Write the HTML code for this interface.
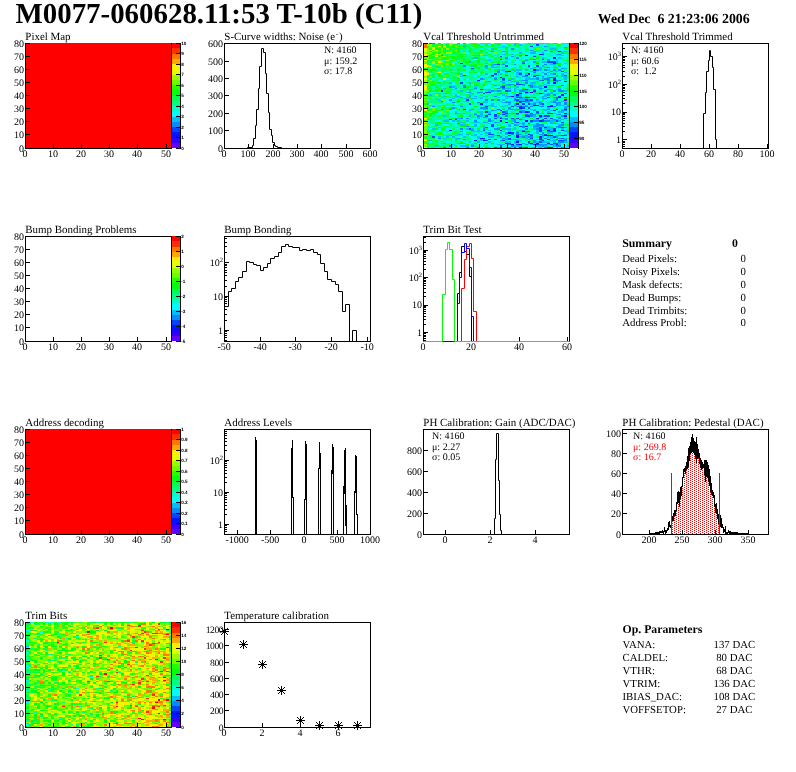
<!DOCTYPE html>
<html><head><meta charset="utf-8"><title>M0077 T-10b</title>
<style>html,body{margin:0;padding:0;background:#fff;width:796px;height:772px;overflow:hidden;}
svg{display:block;font-family:"Liberation Serif",serif;will-change:transform;text-rendering:geometricPrecision;}
</style></head><body>
<svg width="796" height="772" viewBox="0 0 796 772" font-family='"Liberation Serif", serif'>
<rect width="796" height="772" fill="#fff"/>
<text x="15.50" y="22.90" font-size="28.9" text-anchor="start" fill="#000" font-weight="bold">M0077-060628.11:53 T-10b (C11)</text>
<text x="597.80" y="22.80" font-size="13.85" text-anchor="start" fill="#000" font-weight="bold">Wed Dec&#160;&#160;6 21:23:06 2006</text>
<rect x="26" y="43" width="145" height="105" fill="#ff0000"/>
<rect x="172" y="142.75" width="8" height="5.25" fill="#6300ff" shape-rendering="crispEdges"/>
<rect x="172" y="137.50" width="8" height="5.25" fill="#3300ff" shape-rendering="crispEdges"/>
<rect x="172" y="132.25" width="8" height="5.25" fill="#0014ff" shape-rendering="crispEdges"/>
<rect x="172" y="127.00" width="8" height="5.25" fill="#0044ff" shape-rendering="crispEdges"/>
<rect x="172" y="121.75" width="8" height="5.25" fill="#008bff" shape-rendering="crispEdges"/>
<rect x="172" y="116.50" width="8" height="5.25" fill="#00bbff" shape-rendering="crispEdges"/>
<rect x="172" y="111.25" width="8" height="5.25" fill="#00fffc" shape-rendering="crispEdges"/>
<rect x="172" y="106.00" width="8" height="5.25" fill="#00ffcc" shape-rendering="crispEdges"/>
<rect x="172" y="100.75" width="8" height="5.25" fill="#00ff85" shape-rendering="crispEdges"/>
<rect x="172" y="95.50" width="8" height="5.25" fill="#00ff55" shape-rendering="crispEdges"/>
<rect x="172" y="90.25" width="8" height="5.25" fill="#00ff0e" shape-rendering="crispEdges"/>
<rect x="172" y="85.00" width="8" height="5.25" fill="#22ff00" shape-rendering="crispEdges"/>
<rect x="172" y="79.75" width="8" height="5.25" fill="#69ff00" shape-rendering="crispEdges"/>
<rect x="172" y="74.50" width="8" height="5.25" fill="#99ff00" shape-rendering="crispEdges"/>
<rect x="172" y="69.25" width="8" height="5.25" fill="#e0ff00" shape-rendering="crispEdges"/>
<rect x="172" y="64.00" width="8" height="5.25" fill="#ffee00" shape-rendering="crispEdges"/>
<rect x="172" y="58.75" width="8" height="5.25" fill="#ffa700" shape-rendering="crispEdges"/>
<rect x="172" y="53.50" width="8" height="5.25" fill="#ff7700" shape-rendering="crispEdges"/>
<rect x="172" y="48.25" width="8" height="5.25" fill="#ff3000" shape-rendering="crispEdges"/>
<rect x="172" y="43.00" width="8" height="5.25" fill="#ff0000" shape-rendering="crispEdges"/>
<rect x="180" y="43" width="1" height="106" fill="#000"/>
<rect x="176" y="148" width="4" height="1" fill="#000"/>
<text x="181.20" y="150.00" font-size="4.6" text-anchor="start" fill="#000" font-weight="bold" font-family="Liberation Sans, sans-serif">0</text>
<rect x="176" y="137" width="4" height="1" fill="#000"/>
<text x="181.20" y="139.00" font-size="4.6" text-anchor="start" fill="#000" font-weight="bold" font-family="Liberation Sans, sans-serif">1</text>
<rect x="176" y="127" width="4" height="1" fill="#000"/>
<text x="181.20" y="129.00" font-size="4.6" text-anchor="start" fill="#000" font-weight="bold" font-family="Liberation Sans, sans-serif">2</text>
<rect x="176" y="116" width="4" height="1" fill="#000"/>
<text x="181.20" y="118.00" font-size="4.6" text-anchor="start" fill="#000" font-weight="bold" font-family="Liberation Sans, sans-serif">3</text>
<rect x="176" y="106" width="4" height="1" fill="#000"/>
<text x="181.20" y="108.00" font-size="4.6" text-anchor="start" fill="#000" font-weight="bold" font-family="Liberation Sans, sans-serif">4</text>
<rect x="176" y="95" width="4" height="1" fill="#000"/>
<text x="181.20" y="97.00" font-size="4.6" text-anchor="start" fill="#000" font-weight="bold" font-family="Liberation Sans, sans-serif">5</text>
<rect x="176" y="85" width="4" height="1" fill="#000"/>
<text x="181.20" y="87.00" font-size="4.6" text-anchor="start" fill="#000" font-weight="bold" font-family="Liberation Sans, sans-serif">6</text>
<rect x="176" y="74" width="4" height="1" fill="#000"/>
<text x="181.20" y="76.00" font-size="4.6" text-anchor="start" fill="#000" font-weight="bold" font-family="Liberation Sans, sans-serif">7</text>
<rect x="176" y="64" width="4" height="1" fill="#000"/>
<text x="181.20" y="66.00" font-size="4.6" text-anchor="start" fill="#000" font-weight="bold" font-family="Liberation Sans, sans-serif">8</text>
<rect x="176" y="53" width="4" height="1" fill="#000"/>
<text x="181.20" y="55.00" font-size="4.6" text-anchor="start" fill="#000" font-weight="bold" font-family="Liberation Sans, sans-serif">9</text>
<rect x="176" y="43" width="4" height="1" fill="#000"/>
<text x="181.20" y="45.00" font-size="4.6" text-anchor="start" fill="#000" font-weight="bold" font-family="Liberation Sans, sans-serif">10</text>
<rect x="25" y="43" width="1" height="106" fill="#000"/>
<rect x="25" y="148" width="147" height="1" fill="#000"/>
<rect x="171" y="43" width="1" height="106" fill="#000"/>
<rect x="25" y="144" width="1" height="4" fill="#000"/>
<text x="25.10" y="156.80" font-size="10" text-anchor="middle" fill="#000">0</text>
<rect x="53" y="144" width="1" height="4" fill="#000"/>
<text x="53.10" y="156.80" font-size="10" text-anchor="middle" fill="#000">10</text>
<rect x="81" y="144" width="1" height="4" fill="#000"/>
<text x="81.10" y="156.80" font-size="10" text-anchor="middle" fill="#000">20</text>
<rect x="109" y="144" width="1" height="4" fill="#000"/>
<text x="109.10" y="156.80" font-size="10" text-anchor="middle" fill="#000">30</text>
<rect x="137" y="144" width="1" height="4" fill="#000"/>
<text x="137.10" y="156.80" font-size="10" text-anchor="middle" fill="#000">40</text>
<rect x="166" y="144" width="1" height="4" fill="#000"/>
<text x="166.10" y="156.80" font-size="10" text-anchor="middle" fill="#000">50</text>
<rect x="26" y="148" width="4" height="1" fill="#000"/>
<text x="24.00" y="151.80" font-size="10" text-anchor="end" fill="#000">0</text>
<rect x="26" y="134" width="4" height="1" fill="#000"/>
<text x="24.00" y="137.80" font-size="10" text-anchor="end" fill="#000">10</text>
<rect x="26" y="121" width="4" height="1" fill="#000"/>
<text x="24.00" y="124.80" font-size="10" text-anchor="end" fill="#000">20</text>
<rect x="26" y="108" width="4" height="1" fill="#000"/>
<text x="24.00" y="111.80" font-size="10" text-anchor="end" fill="#000">30</text>
<rect x="26" y="95" width="4" height="1" fill="#000"/>
<text x="24.00" y="98.80" font-size="10" text-anchor="end" fill="#000">40</text>
<rect x="26" y="82" width="4" height="1" fill="#000"/>
<text x="24.00" y="85.80" font-size="10" text-anchor="end" fill="#000">50</text>
<rect x="26" y="69" width="4" height="1" fill="#000"/>
<text x="24.00" y="72.80" font-size="10" text-anchor="end" fill="#000">60</text>
<rect x="26" y="56" width="4" height="1" fill="#000"/>
<text x="24.00" y="59.80" font-size="10" text-anchor="end" fill="#000">70</text>
<rect x="26" y="43" width="4" height="1" fill="#000"/>
<text x="24.00" y="46.80" font-size="10" text-anchor="end" fill="#000">80</text>
<text x="25.30" y="39.70" font-size="10.95" text-anchor="start" fill="#000">Pixel Map</text>
<rect x="224" y="43" width="147" height="1" fill="#000"/>
<rect x="224" y="148" width="147" height="1" fill="#000"/>
<rect x="224" y="43" width="1" height="106" fill="#000"/>
<rect x="370" y="43" width="1" height="106" fill="#000"/>
<path d="M224.50,148.50 L247.50,148.50 L247.50,147.50 L252.50,147.50 L252.50,145.50 L253.50,145.50 L253.50,138.50 L255.50,138.50 L255.50,125.50 L256.50,125.50 L256.50,109.50 L258.50,109.50 L258.50,88.50 L259.50,88.50 L259.50,66.50 L261.50,66.50 L261.50,48.50 L263.50,48.50 L263.50,52.50 L265.50,52.50 L265.50,73.50 L266.50,73.50 L266.50,93.50 L268.50,93.50 L268.50,112.50 L269.50,112.50 L269.50,129.50 L271.50,129.50 L271.50,135.50 L272.50,135.50 L272.50,142.50 L274.50,142.50 L274.50,145.50 L275.50,145.50 L275.50,146.50 L277.50,146.50 L277.50,147.50 L281.50,147.50 L281.50,148.50 L370.50,148.50" fill="none" stroke="#000" stroke-width="1"/>
<rect x="224" y="144" width="1" height="4" fill="#000"/>
<text x="224.10" y="156.80" font-size="10" text-anchor="middle" fill="#000">0</text>
<rect x="248" y="144" width="1" height="4" fill="#000"/>
<text x="248.10" y="156.80" font-size="10" text-anchor="middle" fill="#000">100</text>
<rect x="273" y="144" width="1" height="4" fill="#000"/>
<text x="273.10" y="156.80" font-size="10" text-anchor="middle" fill="#000">200</text>
<rect x="297" y="144" width="1" height="4" fill="#000"/>
<text x="297.10" y="156.80" font-size="10" text-anchor="middle" fill="#000">300</text>
<rect x="321" y="144" width="1" height="4" fill="#000"/>
<text x="321.10" y="156.80" font-size="10" text-anchor="middle" fill="#000">400</text>
<rect x="346" y="144" width="1" height="4" fill="#000"/>
<text x="346.10" y="156.80" font-size="10" text-anchor="middle" fill="#000">500</text>
<rect x="370" y="144" width="1" height="4" fill="#000"/>
<text x="370.10" y="156.80" font-size="10" text-anchor="middle" fill="#000">600</text>
<rect x="225" y="148" width="4" height="1" fill="#000"/>
<text x="223.00" y="151.80" font-size="10" text-anchor="end" fill="#000">0</text>
<rect x="225" y="130" width="4" height="1" fill="#000"/>
<text x="223.00" y="133.80" font-size="10" text-anchor="end" fill="#000">100</text>
<rect x="225" y="113" width="4" height="1" fill="#000"/>
<text x="223.00" y="116.80" font-size="10" text-anchor="end" fill="#000">200</text>
<rect x="225" y="95" width="4" height="1" fill="#000"/>
<text x="223.00" y="98.80" font-size="10" text-anchor="end" fill="#000">300</text>
<rect x="225" y="78" width="4" height="1" fill="#000"/>
<text x="223.00" y="81.80" font-size="10" text-anchor="end" fill="#000">400</text>
<rect x="225" y="61" width="4" height="1" fill="#000"/>
<text x="223.00" y="64.80" font-size="10" text-anchor="end" fill="#000">500</text>
<rect x="225" y="43" width="4" height="1" fill="#000"/>
<text x="223.00" y="46.80" font-size="10" text-anchor="end" fill="#000">600</text>
<text x="224.30" y="39.70" font-size="10.95" text-anchor="start" fill="#000">S-Curve widths: Noise (e<tspan dy="-4.2" dx="0.6" font-size="7">-</tspan><tspan dy="4.2" dx="0.8">)</tspan></text>
<text x="324.10" y="53.00" font-size="10" text-anchor="start" fill="#000">N: 4160</text>
<text x="324.10" y="64.00" font-size="10" text-anchor="start" fill="#000">&#956;: 159.2</text>
<text x="324.10" y="74.00" font-size="10" text-anchor="start" fill="#000">&#963;: 17.8</text>
<path fill="#ffee00" shape-rendering="crispEdges" d="M423.6 146.69H426.5V148.00H423.6zM423.6 117.81H426.5V119.12H423.6zM423.6 109.94H426.5V111.25H423.6zM423.6 108.62H426.5V109.94H423.6zM423.6 87.62H426.5V88.94H423.6zM423.6 86.31H426.5V87.62H423.6zM443.3 78.44H446.1V79.75H443.3zM423.6 73.19H429.3V74.50H423.6zM423.6 71.88H426.5V73.19H423.6zM423.6 64.00H426.5V65.31H423.6zM437.7 61.38H440.5V62.69H437.7zM423.6 60.06H426.5V61.38H423.6zM423.6 53.50H426.5V54.81H423.6zM423.6 50.88H426.5V52.19H423.6zM432.1 50.88H434.9V52.19H432.1zM423.6 48.25H426.5V49.56H423.6zM443.3 45.62H446.1V46.94H443.3zM434.9 43.00H437.7V44.31H434.9zM451.7 43.00H454.5V44.31H451.7zM465.8 43.00H468.6V44.31H465.8z"/>
<path fill="#00ff85" shape-rendering="crispEdges" d="M426.5 146.69H432.1V148.00H426.5zM437.7 146.69H443.3V148.00H437.7zM448.9 146.69H451.7V148.00H448.9zM457.3 146.69H460.1V148.00H457.3zM502.3 146.69H505.1V148.00H502.3zM510.7 146.69H513.5V148.00H510.7zM527.5 146.69H530.3V148.00H527.5zM566.8 146.69H569.6V148.00H566.8zM429.3 145.38H434.9V146.69H429.3zM440.5 145.38H443.3V146.69H440.5zM521.9 145.38H527.5V146.69H521.9zM426.5 144.06H429.3V145.38H426.5zM443.3 144.06H446.1V145.38H443.3zM448.9 144.06H451.7V145.38H448.9zM482.6 144.06H485.4V145.38H482.6zM491.0 144.06H493.8V145.38H491.0zM446.1 142.75H448.9V144.06H446.1zM454.5 142.75H457.3V144.06H454.5zM471.4 142.75H474.2V144.06H471.4zM479.8 142.75H482.6V144.06H479.8zM499.5 142.75H502.3V144.06H499.5zM516.3 142.75H519.1V144.06H516.3zM426.5 141.44H429.3V142.75H426.5zM432.1 141.44H434.9V142.75H432.1zM454.5 141.44H457.3V142.75H454.5zM474.2 141.44H477.0V142.75H474.2zM491.0 141.44H493.8V142.75H491.0zM499.5 141.44H505.1V142.75H499.5zM519.1 141.44H521.9V142.75H519.1zM530.3 141.44H533.1V142.75H530.3zM437.7 140.12H440.5V141.44H437.7zM443.3 140.12H446.1V141.44H443.3zM448.9 140.12H451.7V141.44H448.9zM457.3 140.12H460.1V141.44H457.3zM463.0 140.12H468.6V141.44H463.0zM477.0 140.12H479.8V141.44H477.0zM513.5 140.12H516.3V141.44H513.5zM555.6 140.12H558.4V141.44H555.6zM443.3 138.81H446.1V140.12H443.3zM448.9 138.81H451.7V140.12H448.9zM457.3 138.81H460.1V140.12H457.3zM468.6 138.81H471.4V140.12H468.6zM566.8 138.81H569.6V140.12H566.8zM446.1 137.50H448.9V138.81H446.1zM465.8 137.50H471.4V138.81H465.8zM519.1 137.50H524.7V138.81H519.1zM541.6 137.50H544.4V138.81H541.6zM555.6 137.50H558.4V138.81H555.6zM426.5 136.19H429.3V137.50H426.5zM440.5 136.19H443.3V137.50H440.5zM465.8 136.19H468.6V137.50H465.8zM513.5 136.19H516.3V137.50H513.5zM426.5 134.88H429.3V136.19H426.5zM432.1 134.88H434.9V136.19H432.1zM437.7 134.88H440.5V136.19H437.7zM451.7 134.88H454.5V136.19H451.7zM460.1 134.88H463.0V136.19H460.1zM465.8 134.88H468.6V136.19H465.8zM491.0 134.88H493.8V136.19H491.0zM502.3 134.88H505.1V136.19H502.3zM513.5 134.88H516.3V136.19H513.5zM536.0 134.88H538.8V136.19H536.0zM552.8 134.88H555.6V136.19H552.8zM446.1 133.56H457.3V134.88H446.1zM485.4 133.56H488.2V134.88H485.4zM440.5 132.25H443.3V133.56H440.5zM471.4 132.25H474.2V133.56H471.4zM477.0 132.25H479.8V133.56H477.0zM482.6 132.25H485.4V133.56H482.6zM519.1 132.25H524.7V133.56H519.1zM533.1 132.25H536.0V133.56H533.1zM451.7 130.94H454.5V132.25H451.7zM471.4 130.94H474.2V132.25H471.4zM499.5 130.94H502.3V132.25H499.5zM530.3 130.94H533.1V132.25H530.3zM443.3 129.62H446.1V130.94H443.3zM454.5 129.62H457.3V130.94H454.5zM468.6 129.62H471.4V130.94H468.6zM496.6 129.62H499.5V130.94H496.6zM502.3 129.62H505.1V130.94H502.3zM510.7 129.62H513.5V130.94H510.7zM516.3 129.62H519.1V130.94H516.3zM524.7 129.62H527.5V130.94H524.7zM544.4 129.62H547.2V130.94H544.4zM463.0 128.31H465.8V129.62H463.0zM530.3 128.31H533.1V129.62H530.3zM432.1 127.00H434.9V128.31H432.1zM440.5 127.00H443.3V128.31H440.5zM448.9 127.00H451.7V128.31H448.9zM457.3 127.00H460.1V128.31H457.3zM468.6 127.00H471.4V128.31H468.6zM477.0 127.00H479.8V128.31H477.0zM566.8 127.00H569.6V128.31H566.8zM426.5 125.69H429.3V127.00H426.5zM432.1 125.69H434.9V127.00H432.1zM440.5 125.69H443.3V127.00H440.5zM451.7 125.69H454.5V127.00H451.7zM468.6 125.69H471.4V127.00H468.6zM499.5 125.69H502.3V127.00H499.5zM516.3 125.69H519.1V127.00H516.3zM550.0 125.69H552.8V127.00H550.0zM561.2 125.69H564.0V127.00H561.2zM566.8 125.69H569.6V127.00H566.8zM479.8 124.38H485.4V125.69H479.8zM499.5 124.38H502.3V125.69H499.5zM530.3 124.38H533.1V125.69H530.3zM429.3 123.06H434.9V124.38H429.3zM451.7 123.06H454.5V124.38H451.7zM471.4 123.06H474.2V124.38H471.4zM485.4 123.06H488.2V124.38H485.4zM499.5 123.06H505.1V124.38H499.5zM564.0 123.06H566.8V124.38H564.0zM429.3 121.75H434.9V123.06H429.3zM443.3 121.75H446.1V123.06H443.3zM468.6 121.75H471.4V123.06H468.6zM502.3 121.75H505.1V123.06H502.3zM507.9 121.75H510.7V123.06H507.9zM429.3 120.44H434.9V121.75H429.3zM440.5 120.44H443.3V121.75H440.5zM454.5 120.44H457.3V121.75H454.5zM460.1 120.44H463.0V121.75H460.1zM482.6 120.44H488.2V121.75H482.6zM496.6 120.44H499.5V121.75H496.6zM502.3 120.44H505.1V121.75H502.3zM519.1 120.44H521.9V121.75H519.1zM566.8 120.44H569.6V121.75H566.8zM434.9 119.12H440.5V120.44H434.9zM457.3 119.12H460.1V120.44H457.3zM474.2 119.12H477.0V120.44H474.2zM502.3 119.12H505.1V120.44H502.3zM547.2 119.12H552.8V120.44H547.2zM558.4 119.12H561.2V120.44H558.4zM434.9 117.81H446.1V119.12H434.9zM448.9 117.81H451.7V119.12H448.9zM468.6 117.81H471.4V119.12H468.6zM496.6 117.81H499.5V119.12H496.6zM538.8 117.81H541.6V119.12H538.8zM566.8 117.81H569.6V119.12H566.8zM426.5 116.50H429.3V117.81H426.5zM437.7 116.50H440.5V117.81H437.7zM443.3 116.50H451.7V117.81H443.3zM457.3 116.50H460.1V117.81H457.3zM474.2 116.50H477.0V117.81H474.2zM493.8 116.50H496.6V117.81H493.8zM524.7 116.50H527.5V117.81H524.7zM541.6 116.50H544.4V117.81H541.6zM547.2 116.50H550.0V117.81H547.2zM561.2 116.50H564.0V117.81H561.2zM432.1 115.19H437.7V116.50H432.1zM465.8 115.19H468.6V116.50H465.8zM471.4 115.19H477.0V116.50H471.4zM482.6 115.19H485.4V116.50H482.6zM502.3 115.19H505.1V116.50H502.3zM507.9 115.19H510.7V116.50H507.9zM513.5 115.19H519.1V116.50H513.5zM550.0 115.19H552.8V116.50H550.0zM555.6 115.19H561.2V116.50H555.6zM440.5 113.88H446.1V115.19H440.5zM454.5 113.88H460.1V115.19H454.5zM485.4 113.88H488.2V115.19H485.4zM507.9 113.88H510.7V115.19H507.9zM513.5 113.88H516.3V115.19H513.5zM536.0 113.88H538.8V115.19H536.0zM550.0 113.88H552.8V115.19H550.0zM448.9 112.56H451.7V113.88H448.9zM465.8 112.56H471.4V113.88H465.8zM443.3 111.25H446.1V112.56H443.3zM468.6 111.25H471.4V112.56H468.6zM513.5 111.25H516.3V112.56H513.5zM457.3 109.94H463.0V111.25H457.3zM474.2 109.94H477.0V111.25H474.2zM426.5 108.62H429.3V109.94H426.5zM434.9 108.62H437.7V109.94H434.9zM443.3 108.62H446.1V109.94H443.3zM499.5 108.62H502.3V109.94H499.5zM524.7 108.62H527.5V109.94H524.7zM538.8 108.62H541.6V109.94H538.8zM566.8 108.62H569.6V109.94H566.8zM434.9 107.31H437.7V108.62H434.9zM460.1 107.31H463.0V108.62H460.1zM471.4 107.31H474.2V108.62H471.4zM502.3 107.31H505.1V108.62H502.3zM510.7 107.31H513.5V108.62H510.7zM555.6 107.31H558.4V108.62H555.6zM566.8 107.31H569.6V108.62H566.8zM463.0 106.00H465.8V107.31H463.0zM482.6 106.00H485.4V107.31H482.6zM488.2 106.00H491.0V107.31H488.2zM505.1 106.00H507.9V107.31H505.1zM513.5 106.00H516.3V107.31H513.5zM533.1 106.00H536.0V107.31H533.1zM432.1 104.69H437.7V106.00H432.1zM443.3 104.69H448.9V106.00H443.3zM454.5 104.69H457.3V106.00H454.5zM465.8 104.69H468.6V106.00H465.8zM482.6 104.69H485.4V106.00H482.6zM502.3 104.69H505.1V106.00H502.3zM507.9 104.69H513.5V106.00H507.9zM521.9 104.69H524.7V106.00H521.9zM448.9 103.38H454.5V104.69H448.9zM471.4 103.38H474.2V104.69H471.4zM519.1 103.38H521.9V104.69H519.1zM547.2 103.38H550.0V104.69H547.2zM429.3 102.06H434.9V103.38H429.3zM457.3 102.06H460.1V103.38H457.3zM465.8 102.06H468.6V103.38H465.8zM479.8 102.06H482.6V103.38H479.8zM547.2 102.06H550.0V103.38H547.2zM566.8 102.06H569.6V103.38H566.8zM426.5 100.75H429.3V102.06H426.5zM451.7 100.75H457.3V102.06H451.7zM460.1 100.75H463.0V102.06H460.1zM485.4 100.75H488.2V102.06H485.4zM510.7 100.75H516.3V102.06H510.7zM536.0 100.75H538.8V102.06H536.0zM547.2 100.75H550.0V102.06H547.2zM558.4 100.75H561.2V102.06H558.4zM429.3 99.44H434.9V100.75H429.3zM454.5 99.44H457.3V100.75H454.5zM460.1 99.44H463.0V100.75H460.1zM468.6 99.44H474.2V100.75H468.6zM566.8 99.44H569.6V100.75H566.8zM426.5 98.12H429.3V99.44H426.5zM457.3 98.12H463.0V99.44H457.3zM485.4 98.12H491.0V99.44H485.4zM527.5 98.12H530.3V99.44H527.5zM533.1 98.12H538.8V99.44H533.1zM552.8 98.12H555.6V99.44H552.8zM566.8 98.12H569.6V99.44H566.8zM443.3 96.81H448.9V98.12H443.3zM505.1 96.81H510.7V98.12H505.1zM561.2 96.81H564.0V98.12H561.2zM440.5 95.50H443.3V96.81H440.5zM491.0 95.50H493.8V96.81H491.0zM530.3 95.50H533.1V96.81H530.3zM432.1 94.19H434.9V95.50H432.1zM443.3 94.19H446.1V95.50H443.3zM448.9 94.19H451.7V95.50H448.9zM460.1 94.19H465.8V95.50H460.1zM488.2 94.19H496.6V95.50H488.2zM533.1 94.19H538.8V95.50H533.1zM550.0 94.19H552.8V95.50H550.0zM426.5 92.88H429.3V94.19H426.5zM454.5 92.88H457.3V94.19H454.5zM460.1 92.88H463.0V94.19H460.1zM493.8 92.88H496.6V94.19H493.8zM502.3 92.88H505.1V94.19H502.3zM513.5 92.88H516.3V94.19H513.5zM527.5 92.88H530.3V94.19H527.5zM533.1 92.88H536.0V94.19H533.1zM552.8 92.88H555.6V94.19H552.8zM558.4 92.88H561.2V94.19H558.4zM448.9 91.56H451.7V92.88H448.9zM460.1 91.56H463.0V92.88H460.1zM499.5 91.56H502.3V92.88H499.5zM505.1 91.56H507.9V92.88H505.1zM516.3 91.56H519.1V92.88H516.3zM536.0 91.56H538.8V92.88H536.0zM558.4 91.56H561.2V92.88H558.4zM454.5 90.25H460.1V91.56H454.5zM471.4 90.25H474.2V91.56H471.4zM479.8 90.25H482.6V91.56H479.8zM485.4 90.25H488.2V91.56H485.4zM538.8 90.25H541.6V91.56H538.8zM426.5 88.94H432.1V90.25H426.5zM463.0 88.94H465.8V90.25H463.0zM474.2 88.94H477.0V90.25H474.2zM493.8 88.94H496.6V90.25H493.8zM505.1 88.94H507.9V90.25H505.1zM519.1 88.94H521.9V90.25H519.1zM530.3 88.94H533.1V90.25H530.3zM544.4 88.94H547.2V90.25H544.4zM432.1 87.62H437.7V88.94H432.1zM440.5 87.62H443.3V88.94H440.5zM448.9 87.62H451.7V88.94H448.9zM471.4 87.62H474.2V88.94H471.4zM479.8 87.62H482.6V88.94H479.8zM564.0 87.62H566.8V88.94H564.0zM437.7 86.31H440.5V87.62H437.7zM446.1 86.31H448.9V87.62H446.1zM457.3 86.31H460.1V87.62H457.3zM471.4 86.31H474.2V87.62H471.4zM477.0 86.31H479.8V87.62H477.0zM491.0 86.31H493.8V87.62H491.0zM505.1 86.31H507.9V87.62H505.1zM510.7 86.31H513.5V87.62H510.7zM547.2 86.31H552.8V87.62H547.2zM555.6 86.31H558.4V87.62H555.6zM426.5 85.00H432.1V86.31H426.5zM434.9 85.00H437.7V86.31H434.9zM448.9 85.00H454.5V86.31H448.9zM457.3 85.00H463.0V86.31H457.3zM465.8 85.00H468.6V86.31H465.8zM510.7 85.00H513.5V86.31H510.7zM566.8 85.00H569.6V86.31H566.8zM434.9 83.69H437.7V85.00H434.9zM443.3 83.69H446.1V85.00H443.3zM479.8 83.69H482.6V85.00H479.8zM485.4 83.69H488.2V85.00H485.4zM513.5 83.69H516.3V85.00H513.5zM533.1 83.69H536.0V85.00H533.1zM538.8 83.69H544.4V85.00H538.8zM440.5 82.38H443.3V83.69H440.5zM457.3 82.38H460.1V83.69H457.3zM465.8 82.38H468.6V83.69H465.8zM482.6 82.38H485.4V83.69H482.6zM488.2 82.38H491.0V83.69H488.2zM519.1 82.38H524.7V83.69H519.1zM536.0 82.38H538.8V83.69H536.0zM426.5 81.06H429.3V82.38H426.5zM454.5 81.06H457.3V82.38H454.5zM460.1 81.06H463.0V82.38H460.1zM465.8 81.06H468.6V82.38H465.8zM502.3 81.06H507.9V82.38H502.3zM527.5 81.06H530.3V82.38H527.5zM550.0 81.06H552.8V82.38H550.0zM566.8 81.06H569.6V82.38H566.8zM432.1 79.75H434.9V81.06H432.1zM446.1 79.75H451.7V81.06H446.1zM463.0 79.75H465.8V81.06H463.0zM468.6 79.75H474.2V81.06H468.6zM516.3 79.75H519.1V81.06H516.3zM544.4 79.75H547.2V81.06H544.4zM434.9 78.44H440.5V79.75H434.9zM448.9 78.44H451.7V79.75H448.9zM454.5 78.44H457.3V79.75H454.5zM471.4 78.44H477.0V79.75H471.4zM485.4 78.44H488.2V79.75H485.4zM491.0 78.44H493.8V79.75H491.0zM496.6 78.44H502.3V79.75H496.6zM513.5 78.44H516.3V79.75H513.5zM519.1 78.44H521.9V79.75H519.1zM538.8 78.44H541.6V79.75H538.8zM561.2 78.44H564.0V79.75H561.2zM434.9 77.12H437.7V78.44H434.9zM440.5 77.12H443.3V78.44H440.5zM474.2 77.12H477.0V78.44H474.2zM479.8 77.12H482.6V78.44H479.8zM485.4 77.12H488.2V78.44H485.4zM502.3 77.12H507.9V78.44H502.3zM443.3 75.81H446.1V77.12H443.3zM454.5 75.81H457.3V77.12H454.5zM463.0 75.81H468.6V77.12H463.0zM482.6 75.81H485.4V77.12H482.6zM488.2 75.81H491.0V77.12H488.2zM507.9 75.81H510.7V77.12H507.9zM527.5 75.81H530.3V77.12H527.5zM552.8 75.81H555.6V77.12H552.8zM558.4 75.81H561.2V77.12H558.4zM460.1 74.50H463.0V75.81H460.1zM465.8 74.50H468.6V75.81H465.8zM471.4 74.50H477.0V75.81H471.4zM482.6 74.50H485.4V75.81H482.6zM488.2 74.50H491.0V75.81H488.2zM507.9 74.50H510.7V75.81H507.9zM516.3 74.50H519.1V75.81H516.3zM521.9 74.50H524.7V75.81H521.9zM566.8 74.50H569.6V75.81H566.8zM434.9 73.19H437.7V74.50H434.9zM451.7 73.19H454.5V74.50H451.7zM468.6 73.19H471.4V74.50H468.6zM479.8 73.19H482.6V74.50H479.8zM496.6 73.19H499.5V74.50H496.6zM502.3 73.19H505.1V74.50H502.3zM538.8 73.19H541.6V74.50H538.8zM555.6 73.19H558.4V74.50H555.6zM566.8 73.19H569.6V74.50H566.8zM432.1 71.88H434.9V73.19H432.1zM440.5 71.88H443.3V73.19H440.5zM454.5 71.88H457.3V73.19H454.5zM482.6 71.88H491.0V73.19H482.6zM552.8 71.88H555.6V73.19H552.8zM457.3 70.56H460.1V71.88H457.3zM468.6 70.56H471.4V71.88H468.6zM474.2 70.56H479.8V71.88H474.2zM485.4 70.56H488.2V71.88H485.4zM491.0 70.56H493.8V71.88H491.0zM516.3 70.56H519.1V71.88H516.3zM536.0 70.56H538.8V71.88H536.0zM552.8 70.56H555.6V71.88H552.8zM426.5 69.25H429.3V70.56H426.5zM437.7 69.25H440.5V70.56H437.7zM446.1 69.25H448.9V70.56H446.1zM460.1 69.25H463.0V70.56H460.1zM468.6 69.25H471.4V70.56H468.6zM474.2 69.25H482.6V70.56H474.2zM488.2 69.25H491.0V70.56H488.2zM499.5 69.25H502.3V70.56H499.5zM505.1 69.25H507.9V70.56H505.1zM527.5 69.25H530.3V70.56H527.5zM561.2 69.25H564.0V70.56H561.2zM426.5 67.94H429.3V69.25H426.5zM440.5 67.94H443.3V69.25H440.5zM448.9 67.94H451.7V69.25H448.9zM463.0 67.94H465.8V69.25H463.0zM468.6 67.94H471.4V69.25H468.6zM474.2 67.94H477.0V69.25H474.2zM479.8 67.94H482.6V69.25H479.8zM519.1 67.94H527.5V69.25H519.1zM541.6 67.94H544.4V69.25H541.6zM440.5 66.62H446.1V67.94H440.5zM454.5 66.62H460.1V67.94H454.5zM463.0 66.62H465.8V67.94H463.0zM446.1 65.31H448.9V66.62H446.1zM451.7 65.31H457.3V66.62H451.7zM460.1 65.31H463.0V66.62H460.1zM479.8 65.31H485.4V66.62H479.8zM544.4 65.31H547.2V66.62H544.4zM454.5 64.00H457.3V65.31H454.5zM460.1 64.00H465.8V65.31H460.1zM482.6 64.00H485.4V65.31H482.6zM533.1 64.00H538.8V65.31H533.1zM555.6 64.00H558.4V65.31H555.6zM566.8 64.00H569.6V65.31H566.8zM443.3 62.69H446.1V64.00H443.3zM457.3 62.69H460.1V64.00H457.3zM479.8 62.69H485.4V64.00H479.8zM491.0 62.69H493.8V64.00H491.0zM505.1 62.69H507.9V64.00H505.1zM527.5 62.69H530.3V64.00H527.5zM533.1 62.69H536.0V64.00H533.1zM479.8 61.38H488.2V62.69H479.8zM499.5 61.38H502.3V62.69H499.5zM474.2 60.06H477.0V61.38H474.2zM482.6 60.06H485.4V61.38H482.6zM493.8 60.06H496.6V61.38H493.8zM505.1 60.06H507.9V61.38H505.1zM510.7 60.06H516.3V61.38H510.7zM519.1 60.06H521.9V61.38H519.1zM527.5 60.06H530.3V61.38H527.5zM566.8 60.06H569.6V61.38H566.8zM460.1 58.75H463.0V60.06H460.1zM465.8 58.75H468.6V60.06H465.8zM485.4 58.75H488.2V60.06H485.4zM491.0 58.75H493.8V60.06H491.0zM502.3 58.75H505.1V60.06H502.3zM513.5 58.75H516.3V60.06H513.5zM519.1 58.75H521.9V60.06H519.1zM536.0 58.75H538.8V60.06H536.0zM561.2 58.75H564.0V60.06H561.2zM448.9 57.44H451.7V58.75H448.9zM465.8 57.44H471.4V58.75H465.8zM482.6 57.44H485.4V58.75H482.6zM502.3 57.44H505.1V58.75H502.3zM513.5 57.44H516.3V58.75H513.5zM544.4 57.44H547.2V58.75H544.4zM561.2 57.44H564.0V58.75H561.2zM566.8 57.44H569.6V58.75H566.8zM465.8 56.12H471.4V57.44H465.8zM488.2 56.12H491.0V57.44H488.2zM496.6 56.12H499.5V57.44H496.6zM505.1 56.12H507.9V57.44H505.1zM513.5 56.12H516.3V57.44H513.5zM538.8 56.12H541.6V57.44H538.8zM566.8 56.12H569.6V57.44H566.8zM443.3 54.81H446.1V56.12H443.3zM460.1 54.81H463.0V56.12H460.1zM491.0 54.81H493.8V56.12H491.0zM496.6 54.81H499.5V56.12H496.6zM507.9 54.81H510.7V56.12H507.9zM516.3 54.81H519.1V56.12H516.3zM541.6 54.81H544.4V56.12H541.6zM558.4 54.81H561.2V56.12H558.4zM566.8 54.81H569.6V56.12H566.8zM443.3 53.50H446.1V54.81H443.3zM451.7 53.50H457.3V54.81H451.7zM477.0 53.50H479.8V54.81H477.0zM519.1 53.50H521.9V54.81H519.1zM547.2 53.50H550.0V54.81H547.2zM566.8 53.50H569.6V54.81H566.8zM454.5 52.19H457.3V53.50H454.5zM460.1 52.19H463.0V53.50H460.1zM468.6 52.19H471.4V53.50H468.6zM499.5 52.19H502.3V53.50H499.5zM550.0 52.19H555.6V53.50H550.0zM558.4 52.19H561.2V53.50H558.4zM437.7 50.88H440.5V52.19H437.7zM460.1 50.88H463.0V52.19H460.1zM471.4 50.88H477.0V52.19H471.4zM485.4 50.88H488.2V52.19H485.4zM510.7 50.88H513.5V52.19H510.7zM538.8 50.88H544.4V52.19H538.8zM463.0 49.56H465.8V50.88H463.0zM477.0 49.56H479.8V50.88H477.0zM496.6 49.56H499.5V50.88H496.6zM510.7 49.56H519.1V50.88H510.7zM524.7 49.56H530.3V50.88H524.7zM533.1 49.56H536.0V50.88H533.1zM538.8 49.56H541.6V50.88H538.8zM547.2 49.56H552.8V50.88H547.2zM465.8 48.25H468.6V49.56H465.8zM471.4 48.25H479.8V49.56H471.4zM482.6 48.25H488.2V49.56H482.6zM513.5 48.25H516.3V49.56H513.5zM519.1 48.25H521.9V49.56H519.1zM527.5 48.25H530.3V49.56H527.5zM547.2 48.25H550.0V49.56H547.2zM434.9 46.94H440.5V48.25H434.9zM468.6 46.94H471.4V48.25H468.6zM479.8 46.94H482.6V48.25H479.8zM507.9 46.94H510.7V48.25H507.9zM519.1 46.94H521.9V48.25H519.1zM544.4 46.94H547.2V48.25H544.4zM477.0 45.62H479.8V46.94H477.0zM482.6 45.62H488.2V46.94H482.6zM493.8 45.62H499.5V46.94H493.8zM505.1 45.62H507.9V46.94H505.1zM510.7 45.62H513.5V46.94H510.7zM521.9 45.62H527.5V46.94H521.9zM538.8 45.62H541.6V46.94H538.8zM555.6 45.62H561.2V46.94H555.6zM566.8 45.62H569.6V46.94H566.8zM465.8 44.31H471.4V45.62H465.8zM493.8 44.31H496.6V45.62H493.8zM524.7 44.31H533.1V45.62H524.7zM547.2 44.31H552.8V45.62H547.2zM479.8 43.00H482.6V44.31H479.8zM485.4 43.00H488.2V44.31H485.4zM536.0 43.00H538.8V44.31H536.0zM555.6 43.00H558.4V44.31H555.6zM561.2 43.00H564.0V44.31H561.2z"/>
<path fill="#00ff55" shape-rendering="crispEdges" d="M432.1 146.69H434.9V148.00H432.1zM446.1 146.69H448.9V148.00H446.1zM479.8 146.69H482.6V148.00H479.8zM530.3 146.69H533.1V148.00H530.3zM555.6 146.69H558.4V148.00H555.6zM564.0 146.69H566.8V148.00H564.0zM426.5 145.38H429.3V146.69H426.5zM437.7 145.38H440.5V146.69H437.7zM474.2 145.38H477.0V146.69H474.2zM482.6 145.38H488.2V146.69H482.6zM547.2 145.38H550.0V146.69H547.2zM432.1 144.06H434.9V145.38H432.1zM446.1 144.06H448.9V145.38H446.1zM423.6 142.75H426.5V144.06H423.6zM437.7 142.75H440.5V144.06H437.7zM448.9 142.75H451.7V144.06H448.9zM533.1 142.75H536.0V144.06H533.1zM566.8 142.75H569.6V144.06H566.8zM434.9 141.44H437.7V142.75H434.9zM440.5 141.44H443.3V142.75H440.5zM566.8 141.44H569.6V142.75H566.8zM432.1 140.12H434.9V141.44H432.1zM524.7 140.12H527.5V141.44H524.7zM530.3 140.12H533.1V141.44H530.3zM426.5 138.81H429.3V140.12H426.5zM446.1 138.81H448.9V140.12H446.1zM465.8 138.81H468.6V140.12H465.8zM502.3 138.81H505.1V140.12H502.3zM524.7 138.81H527.5V140.12H524.7zM533.1 138.81H536.0V140.12H533.1zM429.3 137.50H434.9V138.81H429.3zM440.5 137.50H443.3V138.81H440.5zM460.1 137.50H463.0V138.81H460.1zM566.8 137.50H569.6V138.81H566.8zM429.3 136.19H432.1V137.50H429.3zM536.0 136.19H538.8V137.50H536.0zM429.3 134.88H432.1V136.19H429.3zM443.3 134.88H446.1V136.19H443.3zM457.3 134.88H460.1V136.19H457.3zM434.9 133.56H437.7V134.88H434.9zM468.6 133.56H471.4V134.88H468.6zM566.8 133.56H569.6V134.88H566.8zM434.9 132.25H437.7V133.56H434.9zM454.5 132.25H460.1V133.56H454.5zM465.8 132.25H468.6V133.56H465.8zM496.6 132.25H499.5V133.56H496.6zM527.5 132.25H530.3V133.56H527.5zM432.1 130.94H434.9V132.25H432.1zM465.8 130.94H468.6V132.25H465.8zM507.9 130.94H510.7V132.25H507.9zM519.1 130.94H521.9V132.25H519.1zM429.3 129.62H434.9V130.94H429.3zM457.3 129.62H460.1V130.94H457.3zM527.5 129.62H530.3V130.94H527.5zM443.3 128.31H446.1V129.62H443.3zM451.7 128.31H454.5V129.62H451.7zM499.5 128.31H502.3V129.62H499.5zM510.7 128.31H513.5V129.62H510.7zM566.8 128.31H569.6V129.62H566.8zM454.5 127.00H457.3V128.31H454.5zM446.1 125.69H448.9V127.00H446.1zM479.8 125.69H482.6V127.00H479.8zM437.7 124.38H440.5V125.69H437.7zM448.9 124.38H451.7V125.69H448.9zM457.3 124.38H460.1V125.69H457.3zM496.6 124.38H499.5V125.69H496.6zM527.5 124.38H530.3V125.69H527.5zM564.0 124.38H566.8V125.69H564.0zM448.9 123.06H451.7V124.38H448.9zM479.8 123.06H482.6V124.38H479.8zM446.1 121.75H448.9V123.06H446.1zM457.3 121.75H460.1V123.06H457.3zM463.0 121.75H465.8V123.06H463.0zM471.4 121.75H474.2V123.06H471.4zM541.6 121.75H547.2V123.06H541.6zM463.0 120.44H465.8V121.75H463.0zM507.9 120.44H510.7V121.75H507.9zM468.6 119.12H471.4V120.44H468.6zM429.3 117.81H432.1V119.12H429.3zM513.5 117.81H516.3V119.12H513.5zM519.1 117.81H521.9V119.12H519.1zM432.1 116.50H434.9V117.81H432.1zM460.1 116.50H463.0V117.81H460.1zM471.4 116.50H474.2V117.81H471.4zM533.1 116.50H536.0V117.81H533.1zM437.7 115.19H443.3V116.50H437.7zM446.1 115.19H448.9V116.50H446.1zM457.3 115.19H460.1V116.50H457.3zM432.1 113.88H434.9V115.19H432.1zM446.1 113.88H448.9V115.19H446.1zM460.1 113.88H463.0V115.19H460.1zM471.4 113.88H474.2V115.19H471.4zM496.6 113.88H499.5V115.19H496.6zM510.7 113.88H513.5V115.19H510.7zM521.9 113.88H524.7V115.19H521.9zM426.5 112.56H429.3V113.88H426.5zM460.1 112.56H463.0V113.88H460.1zM446.1 111.25H448.9V112.56H446.1zM465.8 111.25H468.6V112.56H465.8zM482.6 111.25H485.4V112.56H482.6zM510.7 111.25H513.5V112.56H510.7zM541.6 111.25H544.4V112.56H541.6zM440.5 109.94H443.3V111.25H440.5zM463.0 109.94H465.8V111.25H463.0zM485.4 109.94H488.2V111.25H485.4zM516.3 109.94H519.1V111.25H516.3zM541.6 109.94H544.4V111.25H541.6zM446.1 108.62H448.9V109.94H446.1zM468.6 108.62H471.4V109.94H468.6zM477.0 108.62H479.8V109.94H477.0zM443.3 107.31H448.9V108.62H443.3zM463.0 107.31H465.8V108.62H463.0zM437.7 106.00H440.5V107.31H437.7zM499.5 106.00H502.3V107.31H499.5zM437.7 104.69H443.3V106.00H437.7zM460.1 104.69H463.0V106.00H460.1zM485.4 104.69H488.2V106.00H485.4zM446.1 103.38H448.9V104.69H446.1zM460.1 103.38H463.0V104.69H460.1zM477.0 103.38H479.8V104.69H477.0zM426.5 102.06H429.3V103.38H426.5zM434.9 102.06H443.3V103.38H434.9zM454.5 102.06H457.3V103.38H454.5zM516.3 102.06H519.1V103.38H516.3zM429.3 100.75H432.1V102.06H429.3zM437.7 100.75H440.5V102.06H437.7zM564.0 100.75H566.8V102.06H564.0zM434.9 99.44H437.7V100.75H434.9zM493.8 99.44H496.6V100.75H493.8zM443.3 98.12H446.1V99.44H443.3zM493.8 98.12H496.6V99.44H493.8zM448.9 96.81H451.7V98.12H448.9zM454.5 96.81H460.1V98.12H454.5zM477.0 96.81H479.8V98.12H477.0zM510.7 96.81H513.5V98.12H510.7zM538.8 96.81H541.6V98.12H538.8zM426.5 95.50H434.9V96.81H426.5zM437.7 95.50H440.5V96.81H437.7zM451.7 95.50H454.5V96.81H451.7zM465.8 95.50H468.6V96.81H465.8zM550.0 95.50H552.8V96.81H550.0zM555.6 95.50H558.4V96.81H555.6zM566.8 95.50H569.6V96.81H566.8zM437.7 94.19H440.5V95.50H437.7zM465.8 94.19H468.6V95.50H465.8zM471.4 94.19H474.2V95.50H471.4zM479.8 94.19H482.6V95.50H479.8zM496.6 94.19H499.5V95.50H496.6zM432.1 92.88H437.7V94.19H432.1zM440.5 92.88H443.3V94.19H440.5zM448.9 92.88H454.5V94.19H448.9zM477.0 92.88H479.8V94.19H477.0zM485.4 92.88H488.2V94.19H485.4zM502.3 91.56H505.1V92.88H502.3zM513.5 91.56H516.3V92.88H513.5zM541.6 91.56H544.4V92.88H541.6zM561.2 91.56H564.0V92.88H561.2zM432.1 90.25H434.9V91.56H432.1zM446.1 90.25H451.7V91.56H446.1zM463.0 90.25H465.8V91.56H463.0zM527.5 90.25H530.3V91.56H527.5zM437.7 88.94H440.5V90.25H437.7zM507.9 88.94H510.7V90.25H507.9zM426.5 87.62H429.3V88.94H426.5zM437.7 87.62H440.5V88.94H437.7zM460.1 87.62H468.6V88.94H460.1zM493.8 87.62H496.6V88.94H493.8zM499.5 87.62H502.3V88.94H499.5zM426.5 86.31H432.1V87.62H426.5zM454.5 86.31H457.3V87.62H454.5zM468.6 86.31H471.4V87.62H468.6zM479.8 86.31H482.6V87.62H479.8zM507.9 86.31H510.7V87.62H507.9zM513.5 86.31H516.3V87.62H513.5zM527.5 86.31H530.3V87.62H527.5zM566.8 86.31H569.6V87.62H566.8zM446.1 85.00H448.9V86.31H446.1zM496.6 85.00H502.3V86.31H496.6zM440.5 83.69H443.3V85.00H440.5zM448.9 83.69H451.7V85.00H448.9zM457.3 83.69H460.1V85.00H457.3zM463.0 83.69H465.8V85.00H463.0zM468.6 83.69H471.4V85.00H468.6zM477.0 83.69H479.8V85.00H477.0zM496.6 83.69H499.5V85.00H496.6zM502.3 83.69H505.1V85.00H502.3zM426.5 82.38H429.3V83.69H426.5zM443.3 82.38H448.9V83.69H443.3zM474.2 82.38H479.8V83.69H474.2zM485.4 82.38H488.2V83.69H485.4zM555.6 82.38H558.4V83.69H555.6zM429.3 81.06H432.1V82.38H429.3zM451.7 81.06H454.5V82.38H451.7zM474.2 81.06H477.0V82.38H474.2zM519.1 81.06H521.9V82.38H519.1zM533.1 81.06H536.0V82.38H533.1zM434.9 79.75H437.7V81.06H434.9zM451.7 79.75H457.3V81.06H451.7zM493.8 79.75H496.6V81.06H493.8zM513.5 79.75H516.3V81.06H513.5zM550.0 79.75H552.8V81.06H550.0zM429.3 78.44H432.1V79.75H429.3zM440.5 78.44H443.3V79.75H440.5zM451.7 78.44H454.5V79.75H451.7zM463.0 78.44H465.8V79.75H463.0zM468.6 78.44H471.4V79.75H468.6zM443.3 77.12H446.1V78.44H443.3zM448.9 77.12H451.7V78.44H448.9zM471.4 77.12H474.2V78.44H471.4zM477.0 77.12H479.8V78.44H477.0zM496.6 77.12H499.5V78.44H496.6zM516.3 77.12H521.9V78.44H516.3zM524.7 77.12H527.5V78.44H524.7zM432.1 75.81H434.9V77.12H432.1zM440.5 75.81H443.3V77.12H440.5zM451.7 75.81H454.5V77.12H451.7zM468.6 75.81H471.4V77.12H468.6zM502.3 75.81H505.1V77.12H502.3zM513.5 75.81H516.3V77.12H513.5zM426.5 74.50H429.3V75.81H426.5zM440.5 74.50H443.3V75.81H440.5zM496.6 74.50H499.5V75.81H496.6zM519.1 74.50H521.9V75.81H519.1zM432.1 73.19H434.9V74.50H432.1zM443.3 73.19H446.1V74.50H443.3zM505.1 73.19H507.9V74.50H505.1zM533.1 73.19H536.0V74.50H533.1zM429.3 71.88H432.1V73.19H429.3zM448.9 71.88H454.5V73.19H448.9zM471.4 71.88H474.2V73.19H471.4zM510.7 71.88H513.5V73.19H510.7zM524.7 71.88H527.5V73.19H524.7zM443.3 70.56H448.9V71.88H443.3zM479.8 70.56H482.6V71.88H479.8zM493.8 70.56H496.6V71.88H493.8zM566.8 70.56H569.6V71.88H566.8zM434.9 69.25H437.7V70.56H434.9zM443.3 69.25H446.1V70.56H443.3zM451.7 69.25H454.5V70.56H451.7zM482.6 69.25H485.4V70.56H482.6zM507.9 69.25H510.7V70.56H507.9zM564.0 69.25H566.8V70.56H564.0zM432.1 67.94H434.9V69.25H432.1zM443.3 67.94H446.1V69.25H443.3zM454.5 67.94H463.0V69.25H454.5zM505.1 67.94H507.9V69.25H505.1zM533.1 67.94H536.0V69.25H533.1zM566.8 67.94H569.6V69.25H566.8zM446.1 66.62H448.9V67.94H446.1zM451.7 66.62H454.5V67.94H451.7zM460.1 66.62H463.0V67.94H460.1zM482.6 66.62H485.4V67.94H482.6zM496.6 66.62H499.5V67.94H496.6zM564.0 66.62H566.8V67.94H564.0zM432.1 65.31H440.5V66.62H432.1zM443.3 65.31H446.1V66.62H443.3zM457.3 65.31H460.1V66.62H457.3zM468.6 65.31H471.4V66.62H468.6zM496.6 65.31H499.5V66.62H496.6zM519.1 65.31H521.9V66.62H519.1zM552.8 65.31H555.6V66.62H552.8zM429.3 64.00H432.1V65.31H429.3zM465.8 64.00H468.6V65.31H465.8zM471.4 64.00H474.2V65.31H471.4zM499.5 64.00H502.3V65.31H499.5zM510.7 64.00H513.5V65.31H510.7zM521.9 64.00H524.7V65.31H521.9zM437.7 62.69H440.5V64.00H437.7zM465.8 62.69H468.6V64.00H465.8zM477.0 62.69H479.8V64.00H477.0zM507.9 62.69H510.7V64.00H507.9zM426.5 61.38H432.1V62.69H426.5zM434.9 61.38H437.7V62.69H434.9zM443.3 61.38H446.1V62.69H443.3zM471.4 61.38H477.0V62.69H471.4zM493.8 61.38H496.6V62.69H493.8zM502.3 61.38H505.1V62.69H502.3zM510.7 61.38H513.5V62.69H510.7zM426.5 60.06H432.1V61.38H426.5zM448.9 60.06H451.7V61.38H448.9zM454.5 60.06H457.3V61.38H454.5zM463.0 60.06H465.8V61.38H463.0zM468.6 60.06H471.4V61.38H468.6zM496.6 60.06H499.5V61.38H496.6zM521.9 60.06H524.7V61.38H521.9zM538.8 60.06H541.6V61.38H538.8zM564.0 60.06H566.8V61.38H564.0zM437.7 58.75H440.5V60.06H437.7zM468.6 58.75H471.4V60.06H468.6zM477.0 58.75H479.8V60.06H477.0zM488.2 58.75H491.0V60.06H488.2zM505.1 58.75H510.7V60.06H505.1zM527.5 58.75H530.3V60.06H527.5zM544.4 58.75H547.2V60.06H544.4zM432.1 57.44H434.9V58.75H432.1zM457.3 57.44H465.8V58.75H457.3zM479.8 57.44H482.6V58.75H479.8zM493.8 57.44H499.5V58.75H493.8zM463.0 56.12H465.8V57.44H463.0zM474.2 56.12H477.0V57.44H474.2zM536.0 56.12H538.8V57.44H536.0zM426.5 54.81H429.3V56.12H426.5zM454.5 54.81H460.1V56.12H454.5zM465.8 54.81H468.6V56.12H465.8zM493.8 54.81H496.6V56.12H493.8zM505.1 54.81H507.9V56.12H505.1zM550.0 54.81H552.8V56.12H550.0zM555.6 54.81H558.4V56.12H555.6zM446.1 53.50H451.7V54.81H446.1zM468.6 53.50H471.4V54.81H468.6zM474.2 53.50H477.0V54.81H474.2zM482.6 53.50H485.4V54.81H482.6zM496.6 53.50H499.5V54.81H496.6zM505.1 53.50H510.7V54.81H505.1zM516.3 53.50H519.1V54.81H516.3zM521.9 53.50H524.7V54.81H521.9zM474.2 52.19H477.0V53.50H474.2zM479.8 52.19H482.6V53.50H479.8zM564.0 52.19H569.6V53.50H564.0zM440.5 50.88H443.3V52.19H440.5zM446.1 50.88H448.9V52.19H446.1zM482.6 50.88H485.4V52.19H482.6zM524.7 50.88H527.5V52.19H524.7zM536.0 50.88H538.8V52.19H536.0zM555.6 50.88H558.4V52.19H555.6zM443.3 49.56H451.7V50.88H443.3zM471.4 49.56H474.2V50.88H471.4zM482.6 49.56H485.4V50.88H482.6zM488.2 49.56H493.8V50.88H488.2zM505.1 49.56H507.9V50.88H505.1zM536.0 49.56H538.8V50.88H536.0zM552.8 49.56H555.6V50.88H552.8zM451.7 48.25H457.3V49.56H451.7zM460.1 48.25H465.8V49.56H460.1zM524.7 48.25H527.5V49.56H524.7zM533.1 48.25H536.0V49.56H533.1zM541.6 48.25H544.4V49.56H541.6zM555.6 48.25H558.4V49.56H555.6zM474.2 46.94H479.8V48.25H474.2zM496.6 46.94H499.5V48.25H496.6zM502.3 46.94H505.1V48.25H502.3zM533.1 46.94H536.0V48.25H533.1zM538.8 46.94H541.6V48.25H538.8zM547.2 46.94H558.4V48.25H547.2zM448.9 45.62H451.7V46.94H448.9zM471.4 45.62H474.2V46.94H471.4zM488.2 45.62H491.0V46.94H488.2zM513.5 45.62H519.1V46.94H513.5zM547.2 45.62H550.0V46.94H547.2zM432.1 44.31H434.9V45.62H432.1zM454.5 44.31H460.1V45.62H454.5zM516.3 44.31H519.1V45.62H516.3zM555.6 44.31H558.4V45.62H555.6zM474.2 43.00H477.0V44.31H474.2zM505.1 43.00H507.9V44.31H505.1zM533.1 43.00H536.0V44.31H533.1zM544.4 43.00H550.0V44.31H544.4z"/>
<path fill="#00ffcc" shape-rendering="crispEdges" d="M434.9 146.69H437.7V148.00H434.9zM454.5 146.69H457.3V148.00H454.5zM468.6 146.69H477.0V148.00H468.6zM516.3 146.69H519.1V148.00H516.3zM536.0 146.69H538.8V148.00H536.0zM446.1 145.38H448.9V146.69H446.1zM451.7 145.38H454.5V146.69H451.7zM491.0 145.38H496.6V146.69H491.0zM502.3 145.38H507.9V146.69H502.3zM527.5 145.38H530.3V146.69H527.5zM533.1 145.38H536.0V146.69H533.1zM550.0 145.38H552.8V146.69H550.0zM437.7 144.06H443.3V145.38H437.7zM454.5 144.06H460.1V145.38H454.5zM474.2 144.06H479.8V145.38H474.2zM485.4 144.06H491.0V145.38H485.4zM561.2 144.06H566.8V145.38H561.2zM465.8 142.75H468.6V144.06H465.8zM482.6 142.75H485.4V144.06H482.6zM488.2 142.75H491.0V144.06H488.2zM493.8 142.75H496.6V144.06H493.8zM510.7 142.75H513.5V144.06H510.7zM524.7 142.75H527.5V144.06H524.7zM538.8 142.75H544.4V144.06H538.8zM550.0 142.75H552.8V144.06H550.0zM561.2 142.75H564.0V144.06H561.2zM437.7 141.44H440.5V142.75H437.7zM443.3 141.44H446.1V142.75H443.3zM448.9 141.44H454.5V142.75H448.9zM457.3 141.44H460.1V142.75H457.3zM482.6 141.44H485.4V142.75H482.6zM496.6 141.44H499.5V142.75H496.6zM524.7 141.44H527.5V142.75H524.7zM555.6 141.44H558.4V142.75H555.6zM440.5 140.12H443.3V141.44H440.5zM446.1 140.12H448.9V141.44H446.1zM451.7 140.12H454.5V141.44H451.7zM491.0 140.12H493.8V141.44H491.0zM496.6 140.12H499.5V141.44H496.6zM505.1 140.12H510.7V141.44H505.1zM521.9 140.12H524.7V141.44H521.9zM547.2 140.12H550.0V141.44H547.2zM429.3 138.81H434.9V140.12H429.3zM437.7 138.81H440.5V140.12H437.7zM460.1 138.81H463.0V140.12H460.1zM477.0 138.81H479.8V140.12H477.0zM485.4 138.81H488.2V140.12H485.4zM491.0 138.81H493.8V140.12H491.0zM521.9 138.81H524.7V140.12H521.9zM561.2 138.81H564.0V140.12H561.2zM426.5 137.50H429.3V138.81H426.5zM434.9 137.50H437.7V138.81H434.9zM451.7 137.50H454.5V138.81H451.7zM463.0 137.50H465.8V138.81H463.0zM491.0 137.50H493.8V138.81H491.0zM499.5 137.50H502.3V138.81H499.5zM510.7 137.50H513.5V138.81H510.7zM516.3 137.50H519.1V138.81H516.3zM527.5 137.50H530.3V138.81H527.5zM547.2 137.50H550.0V138.81H547.2zM552.8 137.50H555.6V138.81H552.8zM434.9 136.19H437.7V137.50H434.9zM448.9 136.19H451.7V137.50H448.9zM454.5 136.19H457.3V137.50H454.5zM471.4 136.19H477.0V137.50H471.4zM479.8 136.19H488.2V137.50H479.8zM493.8 136.19H496.6V137.50H493.8zM502.3 136.19H505.1V137.50H502.3zM507.9 136.19H513.5V137.50H507.9zM533.1 136.19H536.0V137.50H533.1zM558.4 136.19H564.0V137.50H558.4zM434.9 134.88H437.7V136.19H434.9zM488.2 134.88H491.0V136.19H488.2zM499.5 134.88H502.3V136.19H499.5zM519.1 134.88H521.9V136.19H519.1zM566.8 134.88H569.6V136.19H566.8zM429.3 133.56H434.9V134.88H429.3zM443.3 133.56H446.1V134.88H443.3zM463.0 133.56H465.8V134.88H463.0zM471.4 133.56H474.2V134.88H471.4zM493.8 133.56H496.6V134.88H493.8zM502.3 133.56H505.1V134.88H502.3zM507.9 133.56H510.7V134.88H507.9zM521.9 133.56H527.5V134.88H521.9zM536.0 133.56H538.8V134.88H536.0zM552.8 133.56H561.2V134.88H552.8zM429.3 132.25H434.9V133.56H429.3zM446.1 132.25H448.9V133.56H446.1zM460.1 132.25H463.0V133.56H460.1zM491.0 132.25H496.6V133.56H491.0zM513.5 132.25H516.3V133.56H513.5zM538.8 132.25H541.6V133.56H538.8zM544.4 132.25H547.2V133.56H544.4zM552.8 132.25H555.6V133.56H552.8zM561.2 132.25H566.8V133.56H561.2zM429.3 130.94H432.1V132.25H429.3zM440.5 130.94H446.1V132.25H440.5zM448.9 130.94H451.7V132.25H448.9zM468.6 130.94H471.4V132.25H468.6zM482.6 130.94H488.2V132.25H482.6zM491.0 130.94H493.8V132.25H491.0zM513.5 130.94H516.3V132.25H513.5zM426.5 129.62H429.3V130.94H426.5zM434.9 129.62H437.7V130.94H434.9zM451.7 129.62H454.5V130.94H451.7zM479.8 129.62H482.6V130.94H479.8zM485.4 129.62H488.2V130.94H485.4zM493.8 129.62H496.6V130.94H493.8zM505.1 129.62H507.9V130.94H505.1zM530.3 129.62H536.0V130.94H530.3zM558.4 129.62H561.2V130.94H558.4zM426.5 128.31H429.3V129.62H426.5zM437.7 128.31H440.5V129.62H437.7zM454.5 128.31H460.1V129.62H454.5zM474.2 128.31H477.0V129.62H474.2zM516.3 128.31H519.1V129.62H516.3zM527.5 128.31H530.3V129.62H527.5zM555.6 128.31H558.4V129.62H555.6zM426.5 127.00H429.3V128.31H426.5zM434.9 127.00H437.7V128.31H434.9zM446.1 127.00H448.9V128.31H446.1zM451.7 127.00H454.5V128.31H451.7zM471.4 127.00H474.2V128.31H471.4zM488.2 127.00H493.8V128.31H488.2zM524.7 127.00H533.1V128.31H524.7zM541.6 127.00H544.4V128.31H541.6zM552.8 127.00H555.6V128.31H552.8zM429.3 125.69H432.1V127.00H429.3zM448.9 125.69H451.7V127.00H448.9zM457.3 125.69H460.1V127.00H457.3zM477.0 125.69H479.8V127.00H477.0zM485.4 125.69H488.2V127.00H485.4zM493.8 125.69H496.6V127.00H493.8zM505.1 125.69H507.9V127.00H505.1zM510.7 125.69H513.5V127.00H510.7zM527.5 125.69H530.3V127.00H527.5zM432.1 124.38H434.9V125.69H432.1zM440.5 124.38H443.3V125.69H440.5zM451.7 124.38H454.5V125.69H451.7zM485.4 124.38H488.2V125.69H485.4zM493.8 124.38H496.6V125.69H493.8zM505.1 124.38H507.9V125.69H505.1zM524.7 124.38H527.5V125.69H524.7zM426.5 123.06H429.3V124.38H426.5zM454.5 123.06H457.3V124.38H454.5zM460.1 123.06H463.0V124.38H460.1zM474.2 123.06H477.0V124.38H474.2zM482.6 123.06H485.4V124.38H482.6zM491.0 123.06H499.5V124.38H491.0zM507.9 123.06H510.7V124.38H507.9zM513.5 123.06H519.1V124.38H513.5zM541.6 123.06H550.0V124.38H541.6zM558.4 123.06H561.2V124.38H558.4zM440.5 121.75H443.3V123.06H440.5zM448.9 121.75H451.7V123.06H448.9zM465.8 121.75H468.6V123.06H465.8zM479.8 121.75H482.6V123.06H479.8zM499.5 121.75H502.3V123.06H499.5zM510.7 121.75H513.5V123.06H510.7zM527.5 121.75H530.3V123.06H527.5zM538.8 121.75H541.6V123.06H538.8zM555.6 121.75H558.4V123.06H555.6zM564.0 121.75H566.8V123.06H564.0zM468.6 120.44H471.4V121.75H468.6zM493.8 120.44H496.6V121.75H493.8zM527.5 120.44H530.3V121.75H527.5zM561.2 120.44H566.8V121.75H561.2zM451.7 119.12H454.5V120.44H451.7zM460.1 119.12H468.6V120.44H460.1zM477.0 119.12H485.4V120.44H477.0zM491.0 119.12H496.6V120.44H491.0zM499.5 119.12H502.3V120.44H499.5zM564.0 119.12H566.8V120.44H564.0zM432.1 117.81H434.9V119.12H432.1zM446.1 117.81H448.9V119.12H446.1zM471.4 117.81H474.2V119.12H471.4zM479.8 117.81H488.2V119.12H479.8zM491.0 117.81H493.8V119.12H491.0zM507.9 117.81H510.7V119.12H507.9zM521.9 117.81H524.7V119.12H521.9zM533.1 117.81H536.0V119.12H533.1zM547.2 117.81H550.0V119.12H547.2zM561.2 117.81H564.0V119.12H561.2zM451.7 116.50H454.5V117.81H451.7zM465.8 116.50H471.4V117.81H465.8zM479.8 116.50H482.6V117.81H479.8zM491.0 116.50H493.8V117.81H491.0zM502.3 116.50H505.1V117.81H502.3zM507.9 116.50H510.7V117.81H507.9zM513.5 116.50H521.9V117.81H513.5zM544.4 116.50H547.2V117.81H544.4zM566.8 116.50H569.6V117.81H566.8zM448.9 115.19H451.7V116.50H448.9zM454.5 115.19H457.3V116.50H454.5zM463.0 115.19H465.8V116.50H463.0zM491.0 115.19H493.8V116.50H491.0zM521.9 115.19H524.7V116.50H521.9zM536.0 115.19H538.8V116.50H536.0zM426.5 113.88H429.3V115.19H426.5zM434.9 113.88H440.5V115.19H434.9zM448.9 113.88H454.5V115.19H448.9zM465.8 113.88H468.6V115.19H465.8zM477.0 113.88H479.8V115.19H477.0zM482.6 113.88H485.4V115.19H482.6zM538.8 113.88H541.6V115.19H538.8zM544.4 113.88H550.0V115.19H544.4zM561.2 113.88H564.0V115.19H561.2zM434.9 112.56H443.3V113.88H434.9zM446.1 112.56H448.9V113.88H446.1zM451.7 112.56H454.5V113.88H451.7zM477.0 112.56H479.8V113.88H477.0zM519.1 112.56H527.5V113.88H519.1zM544.4 112.56H547.2V113.88H544.4zM555.6 112.56H561.2V113.88H555.6zM451.7 111.25H454.5V112.56H451.7zM457.3 111.25H465.8V112.56H457.3zM471.4 111.25H477.0V112.56H471.4zM491.0 111.25H493.8V112.56H491.0zM533.1 111.25H536.0V112.56H533.1zM550.0 111.25H555.6V112.56H550.0zM566.8 111.25H569.6V112.56H566.8zM443.3 109.94H446.1V111.25H443.3zM471.4 109.94H474.2V111.25H471.4zM477.0 109.94H479.8V111.25H477.0zM482.6 109.94H485.4V111.25H482.6zM502.3 109.94H505.1V111.25H502.3zM507.9 109.94H510.7V111.25H507.9zM527.5 109.94H530.3V111.25H527.5zM536.0 109.94H541.6V111.25H536.0zM558.4 109.94H561.2V111.25H558.4zM432.1 108.62H434.9V109.94H432.1zM437.7 108.62H440.5V109.94H437.7zM451.7 108.62H454.5V109.94H451.7zM460.1 108.62H463.0V109.94H460.1zM465.8 108.62H468.6V109.94H465.8zM479.8 108.62H482.6V109.94H479.8zM488.2 108.62H491.0V109.94H488.2zM493.8 108.62H496.6V109.94H493.8zM505.1 108.62H507.9V109.94H505.1zM521.9 108.62H524.7V109.94H521.9zM536.0 108.62H538.8V109.94H536.0zM552.8 108.62H555.6V109.94H552.8zM437.7 107.31H440.5V108.62H437.7zM457.3 107.31H460.1V108.62H457.3zM468.6 107.31H471.4V108.62H468.6zM474.2 107.31H479.8V108.62H474.2zM488.2 107.31H491.0V108.62H488.2zM493.8 107.31H496.6V108.62H493.8zM505.1 107.31H507.9V108.62H505.1zM516.3 107.31H519.1V108.62H516.3zM524.7 107.31H527.5V108.62H524.7zM558.4 107.31H561.2V108.62H558.4zM429.3 106.00H432.1V107.31H429.3zM434.9 106.00H437.7V107.31H434.9zM448.9 106.00H451.7V107.31H448.9zM454.5 106.00H457.3V107.31H454.5zM465.8 106.00H468.6V107.31H465.8zM471.4 106.00H474.2V107.31H471.4zM477.0 106.00H479.8V107.31H477.0zM507.9 106.00H510.7V107.31H507.9zM527.5 106.00H530.3V107.31H527.5zM555.6 106.00H558.4V107.31H555.6zM463.0 104.69H465.8V106.00H463.0zM471.4 104.69H474.2V106.00H471.4zM477.0 104.69H479.8V106.00H477.0zM496.6 104.69H499.5V106.00H496.6zM516.3 104.69H519.1V106.00H516.3zM530.3 104.69H533.1V106.00H530.3zM544.4 104.69H547.2V106.00H544.4zM432.1 103.38H437.7V104.69H432.1zM440.5 103.38H446.1V104.69H440.5zM457.3 103.38H460.1V104.69H457.3zM463.0 103.38H468.6V104.69H463.0zM474.2 103.38H477.0V104.69H474.2zM493.8 103.38H499.5V104.69H493.8zM448.9 102.06H451.7V103.38H448.9zM460.1 102.06H463.0V103.38H460.1zM474.2 102.06H477.0V103.38H474.2zM493.8 102.06H502.3V103.38H493.8zM510.7 102.06H516.3V103.38H510.7zM544.4 102.06H547.2V103.38H544.4zM561.2 102.06H564.0V103.38H561.2zM434.9 100.75H437.7V102.06H434.9zM448.9 100.75H451.7V102.06H448.9zM468.6 100.75H474.2V102.06H468.6zM488.2 100.75H493.8V102.06H488.2zM496.6 100.75H499.5V102.06H496.6zM533.1 100.75H536.0V102.06H533.1zM541.6 100.75H547.2V102.06H541.6zM555.6 100.75H558.4V102.06H555.6zM451.7 99.44H454.5V100.75H451.7zM463.0 99.44H465.8V100.75H463.0zM477.0 99.44H482.6V100.75H477.0zM488.2 99.44H491.0V100.75H488.2zM499.5 99.44H502.3V100.75H499.5zM505.1 99.44H507.9V100.75H505.1zM510.7 99.44H513.5V100.75H510.7zM550.0 99.44H552.8V100.75H550.0zM558.4 99.44H564.0V100.75H558.4zM432.1 98.12H434.9V99.44H432.1zM437.7 98.12H443.3V99.44H437.7zM448.9 98.12H451.7V99.44H448.9zM477.0 98.12H479.8V99.44H477.0zM507.9 98.12H510.7V99.44H507.9zM550.0 98.12H552.8V99.44H550.0zM558.4 98.12H564.0V99.44H558.4zM429.3 96.81H432.1V98.12H429.3zM451.7 96.81H454.5V98.12H451.7zM471.4 96.81H474.2V98.12H471.4zM482.6 96.81H485.4V98.12H482.6zM493.8 96.81H496.6V98.12H493.8zM499.5 96.81H502.3V98.12H499.5zM536.0 96.81H538.8V98.12H536.0zM434.9 95.50H437.7V96.81H434.9zM448.9 95.50H451.7V96.81H448.9zM471.4 95.50H474.2V96.81H471.4zM477.0 95.50H482.6V96.81H477.0zM521.9 95.50H524.7V96.81H521.9zM527.5 95.50H530.3V96.81H527.5zM533.1 95.50H541.6V96.81H533.1zM552.8 95.50H555.6V96.81H552.8zM446.1 94.19H448.9V95.50H446.1zM451.7 94.19H454.5V95.50H451.7zM474.2 94.19H479.8V95.50H474.2zM485.4 94.19H488.2V95.50H485.4zM499.5 94.19H502.3V95.50H499.5zM510.7 94.19H513.5V95.50H510.7zM524.7 94.19H527.5V95.50H524.7zM530.3 94.19H533.1V95.50H530.3zM564.0 94.19H569.6V95.50H564.0zM468.6 92.88H471.4V94.19H468.6zM488.2 92.88H491.0V94.19H488.2zM507.9 92.88H510.7V94.19H507.9zM521.9 92.88H524.7V94.19H521.9zM544.4 92.88H547.2V94.19H544.4zM429.3 91.56H432.1V92.88H429.3zM434.9 91.56H446.1V92.88H434.9zM454.5 91.56H457.3V92.88H454.5zM463.0 91.56H465.8V92.88H463.0zM474.2 91.56H477.0V92.88H474.2zM493.8 91.56H499.5V92.88H493.8zM521.9 91.56H524.7V92.88H521.9zM552.8 91.56H555.6V92.88H552.8zM451.7 90.25H454.5V91.56H451.7zM465.8 90.25H468.6V91.56H465.8zM474.2 90.25H479.8V91.56H474.2zM482.6 90.25H485.4V91.56H482.6zM502.3 90.25H505.1V91.56H502.3zM510.7 90.25H513.5V91.56H510.7zM530.3 90.25H533.1V91.56H530.3zM536.0 90.25H538.8V91.56H536.0zM541.6 90.25H544.4V91.56H541.6zM432.1 88.94H434.9V90.25H432.1zM446.1 88.94H448.9V90.25H446.1zM454.5 88.94H463.0V90.25H454.5zM477.0 88.94H479.8V90.25H477.0zM491.0 88.94H493.8V90.25H491.0zM499.5 88.94H502.3V90.25H499.5zM541.6 88.94H544.4V90.25H541.6zM561.2 88.94H564.0V90.25H561.2zM457.3 87.62H460.1V88.94H457.3zM477.0 87.62H479.8V88.94H477.0zM488.2 87.62H493.8V88.94H488.2zM516.3 87.62H519.1V88.94H516.3zM524.7 87.62H527.5V88.94H524.7zM530.3 87.62H536.0V88.94H530.3zM547.2 87.62H552.8V88.94H547.2zM555.6 87.62H558.4V88.94H555.6zM432.1 86.31H434.9V87.62H432.1zM443.3 86.31H446.1V87.62H443.3zM460.1 86.31H463.0V87.62H460.1zM521.9 86.31H524.7V87.62H521.9zM541.6 86.31H544.4V87.62H541.6zM564.0 86.31H566.8V87.62H564.0zM443.3 85.00H446.1V86.31H443.3zM485.4 85.00H488.2V86.31H485.4zM491.0 85.00H493.8V86.31H491.0zM516.3 85.00H519.1V86.31H516.3zM524.7 85.00H527.5V86.31H524.7zM536.0 85.00H538.8V86.31H536.0zM544.4 85.00H547.2V86.31H544.4zM555.6 85.00H558.4V86.31H555.6zM437.7 83.69H440.5V85.00H437.7zM446.1 83.69H448.9V85.00H446.1zM454.5 83.69H457.3V85.00H454.5zM460.1 83.69H463.0V85.00H460.1zM493.8 83.69H496.6V85.00H493.8zM499.5 83.69H502.3V85.00H499.5zM524.7 83.69H530.3V85.00H524.7zM536.0 83.69H538.8V85.00H536.0zM547.2 83.69H550.0V85.00H547.2zM552.8 83.69H555.6V85.00H552.8zM561.2 83.69H564.0V85.00H561.2zM463.0 82.38H465.8V83.69H463.0zM479.8 82.38H482.6V83.69H479.8zM493.8 82.38H502.3V83.69H493.8zM505.1 82.38H516.3V83.69H505.1zM538.8 82.38H541.6V83.69H538.8zM558.4 82.38H564.0V83.69H558.4zM566.8 82.38H569.6V83.69H566.8zM434.9 81.06H437.7V82.38H434.9zM440.5 81.06H443.3V82.38H440.5zM446.1 81.06H448.9V82.38H446.1zM457.3 81.06H460.1V82.38H457.3zM471.4 81.06H474.2V82.38H471.4zM493.8 81.06H496.6V82.38H493.8zM521.9 81.06H524.7V82.38H521.9zM538.8 81.06H541.6V82.38H538.8zM544.4 81.06H547.2V82.38H544.4zM558.4 81.06H561.2V82.38H558.4zM443.3 79.75H446.1V81.06H443.3zM460.1 79.75H463.0V81.06H460.1zM485.4 79.75H488.2V81.06H485.4zM491.0 79.75H493.8V81.06H491.0zM496.6 79.75H499.5V81.06H496.6zM510.7 79.75H513.5V81.06H510.7zM527.5 79.75H538.8V81.06H527.5zM564.0 79.75H569.6V81.06H564.0zM426.5 78.44H429.3V79.75H426.5zM432.1 78.44H434.9V79.75H432.1zM505.1 78.44H507.9V79.75H505.1zM550.0 78.44H552.8V79.75H550.0zM555.6 78.44H561.2V79.75H555.6zM566.8 78.44H569.6V79.75H566.8zM437.7 77.12H440.5V78.44H437.7zM457.3 77.12H460.1V78.44H457.3zM463.0 77.12H468.6V78.44H463.0zM491.0 77.12H493.8V78.44H491.0zM510.7 77.12H516.3V78.44H510.7zM530.3 77.12H536.0V78.44H530.3zM538.8 77.12H541.6V78.44H538.8zM544.4 77.12H547.2V78.44H544.4zM558.4 77.12H564.0V78.44H558.4zM448.9 75.81H451.7V77.12H448.9zM471.4 75.81H474.2V77.12H471.4zM485.4 75.81H488.2V77.12H485.4zM496.6 75.81H502.3V77.12H496.6zM505.1 75.81H507.9V77.12H505.1zM544.4 75.81H547.2V77.12H544.4zM434.9 74.50H437.7V75.81H434.9zM446.1 74.50H448.9V75.81H446.1zM468.6 74.50H471.4V75.81H468.6zM477.0 74.50H479.8V75.81H477.0zM502.3 74.50H505.1V75.81H502.3zM510.7 74.50H513.5V75.81H510.7zM527.5 74.50H533.1V75.81H527.5zM558.4 74.50H561.2V75.81H558.4zM440.5 73.19H443.3V74.50H440.5zM448.9 73.19H451.7V74.50H448.9zM471.4 73.19H477.0V74.50H471.4zM491.0 73.19H493.8V74.50H491.0zM507.9 73.19H513.5V74.50H507.9zM530.3 73.19H533.1V74.50H530.3zM536.0 73.19H538.8V74.50H536.0zM443.3 71.88H448.9V73.19H443.3zM460.1 71.88H465.8V73.19H460.1zM493.8 71.88H496.6V73.19H493.8zM507.9 71.88H510.7V73.19H507.9zM521.9 71.88H524.7V73.19H521.9zM527.5 71.88H530.3V73.19H527.5zM536.0 71.88H541.6V73.19H536.0zM550.0 71.88H552.8V73.19H550.0zM555.6 71.88H561.2V73.19H555.6zM566.8 71.88H569.6V73.19H566.8zM454.5 70.56H457.3V71.88H454.5zM465.8 70.56H468.6V71.88H465.8zM471.4 70.56H474.2V71.88H471.4zM482.6 70.56H485.4V71.88H482.6zM488.2 70.56H491.0V71.88H488.2zM502.3 70.56H505.1V71.88H502.3zM510.7 70.56H513.5V71.88H510.7zM527.5 70.56H530.3V71.88H527.5zM541.6 70.56H544.4V71.88H541.6zM558.4 70.56H561.2V71.88H558.4zM564.0 70.56H566.8V71.88H564.0zM454.5 69.25H457.3V70.56H454.5zM465.8 69.25H468.6V70.56H465.8zM485.4 69.25H488.2V70.56H485.4zM491.0 69.25H493.8V70.56H491.0zM521.9 69.25H524.7V70.56H521.9zM530.3 69.25H533.1V70.56H530.3zM541.6 69.25H544.4V70.56H541.6zM550.0 69.25H552.8V70.56H550.0zM555.6 69.25H558.4V70.56H555.6zM437.7 67.94H440.5V69.25H437.7zM451.7 67.94H454.5V69.25H451.7zM465.8 67.94H468.6V69.25H465.8zM493.8 67.94H499.5V69.25H493.8zM502.3 67.94H505.1V69.25H502.3zM513.5 67.94H519.1V69.25H513.5zM527.5 67.94H530.3V69.25H527.5zM544.4 67.94H547.2V69.25H544.4zM552.8 67.94H555.6V69.25H552.8zM448.9 66.62H451.7V67.94H448.9zM465.8 66.62H471.4V67.94H465.8zM479.8 66.62H482.6V67.94H479.8zM507.9 66.62H510.7V67.94H507.9zM516.3 66.62H519.1V67.94H516.3zM524.7 66.62H527.5V67.94H524.7zM541.6 66.62H544.4V67.94H541.6zM561.2 66.62H564.0V67.94H561.2zM477.0 65.31H479.8V66.62H477.0zM493.8 65.31H496.6V66.62H493.8zM502.3 65.31H505.1V66.62H502.3zM516.3 65.31H519.1V66.62H516.3zM524.7 65.31H527.5V66.62H524.7zM530.3 65.31H533.1V66.62H530.3zM538.8 65.31H541.6V66.62H538.8zM547.2 65.31H550.0V66.62H547.2zM566.8 65.31H569.6V66.62H566.8zM432.1 64.00H434.9V65.31H432.1zM457.3 64.00H460.1V65.31H457.3zM507.9 64.00H510.7V65.31H507.9zM516.3 64.00H521.9V65.31H516.3zM527.5 64.00H530.3V65.31H527.5zM541.6 64.00H544.4V65.31H541.6zM561.2 64.00H564.0V65.31H561.2zM463.0 62.69H465.8V64.00H463.0zM468.6 62.69H471.4V64.00H468.6zM488.2 62.69H491.0V64.00H488.2zM493.8 62.69H496.6V64.00H493.8zM510.7 62.69H516.3V64.00H510.7zM519.1 62.69H521.9V64.00H519.1zM524.7 62.69H527.5V64.00H524.7zM544.4 62.69H550.0V64.00H544.4zM566.8 62.69H569.6V64.00H566.8zM451.7 61.38H454.5V62.69H451.7zM460.1 61.38H463.0V62.69H460.1zM488.2 61.38H491.0V62.69H488.2zM519.1 61.38H521.9V62.69H519.1zM524.7 61.38H530.3V62.69H524.7zM538.8 61.38H541.6V62.69H538.8zM558.4 61.38H564.0V62.69H558.4zM440.5 60.06H443.3V61.38H440.5zM479.8 60.06H482.6V61.38H479.8zM491.0 60.06H493.8V61.38H491.0zM499.5 60.06H502.3V61.38H499.5zM536.0 60.06H538.8V61.38H536.0zM561.2 60.06H564.0V61.38H561.2zM538.8 58.75H541.6V60.06H538.8zM488.2 57.44H493.8V58.75H488.2zM510.7 57.44H513.5V58.75H510.7zM519.1 57.44H524.7V58.75H519.1zM527.5 57.44H530.3V58.75H527.5zM533.1 57.44H536.0V58.75H533.1zM538.8 57.44H541.6V58.75H538.8zM555.6 57.44H558.4V58.75H555.6zM564.0 57.44H566.8V58.75H564.0zM471.4 56.12H474.2V57.44H471.4zM482.6 56.12H485.4V57.44H482.6zM493.8 56.12H496.6V57.44H493.8zM502.3 56.12H505.1V57.44H502.3zM516.3 56.12H519.1V57.44H516.3zM524.7 56.12H527.5V57.44H524.7zM530.3 56.12H533.1V57.44H530.3zM547.2 56.12H552.8V57.44H547.2zM558.4 56.12H561.2V57.44H558.4zM468.6 54.81H471.4V56.12H468.6zM479.8 54.81H482.6V56.12H479.8zM502.3 54.81H505.1V56.12H502.3zM530.3 54.81H533.1V56.12H530.3zM536.0 54.81H541.6V56.12H536.0zM544.4 54.81H547.2V56.12H544.4zM552.8 54.81H555.6V56.12H552.8zM465.8 53.50H468.6V54.81H465.8zM485.4 53.50H488.2V54.81H485.4zM491.0 53.50H496.6V54.81H491.0zM499.5 53.50H502.3V54.81H499.5zM513.5 53.50H516.3V54.81H513.5zM524.7 53.50H527.5V54.81H524.7zM536.0 53.50H538.8V54.81H536.0zM544.4 53.50H547.2V54.81H544.4zM552.8 53.50H555.6V54.81H552.8zM561.2 53.50H564.0V54.81H561.2zM482.6 52.19H485.4V53.50H482.6zM491.0 52.19H493.8V53.50H491.0zM496.6 52.19H499.5V53.50H496.6zM521.9 52.19H524.7V53.50H521.9zM527.5 52.19H530.3V53.50H527.5zM538.8 52.19H541.6V53.50H538.8zM544.4 52.19H547.2V53.50H544.4zM555.6 52.19H558.4V53.50H555.6zM477.0 50.88H479.8V52.19H477.0zM507.9 50.88H510.7V52.19H507.9zM516.3 50.88H524.7V52.19H516.3zM530.3 50.88H533.1V52.19H530.3zM544.4 50.88H547.2V52.19H544.4zM552.8 50.88H555.6V52.19H552.8zM460.1 49.56H463.0V50.88H460.1zM465.8 49.56H468.6V50.88H465.8zM474.2 49.56H477.0V50.88H474.2zM485.4 49.56H488.2V50.88H485.4zM493.8 49.56H496.6V50.88H493.8zM507.9 49.56H510.7V50.88H507.9zM519.1 49.56H524.7V50.88H519.1zM541.6 49.56H544.4V50.88H541.6zM496.6 48.25H505.1V49.56H496.6zM507.9 48.25H510.7V49.56H507.9zM521.9 48.25H524.7V49.56H521.9zM544.4 48.25H547.2V49.56H544.4zM558.4 48.25H561.2V49.56H558.4zM482.6 46.94H488.2V48.25H482.6zM516.3 46.94H519.1V48.25H516.3zM521.9 46.94H533.1V48.25H521.9zM558.4 46.94H561.2V48.25H558.4zM468.6 45.62H471.4V46.94H468.6zM507.9 45.62H510.7V46.94H507.9zM527.5 45.62H530.3V46.94H527.5zM536.0 45.62H538.8V46.94H536.0zM550.0 45.62H552.8V46.94H550.0zM443.3 44.31H446.1V45.62H443.3zM460.1 44.31H463.0V45.62H460.1zM482.6 44.31H485.4V45.62H482.6zM499.5 44.31H502.3V45.62H499.5zM510.7 44.31H513.5V45.62H510.7zM521.9 44.31H524.7V45.62H521.9zM533.1 44.31H536.0V45.62H533.1zM538.8 44.31H544.4V45.62H538.8zM552.8 44.31H555.6V45.62H552.8zM561.2 44.31H564.0V45.62H561.2zM566.8 44.31H569.6V45.62H566.8z"/>
<path fill="#008bff" shape-rendering="crispEdges" d="M443.3 146.69H446.1V148.00H443.3zM465.8 146.69H468.6V148.00H465.8zM477.0 146.69H479.8V148.00H477.0zM507.9 146.69H510.7V148.00H507.9zM521.9 146.69H524.7V148.00H521.9zM544.4 146.69H547.2V148.00H544.4zM561.2 146.69H564.0V148.00H561.2zM448.9 145.38H451.7V146.69H448.9zM471.4 145.38H474.2V146.69H471.4zM510.7 145.38H513.5V146.69H510.7zM541.6 145.38H544.4V146.69H541.6zM555.6 145.38H561.2V146.69H555.6zM507.9 144.06H510.7V145.38H507.9zM524.7 144.06H527.5V145.38H524.7zM538.8 144.06H541.6V145.38H538.8zM544.4 144.06H547.2V145.38H544.4zM485.4 142.75H488.2V144.06H485.4zM521.9 142.75H524.7V144.06H521.9zM527.5 142.75H530.3V144.06H527.5zM533.1 141.44H536.0V142.75H533.1zM558.4 141.44H564.0V142.75H558.4zM499.5 140.12H502.3V141.44H499.5zM516.3 140.12H519.1V141.44H516.3zM533.1 140.12H536.0V141.44H533.1zM564.0 140.12H566.8V141.44H564.0zM463.0 138.81H465.8V140.12H463.0zM482.6 138.81H485.4V140.12H482.6zM505.1 138.81H507.9V140.12H505.1zM513.5 138.81H516.3V140.12H513.5zM527.5 138.81H530.3V140.12H527.5zM555.6 138.81H558.4V140.12H555.6zM564.0 138.81H566.8V140.12H564.0zM437.7 137.50H440.5V138.81H437.7zM457.3 137.50H460.1V138.81H457.3zM502.3 137.50H505.1V138.81H502.3zM544.4 137.50H547.2V138.81H544.4zM558.4 137.50H561.2V138.81H558.4zM499.5 136.19H502.3V137.50H499.5zM521.9 136.19H524.7V137.50H521.9zM527.5 136.19H533.1V137.50H527.5zM555.6 136.19H558.4V137.50H555.6zM524.7 134.88H527.5V136.19H524.7zM541.6 134.88H544.4V136.19H541.6zM558.4 134.88H561.2V136.19H558.4zM510.7 133.56H513.5V134.88H510.7zM516.3 133.56H521.9V134.88H516.3zM530.3 133.56H533.1V134.88H530.3zM538.8 133.56H541.6V134.88H538.8zM488.2 132.25H491.0V133.56H488.2zM505.1 132.25H507.9V133.56H505.1zM516.3 132.25H519.1V133.56H516.3zM541.6 132.25H544.4V133.56H541.6zM460.1 130.94H463.0V132.25H460.1zM524.7 130.94H530.3V132.25H524.7zM547.2 130.94H550.0V132.25H547.2zM471.4 129.62H474.2V130.94H471.4zM521.9 129.62H524.7V130.94H521.9zM460.1 128.31H463.0V129.62H460.1zM482.6 128.31H485.4V129.62H482.6zM493.8 128.31H499.5V129.62H493.8zM524.7 128.31H527.5V129.62H524.7zM536.0 128.31H538.8V129.62H536.0zM499.5 127.00H502.3V128.31H499.5zM521.9 127.00H524.7V128.31H521.9zM558.4 127.00H561.2V128.31H558.4zM564.0 127.00H566.8V128.31H564.0zM465.8 125.69H468.6V127.00H465.8zM521.9 125.69H524.7V127.00H521.9zM533.1 125.69H538.8V127.00H533.1zM541.6 125.69H544.4V127.00H541.6zM555.6 125.69H561.2V127.00H555.6zM513.5 124.38H516.3V125.69H513.5zM536.0 124.38H544.4V125.69H536.0zM561.2 124.38H564.0V125.69H561.2zM457.3 123.06H460.1V124.38H457.3zM510.7 123.06H513.5V124.38H510.7zM521.9 123.06H524.7V124.38H521.9zM536.0 123.06H538.8V124.38H536.0zM482.6 121.75H485.4V123.06H482.6zM493.8 121.75H496.6V123.06H493.8zM513.5 121.75H516.3V123.06H513.5zM474.2 120.44H477.0V121.75H474.2zM488.2 120.44H491.0V121.75H488.2zM513.5 120.44H516.3V121.75H513.5zM533.1 120.44H538.8V121.75H533.1zM544.4 120.44H550.0V121.75H544.4zM488.2 119.12H491.0V120.44H488.2zM505.1 119.12H507.9V120.44H505.1zM513.5 119.12H516.3V120.44H513.5zM519.1 119.12H521.9V120.44H519.1zM552.8 119.12H555.6V120.44H552.8zM454.5 117.81H457.3V119.12H454.5zM460.1 117.81H463.0V119.12H460.1zM465.8 117.81H468.6V119.12H465.8zM505.1 117.81H507.9V119.12H505.1zM558.4 117.81H561.2V119.12H558.4zM564.0 117.81H566.8V119.12H564.0zM482.6 116.50H485.4V117.81H482.6zM499.5 116.50H502.3V117.81H499.5zM538.8 116.50H541.6V117.81H538.8zM558.4 116.50H561.2V117.81H558.4zM477.0 115.19H479.8V116.50H477.0zM505.1 115.19H507.9V116.50H505.1zM530.3 115.19H533.1V116.50H530.3zM561.2 115.19H564.0V116.50H561.2zM474.2 113.88H477.0V115.19H474.2zM516.3 113.88H519.1V115.19H516.3zM524.7 113.88H527.5V115.19H524.7zM530.3 113.88H536.0V115.19H530.3zM558.4 113.88H561.2V115.19H558.4zM454.5 112.56H457.3V113.88H454.5zM496.6 112.56H499.5V113.88H496.6zM536.0 112.56H538.8V113.88H536.0zM505.1 111.25H507.9V112.56H505.1zM521.9 111.25H524.7V112.56H521.9zM468.6 109.94H471.4V111.25H468.6zM491.0 109.94H493.8V111.25H491.0zM533.1 109.94H536.0V111.25H533.1zM561.2 109.94H566.8V111.25H561.2zM440.5 108.62H443.3V109.94H440.5zM448.9 108.62H451.7V109.94H448.9zM471.4 108.62H474.2V109.94H471.4zM510.7 108.62H513.5V109.94H510.7zM516.3 108.62H519.1V109.94H516.3zM547.2 108.62H550.0V109.94H547.2zM451.7 107.31H454.5V108.62H451.7zM479.8 107.31H488.2V108.62H479.8zM507.9 107.31H510.7V108.62H507.9zM564.0 107.31H566.8V108.62H564.0zM432.1 106.00H434.9V107.31H432.1zM460.1 106.00H463.0V107.31H460.1zM516.3 106.00H519.1V107.31H516.3zM521.9 106.00H527.5V107.31H521.9zM530.3 106.00H533.1V107.31H530.3zM538.8 106.00H544.4V107.31H538.8zM552.8 106.00H555.6V107.31H552.8zM566.8 106.00H569.6V107.31H566.8zM513.5 104.69H516.3V106.00H513.5zM555.6 104.69H558.4V106.00H555.6zM533.1 103.38H536.0V104.69H533.1zM538.8 103.38H541.6V104.69H538.8zM555.6 103.38H558.4V104.69H555.6zM564.0 103.38H566.8V104.69H564.0zM451.7 102.06H454.5V103.38H451.7zM477.0 102.06H479.8V103.38H477.0zM505.1 102.06H510.7V103.38H505.1zM538.8 102.06H541.6V103.38H538.8zM552.8 102.06H555.6V103.38H552.8zM558.4 102.06H561.2V103.38H558.4zM564.0 102.06H566.8V103.38H564.0zM440.5 100.75H443.3V102.06H440.5zM457.3 100.75H460.1V102.06H457.3zM516.3 100.75H519.1V102.06H516.3zM524.7 100.75H530.3V102.06H524.7zM552.8 100.75H555.6V102.06H552.8zM448.9 99.44H451.7V100.75H448.9zM485.4 99.44H488.2V100.75H485.4zM491.0 99.44H493.8V100.75H491.0zM496.6 99.44H499.5V100.75H496.6zM513.5 99.44H516.3V100.75H513.5zM527.5 99.44H530.3V100.75H527.5zM555.6 99.44H558.4V100.75H555.6zM513.5 98.12H516.3V99.44H513.5zM541.6 98.12H547.2V99.44H541.6zM460.1 96.81H463.0V98.12H460.1zM533.1 96.81H536.0V98.12H533.1zM552.8 96.81H558.4V98.12H552.8zM468.6 95.50H471.4V96.81H468.6zM493.8 95.50H496.6V96.81H493.8zM507.9 95.50H510.7V96.81H507.9zM516.3 95.50H519.1V96.81H516.3zM547.2 94.19H550.0V95.50H547.2zM552.8 94.19H555.6V95.50H552.8zM499.5 92.88H502.3V94.19H499.5zM468.6 91.56H471.4V92.88H468.6zM477.0 91.56H482.6V92.88H477.0zM491.0 90.25H493.8V91.56H491.0zM496.6 90.25H499.5V91.56H496.6zM507.9 90.25H510.7V91.56H507.9zM519.1 90.25H524.7V91.56H519.1zM544.4 90.25H547.2V91.56H544.4zM552.8 90.25H555.6V91.56H552.8zM558.4 90.25H564.0V91.56H558.4zM521.9 88.94H524.7V90.25H521.9zM547.2 88.94H550.0V90.25H547.2zM558.4 88.94H561.2V90.25H558.4zM454.5 87.62H457.3V88.94H454.5zM474.2 87.62H477.0V88.94H474.2zM496.6 87.62H499.5V88.94H496.6zM502.3 87.62H505.1V88.94H502.3zM538.8 87.62H541.6V88.94H538.8zM448.9 86.31H451.7V87.62H448.9zM463.0 86.31H465.8V87.62H463.0zM499.5 86.31H502.3V87.62H499.5zM530.3 86.31H533.1V87.62H530.3zM463.0 85.00H465.8V86.31H463.0zM493.8 85.00H496.6V86.31H493.8zM502.3 85.00H505.1V86.31H502.3zM530.3 85.00H533.1V86.31H530.3zM561.2 85.00H564.0V86.31H561.2zM507.9 83.69H513.5V85.00H507.9zM521.9 83.69H524.7V85.00H521.9zM516.3 82.38H519.1V83.69H516.3zM524.7 82.38H527.5V83.69H524.7zM547.2 82.38H550.0V83.69H547.2zM488.2 81.06H491.0V82.38H488.2zM499.5 81.06H502.3V82.38H499.5zM555.6 81.06H558.4V82.38H555.6zM502.3 79.75H505.1V81.06H502.3zM507.9 79.75H510.7V81.06H507.9zM521.9 79.75H527.5V81.06H521.9zM538.8 79.75H541.6V81.06H538.8zM547.2 79.75H550.0V81.06H547.2zM555.6 79.75H561.2V81.06H555.6zM479.8 78.44H482.6V79.75H479.8zM493.8 78.44H496.6V79.75H493.8zM536.0 78.44H538.8V79.75H536.0zM544.4 78.44H550.0V79.75H544.4zM536.0 77.12H538.8V78.44H536.0zM547.2 77.12H550.0V78.44H547.2zM552.8 77.12H555.6V78.44H552.8zM491.0 75.81H493.8V77.12H491.0zM521.9 75.81H527.5V77.12H521.9zM541.6 75.81H544.4V77.12H541.6zM505.1 74.50H507.9V75.81H505.1zM533.1 74.50H536.0V75.81H533.1zM544.4 73.19H547.2V74.50H544.4zM552.8 73.19H555.6V74.50H552.8zM496.6 71.88H499.5V73.19H496.6zM533.1 71.88H536.0V73.19H533.1zM496.6 70.56H499.5V71.88H496.6zM550.0 70.56H552.8V71.88H550.0zM536.0 69.25H538.8V70.56H536.0zM544.4 69.25H547.2V70.56H544.4zM552.8 69.25H555.6V70.56H552.8zM558.4 69.25H561.2V70.56H558.4zM561.2 67.94H564.0V69.25H561.2zM493.8 66.62H496.6V67.94H493.8zM547.2 66.62H550.0V67.94H547.2zM463.0 65.31H465.8V66.62H463.0zM485.4 65.31H488.2V66.62H485.4zM493.8 64.00H496.6V65.31H493.8zM502.3 64.00H505.1V65.31H502.3zM513.5 64.00H516.3V65.31H513.5zM544.4 64.00H547.2V65.31H544.4zM536.0 62.69H538.8V64.00H536.0zM555.6 62.69H558.4V64.00H555.6zM521.9 61.38H524.7V62.69H521.9zM533.1 61.38H536.0V62.69H533.1zM524.7 60.06H527.5V61.38H524.7zM547.2 60.06H550.0V61.38H547.2zM533.1 58.75H536.0V60.06H533.1zM547.2 58.75H550.0V60.06H547.2zM505.1 57.44H507.9V58.75H505.1zM516.3 57.44H519.1V58.75H516.3zM510.7 56.12H513.5V57.44H510.7zM440.5 54.81H443.3V56.12H440.5zM519.1 54.81H521.9V56.12H519.1zM558.4 53.50H561.2V54.81H558.4zM491.0 50.88H493.8V52.19H491.0zM502.3 50.88H505.1V52.19H502.3zM550.0 50.88H552.8V52.19H550.0zM530.3 49.56H533.1V50.88H530.3zM544.4 49.56H547.2V50.88H544.4zM510.7 48.25H513.5V49.56H510.7zM564.0 46.94H566.8V48.25H564.0zM544.4 45.62H547.2V46.94H544.4z"/>
<path fill="#00fffc" shape-rendering="crispEdges" d="M451.7 146.69H454.5V148.00H451.7zM460.1 146.69H465.8V148.00H460.1zM482.6 146.69H485.4V148.00H482.6zM491.0 146.69H493.8V148.00H491.0zM541.6 146.69H544.4V148.00H541.6zM552.8 146.69H555.6V148.00H552.8zM558.4 146.69H561.2V148.00H558.4zM457.3 145.38H460.1V146.69H457.3zM468.6 145.38H471.4V146.69H468.6zM477.0 145.38H482.6V146.69H477.0zM488.2 145.38H491.0V146.69H488.2zM496.6 145.38H499.5V146.69H496.6zM507.9 145.38H510.7V146.69H507.9zM530.3 145.38H533.1V146.69H530.3zM561.2 145.38H566.8V146.69H561.2zM460.1 144.06H465.8V145.38H460.1zM468.6 144.06H471.4V145.38H468.6zM479.8 144.06H482.6V145.38H479.8zM493.8 144.06H496.6V145.38H493.8zM505.1 144.06H507.9V145.38H505.1zM513.5 144.06H516.3V145.38H513.5zM521.9 144.06H524.7V145.38H521.9zM527.5 144.06H530.3V145.38H527.5zM434.9 142.75H437.7V144.06H434.9zM451.7 142.75H454.5V144.06H451.7zM468.6 142.75H471.4V144.06H468.6zM477.0 142.75H479.8V144.06H477.0zM496.6 142.75H499.5V144.06H496.6zM502.3 142.75H505.1V144.06H502.3zM519.1 142.75H521.9V144.06H519.1zM544.4 142.75H547.2V144.06H544.4zM564.0 142.75H566.8V144.06H564.0zM429.3 141.44H432.1V142.75H429.3zM446.1 141.44H448.9V142.75H446.1zM463.0 141.44H468.6V142.75H463.0zM471.4 141.44H474.2V142.75H471.4zM479.8 141.44H482.6V142.75H479.8zM485.4 141.44H488.2V142.75H485.4zM493.8 141.44H496.6V142.75H493.8zM510.7 141.44H513.5V142.75H510.7zM521.9 141.44H524.7V142.75H521.9zM550.0 141.44H552.8V142.75H550.0zM460.1 140.12H463.0V141.44H460.1zM468.6 140.12H474.2V141.44H468.6zM488.2 140.12H491.0V141.44H488.2zM493.8 140.12H496.6V141.44H493.8zM510.7 140.12H513.5V141.44H510.7zM527.5 140.12H530.3V141.44H527.5zM536.0 140.12H538.8V141.44H536.0zM544.4 140.12H547.2V141.44H544.4zM566.8 140.12H569.6V141.44H566.8zM440.5 138.81H443.3V140.12H440.5zM451.7 138.81H454.5V140.12H451.7zM471.4 138.81H477.0V140.12H471.4zM496.6 138.81H502.3V140.12H496.6zM519.1 138.81H521.9V140.12H519.1zM544.4 138.81H547.2V140.12H544.4zM550.0 138.81H552.8V140.12H550.0zM558.4 138.81H561.2V140.12H558.4zM471.4 137.50H477.0V138.81H471.4zM485.4 137.50H491.0V138.81H485.4zM493.8 137.50H499.5V138.81H493.8zM513.5 137.50H516.3V138.81H513.5zM533.1 137.50H538.8V138.81H533.1zM443.3 136.19H446.1V137.50H443.3zM457.3 136.19H463.0V137.50H457.3zM468.6 136.19H471.4V137.50H468.6zM544.4 136.19H547.2V137.50H544.4zM564.0 136.19H569.6V137.50H564.0zM440.5 134.88H443.3V136.19H440.5zM463.0 134.88H465.8V136.19H463.0zM468.6 134.88H471.4V136.19H468.6zM477.0 134.88H485.4V136.19H477.0zM505.1 134.88H507.9V136.19H505.1zM510.7 134.88H513.5V136.19H510.7zM527.5 134.88H530.3V136.19H527.5zM533.1 134.88H536.0V136.19H533.1zM538.8 134.88H541.6V136.19H538.8zM477.0 133.56H479.8V134.88H477.0zM482.6 133.56H485.4V134.88H482.6zM496.6 133.56H502.3V134.88H496.6zM513.5 133.56H516.3V134.88H513.5zM533.1 133.56H536.0V134.88H533.1zM550.0 133.56H552.8V134.88H550.0zM561.2 133.56H564.0V134.88H561.2zM443.3 132.25H446.1V133.56H443.3zM448.9 132.25H451.7V133.56H448.9zM463.0 132.25H465.8V133.56H463.0zM474.2 132.25H477.0V133.56H474.2zM479.8 132.25H482.6V133.56H479.8zM502.3 132.25H505.1V133.56H502.3zM530.3 132.25H533.1V133.56H530.3zM555.6 132.25H558.4V133.56H555.6zM434.9 130.94H437.7V132.25H434.9zM457.3 130.94H460.1V132.25H457.3zM463.0 130.94H465.8V132.25H463.0zM488.2 130.94H491.0V132.25H488.2zM493.8 130.94H499.5V132.25H493.8zM505.1 130.94H507.9V132.25H505.1zM510.7 130.94H513.5V132.25H510.7zM533.1 130.94H536.0V132.25H533.1zM541.6 130.94H547.2V132.25H541.6zM555.6 130.94H564.0V132.25H555.6zM437.7 129.62H440.5V130.94H437.7zM446.1 129.62H448.9V130.94H446.1zM460.1 129.62H468.6V130.94H460.1zM474.2 129.62H477.0V130.94H474.2zM491.0 129.62H493.8V130.94H491.0zM513.5 129.62H516.3V130.94H513.5zM555.6 129.62H558.4V130.94H555.6zM429.3 128.31H432.1V129.62H429.3zM446.1 128.31H451.7V129.62H446.1zM479.8 128.31H482.6V129.62H479.8zM488.2 128.31H493.8V129.62H488.2zM519.1 128.31H524.7V129.62H519.1zM541.6 128.31H544.4V129.62H541.6zM558.4 128.31H561.2V129.62H558.4zM564.0 128.31H566.8V129.62H564.0zM443.3 127.00H446.1V128.31H443.3zM460.1 127.00H468.6V128.31H460.1zM474.2 127.00H477.0V128.31H474.2zM479.8 127.00H482.6V128.31H479.8zM493.8 127.00H496.6V128.31H493.8zM505.1 127.00H513.5V128.31H505.1zM516.3 127.00H521.9V128.31H516.3zM437.7 125.69H440.5V127.00H437.7zM454.5 125.69H457.3V127.00H454.5zM488.2 125.69H491.0V127.00H488.2zM496.6 125.69H499.5V127.00H496.6zM513.5 125.69H516.3V127.00H513.5zM530.3 125.69H533.1V127.00H530.3zM552.8 125.69H555.6V127.00H552.8zM564.0 125.69H566.8V127.00H564.0zM429.3 124.38H432.1V125.69H429.3zM443.3 124.38H448.9V125.69H443.3zM454.5 124.38H457.3V125.69H454.5zM468.6 124.38H474.2V125.69H468.6zM477.0 124.38H479.8V125.69H477.0zM488.2 124.38H491.0V125.69H488.2zM502.3 124.38H505.1V125.69H502.3zM510.7 124.38H513.5V125.69H510.7zM519.1 124.38H521.9V125.69H519.1zM544.4 124.38H558.4V125.69H544.4zM465.8 123.06H471.4V124.38H465.8zM477.0 123.06H479.8V124.38H477.0zM505.1 123.06H507.9V124.38H505.1zM524.7 123.06H527.5V124.38H524.7zM530.3 123.06H536.0V124.38H530.3zM538.8 123.06H541.6V124.38H538.8zM426.5 121.75H429.3V123.06H426.5zM451.7 121.75H457.3V123.06H451.7zM488.2 121.75H493.8V123.06H488.2zM519.1 121.75H521.9V123.06H519.1zM524.7 121.75H527.5V123.06H524.7zM533.1 121.75H538.8V123.06H533.1zM547.2 121.75H550.0V123.06H547.2zM558.4 121.75H561.2V123.06H558.4zM566.8 121.75H569.6V123.06H566.8zM426.5 120.44H429.3V121.75H426.5zM434.9 120.44H440.5V121.75H434.9zM448.9 120.44H451.7V121.75H448.9zM471.4 120.44H474.2V121.75H471.4zM477.0 120.44H482.6V121.75H477.0zM505.1 120.44H507.9V121.75H505.1zM516.3 120.44H519.1V121.75H516.3zM521.9 120.44H524.7V121.75H521.9zM471.4 119.12H474.2V120.44H471.4zM485.4 119.12H488.2V120.44H485.4zM496.6 119.12H499.5V120.44H496.6zM507.9 119.12H510.7V120.44H507.9zM516.3 119.12H519.1V120.44H516.3zM524.7 119.12H533.1V120.44H524.7zM538.8 119.12H541.6V120.44H538.8zM544.4 119.12H547.2V120.44H544.4zM566.8 119.12H569.6V120.44H566.8zM463.0 117.81H465.8V119.12H463.0zM474.2 117.81H477.0V119.12H474.2zM524.7 117.81H530.3V119.12H524.7zM541.6 117.81H544.4V119.12H541.6zM552.8 117.81H558.4V119.12H552.8zM434.9 116.50H437.7V117.81H434.9zM440.5 116.50H443.3V117.81H440.5zM454.5 116.50H457.3V117.81H454.5zM463.0 116.50H465.8V117.81H463.0zM488.2 116.50H491.0V117.81H488.2zM505.1 116.50H507.9V117.81H505.1zM510.7 116.50H513.5V117.81H510.7zM530.3 116.50H533.1V117.81H530.3zM536.0 116.50H538.8V117.81H536.0zM550.0 116.50H555.6V117.81H550.0zM451.7 115.19H454.5V116.50H451.7zM488.2 115.19H491.0V116.50H488.2zM499.5 115.19H502.3V116.50H499.5zM510.7 115.19H513.5V116.50H510.7zM519.1 115.19H521.9V116.50H519.1zM552.8 115.19H555.6V116.50H552.8zM463.0 113.88H465.8V115.19H463.0zM491.0 113.88H493.8V115.19H491.0zM519.1 113.88H521.9V115.19H519.1zM541.6 113.88H544.4V115.19H541.6zM552.8 113.88H555.6V115.19H552.8zM443.3 112.56H446.1V113.88H443.3zM471.4 112.56H474.2V113.88H471.4zM482.6 112.56H488.2V113.88H482.6zM491.0 112.56H496.6V113.88H491.0zM499.5 112.56H502.3V113.88H499.5zM527.5 112.56H530.3V113.88H527.5zM533.1 112.56H536.0V113.88H533.1zM561.2 112.56H564.0V113.88H561.2zM437.7 111.25H440.5V112.56H437.7zM448.9 111.25H451.7V112.56H448.9zM493.8 111.25H496.6V112.56H493.8zM507.9 111.25H510.7V112.56H507.9zM516.3 111.25H519.1V112.56H516.3zM530.3 111.25H533.1V112.56H530.3zM538.8 111.25H541.6V112.56H538.8zM544.4 111.25H547.2V112.56H544.4zM555.6 111.25H558.4V112.56H555.6zM564.0 111.25H566.8V112.56H564.0zM448.9 109.94H457.3V111.25H448.9zM465.8 109.94H468.6V111.25H465.8zM479.8 109.94H482.6V111.25H479.8zM488.2 109.94H491.0V111.25H488.2zM496.6 109.94H499.5V111.25H496.6zM510.7 109.94H513.5V111.25H510.7zM524.7 109.94H527.5V111.25H524.7zM530.3 109.94H533.1V111.25H530.3zM547.2 109.94H550.0V111.25H547.2zM555.6 109.94H558.4V111.25H555.6zM566.8 109.94H569.6V111.25H566.8zM454.5 108.62H457.3V109.94H454.5zM474.2 108.62H477.0V109.94H474.2zM491.0 108.62H493.8V109.94H491.0zM527.5 108.62H530.3V109.94H527.5zM550.0 108.62H552.8V109.94H550.0zM558.4 108.62H561.2V109.94H558.4zM429.3 107.31H432.1V108.62H429.3zM465.8 107.31H468.6V108.62H465.8zM496.6 107.31H502.3V108.62H496.6zM513.5 107.31H516.3V108.62H513.5zM530.3 107.31H547.2V108.62H530.3zM550.0 107.31H552.8V108.62H550.0zM561.2 107.31H564.0V108.62H561.2zM446.1 106.00H448.9V107.31H446.1zM451.7 106.00H454.5V107.31H451.7zM457.3 106.00H460.1V107.31H457.3zM468.6 106.00H471.4V107.31H468.6zM479.8 106.00H482.6V107.31H479.8zM496.6 106.00H499.5V107.31H496.6zM536.0 106.00H538.8V107.31H536.0zM544.4 106.00H547.2V107.31H544.4zM558.4 106.00H564.0V107.31H558.4zM426.5 104.69H429.3V106.00H426.5zM448.9 104.69H451.7V106.00H448.9zM468.6 104.69H471.4V106.00H468.6zM474.2 104.69H477.0V106.00H474.2zM493.8 104.69H496.6V106.00H493.8zM499.5 104.69H502.3V106.00H499.5zM527.5 104.69H530.3V106.00H527.5zM538.8 104.69H541.6V106.00H538.8zM547.2 104.69H550.0V106.00H547.2zM552.8 104.69H555.6V106.00H552.8zM564.0 104.69H566.8V106.00H564.0zM437.7 103.38H440.5V104.69H437.7zM454.5 103.38H457.3V104.69H454.5zM482.6 103.38H491.0V104.69H482.6zM499.5 103.38H507.9V104.69H499.5zM510.7 103.38H513.5V104.69H510.7zM524.7 103.38H527.5V104.69H524.7zM536.0 103.38H538.8V104.69H536.0zM544.4 103.38H547.2V104.69H544.4zM550.0 103.38H555.6V104.69H550.0zM561.2 103.38H564.0V104.69H561.2zM443.3 102.06H448.9V103.38H443.3zM463.0 102.06H465.8V103.38H463.0zM468.6 102.06H471.4V103.38H468.6zM488.2 102.06H493.8V103.38H488.2zM521.9 102.06H524.7V103.38H521.9zM530.3 102.06H533.1V103.38H530.3zM541.6 102.06H544.4V103.38H541.6zM443.3 100.75H448.9V102.06H443.3zM474.2 100.75H482.6V102.06H474.2zM493.8 100.75H496.6V102.06H493.8zM426.5 99.44H429.3V100.75H426.5zM446.1 99.44H448.9V100.75H446.1zM474.2 99.44H477.0V100.75H474.2zM482.6 99.44H485.4V100.75H482.6zM507.9 99.44H510.7V100.75H507.9zM533.1 99.44H536.0V100.75H533.1zM538.8 99.44H541.6V100.75H538.8zM544.4 99.44H550.0V100.75H544.4zM446.1 98.12H448.9V99.44H446.1zM454.5 98.12H457.3V99.44H454.5zM482.6 98.12H485.4V99.44H482.6zM491.0 98.12H493.8V99.44H491.0zM496.6 98.12H505.1V99.44H496.6zM510.7 98.12H513.5V99.44H510.7zM516.3 98.12H519.1V99.44H516.3zM530.3 98.12H533.1V99.44H530.3zM538.8 98.12H541.6V99.44H538.8zM547.2 98.12H550.0V99.44H547.2zM426.5 96.81H429.3V98.12H426.5zM432.1 96.81H440.5V98.12H432.1zM463.0 96.81H465.8V98.12H463.0zM474.2 96.81H477.0V98.12H474.2zM485.4 96.81H493.8V98.12H485.4zM502.3 96.81H505.1V98.12H502.3zM513.5 96.81H516.3V98.12H513.5zM544.4 96.81H547.2V98.12H544.4zM550.0 96.81H552.8V98.12H550.0zM566.8 96.81H569.6V98.12H566.8zM460.1 95.50H465.8V96.81H460.1zM488.2 95.50H491.0V96.81H488.2zM496.6 95.50H505.1V96.81H496.6zM547.2 95.50H550.0V96.81H547.2zM561.2 95.50H566.8V96.81H561.2zM426.5 94.19H429.3V95.50H426.5zM440.5 94.19H443.3V95.50H440.5zM457.3 94.19H460.1V95.50H457.3zM482.6 94.19H485.4V95.50H482.6zM507.9 94.19H510.7V95.50H507.9zM521.9 94.19H524.7V95.50H521.9zM527.5 94.19H530.3V95.50H527.5zM538.8 94.19H544.4V95.50H538.8zM555.6 94.19H561.2V95.50H555.6zM429.3 92.88H432.1V94.19H429.3zM457.3 92.88H460.1V94.19H457.3zM463.0 92.88H465.8V94.19H463.0zM474.2 92.88H477.0V94.19H474.2zM479.8 92.88H482.6V94.19H479.8zM491.0 92.88H493.8V94.19H491.0zM510.7 92.88H513.5V94.19H510.7zM516.3 92.88H519.1V94.19H516.3zM530.3 92.88H533.1V94.19H530.3zM561.2 92.88H564.0V94.19H561.2zM566.8 92.88H569.6V94.19H566.8zM432.1 91.56H434.9V92.88H432.1zM451.7 91.56H454.5V92.88H451.7zM471.4 91.56H474.2V92.88H471.4zM482.6 91.56H485.4V92.88H482.6zM491.0 91.56H493.8V92.88H491.0zM507.9 91.56H510.7V92.88H507.9zM538.8 91.56H541.6V92.88H538.8zM544.4 91.56H550.0V92.88H544.4zM555.6 91.56H558.4V92.88H555.6zM564.0 91.56H569.6V92.88H564.0zM516.3 90.25H519.1V91.56H516.3zM547.2 90.25H550.0V91.56H547.2zM555.6 90.25H558.4V91.56H555.6zM496.6 88.94H499.5V90.25H496.6zM510.7 88.94H513.5V90.25H510.7zM536.0 88.94H538.8V90.25H536.0zM552.8 88.94H555.6V90.25H552.8zM564.0 88.94H566.8V90.25H564.0zM451.7 87.62H454.5V88.94H451.7zM468.6 87.62H471.4V88.94H468.6zM482.6 87.62H488.2V88.94H482.6zM510.7 87.62H513.5V88.94H510.7zM519.1 87.62H521.9V88.94H519.1zM527.5 87.62H530.3V88.94H527.5zM536.0 87.62H538.8V88.94H536.0zM544.4 87.62H547.2V88.94H544.4zM552.8 87.62H555.6V88.94H552.8zM561.2 87.62H564.0V88.94H561.2zM440.5 86.31H443.3V87.62H440.5zM482.6 86.31H491.0V87.62H482.6zM493.8 86.31H499.5V87.62H493.8zM519.1 86.31H521.9V87.62H519.1zM524.7 86.31H527.5V87.62H524.7zM552.8 86.31H555.6V87.62H552.8zM561.2 86.31H564.0V87.62H561.2zM471.4 85.00H474.2V86.31H471.4zM479.8 85.00H482.6V86.31H479.8zM488.2 85.00H491.0V86.31H488.2zM519.1 85.00H521.9V86.31H519.1zM564.0 85.00H566.8V86.31H564.0zM451.7 83.69H454.5V85.00H451.7zM465.8 83.69H468.6V85.00H465.8zM471.4 83.69H474.2V85.00H471.4zM488.2 83.69H491.0V85.00H488.2zM550.0 83.69H552.8V85.00H550.0zM555.6 83.69H561.2V85.00H555.6zM564.0 83.69H566.8V85.00H564.0zM451.7 82.38H454.5V83.69H451.7zM491.0 82.38H493.8V83.69H491.0zM527.5 82.38H530.3V83.69H527.5zM544.4 82.38H547.2V83.69H544.4zM550.0 82.38H552.8V83.69H550.0zM564.0 82.38H566.8V83.69H564.0zM448.9 81.06H451.7V82.38H448.9zM463.0 81.06H465.8V82.38H463.0zM468.6 81.06H471.4V82.38H468.6zM479.8 81.06H485.4V82.38H479.8zM491.0 81.06H493.8V82.38H491.0zM496.6 81.06H499.5V82.38H496.6zM507.9 81.06H510.7V82.38H507.9zM530.3 81.06H533.1V82.38H530.3zM541.6 81.06H544.4V82.38H541.6zM561.2 81.06H564.0V82.38H561.2zM437.7 79.75H443.3V81.06H437.7zM465.8 79.75H468.6V81.06H465.8zM474.2 79.75H477.0V81.06H474.2zM479.8 79.75H482.6V81.06H479.8zM488.2 79.75H491.0V81.06H488.2zM499.5 79.75H502.3V81.06H499.5zM505.1 79.75H507.9V81.06H505.1zM561.2 79.75H564.0V81.06H561.2zM446.1 78.44H448.9V79.75H446.1zM460.1 78.44H463.0V79.75H460.1zM465.8 78.44H468.6V79.75H465.8zM477.0 78.44H479.8V79.75H477.0zM488.2 78.44H491.0V79.75H488.2zM516.3 78.44H519.1V79.75H516.3zM521.9 78.44H524.7V79.75H521.9zM460.1 77.12H463.0V78.44H460.1zM468.6 77.12H471.4V78.44H468.6zM482.6 77.12H485.4V78.44H482.6zM507.9 77.12H510.7V78.44H507.9zM521.9 77.12H524.7V78.44H521.9zM555.6 77.12H558.4V78.44H555.6zM434.9 75.81H437.7V77.12H434.9zM474.2 75.81H477.0V77.12H474.2zM479.8 75.81H482.6V77.12H479.8zM493.8 75.81H496.6V77.12H493.8zM510.7 75.81H513.5V77.12H510.7zM519.1 75.81H521.9V77.12H519.1zM530.3 75.81H533.1V77.12H530.3zM536.0 75.81H541.6V77.12H536.0zM547.2 75.81H552.8V77.12H547.2zM443.3 74.50H446.1V75.81H443.3zM451.7 74.50H454.5V75.81H451.7zM457.3 74.50H460.1V75.81H457.3zM485.4 74.50H488.2V75.81H485.4zM493.8 74.50H496.6V75.81H493.8zM499.5 74.50H502.3V75.81H499.5zM513.5 74.50H516.3V75.81H513.5zM541.6 74.50H547.2V75.81H541.6zM550.0 74.50H555.6V75.81H550.0zM429.3 73.19H432.1V74.50H429.3zM465.8 73.19H468.6V74.50H465.8zM477.0 73.19H479.8V74.50H477.0zM482.6 73.19H485.4V74.50H482.6zM488.2 73.19H491.0V74.50H488.2zM513.5 73.19H516.3V74.50H513.5zM521.9 73.19H524.7V74.50H521.9zM541.6 73.19H544.4V74.50H541.6zM547.2 73.19H550.0V74.50H547.2zM558.4 73.19H561.2V74.50H558.4zM564.0 73.19H566.8V74.50H564.0zM465.8 71.88H468.6V73.19H465.8zM477.0 71.88H479.8V73.19H477.0zM491.0 71.88H493.8V73.19H491.0zM499.5 71.88H505.1V73.19H499.5zM513.5 71.88H516.3V73.19H513.5zM530.3 71.88H533.1V73.19H530.3zM544.4 71.88H547.2V73.19H544.4zM561.2 71.88H564.0V73.19H561.2zM448.9 70.56H451.7V71.88H448.9zM463.0 70.56H465.8V71.88H463.0zM499.5 70.56H502.3V71.88H499.5zM519.1 70.56H527.5V71.88H519.1zM538.8 70.56H541.6V71.88H538.8zM544.4 70.56H550.0V71.88H544.4zM566.8 69.25H569.6V70.56H566.8zM482.6 67.94H485.4V69.25H482.6zM491.0 67.94H493.8V69.25H491.0zM499.5 67.94H502.3V69.25H499.5zM507.9 67.94H510.7V69.25H507.9zM536.0 67.94H538.8V69.25H536.0zM547.2 67.94H552.8V69.25H547.2zM558.4 67.94H561.2V69.25H558.4zM471.4 66.62H474.2V67.94H471.4zM488.2 66.62H491.0V67.94H488.2zM499.5 66.62H502.3V67.94H499.5zM505.1 66.62H507.9V67.94H505.1zM510.7 66.62H513.5V67.94H510.7zM521.9 66.62H524.7V67.94H521.9zM530.3 66.62H533.1V67.94H530.3zM550.0 66.62H552.8V67.94H550.0zM558.4 66.62H561.2V67.94H558.4zM465.8 65.31H468.6V66.62H465.8zM488.2 65.31H491.0V66.62H488.2zM499.5 65.31H502.3V66.62H499.5zM507.9 65.31H516.3V66.62H507.9zM521.9 65.31H524.7V66.62H521.9zM533.1 65.31H536.0V66.62H533.1zM550.0 65.31H552.8V66.62H550.0zM555.6 65.31H558.4V66.62H555.6zM561.2 65.31H566.8V66.62H561.2zM485.4 64.00H488.2V65.31H485.4zM505.1 64.00H507.9V65.31H505.1zM524.7 64.00H527.5V65.31H524.7zM530.3 64.00H533.1V65.31H530.3zM538.8 64.00H541.6V65.31H538.8zM547.2 64.00H550.0V65.31H547.2zM564.0 64.00H566.8V65.31H564.0zM446.1 62.69H448.9V64.00H446.1zM474.2 62.69H477.0V64.00H474.2zM499.5 62.69H502.3V64.00H499.5zM516.3 62.69H519.1V64.00H516.3zM530.3 62.69H533.1V64.00H530.3zM538.8 62.69H544.4V64.00H538.8zM561.2 62.69H564.0V64.00H561.2zM454.5 61.38H457.3V62.69H454.5zM507.9 61.38H510.7V62.69H507.9zM513.5 61.38H519.1V62.69H513.5zM530.3 61.38H533.1V62.69H530.3zM564.0 61.38H566.8V62.69H564.0zM443.3 60.06H446.1V61.38H443.3zM457.3 60.06H460.1V61.38H457.3zM471.4 60.06H474.2V61.38H471.4zM502.3 60.06H505.1V61.38H502.3zM507.9 60.06H510.7V61.38H507.9zM516.3 60.06H519.1V61.38H516.3zM530.3 60.06H536.0V61.38H530.3zM541.6 60.06H547.2V61.38H541.6zM550.0 60.06H555.6V61.38H550.0zM558.4 60.06H561.2V61.38H558.4zM496.6 58.75H499.5V60.06H496.6zM510.7 58.75H513.5V60.06H510.7zM516.3 58.75H519.1V60.06H516.3zM521.9 58.75H524.7V60.06H521.9zM550.0 58.75H555.6V60.06H550.0zM558.4 58.75H561.2V60.06H558.4zM564.0 58.75H566.8V60.06H564.0zM485.4 57.44H488.2V58.75H485.4zM507.9 57.44H510.7V58.75H507.9zM524.7 57.44H527.5V58.75H524.7zM547.2 57.44H552.8V58.75H547.2zM479.8 56.12H482.6V57.44H479.8zM485.4 56.12H488.2V57.44H485.4zM507.9 56.12H510.7V57.44H507.9zM521.9 56.12H524.7V57.44H521.9zM527.5 56.12H530.3V57.44H527.5zM541.6 56.12H547.2V57.44H541.6zM552.8 56.12H558.4V57.44H552.8zM561.2 56.12H566.8V57.44H561.2zM488.2 54.81H491.0V56.12H488.2zM499.5 54.81H502.3V56.12H499.5zM510.7 54.81H513.5V56.12H510.7zM521.9 54.81H524.7V56.12H521.9zM527.5 54.81H530.3V56.12H527.5zM547.2 54.81H550.0V56.12H547.2zM564.0 54.81H566.8V56.12H564.0zM527.5 53.50H536.0V54.81H527.5zM550.0 53.50H552.8V54.81H550.0zM564.0 53.50H566.8V54.81H564.0zM465.8 52.19H468.6V53.50H465.8zM488.2 52.19H491.0V53.50H488.2zM502.3 52.19H505.1V53.50H502.3zM507.9 52.19H519.1V53.50H507.9zM524.7 52.19H527.5V53.50H524.7zM536.0 52.19H538.8V53.50H536.0zM547.2 52.19H550.0V53.50H547.2zM488.2 50.88H491.0V52.19H488.2zM493.8 50.88H502.3V52.19H493.8zM513.5 50.88H516.3V52.19H513.5zM527.5 50.88H530.3V52.19H527.5zM547.2 50.88H550.0V52.19H547.2zM502.3 49.56H505.1V50.88H502.3zM558.4 49.56H569.6V50.88H558.4zM479.8 48.25H482.6V49.56H479.8zM488.2 48.25H491.0V49.56H488.2zM516.3 48.25H519.1V49.56H516.3zM530.3 48.25H533.1V49.56H530.3zM538.8 48.25H541.6V49.56H538.8zM561.2 48.25H564.0V49.56H561.2zM488.2 46.94H493.8V48.25H488.2zM510.7 46.94H516.3V48.25H510.7zM541.6 46.94H544.4V48.25H541.6zM561.2 46.94H564.0V48.25H561.2zM499.5 45.62H502.3V46.94H499.5zM519.1 45.62H521.9V46.94H519.1zM533.1 45.62H536.0V46.94H533.1zM541.6 45.62H544.4V46.94H541.6zM552.8 45.62H555.6V46.94H552.8zM561.2 45.62H566.8V46.94H561.2zM479.8 44.31H482.6V45.62H479.8zM488.2 44.31H491.0V45.62H488.2zM502.3 44.31H507.9V45.62H502.3zM544.4 44.31H547.2V45.62H544.4zM564.0 44.31H566.8V45.62H564.0z"/>
<path fill="#00bbff" shape-rendering="crispEdges" d="M485.4 146.69H488.2V148.00H485.4zM496.6 146.69H499.5V148.00H496.6zM505.1 146.69H507.9V148.00H505.1zM533.1 146.69H536.0V148.00H533.1zM538.8 146.69H541.6V148.00H538.8zM434.9 145.38H437.7V146.69H434.9zM460.1 145.38H468.6V146.69H460.1zM513.5 145.38H521.9V146.69H513.5zM536.0 145.38H541.6V146.69H536.0zM544.4 145.38H547.2V146.69H544.4zM552.8 145.38H555.6V146.69H552.8zM566.8 145.38H569.6V146.69H566.8zM451.7 144.06H454.5V145.38H451.7zM471.4 144.06H474.2V145.38H471.4zM496.6 144.06H505.1V145.38H496.6zM530.3 144.06H533.1V145.38H530.3zM541.6 144.06H544.4V145.38H541.6zM547.2 144.06H550.0V145.38H547.2zM552.8 144.06H555.6V145.38H552.8zM558.4 144.06H561.2V145.38H558.4zM443.3 142.75H446.1V144.06H443.3zM457.3 142.75H465.8V144.06H457.3zM474.2 142.75H477.0V144.06H474.2zM491.0 142.75H493.8V144.06H491.0zM513.5 142.75H516.3V144.06H513.5zM558.4 142.75H561.2V144.06H558.4zM468.6 141.44H471.4V142.75H468.6zM477.0 141.44H479.8V142.75H477.0zM488.2 141.44H491.0V142.75H488.2zM505.1 141.44H510.7V142.75H505.1zM513.5 141.44H516.3V142.75H513.5zM536.0 141.44H538.8V142.75H536.0zM541.6 141.44H550.0V142.75H541.6zM552.8 141.44H555.6V142.75H552.8zM564.0 141.44H566.8V142.75H564.0zM429.3 140.12H432.1V141.44H429.3zM479.8 140.12H482.6V141.44H479.8zM519.1 140.12H521.9V141.44H519.1zM538.8 140.12H541.6V141.44H538.8zM550.0 140.12H555.6V141.44H550.0zM454.5 138.81H457.3V140.12H454.5zM479.8 138.81H482.6V140.12H479.8zM510.7 138.81H513.5V140.12H510.7zM516.3 138.81H519.1V140.12H516.3zM536.0 138.81H538.8V140.12H536.0zM541.6 138.81H544.4V140.12H541.6zM552.8 138.81H555.6V140.12H552.8zM443.3 137.50H446.1V138.81H443.3zM454.5 137.50H457.3V138.81H454.5zM477.0 137.50H479.8V138.81H477.0zM505.1 137.50H507.9V138.81H505.1zM524.7 137.50H527.5V138.81H524.7zM550.0 137.50H552.8V138.81H550.0zM564.0 137.50H566.8V138.81H564.0zM437.7 136.19H440.5V137.50H437.7zM446.1 136.19H448.9V137.50H446.1zM451.7 136.19H454.5V137.50H451.7zM463.0 136.19H465.8V137.50H463.0zM477.0 136.19H479.8V137.50H477.0zM488.2 136.19H493.8V137.50H488.2zM505.1 136.19H507.9V137.50H505.1zM519.1 136.19H521.9V137.50H519.1zM524.7 136.19H527.5V137.50H524.7zM541.6 136.19H544.4V137.50H541.6zM547.2 136.19H552.8V137.50H547.2zM448.9 134.88H451.7V136.19H448.9zM454.5 134.88H457.3V136.19H454.5zM471.4 134.88H477.0V136.19H471.4zM485.4 134.88H488.2V136.19H485.4zM493.8 134.88H496.6V136.19H493.8zM521.9 134.88H524.7V136.19H521.9zM555.6 134.88H558.4V136.19H555.6zM457.3 133.56H463.0V134.88H457.3zM465.8 133.56H468.6V134.88H465.8zM474.2 133.56H477.0V134.88H474.2zM479.8 133.56H482.6V134.88H479.8zM505.1 133.56H507.9V134.88H505.1zM541.6 133.56H544.4V134.88H541.6zM564.0 133.56H566.8V134.88H564.0zM485.4 132.25H488.2V133.56H485.4zM499.5 132.25H502.3V133.56H499.5zM524.7 132.25H527.5V133.56H524.7zM536.0 132.25H538.8V133.56H536.0zM547.2 132.25H552.8V133.56H547.2zM558.4 132.25H561.2V133.56H558.4zM566.8 132.25H569.6V133.56H566.8zM454.5 130.94H457.3V132.25H454.5zM474.2 130.94H482.6V132.25H474.2zM502.3 130.94H505.1V132.25H502.3zM516.3 130.94H519.1V132.25H516.3zM536.0 130.94H538.8V132.25H536.0zM564.0 130.94H569.6V132.25H564.0zM477.0 129.62H479.8V130.94H477.0zM488.2 129.62H491.0V130.94H488.2zM507.9 129.62H510.7V130.94H507.9zM519.1 129.62H521.9V130.94H519.1zM536.0 129.62H538.8V130.94H536.0zM541.6 129.62H544.4V130.94H541.6zM550.0 129.62H552.8V130.94H550.0zM564.0 129.62H566.8V130.94H564.0zM432.1 128.31H434.9V129.62H432.1zM465.8 128.31H468.6V129.62H465.8zM471.4 128.31H474.2V129.62H471.4zM502.3 128.31H510.7V129.62H502.3zM513.5 128.31H516.3V129.62H513.5zM533.1 128.31H536.0V129.62H533.1zM544.4 128.31H552.8V129.62H544.4zM561.2 128.31H564.0V129.62H561.2zM437.7 127.00H440.5V128.31H437.7zM482.6 127.00H485.4V128.31H482.6zM496.6 127.00H499.5V128.31H496.6zM502.3 127.00H505.1V128.31H502.3zM513.5 127.00H516.3V128.31H513.5zM533.1 127.00H538.8V128.31H533.1zM547.2 127.00H552.8V128.31H547.2zM555.6 127.00H558.4V128.31H555.6zM474.2 125.69H477.0V127.00H474.2zM482.6 125.69H485.4V127.00H482.6zM507.9 125.69H510.7V127.00H507.9zM538.8 125.69H541.6V127.00H538.8zM544.4 125.69H550.0V127.00H544.4zM434.9 124.38H437.7V125.69H434.9zM460.1 124.38H465.8V125.69H460.1zM474.2 124.38H477.0V125.69H474.2zM507.9 124.38H510.7V125.69H507.9zM516.3 124.38H519.1V125.69H516.3zM521.9 124.38H524.7V125.69H521.9zM533.1 124.38H536.0V125.69H533.1zM558.4 124.38H561.2V125.69H558.4zM488.2 123.06H491.0V124.38H488.2zM519.1 123.06H521.9V124.38H519.1zM550.0 123.06H558.4V124.38H550.0zM460.1 121.75H463.0V123.06H460.1zM474.2 121.75H479.8V123.06H474.2zM485.4 121.75H488.2V123.06H485.4zM496.6 121.75H499.5V123.06H496.6zM521.9 121.75H524.7V123.06H521.9zM530.3 121.75H533.1V123.06H530.3zM550.0 121.75H552.8V123.06H550.0zM443.3 120.44H448.9V121.75H443.3zM451.7 120.44H454.5V121.75H451.7zM457.3 120.44H460.1V121.75H457.3zM465.8 120.44H468.6V121.75H465.8zM491.0 120.44H493.8V121.75H491.0zM510.7 120.44H513.5V121.75H510.7zM550.0 120.44H555.6V121.75H550.0zM558.4 120.44H561.2V121.75H558.4zM510.7 119.12H513.5V120.44H510.7zM521.9 119.12H524.7V120.44H521.9zM536.0 119.12H538.8V120.44H536.0zM555.6 119.12H558.4V120.44H555.6zM561.2 119.12H564.0V120.44H561.2zM457.3 117.81H460.1V119.12H457.3zM477.0 117.81H479.8V119.12H477.0zM488.2 117.81H491.0V119.12H488.2zM502.3 117.81H505.1V119.12H502.3zM477.0 116.50H479.8V117.81H477.0zM485.4 116.50H488.2V117.81H485.4zM496.6 116.50H499.5V117.81H496.6zM521.9 116.50H524.7V117.81H521.9zM527.5 116.50H530.3V117.81H527.5zM555.6 116.50H558.4V117.81H555.6zM564.0 116.50H566.8V117.81H564.0zM443.3 115.19H446.1V116.50H443.3zM468.6 115.19H471.4V116.50H468.6zM479.8 115.19H482.6V116.50H479.8zM496.6 115.19H499.5V116.50H496.6zM533.1 115.19H536.0V116.50H533.1zM541.6 115.19H544.4V116.50H541.6zM468.6 113.88H471.4V115.19H468.6zM479.8 113.88H482.6V115.19H479.8zM499.5 113.88H502.3V115.19H499.5zM505.1 113.88H507.9V115.19H505.1zM527.5 113.88H530.3V115.19H527.5zM555.6 113.88H558.4V115.19H555.6zM564.0 113.88H569.6V115.19H564.0zM457.3 112.56H460.1V113.88H457.3zM463.0 112.56H465.8V113.88H463.0zM474.2 112.56H477.0V113.88H474.2zM479.8 112.56H482.6V113.88H479.8zM488.2 112.56H491.0V113.88H488.2zM502.3 112.56H505.1V113.88H502.3zM507.9 112.56H516.3V113.88H507.9zM541.6 112.56H544.4V113.88H541.6zM552.8 112.56H555.6V113.88H552.8zM454.5 111.25H457.3V112.56H454.5zM479.8 111.25H482.6V112.56H479.8zM488.2 111.25H491.0V112.56H488.2zM547.2 111.25H550.0V112.56H547.2zM558.4 111.25H564.0V112.56H558.4zM493.8 109.94H496.6V111.25H493.8zM505.1 109.94H507.9V111.25H505.1zM513.5 109.94H516.3V111.25H513.5zM519.1 109.94H524.7V111.25H519.1zM544.4 109.94H547.2V111.25H544.4zM550.0 109.94H552.8V111.25H550.0zM457.3 108.62H460.1V109.94H457.3zM482.6 108.62H488.2V109.94H482.6zM502.3 108.62H505.1V109.94H502.3zM507.9 108.62H510.7V109.94H507.9zM513.5 108.62H516.3V109.94H513.5zM519.1 108.62H521.9V109.94H519.1zM530.3 108.62H536.0V109.94H530.3zM541.6 108.62H547.2V109.94H541.6zM561.2 108.62H564.0V109.94H561.2zM547.2 107.31H550.0V108.62H547.2zM491.0 106.00H496.6V107.31H491.0zM502.3 106.00H505.1V107.31H502.3zM564.0 106.00H566.8V107.31H564.0zM451.7 104.69H454.5V106.00H451.7zM488.2 104.69H493.8V106.00H488.2zM505.1 104.69H507.9V106.00H505.1zM519.1 104.69H521.9V106.00H519.1zM524.7 104.69H527.5V106.00H524.7zM541.6 104.69H544.4V106.00H541.6zM558.4 104.69H564.0V106.00H558.4zM566.8 104.69H569.6V106.00H566.8zM426.5 103.38H429.3V104.69H426.5zM491.0 103.38H493.8V104.69H491.0zM507.9 103.38H510.7V104.69H507.9zM513.5 103.38H516.3V104.69H513.5zM530.3 103.38H533.1V104.69H530.3zM558.4 103.38H561.2V104.69H558.4zM482.6 102.06H488.2V103.38H482.6zM502.3 102.06H505.1V103.38H502.3zM524.7 102.06H530.3V103.38H524.7zM533.1 102.06H538.8V103.38H533.1zM550.0 102.06H552.8V103.38H550.0zM555.6 102.06H558.4V103.38H555.6zM463.0 100.75H465.8V102.06H463.0zM482.6 100.75H485.4V102.06H482.6zM499.5 100.75H502.3V102.06H499.5zM505.1 100.75H510.7V102.06H505.1zM530.3 100.75H533.1V102.06H530.3zM538.8 100.75H541.6V102.06H538.8zM550.0 100.75H552.8V102.06H550.0zM561.2 100.75H564.0V102.06H561.2zM437.7 99.44H440.5V100.75H437.7zM502.3 99.44H505.1V100.75H502.3zM519.1 99.44H524.7V100.75H519.1zM536.0 99.44H538.8V100.75H536.0zM552.8 99.44H555.6V100.75H552.8zM451.7 98.12H454.5V99.44H451.7zM463.0 98.12H468.6V99.44H463.0zM471.4 98.12H477.0V99.44H471.4zM479.8 98.12H482.6V99.44H479.8zM505.1 98.12H507.9V99.44H505.1zM519.1 98.12H527.5V99.44H519.1zM440.5 96.81H443.3V98.12H440.5zM465.8 96.81H471.4V98.12H465.8zM496.6 96.81H499.5V98.12H496.6zM521.9 96.81H524.7V98.12H521.9zM530.3 96.81H533.1V98.12H530.3zM541.6 96.81H544.4V98.12H541.6zM443.3 95.50H446.1V96.81H443.3zM454.5 95.50H460.1V96.81H454.5zM474.2 95.50H477.0V96.81H474.2zM482.6 95.50H485.4V96.81H482.6zM505.1 95.50H507.9V96.81H505.1zM513.5 95.50H516.3V96.81H513.5zM519.1 95.50H521.9V96.81H519.1zM541.6 95.50H547.2V96.81H541.6zM429.3 94.19H432.1V95.50H429.3zM454.5 94.19H457.3V95.50H454.5zM468.6 94.19H471.4V95.50H468.6zM502.3 94.19H505.1V95.50H502.3zM513.5 94.19H516.3V95.50H513.5zM519.1 94.19H521.9V95.50H519.1zM544.4 94.19H547.2V95.50H544.4zM443.3 92.88H446.1V94.19H443.3zM471.4 92.88H474.2V94.19H471.4zM496.6 92.88H499.5V94.19H496.6zM505.1 92.88H507.9V94.19H505.1zM524.7 92.88H527.5V94.19H524.7zM536.0 92.88H538.8V94.19H536.0zM541.6 92.88H544.4V94.19H541.6zM547.2 92.88H552.8V94.19H547.2zM555.6 92.88H558.4V94.19H555.6zM465.8 91.56H468.6V92.88H465.8zM519.1 91.56H521.9V92.88H519.1zM527.5 91.56H530.3V92.88H527.5zM533.1 91.56H536.0V92.88H533.1zM550.0 91.56H552.8V92.88H550.0zM460.1 90.25H463.0V91.56H460.1zM488.2 90.25H491.0V91.56H488.2zM493.8 90.25H496.6V91.56H493.8zM499.5 90.25H502.3V91.56H499.5zM513.5 90.25H516.3V91.56H513.5zM524.7 90.25H527.5V91.56H524.7zM564.0 90.25H566.8V91.56H564.0zM434.9 88.94H437.7V90.25H434.9zM468.6 88.94H474.2V90.25H468.6zM482.6 88.94H491.0V90.25H482.6zM502.3 88.94H505.1V90.25H502.3zM513.5 88.94H516.3V90.25H513.5zM527.5 88.94H530.3V90.25H527.5zM533.1 88.94H536.0V90.25H533.1zM538.8 88.94H541.6V90.25H538.8zM550.0 88.94H552.8V90.25H550.0zM555.6 88.94H558.4V90.25H555.6zM443.3 87.62H446.1V88.94H443.3zM505.1 87.62H510.7V88.94H505.1zM513.5 87.62H516.3V88.94H513.5zM541.6 87.62H544.4V88.94H541.6zM558.4 87.62H561.2V88.94H558.4zM451.7 86.31H454.5V87.62H451.7zM474.2 86.31H477.0V87.62H474.2zM516.3 86.31H519.1V87.62H516.3zM533.1 86.31H541.6V87.62H533.1zM468.6 85.00H471.4V86.31H468.6zM482.6 85.00H485.4V86.31H482.6zM505.1 85.00H510.7V86.31H505.1zM521.9 85.00H524.7V86.31H521.9zM533.1 85.00H536.0V86.31H533.1zM538.8 85.00H544.4V86.31H538.8zM547.2 85.00H555.6V86.31H547.2zM505.1 83.69H507.9V85.00H505.1zM530.3 83.69H533.1V85.00H530.3zM544.4 83.69H547.2V85.00H544.4zM448.9 82.38H451.7V83.69H448.9zM468.6 82.38H471.4V83.69H468.6zM502.3 82.38H505.1V83.69H502.3zM530.3 82.38H536.0V83.69H530.3zM477.0 81.06H479.8V82.38H477.0zM485.4 81.06H488.2V82.38H485.4zM510.7 81.06H516.3V82.38H510.7zM524.7 81.06H527.5V82.38H524.7zM536.0 81.06H538.8V82.38H536.0zM547.2 81.06H550.0V82.38H547.2zM552.8 81.06H555.6V82.38H552.8zM519.1 79.75H521.9V81.06H519.1zM482.6 78.44H485.4V79.75H482.6zM510.7 78.44H513.5V79.75H510.7zM524.7 78.44H536.0V79.75H524.7zM541.6 78.44H544.4V79.75H541.6zM564.0 78.44H566.8V79.75H564.0zM488.2 77.12H491.0V78.44H488.2zM493.8 77.12H496.6V78.44H493.8zM527.5 77.12H530.3V78.44H527.5zM541.6 77.12H544.4V78.44H541.6zM564.0 77.12H566.8V78.44H564.0zM460.1 75.81H463.0V77.12H460.1zM516.3 75.81H519.1V77.12H516.3zM555.6 75.81H558.4V77.12H555.6zM561.2 75.81H566.8V77.12H561.2zM538.8 74.50H541.6V75.81H538.8zM547.2 74.50H550.0V75.81H547.2zM555.6 74.50H558.4V75.81H555.6zM561.2 74.50H564.0V75.81H561.2zM460.1 73.19H463.0V74.50H460.1zM485.4 73.19H488.2V74.50H485.4zM499.5 73.19H502.3V74.50H499.5zM516.3 73.19H519.1V74.50H516.3zM524.7 73.19H527.5V74.50H524.7zM550.0 73.19H552.8V74.50H550.0zM561.2 73.19H564.0V74.50H561.2zM505.1 71.88H507.9V73.19H505.1zM516.3 71.88H521.9V73.19H516.3zM541.6 71.88H544.4V73.19H541.6zM547.2 71.88H550.0V73.19H547.2zM564.0 71.88H566.8V73.19H564.0zM513.5 70.56H516.3V71.88H513.5zM530.3 70.56H536.0V71.88H530.3zM555.6 70.56H558.4V71.88H555.6zM496.6 69.25H499.5V70.56H496.6zM502.3 69.25H505.1V70.56H502.3zM510.7 69.25H513.5V70.56H510.7zM516.3 69.25H521.9V70.56H516.3zM524.7 69.25H527.5V70.56H524.7zM538.8 69.25H541.6V70.56H538.8zM547.2 69.25H550.0V70.56H547.2zM485.4 67.94H488.2V69.25H485.4zM530.3 67.94H533.1V69.25H530.3zM538.8 67.94H541.6V69.25H538.8zM564.0 67.94H566.8V69.25H564.0zM477.0 66.62H479.8V67.94H477.0zM485.4 66.62H488.2V67.94H485.4zM491.0 66.62H493.8V67.94H491.0zM502.3 66.62H505.1V67.94H502.3zM513.5 66.62H516.3V67.94H513.5zM519.1 66.62H521.9V67.94H519.1zM527.5 66.62H530.3V67.94H527.5zM533.1 66.62H536.0V67.94H533.1zM538.8 66.62H541.6V67.94H538.8zM544.4 66.62H547.2V67.94H544.4zM552.8 66.62H558.4V67.94H552.8zM471.4 65.31H474.2V66.62H471.4zM491.0 65.31H493.8V66.62H491.0zM541.6 65.31H544.4V66.62H541.6zM558.4 65.31H561.2V66.62H558.4zM491.0 64.00H493.8V65.31H491.0zM550.0 64.00H555.6V65.31H550.0zM485.4 62.69H488.2V64.00H485.4zM496.6 62.69H499.5V64.00H496.6zM502.3 62.69H505.1V64.00H502.3zM558.4 62.69H561.2V64.00H558.4zM564.0 62.69H566.8V64.00H564.0zM468.6 61.38H471.4V62.69H468.6zM505.1 61.38H507.9V62.69H505.1zM541.6 61.38H547.2V62.69H541.6zM555.6 61.38H558.4V62.69H555.6zM488.2 60.06H491.0V61.38H488.2zM555.6 60.06H558.4V61.38H555.6zM463.0 58.75H465.8V60.06H463.0zM524.7 58.75H527.5V60.06H524.7zM530.3 58.75H533.1V60.06H530.3zM474.2 57.44H477.0V58.75H474.2zM541.6 57.44H544.4V58.75H541.6zM558.4 57.44H561.2V58.75H558.4zM477.0 54.81H479.8V56.12H477.0zM561.2 54.81H564.0V56.12H561.2zM502.3 53.50H505.1V54.81H502.3zM510.7 53.50H513.5V54.81H510.7zM555.6 53.50H558.4V54.81H555.6zM519.1 52.19H521.9V53.50H519.1zM530.3 52.19H536.0V53.50H530.3zM541.6 52.19H544.4V53.50H541.6zM561.2 52.19H564.0V53.50H561.2zM468.6 50.88H471.4V52.19H468.6zM505.1 50.88H507.9V52.19H505.1zM533.1 50.88H536.0V52.19H533.1zM564.0 50.88H566.8V52.19H564.0zM555.6 49.56H558.4V50.88H555.6zM491.0 48.25H493.8V49.56H491.0zM550.0 48.25H555.6V49.56H550.0zM505.1 46.94H507.9V48.25H505.1zM463.0 45.62H465.8V46.94H463.0zM502.3 45.62H505.1V46.94H502.3zM513.5 44.31H516.3V45.62H513.5zM519.1 44.31H521.9V45.62H519.1z"/>
<path fill="#00ff0e" shape-rendering="crispEdges" d="M488.2 146.69H491.0V148.00H488.2zM443.3 145.38H446.1V146.69H443.3zM454.5 145.38H457.3V146.69H454.5zM465.8 144.06H468.6V145.38H465.8zM426.5 142.75H429.3V144.06H426.5zM432.1 142.75H434.9V144.06H432.1zM460.1 141.44H463.0V142.75H460.1zM426.5 140.12H429.3V141.44H426.5zM454.5 140.12H457.3V141.44H454.5zM530.3 138.81H533.1V140.12H530.3zM496.6 136.19H499.5V137.50H496.6zM446.1 134.88H448.9V136.19H446.1zM423.6 133.56H426.5V134.88H423.6zM440.5 133.56H443.3V134.88H440.5zM547.2 133.56H550.0V134.88H547.2zM437.7 132.25H440.5V133.56H437.7zM468.6 132.25H471.4V133.56H468.6zM426.5 130.94H429.3V132.25H426.5zM446.1 130.94H448.9V132.25H446.1zM440.5 129.62H443.3V130.94H440.5zM566.8 129.62H569.6V130.94H566.8zM434.9 128.31H437.7V129.62H434.9zM440.5 128.31H443.3V129.62H440.5zM477.0 128.31H479.8V129.62H477.0zM485.4 128.31H488.2V129.62H485.4zM434.9 125.69H437.7V127.00H434.9zM460.1 125.69H465.8V127.00H460.1zM471.4 125.69H474.2V127.00H471.4zM502.3 125.69H505.1V127.00H502.3zM566.8 124.38H569.6V125.69H566.8zM423.6 123.06H426.5V124.38H423.6zM434.9 123.06H448.9V124.38H434.9zM463.0 123.06H465.8V124.38H463.0zM561.2 123.06H564.0V124.38H561.2zM434.9 121.75H437.7V123.06H434.9zM552.8 121.75H555.6V123.06H552.8zM426.5 119.12H429.3V120.44H426.5zM446.1 119.12H448.9V120.44H446.1zM533.1 119.12H536.0V120.44H533.1zM451.7 117.81H454.5V119.12H451.7zM530.3 117.81H533.1V119.12H530.3zM429.3 115.19H432.1V116.50H429.3zM460.1 115.19H463.0V116.50H460.1zM429.3 113.88H432.1V115.19H429.3zM429.3 112.56H434.9V113.88H429.3zM538.8 112.56H541.6V113.88H538.8zM566.8 112.56H569.6V113.88H566.8zM423.6 111.25H426.5V112.56H423.6zM432.1 111.25H437.7V112.56H432.1zM477.0 111.25H479.8V112.56H477.0zM426.5 109.94H429.3V111.25H426.5zM429.3 108.62H432.1V109.94H429.3zM426.5 107.31H429.3V108.62H426.5zM448.9 107.31H451.7V108.62H448.9zM454.5 107.31H457.3V108.62H454.5zM443.3 106.00H446.1V107.31H443.3zM474.2 106.00H477.0V107.31H474.2zM429.3 104.69H432.1V106.00H429.3zM457.3 104.69H460.1V106.00H457.3zM479.8 104.69H482.6V106.00H479.8zM423.6 103.38H426.5V104.69H423.6zM566.8 103.38H569.6V104.69H566.8zM471.4 102.06H474.2V103.38H471.4zM423.6 100.75H426.5V102.06H423.6zM465.8 100.75H468.6V102.06H465.8zM457.3 99.44H460.1V100.75H457.3zM541.6 99.44H544.4V100.75H541.6zM434.9 98.12H437.7V99.44H434.9zM564.0 98.12H566.8V99.44H564.0zM479.8 96.81H482.6V98.12H479.8zM485.4 95.50H488.2V96.81H485.4zM524.7 95.50H527.5V96.81H524.7zM423.6 94.19H426.5V95.50H423.6zM437.7 92.88H440.5V94.19H437.7zM446.1 92.88H448.9V94.19H446.1zM426.5 91.56H429.3V92.88H426.5zM457.3 91.56H460.1V92.88H457.3zM510.7 91.56H513.5V92.88H510.7zM429.3 90.25H432.1V91.56H429.3zM434.9 90.25H437.7V91.56H434.9zM468.6 90.25H471.4V91.56H468.6zM550.0 90.25H552.8V91.56H550.0zM566.8 90.25H569.6V91.56H566.8zM448.9 88.94H454.5V90.25H448.9zM465.8 88.94H468.6V90.25H465.8zM516.3 88.94H519.1V90.25H516.3zM566.8 88.94H569.6V90.25H566.8zM429.3 87.62H432.1V88.94H429.3zM521.9 87.62H524.7V88.94H521.9zM566.8 87.62H569.6V88.94H566.8zM434.9 86.31H437.7V87.62H434.9zM465.8 86.31H468.6V87.62H465.8zM558.4 86.31H561.2V87.62H558.4zM432.1 85.00H434.9V86.31H432.1zM437.7 85.00H443.3V86.31H437.7zM454.5 85.00H457.3V86.31H454.5zM474.2 85.00H479.8V86.31H474.2zM432.1 83.69H434.9V85.00H432.1zM474.2 83.69H477.0V85.00H474.2zM482.6 83.69H485.4V85.00H482.6zM491.0 83.69H493.8V85.00H491.0zM566.8 83.69H569.6V85.00H566.8zM437.7 82.38H440.5V83.69H437.7zM541.6 82.38H544.4V83.69H541.6zM432.1 81.06H434.9V82.38H432.1zM443.3 81.06H446.1V82.38H443.3zM516.3 81.06H519.1V82.38H516.3zM426.5 79.75H429.3V81.06H426.5zM457.3 79.75H460.1V81.06H457.3zM457.3 78.44H460.1V79.75H457.3zM507.9 78.44H510.7V79.75H507.9zM426.5 77.12H429.3V78.44H426.5zM432.1 77.12H434.9V78.44H432.1zM454.5 77.12H457.3V78.44H454.5zM566.8 77.12H569.6V78.44H566.8zM426.5 75.81H429.3V77.12H426.5zM437.7 75.81H440.5V77.12H437.7zM477.0 75.81H479.8V77.12H477.0zM429.3 74.50H434.9V75.81H429.3zM437.7 74.50H440.5V75.81H437.7zM448.9 74.50H451.7V75.81H448.9zM437.7 73.19H440.5V74.50H437.7zM446.1 73.19H448.9V74.50H446.1zM457.3 73.19H460.1V74.50H457.3zM457.3 71.88H460.1V73.19H457.3zM468.6 71.88H471.4V73.19H468.6zM474.2 71.88H477.0V73.19H474.2zM479.8 71.88H482.6V73.19H479.8zM429.3 70.56H432.1V71.88H429.3zM429.3 69.25H434.9V70.56H429.3zM448.9 69.25H451.7V70.56H448.9zM457.3 69.25H460.1V70.56H457.3zM463.0 69.25H465.8V70.56H463.0zM471.4 69.25H474.2V70.56H471.4zM493.8 69.25H496.6V70.56H493.8zM513.5 69.25H516.3V70.56H513.5zM423.6 67.94H426.5V69.25H423.6zM477.0 67.94H479.8V69.25H477.0zM488.2 67.94H491.0V69.25H488.2zM510.7 67.94H513.5V69.25H510.7zM555.6 67.94H558.4V69.25H555.6zM426.5 66.62H429.3V67.94H426.5zM434.9 66.62H440.5V67.94H434.9zM474.2 66.62H477.0V67.94H474.2zM474.2 65.31H477.0V66.62H474.2zM448.9 64.00H451.7V65.31H448.9zM474.2 64.00H477.0V65.31H474.2zM558.4 64.00H561.2V65.31H558.4zM550.0 62.69H552.8V64.00H550.0zM463.0 61.38H468.6V62.69H463.0zM477.0 61.38H479.8V62.69H477.0zM491.0 61.38H493.8V62.69H491.0zM496.6 61.38H499.5V62.69H496.6zM536.0 61.38H538.8V62.69H536.0zM566.8 61.38H569.6V62.69H566.8zM477.0 60.06H479.8V61.38H477.0zM485.4 60.06H488.2V61.38H485.4zM440.5 58.75H448.9V60.06H440.5zM454.5 58.75H457.3V60.06H454.5zM479.8 58.75H485.4V60.06H479.8zM493.8 58.75H496.6V60.06H493.8zM555.6 58.75H558.4V60.06H555.6zM566.8 58.75H569.6V60.06H566.8zM429.3 57.44H432.1V58.75H429.3zM443.3 57.44H446.1V58.75H443.3zM451.7 57.44H457.3V58.75H451.7zM471.4 57.44H474.2V58.75H471.4zM477.0 57.44H479.8V58.75H477.0zM499.5 57.44H502.3V58.75H499.5zM536.0 57.44H538.8V58.75H536.0zM432.1 56.12H434.9V57.44H432.1zM437.7 56.12H440.5V57.44H437.7zM451.7 56.12H454.5V57.44H451.7zM457.3 56.12H463.0V57.44H457.3zM491.0 56.12H493.8V57.44H491.0zM519.1 56.12H521.9V57.44H519.1zM429.3 54.81H432.1V56.12H429.3zM471.4 54.81H477.0V56.12H471.4zM482.6 54.81H488.2V56.12H482.6zM432.1 53.50H434.9V54.81H432.1zM457.3 53.50H465.8V54.81H457.3zM488.2 53.50H491.0V54.81H488.2zM437.7 52.19H440.5V53.50H437.7zM451.7 52.19H454.5V53.50H451.7zM477.0 52.19H479.8V53.50H477.0zM485.4 52.19H488.2V53.50H485.4zM505.1 52.19H507.9V53.50H505.1zM429.3 50.88H432.1V52.19H429.3zM443.3 50.88H446.1V52.19H443.3zM457.3 50.88H460.1V52.19H457.3zM479.8 50.88H482.6V52.19H479.8zM561.2 50.88H564.0V52.19H561.2zM566.8 50.88H569.6V52.19H566.8zM457.3 49.56H460.1V50.88H457.3zM468.6 49.56H471.4V50.88H468.6zM479.8 49.56H482.6V50.88H479.8zM434.9 48.25H440.5V49.56H434.9zM443.3 48.25H446.1V49.56H443.3zM457.3 48.25H460.1V49.56H457.3zM468.6 48.25H471.4V49.56H468.6zM493.8 48.25H496.6V49.56H493.8zM505.1 48.25H507.9V49.56H505.1zM564.0 48.25H566.8V49.56H564.0zM440.5 46.94H443.3V48.25H440.5zM451.7 46.94H457.3V48.25H451.7zM463.0 46.94H465.8V48.25H463.0zM499.5 46.94H502.3V48.25H499.5zM440.5 45.62H443.3V46.94H440.5zM446.1 45.62H448.9V46.94H446.1zM451.7 45.62H454.5V46.94H451.7zM457.3 45.62H460.1V46.94H457.3zM465.8 45.62H468.6V46.94H465.8zM479.8 45.62H482.6V46.94H479.8zM491.0 45.62H493.8V46.94H491.0zM440.5 44.31H443.3V45.62H440.5zM446.1 44.31H448.9V45.62H446.1zM463.0 44.31H465.8V45.62H463.0zM477.0 44.31H479.8V45.62H477.0zM485.4 44.31H488.2V45.62H485.4zM491.0 44.31H493.8V45.62H491.0zM496.6 44.31H499.5V45.62H496.6zM507.9 44.31H510.7V45.62H507.9zM513.5 43.00H519.1V44.31H513.5zM527.5 43.00H530.3V44.31H527.5zM538.8 43.00H544.4V44.31H538.8zM552.8 43.00H555.6V44.31H552.8z"/>
<path fill="#0044ff" shape-rendering="crispEdges" d="M493.8 146.69H496.6V148.00H493.8zM513.5 146.69H516.3V148.00H513.5zM524.7 146.69H527.5V148.00H524.7zM499.5 145.38H502.3V146.69H499.5zM516.3 144.06H519.1V145.38H516.3zM533.1 144.06H538.8V145.38H533.1zM550.0 144.06H552.8V145.38H550.0zM507.9 142.75H510.7V144.06H507.9zM552.8 142.75H558.4V144.06H552.8zM527.5 141.44H530.3V142.75H527.5zM538.8 141.44H541.6V142.75H538.8zM485.4 140.12H488.2V141.44H485.4zM502.3 140.12H505.1V141.44H502.3zM541.6 140.12H544.4V141.44H541.6zM558.4 140.12H564.0V141.44H558.4zM488.2 138.81H491.0V140.12H488.2zM493.8 138.81H496.6V140.12H493.8zM507.9 138.81H510.7V140.12H507.9zM482.6 137.50H485.4V138.81H482.6zM507.9 137.50H510.7V138.81H507.9zM530.3 137.50H533.1V138.81H530.3zM538.8 137.50H541.6V138.81H538.8zM561.2 137.50H564.0V138.81H561.2zM432.1 136.19H434.9V137.50H432.1zM552.8 136.19H555.6V137.50H552.8zM496.6 134.88H499.5V136.19H496.6zM507.9 134.88H510.7V136.19H507.9zM530.3 134.88H533.1V136.19H530.3zM547.2 134.88H550.0V136.19H547.2zM561.2 134.88H566.8V136.19H561.2zM488.2 133.56H493.8V134.88H488.2zM544.4 133.56H547.2V134.88H544.4zM510.7 132.25H513.5V133.56H510.7zM538.8 130.94H541.6V132.25H538.8zM550.0 130.94H555.6V132.25H550.0zM482.6 129.62H485.4V130.94H482.6zM499.5 129.62H502.3V130.94H499.5zM538.8 129.62H541.6V130.94H538.8zM561.2 129.62H564.0V130.94H561.2zM468.6 128.31H471.4V129.62H468.6zM538.8 128.31H541.6V129.62H538.8zM552.8 128.31H555.6V129.62H552.8zM485.4 127.00H488.2V128.31H485.4zM538.8 127.00H541.6V128.31H538.8zM561.2 127.00H564.0V128.31H561.2zM491.0 125.69H493.8V127.00H491.0zM519.1 125.69H521.9V127.00H519.1zM491.0 124.38H493.8V125.69H491.0zM527.5 123.06H530.3V124.38H527.5zM516.3 121.75H519.1V123.06H516.3zM561.2 121.75H564.0V123.06H561.2zM530.3 120.44H533.1V121.75H530.3zM541.6 120.44H544.4V121.75H541.6zM555.6 120.44H558.4V121.75H555.6zM448.9 119.12H451.7V120.44H448.9zM541.6 119.12H544.4V120.44H541.6zM493.8 117.81H496.6V119.12H493.8zM510.7 117.81H513.5V119.12H510.7zM516.3 117.81H519.1V119.12H516.3zM544.4 117.81H547.2V119.12H544.4zM550.0 117.81H552.8V119.12H550.0zM485.4 115.19H488.2V116.50H485.4zM493.8 115.19H496.6V116.50H493.8zM524.7 115.19H530.3V116.50H524.7zM544.4 115.19H550.0V116.50H544.4zM488.2 113.88H491.0V115.19H488.2zM493.8 113.88H496.6V115.19H493.8zM502.3 113.88H505.1V115.19H502.3zM505.1 112.56H507.9V113.88H505.1zM530.3 112.56H533.1V113.88H530.3zM547.2 112.56H552.8V113.88H547.2zM485.4 111.25H488.2V112.56H485.4zM502.3 111.25H505.1V112.56H502.3zM519.1 111.25H521.9V112.56H519.1zM527.5 111.25H530.3V112.56H527.5zM536.0 111.25H538.8V112.56H536.0zM499.5 109.94H502.3V111.25H499.5zM552.8 109.94H555.6V111.25H552.8zM463.0 108.62H465.8V109.94H463.0zM496.6 108.62H499.5V109.94H496.6zM521.9 107.31H524.7V108.62H521.9zM527.5 107.31H530.3V108.62H527.5zM485.4 106.00H488.2V107.31H485.4zM510.7 106.00H513.5V107.31H510.7zM519.1 106.00H521.9V107.31H519.1zM550.0 104.69H552.8V106.00H550.0zM468.6 103.38H471.4V104.69H468.6zM521.9 103.38H524.7V104.69H521.9zM527.5 103.38H530.3V104.69H527.5zM541.6 103.38H544.4V104.69H541.6zM519.1 102.06H521.9V103.38H519.1zM519.1 100.75H524.7V102.06H519.1zM465.8 99.44H468.6V100.75H465.8zM516.3 99.44H519.1V100.75H516.3zM524.7 99.44H527.5V100.75H524.7zM530.3 99.44H533.1V100.75H530.3zM555.6 98.12H558.4V99.44H555.6zM516.3 96.81H521.9V98.12H516.3zM524.7 96.81H530.3V98.12H524.7zM547.2 96.81H550.0V98.12H547.2zM564.0 96.81H566.8V98.12H564.0zM558.4 95.50H561.2V96.81H558.4zM564.0 92.88H566.8V94.19H564.0zM485.4 91.56H491.0V92.88H485.4zM440.5 90.25H443.3V91.56H440.5zM505.1 90.25H507.9V91.56H505.1zM533.1 90.25H536.0V91.56H533.1zM479.8 88.94H482.6V90.25H479.8zM524.7 88.94H527.5V90.25H524.7zM502.3 86.31H505.1V87.62H502.3zM513.5 85.00H516.3V86.31H513.5zM527.5 85.00H530.3V86.31H527.5zM516.3 83.69H521.9V85.00H516.3zM460.1 82.38H463.0V83.69H460.1zM541.6 79.75H544.4V81.06H541.6zM502.3 78.44H505.1V79.75H502.3zM550.0 77.12H552.8V78.44H550.0zM533.1 75.81H536.0V77.12H533.1zM463.0 74.50H465.8V75.81H463.0zM524.7 74.50H527.5V75.81H524.7zM536.0 74.50H538.8V75.81H536.0zM564.0 74.50H566.8V75.81H564.0zM493.8 73.19H496.6V74.50H493.8zM519.1 73.19H521.9V74.50H519.1zM505.1 70.56H507.9V71.88H505.1zM561.2 70.56H564.0V71.88H561.2zM471.4 67.94H474.2V69.25H471.4zM505.1 65.31H507.9V66.62H505.1zM527.5 65.31H530.3V66.62H527.5zM536.0 65.31H538.8V66.62H536.0zM496.6 64.00H499.5V65.31H496.6zM521.9 62.69H524.7V64.00H521.9zM547.2 61.38H555.6V62.69H547.2zM499.5 58.75H502.3V60.06H499.5zM541.6 58.75H544.4V60.06H541.6zM499.5 56.12H502.3V57.44H499.5zM533.1 56.12H536.0V57.44H533.1zM541.6 53.50H544.4V54.81H541.6zM530.3 45.62H533.1V46.94H530.3zM536.0 44.31H538.8V45.62H536.0z"/>
<path fill="#0014ff" shape-rendering="crispEdges" d="M499.5 146.69H502.3V148.00H499.5zM519.1 146.69H521.9V148.00H519.1zM547.2 146.69H552.8V148.00H547.2zM510.7 144.06H513.5V145.38H510.7zM519.1 144.06H521.9V145.38H519.1zM555.6 144.06H558.4V145.38H555.6zM505.1 142.75H507.9V144.06H505.1zM530.3 142.75H533.1V144.06H530.3zM536.0 142.75H538.8V144.06H536.0zM547.2 142.75H550.0V144.06H547.2zM516.3 141.44H519.1V142.75H516.3zM474.2 140.12H477.0V141.44H474.2zM482.6 140.12H485.4V141.44H482.6zM516.3 134.88H519.1V136.19H516.3zM544.4 134.88H547.2V136.19H544.4zM550.0 134.88H552.8V136.19H550.0zM527.5 133.56H530.3V134.88H527.5zM507.9 132.25H510.7V133.56H507.9zM521.9 130.94H524.7V132.25H521.9zM448.9 129.62H451.7V130.94H448.9zM547.2 129.62H550.0V130.94H547.2zM552.8 129.62H555.6V130.94H552.8zM544.4 127.00H547.2V128.31H544.4zM524.7 125.69H527.5V127.00H524.7zM505.1 121.75H507.9V123.06H505.1zM499.5 120.44H502.3V121.75H499.5zM538.8 120.44H541.6V121.75H538.8zM536.0 117.81H538.8V119.12H536.0zM538.8 115.19H541.6V116.50H538.8zM564.0 115.19H566.8V116.50H564.0zM516.3 112.56H519.1V113.88H516.3zM564.0 112.56H566.8V113.88H564.0zM519.1 107.31H521.9V108.62H519.1zM547.2 106.00H552.8V107.31H547.2zM536.0 104.69H538.8V106.00H536.0zM479.8 103.38H482.6V104.69H479.8zM516.3 103.38H519.1V104.69H516.3zM558.4 96.81H561.2V98.12H558.4zM516.3 94.19H519.1V95.50H516.3zM561.2 94.19H564.0V95.50H561.2zM482.6 92.88H485.4V94.19H482.6zM519.1 92.88H521.9V94.19H519.1zM538.8 92.88H541.6V94.19H538.8zM524.7 91.56H527.5V92.88H524.7zM544.4 86.31H547.2V87.62H544.4zM552.8 82.38H555.6V83.69H552.8zM564.0 81.06H566.8V82.38H564.0zM552.8 79.75H555.6V81.06H552.8zM552.8 78.44H555.6V79.75H552.8zM499.5 77.12H502.3V78.44H499.5zM491.0 74.50H493.8V75.81H491.0zM527.5 73.19H530.3V74.50H527.5zM533.1 69.25H536.0V70.56H533.1zM460.1 62.69H463.0V64.00H460.1zM552.8 57.44H555.6V58.75H552.8zM524.7 54.81H527.5V56.12H524.7zM538.8 53.50H541.6V54.81H538.8zM558.4 50.88H561.2V52.19H558.4z"/>
<path fill="#69ff00" shape-rendering="crispEdges" d="M423.6 145.38H426.5V146.69H423.6zM423.6 134.88H426.5V136.19H423.6zM426.5 133.56H429.3V134.88H426.5zM423.6 132.25H426.5V133.56H423.6zM423.6 129.62H426.5V130.94H423.6zM423.6 128.31H426.5V129.62H423.6zM423.6 127.00H426.5V128.31H423.6zM423.6 125.69H426.5V127.00H423.6zM426.5 124.38H429.3V125.69H426.5zM429.3 116.50H432.1V117.81H429.3zM426.5 115.19H429.3V116.50H426.5zM566.8 115.19H569.6V116.50H566.8zM423.6 112.56H426.5V113.88H423.6zM426.5 111.25H432.1V112.56H426.5zM496.6 111.25H499.5V112.56H496.6zM432.1 109.94H434.9V111.25H432.1zM446.1 109.94H448.9V111.25H446.1zM423.6 107.31H426.5V108.62H423.6zM432.1 107.31H434.9V108.62H432.1zM423.6 106.00H426.5V107.31H423.6zM440.5 106.00H443.3V107.31H440.5zM423.6 104.69H426.5V106.00H423.6zM423.6 102.06H426.5V103.38H423.6zM502.3 100.75H505.1V102.06H502.3zM423.6 99.44H426.5V100.75H423.6zM440.5 99.44H446.1V100.75H440.5zM423.6 96.81H426.5V98.12H423.6zM423.6 95.50H426.5V96.81H423.6zM465.8 92.88H468.6V94.19H465.8zM423.6 91.56H426.5V92.88H423.6zM426.5 90.25H429.3V91.56H426.5zM423.6 83.69H429.3V85.00H423.6zM437.7 81.06H440.5V82.38H437.7zM482.6 79.75H485.4V81.06H482.6zM429.3 77.12H432.1V78.44H429.3zM423.6 75.81H426.5V77.12H423.6zM429.3 75.81H432.1V77.12H429.3zM454.5 74.50H457.3V75.81H454.5zM463.0 73.19H465.8V74.50H463.0zM434.9 71.88H437.7V73.19H434.9zM432.1 70.56H434.9V71.88H432.1zM437.7 70.56H440.5V71.88H437.7zM451.7 70.56H454.5V71.88H451.7zM429.3 67.94H432.1V69.25H429.3zM434.9 67.94H437.7V69.25H434.9zM429.3 66.62H434.9V67.94H429.3zM566.8 66.62H569.6V67.94H566.8zM434.9 64.00H440.5V65.31H434.9zM446.1 64.00H448.9V65.31H446.1zM451.7 64.00H454.5V65.31H451.7zM429.3 62.69H432.1V64.00H429.3zM451.7 62.69H454.5V64.00H451.7zM423.6 61.38H426.5V62.69H423.6zM440.5 61.38H443.3V62.69H440.5zM434.9 60.06H440.5V61.38H434.9zM432.1 58.75H434.9V60.06H432.1zM448.9 58.75H451.7V60.06H448.9zM423.6 57.44H429.3V58.75H423.6zM437.7 57.44H440.5V58.75H437.7zM426.5 56.12H429.3V57.44H426.5zM440.5 56.12H443.3V57.44H440.5zM432.1 54.81H437.7V56.12H432.1zM451.7 54.81H454.5V56.12H451.7zM463.0 54.81H465.8V56.12H463.0zM471.4 53.50H474.2V54.81H471.4zM426.5 52.19H432.1V53.50H426.5zM440.5 52.19H443.3V53.50H440.5zM463.0 52.19H465.8V53.50H463.0zM493.8 52.19H496.6V53.50H493.8zM434.9 50.88H437.7V52.19H434.9zM426.5 49.56H429.3V50.88H426.5zM440.5 49.56H443.3V50.88H440.5zM426.5 48.25H429.3V49.56H426.5zM536.0 48.25H538.8V49.56H536.0zM429.3 46.94H432.1V48.25H429.3zM443.3 46.94H446.1V48.25H443.3zM457.3 46.94H460.1V48.25H457.3zM465.8 46.94H468.6V48.25H465.8zM471.4 46.94H474.2V48.25H471.4zM429.3 45.62H432.1V46.94H429.3zM426.5 44.31H429.3V45.62H426.5zM468.6 43.00H471.4V44.31H468.6zM502.3 43.00H505.1V44.31H502.3zM507.9 43.00H513.5V44.31H507.9zM524.7 43.00H527.5V44.31H524.7zM550.0 43.00H552.8V44.31H550.0z"/>
<path fill="#99ff00" shape-rendering="crispEdges" d="M423.6 144.06H426.5V145.38H423.6zM434.9 138.81H437.7V140.12H434.9zM423.6 130.94H426.5V132.25H423.6zM423.6 124.38H426.5V125.69H423.6zM423.6 119.12H426.5V120.44H423.6zM440.5 111.25H443.3V112.56H440.5zM491.0 107.31H493.8V108.62H491.0zM429.3 103.38H432.1V104.69H429.3zM434.9 94.19H437.7V95.50H434.9zM423.6 92.88H426.5V94.19H423.6zM423.6 90.25H426.5V91.56H423.6zM423.6 82.38H426.5V83.69H423.6zM423.6 81.06H426.5V82.38H423.6zM423.6 79.75H426.5V81.06H423.6zM429.3 79.75H432.1V81.06H429.3zM423.6 77.12H426.5V78.44H423.6zM457.3 75.81H460.1V77.12H457.3zM426.5 71.88H429.3V73.19H426.5zM423.6 70.56H426.5V71.88H423.6zM423.6 69.25H426.5V70.56H423.6zM429.3 65.31H432.1V66.62H429.3zM440.5 65.31H443.3V66.62H440.5zM432.1 62.69H434.9V64.00H432.1zM432.1 61.38H434.9V62.69H432.1zM446.1 60.06H448.9V61.38H446.1zM426.5 58.75H432.1V60.06H426.5zM451.7 58.75H454.5V60.06H451.7zM474.2 58.75H477.0V60.06H474.2zM423.6 56.12H426.5V57.44H423.6zM443.3 56.12H446.1V57.44H443.3zM448.9 54.81H451.7V56.12H448.9zM426.5 53.50H429.3V54.81H426.5zM437.7 53.50H440.5V54.81H437.7zM479.8 53.50H482.6V54.81H479.8zM423.6 52.19H426.5V53.50H423.6zM446.1 52.19H451.7V53.50H446.1zM426.5 50.88H429.3V52.19H426.5zM429.3 49.56H432.1V50.88H429.3zM454.5 49.56H457.3V50.88H454.5zM440.5 48.25H443.3V49.56H440.5zM446.1 48.25H448.9V49.56H446.1zM429.3 44.31H432.1V45.62H429.3zM448.9 44.31H451.7V45.62H448.9zM443.3 43.00H446.1V44.31H443.3zM448.9 43.00H451.7V44.31H448.9zM477.0 43.00H479.8V44.31H477.0zM521.9 43.00H524.7V44.31H521.9z"/>
<path fill="#22ff00" shape-rendering="crispEdges" d="M429.3 144.06H432.1V145.38H429.3zM434.9 144.06H437.7V145.38H434.9zM566.8 144.06H569.6V145.38H566.8zM429.3 142.75H432.1V144.06H429.3zM440.5 142.75H443.3V144.06H440.5zM423.6 141.44H426.5V142.75H423.6zM434.9 140.12H437.7V141.44H434.9zM423.6 137.50H426.5V138.81H423.6zM448.9 137.50H451.7V138.81H448.9zM423.6 136.19H426.5V137.50H423.6zM437.7 133.56H440.5V134.88H437.7zM426.5 132.25H429.3V133.56H426.5zM451.7 132.25H454.5V133.56H451.7zM437.7 130.94H440.5V132.25H437.7zM429.3 127.00H432.1V128.31H429.3zM443.3 125.69H446.1V127.00H443.3zM465.8 124.38H468.6V125.69H465.8zM566.8 123.06H569.6V124.38H566.8zM437.7 121.75H440.5V123.06H437.7zM423.6 120.44H426.5V121.75H423.6zM429.3 119.12H434.9V120.44H429.3zM440.5 119.12H446.1V120.44H440.5zM426.5 117.81H429.3V119.12H426.5zM423.6 116.50H426.5V117.81H423.6zM423.6 115.19H426.5V116.50H423.6zM423.6 113.88H426.5V115.19H423.6zM499.5 111.25H502.3V112.56H499.5zM429.3 109.94H432.1V111.25H429.3zM434.9 109.94H440.5V111.25H434.9zM440.5 107.31H443.3V108.62H440.5zM552.8 107.31H555.6V108.62H552.8zM426.5 106.00H429.3V107.31H426.5zM432.1 100.75H434.9V102.06H432.1zM566.8 100.75H569.6V102.06H566.8zM423.6 98.12H426.5V99.44H423.6zM429.3 98.12H432.1V99.44H429.3zM468.6 98.12H471.4V99.44H468.6zM446.1 95.50H448.9V96.81H446.1zM505.1 94.19H507.9V95.50H505.1zM446.1 91.56H448.9V92.88H446.1zM437.7 90.25H440.5V91.56H437.7zM443.3 90.25H446.1V91.56H443.3zM440.5 88.94H446.1V90.25H440.5zM446.1 87.62H448.9V88.94H446.1zM558.4 85.00H561.2V86.31H558.4zM429.3 83.69H432.1V85.00H429.3zM429.3 82.38H437.7V83.69H429.3zM454.5 82.38H457.3V83.69H454.5zM471.4 82.38H474.2V83.69H471.4zM446.1 77.12H448.9V78.44H446.1zM451.7 77.12H454.5V78.44H451.7zM446.1 75.81H448.9V77.12H446.1zM566.8 75.81H569.6V77.12H566.8zM479.8 74.50H482.6V75.81H479.8zM454.5 73.19H457.3V74.50H454.5zM426.5 70.56H429.3V71.88H426.5zM434.9 70.56H437.7V71.88H434.9zM440.5 70.56H443.3V71.88H440.5zM460.1 70.56H463.0V71.88H460.1zM440.5 69.25H443.3V70.56H440.5zM446.1 67.94H448.9V69.25H446.1zM536.0 66.62H538.8V67.94H536.0zM448.9 65.31H451.7V66.62H448.9zM426.5 64.00H429.3V65.31H426.5zM440.5 64.00H446.1V65.31H440.5zM468.6 64.00H471.4V65.31H468.6zM477.0 64.00H482.6V65.31H477.0zM488.2 64.00H491.0V65.31H488.2zM426.5 62.69H429.3V64.00H426.5zM434.9 62.69H437.7V64.00H434.9zM440.5 62.69H443.3V64.00H440.5zM448.9 62.69H451.7V64.00H448.9zM454.5 62.69H457.3V64.00H454.5zM471.4 62.69H474.2V64.00H471.4zM446.1 61.38H451.7V62.69H446.1zM457.3 61.38H460.1V62.69H457.3zM432.1 60.06H434.9V61.38H432.1zM451.7 60.06H454.5V61.38H451.7zM460.1 60.06H463.0V61.38H460.1zM465.8 60.06H468.6V61.38H465.8zM434.9 58.75H437.7V60.06H434.9zM457.3 58.75H460.1V60.06H457.3zM471.4 58.75H474.2V60.06H471.4zM434.9 57.44H437.7V58.75H434.9zM440.5 57.44H443.3V58.75H440.5zM446.1 57.44H448.9V58.75H446.1zM530.3 57.44H533.1V58.75H530.3zM429.3 56.12H432.1V57.44H429.3zM446.1 56.12H451.7V57.44H446.1zM454.5 56.12H457.3V57.44H454.5zM477.0 56.12H479.8V57.44H477.0zM437.7 54.81H440.5V56.12H437.7zM446.1 54.81H448.9V56.12H446.1zM513.5 54.81H516.3V56.12H513.5zM533.1 54.81H536.0V56.12H533.1zM429.3 53.50H432.1V54.81H429.3zM440.5 53.50H443.3V54.81H440.5zM432.1 52.19H437.7V53.50H432.1zM443.3 52.19H446.1V53.50H443.3zM457.3 52.19H460.1V53.50H457.3zM471.4 52.19H474.2V53.50H471.4zM448.9 50.88H457.3V52.19H448.9zM463.0 50.88H468.6V52.19H463.0zM432.1 49.56H434.9V50.88H432.1zM437.7 49.56H440.5V50.88H437.7zM451.7 49.56H454.5V50.88H451.7zM499.5 49.56H502.3V50.88H499.5zM429.3 48.25H432.1V49.56H429.3zM448.9 48.25H451.7V49.56H448.9zM566.8 48.25H569.6V49.56H566.8zM426.5 46.94H429.3V48.25H426.5zM446.1 46.94H451.7V48.25H446.1zM493.8 46.94H496.6V48.25H493.8zM536.0 46.94H538.8V48.25H536.0zM566.8 46.94H569.6V48.25H566.8zM426.5 45.62H429.3V46.94H426.5zM432.1 45.62H437.7V46.94H432.1zM460.1 45.62H463.0V46.94H460.1zM474.2 45.62H477.0V46.94H474.2zM434.9 44.31H440.5V45.62H434.9zM451.7 44.31H454.5V45.62H451.7zM471.4 44.31H477.0V45.62H471.4zM558.4 44.31H561.2V45.62H558.4zM471.4 43.00H474.2V44.31H471.4zM482.6 43.00H485.4V44.31H482.6zM488.2 43.00H491.0V44.31H488.2zM493.8 43.00H502.3V44.31H493.8zM530.3 43.00H533.1V44.31H530.3zM564.0 43.00H569.6V44.31H564.0z"/>
<path fill="#e0ff00" shape-rendering="crispEdges" d="M423.6 140.12H426.5V141.44H423.6zM423.6 138.81H426.5V140.12H423.6zM423.6 121.75H426.5V123.06H423.6zM423.6 88.94H426.5V90.25H423.6zM423.6 85.00H426.5V86.31H423.6zM423.6 78.44H426.5V79.75H423.6zM423.6 74.50H426.5V75.81H423.6zM437.7 71.88H440.5V73.19H437.7zM423.6 66.62H426.5V67.94H423.6zM423.6 65.31H429.3V66.62H423.6zM434.9 56.12H437.7V57.44H434.9zM423.6 54.81H426.5V56.12H423.6zM434.9 53.50H437.7V54.81H434.9zM423.6 49.56H426.5V50.88H423.6zM434.9 49.56H437.7V50.88H434.9zM432.1 48.25H434.9V49.56H432.1zM432.1 46.94H434.9V48.25H432.1zM437.7 45.62H440.5V46.94H437.7zM454.5 45.62H457.3V46.94H454.5zM426.5 43.00H429.3V44.31H426.5zM440.5 43.00H443.3V44.31H440.5zM454.5 43.00H457.3V44.31H454.5zM460.1 43.00H463.0V44.31H460.1zM491.0 43.00H493.8V44.31H491.0zM519.1 43.00H521.9V44.31H519.1zM558.4 43.00H561.2V44.31H558.4z"/>
<path fill="#3300ff" shape-rendering="crispEdges" d="M538.8 138.81H541.6V140.12H538.8zM547.2 138.81H550.0V140.12H547.2zM479.8 137.50H482.6V138.81H479.8zM516.3 136.19H519.1V137.50H516.3zM524.7 120.44H527.5V121.75H524.7zM454.5 119.12H457.3V120.44H454.5zM524.7 111.25H527.5V112.56H524.7zM564.0 108.62H566.8V109.94H564.0zM533.1 104.69H536.0V106.00H533.1zM530.3 91.56H533.1V92.88H530.3zM477.0 79.75H479.8V81.06H477.0zM507.9 70.56H510.7V71.88H507.9z"/>
<path fill="#6300ff" shape-rendering="crispEdges" d="M538.8 136.19H541.6V137.50H538.8zM499.5 117.81H502.3V119.12H499.5zM555.6 108.62H558.4V109.94H555.6zM564.0 99.44H566.8V100.75H564.0zM510.7 95.50H513.5V96.81H510.7zM552.8 62.69H555.6V64.00H552.8z"/>
<path fill="#ffa700" shape-rendering="crispEdges" d="M423.6 62.69H426.5V64.00H423.6zM460.1 46.94H463.0V48.25H460.1zM446.1 43.00H448.9V44.31H446.1z"/>
<path fill="#ff3000" shape-rendering="crispEdges" d="M423.6 58.75H426.5V60.06H423.6zM432.1 43.00H434.9V44.31H432.1z"/>
<path fill="#ff7700" shape-rendering="crispEdges" d="M423.6 46.94H426.5V48.25H423.6zM423.6 45.62H426.5V46.94H423.6zM423.6 44.31H426.5V45.62H423.6zM437.7 43.00H440.5V44.31H437.7zM457.3 43.00H460.1V44.31H457.3zM463.0 43.00H465.8V44.31H463.0z"/>
<path fill="#ff0000" shape-rendering="crispEdges" d="M423.6 43.00H426.5V44.31H423.6zM429.3 43.00H432.1V44.31H429.3z"/>
<rect x="570" y="142.75" width="8" height="5.25" fill="#6300ff" shape-rendering="crispEdges"/>
<rect x="570" y="137.50" width="8" height="5.25" fill="#3300ff" shape-rendering="crispEdges"/>
<rect x="570" y="132.25" width="8" height="5.25" fill="#0014ff" shape-rendering="crispEdges"/>
<rect x="570" y="127.00" width="8" height="5.25" fill="#0044ff" shape-rendering="crispEdges"/>
<rect x="570" y="121.75" width="8" height="5.25" fill="#008bff" shape-rendering="crispEdges"/>
<rect x="570" y="116.50" width="8" height="5.25" fill="#00bbff" shape-rendering="crispEdges"/>
<rect x="570" y="111.25" width="8" height="5.25" fill="#00fffc" shape-rendering="crispEdges"/>
<rect x="570" y="106.00" width="8" height="5.25" fill="#00ffcc" shape-rendering="crispEdges"/>
<rect x="570" y="100.75" width="8" height="5.25" fill="#00ff85" shape-rendering="crispEdges"/>
<rect x="570" y="95.50" width="8" height="5.25" fill="#00ff55" shape-rendering="crispEdges"/>
<rect x="570" y="90.25" width="8" height="5.25" fill="#00ff0e" shape-rendering="crispEdges"/>
<rect x="570" y="85.00" width="8" height="5.25" fill="#22ff00" shape-rendering="crispEdges"/>
<rect x="570" y="79.75" width="8" height="5.25" fill="#69ff00" shape-rendering="crispEdges"/>
<rect x="570" y="74.50" width="8" height="5.25" fill="#99ff00" shape-rendering="crispEdges"/>
<rect x="570" y="69.25" width="8" height="5.25" fill="#e0ff00" shape-rendering="crispEdges"/>
<rect x="570" y="64.00" width="8" height="5.25" fill="#ffee00" shape-rendering="crispEdges"/>
<rect x="570" y="58.75" width="8" height="5.25" fill="#ffa700" shape-rendering="crispEdges"/>
<rect x="570" y="53.50" width="8" height="5.25" fill="#ff7700" shape-rendering="crispEdges"/>
<rect x="570" y="48.25" width="8" height="5.25" fill="#ff3000" shape-rendering="crispEdges"/>
<rect x="570" y="43.00" width="8" height="5.25" fill="#ff0000" shape-rendering="crispEdges"/>
<rect x="578" y="43" width="1" height="106" fill="#000"/>
<rect x="574" y="138" width="4" height="1" fill="#000"/>
<text x="579.20" y="140.00" font-size="4.6" text-anchor="start" fill="#000" font-weight="bold" font-family="Liberation Sans, sans-serif">90</text>
<rect x="574" y="122" width="4" height="1" fill="#000"/>
<text x="579.20" y="124.00" font-size="4.6" text-anchor="start" fill="#000" font-weight="bold" font-family="Liberation Sans, sans-serif">95</text>
<rect x="574" y="106" width="4" height="1" fill="#000"/>
<text x="579.20" y="108.00" font-size="4.6" text-anchor="start" fill="#000" font-weight="bold" font-family="Liberation Sans, sans-serif">100</text>
<rect x="574" y="91" width="4" height="1" fill="#000"/>
<text x="579.20" y="93.00" font-size="4.6" text-anchor="start" fill="#000" font-weight="bold" font-family="Liberation Sans, sans-serif">105</text>
<rect x="574" y="75" width="4" height="1" fill="#000"/>
<text x="579.20" y="77.00" font-size="4.6" text-anchor="start" fill="#000" font-weight="bold" font-family="Liberation Sans, sans-serif">110</text>
<rect x="574" y="59" width="4" height="1" fill="#000"/>
<text x="579.20" y="61.00" font-size="4.6" text-anchor="start" fill="#000" font-weight="bold" font-family="Liberation Sans, sans-serif">115</text>
<rect x="574" y="43" width="4" height="1" fill="#000"/>
<text x="579.20" y="45.00" font-size="4.6" text-anchor="start" fill="#000" font-weight="bold" font-family="Liberation Sans, sans-serif">120</text>
<rect x="423" y="43" width="1" height="106" fill="#000"/>
<rect x="423" y="148" width="147" height="1" fill="#000"/>
<rect x="569" y="43" width="1" height="106" fill="#000"/>
<rect x="423" y="144" width="1" height="4" fill="#000"/>
<text x="423.10" y="156.80" font-size="10" text-anchor="middle" fill="#000">0</text>
<rect x="451" y="144" width="1" height="4" fill="#000"/>
<text x="451.10" y="156.80" font-size="10" text-anchor="middle" fill="#000">10</text>
<rect x="479" y="144" width="1" height="4" fill="#000"/>
<text x="479.10" y="156.80" font-size="10" text-anchor="middle" fill="#000">20</text>
<rect x="507" y="144" width="1" height="4" fill="#000"/>
<text x="507.10" y="156.80" font-size="10" text-anchor="middle" fill="#000">30</text>
<rect x="535" y="144" width="1" height="4" fill="#000"/>
<text x="535.10" y="156.80" font-size="10" text-anchor="middle" fill="#000">40</text>
<rect x="564" y="144" width="1" height="4" fill="#000"/>
<text x="564.10" y="156.80" font-size="10" text-anchor="middle" fill="#000">50</text>
<rect x="424" y="148" width="4" height="1" fill="#000"/>
<text x="422.00" y="151.80" font-size="10" text-anchor="end" fill="#000">0</text>
<rect x="424" y="134" width="4" height="1" fill="#000"/>
<text x="422.00" y="137.80" font-size="10" text-anchor="end" fill="#000">10</text>
<rect x="424" y="121" width="4" height="1" fill="#000"/>
<text x="422.00" y="124.80" font-size="10" text-anchor="end" fill="#000">20</text>
<rect x="424" y="108" width="4" height="1" fill="#000"/>
<text x="422.00" y="111.80" font-size="10" text-anchor="end" fill="#000">30</text>
<rect x="424" y="95" width="4" height="1" fill="#000"/>
<text x="422.00" y="98.80" font-size="10" text-anchor="end" fill="#000">40</text>
<rect x="424" y="82" width="4" height="1" fill="#000"/>
<text x="422.00" y="85.80" font-size="10" text-anchor="end" fill="#000">50</text>
<rect x="424" y="69" width="4" height="1" fill="#000"/>
<text x="422.00" y="72.80" font-size="10" text-anchor="end" fill="#000">60</text>
<rect x="424" y="56" width="4" height="1" fill="#000"/>
<text x="422.00" y="59.80" font-size="10" text-anchor="end" fill="#000">70</text>
<rect x="424" y="43" width="4" height="1" fill="#000"/>
<text x="422.00" y="46.80" font-size="10" text-anchor="end" fill="#000">80</text>
<text x="423.30" y="39.70" font-size="10.95" text-anchor="start" fill="#000">Vcal Threshold Untrimmed</text>
<rect x="622" y="43" width="147" height="1" fill="#000"/>
<rect x="622" y="148" width="147" height="1" fill="#000"/>
<rect x="622" y="43" width="1" height="106" fill="#000"/>
<rect x="768" y="43" width="1" height="106" fill="#000"/>
<path d="M622.50,148.50 L703.50,148.50 L703.50,113.50 L705.50,113.50 L705.50,92.50 L706.50,92.50 L706.50,71.50 L708.50,71.50 L708.50,60.50 L709.50,60.50 L709.50,50.50 L710.50,50.50 L710.50,56.50 L712.50,56.50 L712.50,67.50 L713.50,67.50 L713.50,89.50 L715.50,89.50 L715.50,139.50 L716.50,139.50 L716.50,148.50 L767.50,148.50" fill="none" stroke="#000" stroke-width="1"/>
<rect x="622" y="144" width="1" height="4" fill="#000"/>
<text x="622.10" y="156.80" font-size="10" text-anchor="middle" fill="#000">0</text>
<rect x="651" y="144" width="1" height="4" fill="#000"/>
<text x="651.10" y="156.80" font-size="10" text-anchor="middle" fill="#000">20</text>
<rect x="680" y="144" width="1" height="4" fill="#000"/>
<text x="680.10" y="156.80" font-size="10" text-anchor="middle" fill="#000">40</text>
<rect x="709" y="144" width="1" height="4" fill="#000"/>
<text x="709.10" y="156.80" font-size="10" text-anchor="middle" fill="#000">60</text>
<rect x="738" y="144" width="1" height="4" fill="#000"/>
<text x="738.10" y="156.80" font-size="10" text-anchor="middle" fill="#000">80</text>
<rect x="767" y="144" width="1" height="4" fill="#000"/>
<text x="767.10" y="156.80" font-size="10" text-anchor="middle" fill="#000">100</text>
<rect x="623" y="146" width="2" height="1" fill="#000"/>
<rect x="623" y="144" width="2" height="1" fill="#000"/>
<rect x="623" y="142" width="2" height="1" fill="#000"/>
<rect x="623" y="141" width="2" height="1" fill="#000"/>
<rect x="623" y="139" width="4" height="1" fill="#000"/>
<rect x="623" y="131" width="2" height="1" fill="#000"/>
<rect x="623" y="126" width="2" height="1" fill="#000"/>
<rect x="623" y="123" width="2" height="1" fill="#000"/>
<rect x="623" y="120" width="2" height="1" fill="#000"/>
<rect x="623" y="118" width="2" height="1" fill="#000"/>
<rect x="623" y="116" width="2" height="1" fill="#000"/>
<rect x="623" y="114" width="2" height="1" fill="#000"/>
<rect x="623" y="113" width="2" height="1" fill="#000"/>
<rect x="623" y="112" width="4" height="1" fill="#000"/>
<rect x="623" y="103" width="2" height="1" fill="#000"/>
<rect x="623" y="98" width="2" height="1" fill="#000"/>
<rect x="623" y="95" width="2" height="1" fill="#000"/>
<rect x="623" y="92" width="2" height="1" fill="#000"/>
<rect x="623" y="90" width="2" height="1" fill="#000"/>
<rect x="623" y="88" width="2" height="1" fill="#000"/>
<rect x="623" y="87" width="2" height="1" fill="#000"/>
<rect x="623" y="85" width="2" height="1" fill="#000"/>
<rect x="623" y="84" width="4" height="1" fill="#000"/>
<rect x="623" y="76" width="2" height="1" fill="#000"/>
<rect x="623" y="71" width="2" height="1" fill="#000"/>
<rect x="623" y="67" width="2" height="1" fill="#000"/>
<rect x="623" y="65" width="2" height="1" fill="#000"/>
<rect x="623" y="62" width="2" height="1" fill="#000"/>
<rect x="623" y="60" width="2" height="1" fill="#000"/>
<rect x="623" y="59" width="2" height="1" fill="#000"/>
<rect x="623" y="57" width="2" height="1" fill="#000"/>
<rect x="623" y="56" width="4" height="1" fill="#000"/>
<rect x="623" y="48" width="2" height="1" fill="#000"/>
<rect x="623" y="43" width="2" height="1" fill="#000"/>
<text x="621.00" y="143.10" font-size="10" text-anchor="end" fill="#000">1</text>
<text x="621.00" y="115.35" font-size="10" text-anchor="end" fill="#000">10</text>
<text x="621.00" y="87.60" font-size="10" text-anchor="end" fill="#000">10<tspan dy="-3.5" font-size="6.5">2</tspan></text>
<text x="621.00" y="59.85" font-size="10" text-anchor="end" fill="#000">10<tspan dy="-3.5" font-size="6.5">3</tspan></text>
<text x="622.30" y="39.70" font-size="10.95" text-anchor="start" fill="#000">Vcal Threshold Trimmed</text>
<text x="630.90" y="53.00" font-size="10" text-anchor="start" fill="#000">N: 4160</text>
<text x="630.90" y="64.00" font-size="10" text-anchor="start" fill="#000">&#956;: 60.6</text>
<text x="630.90" y="74.00" font-size="10" text-anchor="start" fill="#000">&#963;:&#160; 1.2</text>
<rect x="172" y="335.75" width="8" height="5.25" fill="#6300ff" shape-rendering="crispEdges"/>
<rect x="172" y="330.50" width="8" height="5.25" fill="#3300ff" shape-rendering="crispEdges"/>
<rect x="172" y="325.25" width="8" height="5.25" fill="#0014ff" shape-rendering="crispEdges"/>
<rect x="172" y="320.00" width="8" height="5.25" fill="#0044ff" shape-rendering="crispEdges"/>
<rect x="172" y="314.75" width="8" height="5.25" fill="#008bff" shape-rendering="crispEdges"/>
<rect x="172" y="309.50" width="8" height="5.25" fill="#00bbff" shape-rendering="crispEdges"/>
<rect x="172" y="304.25" width="8" height="5.25" fill="#00fffc" shape-rendering="crispEdges"/>
<rect x="172" y="299.00" width="8" height="5.25" fill="#00ffcc" shape-rendering="crispEdges"/>
<rect x="172" y="293.75" width="8" height="5.25" fill="#00ff85" shape-rendering="crispEdges"/>
<rect x="172" y="288.50" width="8" height="5.25" fill="#00ff55" shape-rendering="crispEdges"/>
<rect x="172" y="283.25" width="8" height="5.25" fill="#00ff0e" shape-rendering="crispEdges"/>
<rect x="172" y="278.00" width="8" height="5.25" fill="#22ff00" shape-rendering="crispEdges"/>
<rect x="172" y="272.75" width="8" height="5.25" fill="#69ff00" shape-rendering="crispEdges"/>
<rect x="172" y="267.50" width="8" height="5.25" fill="#99ff00" shape-rendering="crispEdges"/>
<rect x="172" y="262.25" width="8" height="5.25" fill="#e0ff00" shape-rendering="crispEdges"/>
<rect x="172" y="257.00" width="8" height="5.25" fill="#ffee00" shape-rendering="crispEdges"/>
<rect x="172" y="251.75" width="8" height="5.25" fill="#ffa700" shape-rendering="crispEdges"/>
<rect x="172" y="246.50" width="8" height="5.25" fill="#ff7700" shape-rendering="crispEdges"/>
<rect x="172" y="241.25" width="8" height="5.25" fill="#ff3000" shape-rendering="crispEdges"/>
<rect x="172" y="236.00" width="8" height="5.25" fill="#ff0000" shape-rendering="crispEdges"/>
<rect x="180" y="236" width="1" height="106" fill="#000"/>
<rect x="176" y="236" width="4" height="1" fill="#000"/>
<text x="181.20" y="238.00" font-size="4.6" text-anchor="start" fill="#000" font-weight="bold" font-family="Liberation Sans, sans-serif">2</text>
<rect x="176" y="251" width="4" height="1" fill="#000"/>
<text x="181.20" y="253.00" font-size="4.6" text-anchor="start" fill="#000" font-weight="bold" font-family="Liberation Sans, sans-serif">1</text>
<rect x="176" y="266" width="4" height="1" fill="#000"/>
<text x="181.20" y="268.00" font-size="4.6" text-anchor="start" fill="#000" font-weight="bold" font-family="Liberation Sans, sans-serif">0</text>
<rect x="176" y="281" width="4" height="1" fill="#000"/>
<text x="181.20" y="283.00" font-size="4.6" text-anchor="start" fill="#000" font-weight="bold" font-family="Liberation Sans, sans-serif">-1</text>
<rect x="176" y="296" width="4" height="1" fill="#000"/>
<text x="181.20" y="298.00" font-size="4.6" text-anchor="start" fill="#000" font-weight="bold" font-family="Liberation Sans, sans-serif">-2</text>
<rect x="176" y="311" width="4" height="1" fill="#000"/>
<text x="181.20" y="313.00" font-size="4.6" text-anchor="start" fill="#000" font-weight="bold" font-family="Liberation Sans, sans-serif">-3</text>
<rect x="176" y="326" width="4" height="1" fill="#000"/>
<text x="181.20" y="328.00" font-size="4.6" text-anchor="start" fill="#000" font-weight="bold" font-family="Liberation Sans, sans-serif">-4</text>
<rect x="176" y="341" width="4" height="1" fill="#000"/>
<text x="181.20" y="343.00" font-size="4.6" text-anchor="start" fill="#000" font-weight="bold" font-family="Liberation Sans, sans-serif">-5</text>
<rect x="25" y="236" width="147" height="1" fill="#000"/>
<rect x="25" y="341" width="147" height="1" fill="#000"/>
<rect x="25" y="236" width="1" height="106" fill="#000"/>
<rect x="171" y="236" width="1" height="106" fill="#000"/>
<rect x="25" y="337" width="1" height="4" fill="#000"/>
<text x="25.10" y="349.80" font-size="10" text-anchor="middle" fill="#000">0</text>
<rect x="53" y="337" width="1" height="4" fill="#000"/>
<text x="53.10" y="349.80" font-size="10" text-anchor="middle" fill="#000">10</text>
<rect x="81" y="337" width="1" height="4" fill="#000"/>
<text x="81.10" y="349.80" font-size="10" text-anchor="middle" fill="#000">20</text>
<rect x="109" y="337" width="1" height="4" fill="#000"/>
<text x="109.10" y="349.80" font-size="10" text-anchor="middle" fill="#000">30</text>
<rect x="137" y="337" width="1" height="4" fill="#000"/>
<text x="137.10" y="349.80" font-size="10" text-anchor="middle" fill="#000">40</text>
<rect x="166" y="337" width="1" height="4" fill="#000"/>
<text x="166.10" y="349.80" font-size="10" text-anchor="middle" fill="#000">50</text>
<rect x="26" y="341" width="4" height="1" fill="#000"/>
<text x="24.00" y="344.80" font-size="10" text-anchor="end" fill="#000">0</text>
<rect x="26" y="327" width="4" height="1" fill="#000"/>
<text x="24.00" y="330.80" font-size="10" text-anchor="end" fill="#000">10</text>
<rect x="26" y="314" width="4" height="1" fill="#000"/>
<text x="24.00" y="317.80" font-size="10" text-anchor="end" fill="#000">20</text>
<rect x="26" y="301" width="4" height="1" fill="#000"/>
<text x="24.00" y="304.80" font-size="10" text-anchor="end" fill="#000">30</text>
<rect x="26" y="288" width="4" height="1" fill="#000"/>
<text x="24.00" y="291.80" font-size="10" text-anchor="end" fill="#000">40</text>
<rect x="26" y="275" width="4" height="1" fill="#000"/>
<text x="24.00" y="278.80" font-size="10" text-anchor="end" fill="#000">50</text>
<rect x="26" y="262" width="4" height="1" fill="#000"/>
<text x="24.00" y="265.80" font-size="10" text-anchor="end" fill="#000">60</text>
<rect x="26" y="249" width="4" height="1" fill="#000"/>
<text x="24.00" y="252.80" font-size="10" text-anchor="end" fill="#000">70</text>
<rect x="26" y="236" width="4" height="1" fill="#000"/>
<text x="24.00" y="239.80" font-size="10" text-anchor="end" fill="#000">80</text>
<text x="25.30" y="232.70" font-size="10.95" text-anchor="start" fill="#000">Bump Bonding Problems</text>
<rect x="224" y="236" width="147" height="1" fill="#000"/>
<rect x="224" y="341" width="147" height="1" fill="#000"/>
<rect x="224" y="236" width="1" height="106" fill="#000"/>
<rect x="370" y="236" width="1" height="106" fill="#000"/>
<path d="M224.50,341.50 L224.50,306.50 L228.50,306.50 L228.50,291.50 L231.50,291.50 L231.50,288.50 L235.50,288.50 L235.50,281.50 L238.50,281.50 L238.50,277.50 L242.50,277.50 L242.50,271.50 L246.50,271.50 L246.50,261.50 L249.50,261.50 L249.50,262.50 L253.50,262.50 L253.50,264.50 L256.50,264.50 L256.50,265.50 L260.50,265.50 L260.50,270.50 L263.50,270.50 L263.50,267.50 L267.50,267.50 L267.50,263.50 L270.50,263.50 L270.50,258.50 L274.50,258.50 L274.50,256.50 L278.50,256.50 L278.50,252.50 L281.50,252.50 L281.50,246.50 L285.50,246.50 L285.50,244.50 L288.50,244.50 L288.50,246.50 L292.50,246.50 L292.50,247.50 L299.50,247.50 L299.50,250.50 L302.50,250.50 L302.50,249.50 L306.50,249.50 L306.50,250.50 L310.50,250.50 L310.50,249.50 L313.50,249.50 L313.50,252.50 L317.50,252.50 L317.50,254.50 L320.50,254.50 L320.50,263.50 L324.50,263.50 L324.50,271.50 L327.50,271.50 L327.50,279.50 L331.50,279.50 L331.50,281.50 L335.50,281.50 L335.50,284.50 L338.50,284.50 L338.50,291.50 L342.50,291.50 L342.50,311.50 L345.50,311.50 L345.50,304.50 L349.50,304.50 L349.50,341.50 L352.50,341.50 L352.50,330.50 L356.50,330.50 L356.50,341.50 L370.50,341.50" fill="none" stroke="#000" stroke-width="1"/>
<rect x="224" y="337" width="1" height="4" fill="#000"/>
<text x="224.10" y="349.80" font-size="10" text-anchor="middle" fill="#000">-50</text>
<rect x="260" y="337" width="1" height="4" fill="#000"/>
<text x="260.10" y="349.80" font-size="10" text-anchor="middle" fill="#000">-40</text>
<rect x="295" y="337" width="1" height="4" fill="#000"/>
<text x="295.10" y="349.80" font-size="10" text-anchor="middle" fill="#000">-30</text>
<rect x="331" y="337" width="1" height="4" fill="#000"/>
<text x="331.10" y="349.80" font-size="10" text-anchor="middle" fill="#000">-20</text>
<rect x="367" y="337" width="1" height="4" fill="#000"/>
<text x="367.10" y="349.80" font-size="10" text-anchor="middle" fill="#000">-10</text>
<rect x="225" y="340" width="2" height="1" fill="#000"/>
<rect x="225" y="337" width="2" height="1" fill="#000"/>
<rect x="225" y="335" width="2" height="1" fill="#000"/>
<rect x="225" y="333" width="2" height="1" fill="#000"/>
<rect x="225" y="331" width="2" height="1" fill="#000"/>
<rect x="225" y="330" width="4" height="1" fill="#000"/>
<rect x="225" y="320" width="2" height="1" fill="#000"/>
<rect x="225" y="314" width="2" height="1" fill="#000"/>
<rect x="225" y="309" width="2" height="1" fill="#000"/>
<rect x="225" y="306" width="2" height="1" fill="#000"/>
<rect x="225" y="303" width="2" height="1" fill="#000"/>
<rect x="225" y="301" width="2" height="1" fill="#000"/>
<rect x="225" y="299" width="2" height="1" fill="#000"/>
<rect x="225" y="297" width="2" height="1" fill="#000"/>
<rect x="225" y="296" width="4" height="1" fill="#000"/>
<rect x="225" y="286" width="2" height="1" fill="#000"/>
<rect x="225" y="280" width="2" height="1" fill="#000"/>
<rect x="225" y="275" width="2" height="1" fill="#000"/>
<rect x="225" y="272" width="2" height="1" fill="#000"/>
<rect x="225" y="270" width="2" height="1" fill="#000"/>
<rect x="225" y="267" width="2" height="1" fill="#000"/>
<rect x="225" y="265" width="2" height="1" fill="#000"/>
<rect x="225" y="264" width="2" height="1" fill="#000"/>
<rect x="225" y="262" width="4" height="1" fill="#000"/>
<rect x="225" y="252" width="2" height="1" fill="#000"/>
<rect x="225" y="246" width="2" height="1" fill="#000"/>
<rect x="225" y="242" width="2" height="1" fill="#000"/>
<rect x="225" y="238" width="2" height="1" fill="#000"/>
<rect x="225" y="236" width="2" height="1" fill="#000"/>
<text x="223.00" y="333.50" font-size="10" text-anchor="end" fill="#000">1</text>
<text x="223.00" y="299.60" font-size="10" text-anchor="end" fill="#000">10</text>
<text x="223.00" y="265.70" font-size="10" text-anchor="end" fill="#000">10<tspan dy="-3.5" font-size="6.5">2</tspan></text>
<text x="224.30" y="232.70" font-size="10.95" text-anchor="start" fill="#000">Bump Bonding</text>
<rect x="423" y="236" width="147" height="1" fill="#000"/>
<rect x="423" y="341" width="147" height="1" fill="#000"/>
<rect x="423" y="236" width="1" height="106" fill="#000"/>
<rect x="569" y="236" width="1" height="106" fill="#000"/>
<path d="M423.50,341.50 L457.50,341.50 L457.50,293.50 L459.50,293.50 L459.50,272.50 L461.50,272.50 L461.50,246.50 L464.50,246.50 L464.50,251.50 L466.50,251.50 L466.50,254.50 L469.50,254.50 L469.50,276.50 L471.50,276.50 L471.50,341.50 L569.50,341.50" fill="none" stroke="#000" stroke-width="1"/>
<path d="M423.50,341.50 L461.50,341.50 L461.50,288.50 L464.50,288.50 L464.50,259.50 L466.50,259.50 L466.50,246.50 L469.50,246.50 L469.50,243.50 L471.50,243.50 L471.50,258.50 L473.50,258.50 L473.50,311.50 L476.50,311.50 L476.50,341.50 L569.50,341.50" fill="none" stroke="#ff0000" stroke-width="1"/>
<path d="M423.50,341.50 L457.50,341.50 L457.50,303.50 L459.50,303.50 L459.50,277.50 L461.50,277.50 L461.50,252.50 L464.50,252.50 L464.50,243.50 L466.50,243.50 L466.50,248.50 L469.50,248.50 L469.50,267.50 L471.50,267.50 L471.50,316.50 L473.50,316.50 L473.50,341.50 L569.50,341.50" fill="none" stroke="#0000ff" stroke-width="1"/>
<path d="M423.50,341.50 L442.50,341.50 L442.50,294.50 L445.50,294.50 L445.50,249.50 L447.50,249.50 L447.50,242.50 L449.50,242.50 L449.50,249.50 L452.50,249.50 L452.50,279.50 L454.50,279.50 L454.50,341.50 L569.50,341.50" fill="none" stroke="#00ff00" stroke-width="1"/>
<rect x="423" y="337" width="1" height="4" fill="#000"/>
<text x="423.10" y="349.80" font-size="10" text-anchor="middle" fill="#000">0</text>
<rect x="471" y="337" width="1" height="4" fill="#000"/>
<text x="471.10" y="349.80" font-size="10" text-anchor="middle" fill="#000">20</text>
<rect x="519" y="337" width="1" height="4" fill="#000"/>
<text x="519.10" y="349.80" font-size="10" text-anchor="middle" fill="#000">40</text>
<rect x="567" y="337" width="1" height="4" fill="#000"/>
<text x="567.10" y="349.80" font-size="10" text-anchor="middle" fill="#000">60</text>
<rect x="424" y="340" width="2" height="1" fill="#000"/>
<rect x="424" y="338" width="2" height="1" fill="#000"/>
<rect x="424" y="336" width="2" height="1" fill="#000"/>
<rect x="424" y="335" width="2" height="1" fill="#000"/>
<rect x="424" y="333" width="2" height="1" fill="#000"/>
<rect x="424" y="332" width="4" height="1" fill="#000"/>
<rect x="424" y="324" width="2" height="1" fill="#000"/>
<rect x="424" y="319" width="2" height="1" fill="#000"/>
<rect x="424" y="316" width="2" height="1" fill="#000"/>
<rect x="424" y="313" width="2" height="1" fill="#000"/>
<rect x="424" y="311" width="2" height="1" fill="#000"/>
<rect x="424" y="309" width="2" height="1" fill="#000"/>
<rect x="424" y="307" width="2" height="1" fill="#000"/>
<rect x="424" y="306" width="2" height="1" fill="#000"/>
<rect x="424" y="305" width="4" height="1" fill="#000"/>
<rect x="424" y="296" width="2" height="1" fill="#000"/>
<rect x="424" y="292" width="2" height="1" fill="#000"/>
<rect x="424" y="288" width="2" height="1" fill="#000"/>
<rect x="424" y="285" width="2" height="1" fill="#000"/>
<rect x="424" y="283" width="2" height="1" fill="#000"/>
<rect x="424" y="281" width="2" height="1" fill="#000"/>
<rect x="424" y="280" width="2" height="1" fill="#000"/>
<rect x="424" y="278" width="2" height="1" fill="#000"/>
<rect x="424" y="277" width="4" height="1" fill="#000"/>
<rect x="424" y="269" width="2" height="1" fill="#000"/>
<rect x="424" y="264" width="2" height="1" fill="#000"/>
<rect x="424" y="261" width="2" height="1" fill="#000"/>
<rect x="424" y="258" width="2" height="1" fill="#000"/>
<rect x="424" y="256" width="2" height="1" fill="#000"/>
<rect x="424" y="254" width="2" height="1" fill="#000"/>
<rect x="424" y="252" width="2" height="1" fill="#000"/>
<rect x="424" y="251" width="2" height="1" fill="#000"/>
<rect x="424" y="250" width="4" height="1" fill="#000"/>
<rect x="424" y="242" width="2" height="1" fill="#000"/>
<rect x="424" y="237" width="2" height="1" fill="#000"/>
<text x="422.00" y="335.71" font-size="10" text-anchor="end" fill="#000">1</text>
<text x="422.00" y="308.31" font-size="10" text-anchor="end" fill="#000">10</text>
<text x="422.00" y="280.91" font-size="10" text-anchor="end" fill="#000">10<tspan dy="-3.5" font-size="6.5">2</tspan></text>
<text x="422.00" y="253.51" font-size="10" text-anchor="end" fill="#000">10<tspan dy="-3.5" font-size="6.5">3</tspan></text>
<text x="423.30" y="232.70" font-size="10.95" text-anchor="start" fill="#000">Trim Bit Test</text>
<text x="622.20" y="246.60" font-size="11.8" text-anchor="start" fill="#000" font-weight="bold">Summary</text>
<text x="732.10" y="246.60" font-size="11.8" text-anchor="start" fill="#000" font-weight="bold">0</text>
<text x="622.20" y="261.70" font-size="10.8" text-anchor="start" fill="#000">Dead Pixels:</text>
<text x="740.60" y="261.70" font-size="10.8" text-anchor="start" fill="#000">0</text>
<text x="622.20" y="274.65" font-size="10.8" text-anchor="start" fill="#000">Noisy Pixels:</text>
<text x="740.60" y="274.65" font-size="10.8" text-anchor="start" fill="#000">0</text>
<text x="622.20" y="287.60" font-size="10.8" text-anchor="start" fill="#000">Mask defects:</text>
<text x="740.60" y="287.60" font-size="10.8" text-anchor="start" fill="#000">0</text>
<text x="622.20" y="300.55" font-size="10.8" text-anchor="start" fill="#000">Dead Bumps:</text>
<text x="740.60" y="300.55" font-size="10.8" text-anchor="start" fill="#000">0</text>
<text x="622.20" y="313.50" font-size="10.8" text-anchor="start" fill="#000">Dead Trimbits:</text>
<text x="740.60" y="313.50" font-size="10.8" text-anchor="start" fill="#000">0</text>
<text x="622.20" y="326.45" font-size="10.8" text-anchor="start" fill="#000">Address Probl:</text>
<text x="740.60" y="326.45" font-size="10.8" text-anchor="start" fill="#000">0</text>
<rect x="26" y="429" width="145" height="105" fill="#ff0000"/>
<rect x="172" y="528.75" width="8" height="5.25" fill="#6300ff" shape-rendering="crispEdges"/>
<rect x="172" y="523.50" width="8" height="5.25" fill="#3300ff" shape-rendering="crispEdges"/>
<rect x="172" y="518.25" width="8" height="5.25" fill="#0014ff" shape-rendering="crispEdges"/>
<rect x="172" y="513.00" width="8" height="5.25" fill="#0044ff" shape-rendering="crispEdges"/>
<rect x="172" y="507.75" width="8" height="5.25" fill="#008bff" shape-rendering="crispEdges"/>
<rect x="172" y="502.50" width="8" height="5.25" fill="#00bbff" shape-rendering="crispEdges"/>
<rect x="172" y="497.25" width="8" height="5.25" fill="#00fffc" shape-rendering="crispEdges"/>
<rect x="172" y="492.00" width="8" height="5.25" fill="#00ffcc" shape-rendering="crispEdges"/>
<rect x="172" y="486.75" width="8" height="5.25" fill="#00ff85" shape-rendering="crispEdges"/>
<rect x="172" y="481.50" width="8" height="5.25" fill="#00ff55" shape-rendering="crispEdges"/>
<rect x="172" y="476.25" width="8" height="5.25" fill="#00ff0e" shape-rendering="crispEdges"/>
<rect x="172" y="471.00" width="8" height="5.25" fill="#22ff00" shape-rendering="crispEdges"/>
<rect x="172" y="465.75" width="8" height="5.25" fill="#69ff00" shape-rendering="crispEdges"/>
<rect x="172" y="460.50" width="8" height="5.25" fill="#99ff00" shape-rendering="crispEdges"/>
<rect x="172" y="455.25" width="8" height="5.25" fill="#e0ff00" shape-rendering="crispEdges"/>
<rect x="172" y="450.00" width="8" height="5.25" fill="#ffee00" shape-rendering="crispEdges"/>
<rect x="172" y="444.75" width="8" height="5.25" fill="#ffa700" shape-rendering="crispEdges"/>
<rect x="172" y="439.50" width="8" height="5.25" fill="#ff7700" shape-rendering="crispEdges"/>
<rect x="172" y="434.25" width="8" height="5.25" fill="#ff3000" shape-rendering="crispEdges"/>
<rect x="172" y="429.00" width="8" height="5.25" fill="#ff0000" shape-rendering="crispEdges"/>
<rect x="180" y="429" width="1" height="106" fill="#000"/>
<rect x="176" y="534" width="4" height="1" fill="#000"/>
<text x="181.20" y="536.00" font-size="4.6" text-anchor="start" fill="#000" font-weight="bold" font-family="Liberation Sans, sans-serif">0</text>
<rect x="176" y="523" width="4" height="1" fill="#000"/>
<text x="181.20" y="525.00" font-size="4.6" text-anchor="start" fill="#000" font-weight="bold" font-family="Liberation Sans, sans-serif">0.1</text>
<rect x="176" y="513" width="4" height="1" fill="#000"/>
<text x="181.20" y="515.00" font-size="4.6" text-anchor="start" fill="#000" font-weight="bold" font-family="Liberation Sans, sans-serif">0.2</text>
<rect x="176" y="502" width="4" height="1" fill="#000"/>
<text x="181.20" y="504.00" font-size="4.6" text-anchor="start" fill="#000" font-weight="bold" font-family="Liberation Sans, sans-serif">0.3</text>
<rect x="176" y="492" width="4" height="1" fill="#000"/>
<text x="181.20" y="494.00" font-size="4.6" text-anchor="start" fill="#000" font-weight="bold" font-family="Liberation Sans, sans-serif">0.4</text>
<rect x="176" y="481" width="4" height="1" fill="#000"/>
<text x="181.20" y="483.00" font-size="4.6" text-anchor="start" fill="#000" font-weight="bold" font-family="Liberation Sans, sans-serif">0.5</text>
<rect x="176" y="471" width="4" height="1" fill="#000"/>
<text x="181.20" y="473.00" font-size="4.6" text-anchor="start" fill="#000" font-weight="bold" font-family="Liberation Sans, sans-serif">0.6</text>
<rect x="176" y="460" width="4" height="1" fill="#000"/>
<text x="181.20" y="462.00" font-size="4.6" text-anchor="start" fill="#000" font-weight="bold" font-family="Liberation Sans, sans-serif">0.7</text>
<rect x="176" y="450" width="4" height="1" fill="#000"/>
<text x="181.20" y="452.00" font-size="4.6" text-anchor="start" fill="#000" font-weight="bold" font-family="Liberation Sans, sans-serif">0.8</text>
<rect x="176" y="439" width="4" height="1" fill="#000"/>
<text x="181.20" y="441.00" font-size="4.6" text-anchor="start" fill="#000" font-weight="bold" font-family="Liberation Sans, sans-serif">0.9</text>
<rect x="176" y="429" width="4" height="1" fill="#000"/>
<text x="181.20" y="431.00" font-size="4.6" text-anchor="start" fill="#000" font-weight="bold" font-family="Liberation Sans, sans-serif">1</text>
<rect x="25" y="429" width="1" height="106" fill="#000"/>
<rect x="25" y="534" width="147" height="1" fill="#000"/>
<rect x="171" y="429" width="1" height="106" fill="#000"/>
<rect x="25" y="530" width="1" height="4" fill="#000"/>
<text x="25.10" y="542.80" font-size="10" text-anchor="middle" fill="#000">0</text>
<rect x="53" y="530" width="1" height="4" fill="#000"/>
<text x="53.10" y="542.80" font-size="10" text-anchor="middle" fill="#000">10</text>
<rect x="81" y="530" width="1" height="4" fill="#000"/>
<text x="81.10" y="542.80" font-size="10" text-anchor="middle" fill="#000">20</text>
<rect x="109" y="530" width="1" height="4" fill="#000"/>
<text x="109.10" y="542.80" font-size="10" text-anchor="middle" fill="#000">30</text>
<rect x="137" y="530" width="1" height="4" fill="#000"/>
<text x="137.10" y="542.80" font-size="10" text-anchor="middle" fill="#000">40</text>
<rect x="166" y="530" width="1" height="4" fill="#000"/>
<text x="166.10" y="542.80" font-size="10" text-anchor="middle" fill="#000">50</text>
<rect x="26" y="534" width="4" height="1" fill="#000"/>
<text x="24.00" y="537.80" font-size="10" text-anchor="end" fill="#000">0</text>
<rect x="26" y="520" width="4" height="1" fill="#000"/>
<text x="24.00" y="523.80" font-size="10" text-anchor="end" fill="#000">10</text>
<rect x="26" y="507" width="4" height="1" fill="#000"/>
<text x="24.00" y="510.80" font-size="10" text-anchor="end" fill="#000">20</text>
<rect x="26" y="494" width="4" height="1" fill="#000"/>
<text x="24.00" y="497.80" font-size="10" text-anchor="end" fill="#000">30</text>
<rect x="26" y="481" width="4" height="1" fill="#000"/>
<text x="24.00" y="484.80" font-size="10" text-anchor="end" fill="#000">40</text>
<rect x="26" y="468" width="4" height="1" fill="#000"/>
<text x="24.00" y="471.80" font-size="10" text-anchor="end" fill="#000">50</text>
<rect x="26" y="455" width="4" height="1" fill="#000"/>
<text x="24.00" y="458.80" font-size="10" text-anchor="end" fill="#000">60</text>
<rect x="26" y="442" width="4" height="1" fill="#000"/>
<text x="24.00" y="445.80" font-size="10" text-anchor="end" fill="#000">70</text>
<rect x="26" y="429" width="4" height="1" fill="#000"/>
<text x="24.00" y="432.80" font-size="10" text-anchor="end" fill="#000">80</text>
<text x="25.30" y="425.70" font-size="10.95" text-anchor="start" fill="#000">Address decoding</text>
<rect x="224" y="429" width="147" height="1" fill="#000"/>
<rect x="224" y="534" width="147" height="1" fill="#000"/>
<rect x="224" y="429" width="1" height="106" fill="#000"/>
<rect x="370" y="429" width="1" height="106" fill="#000"/>
<rect x="255" y="437" width="1" height="97" fill="#000"/>
<rect x="256" y="440" width="1" height="94" fill="#000"/>
<rect x="291" y="448" width="1" height="86" fill="#000"/>
<rect x="292" y="440" width="1" height="58" fill="#000"/>
<rect x="293" y="497" width="1" height="37" fill="#000"/>
<rect x="304" y="499" width="1" height="35" fill="#000"/>
<rect x="305" y="441" width="1" height="59" fill="#000"/>
<rect x="306" y="444" width="1" height="90" fill="#000"/>
<rect x="318" y="468" width="1" height="66" fill="#000"/>
<rect x="319" y="442" width="1" height="27" fill="#000"/>
<rect x="320" y="453" width="1" height="81" fill="#000"/>
<rect x="331" y="470" width="1" height="64" fill="#000"/>
<rect x="332" y="444" width="1" height="30" fill="#000"/>
<rect x="333" y="447" width="1" height="87" fill="#000"/>
<rect x="343" y="486" width="1" height="48" fill="#000"/>
<rect x="344" y="450" width="1" height="44" fill="#000"/>
<rect x="345" y="448" width="1" height="78" fill="#000"/>
<rect x="346" y="505" width="1" height="29" fill="#000"/>
<rect x="354" y="491" width="1" height="43" fill="#000"/>
<rect x="355" y="455" width="1" height="38" fill="#000"/>
<rect x="356" y="456" width="1" height="59" fill="#000"/>
<rect x="357" y="514" width="1" height="20" fill="#000"/>
<rect x="237" y="530" width="1" height="4" fill="#000"/>
<text x="237.10" y="542.80" font-size="10" text-anchor="middle" fill="#000">-1000</text>
<rect x="270" y="530" width="1" height="4" fill="#000"/>
<text x="270.10" y="542.80" font-size="10" text-anchor="middle" fill="#000">-500</text>
<rect x="304" y="530" width="1" height="4" fill="#000"/>
<text x="304.10" y="542.80" font-size="10" text-anchor="middle" fill="#000">0</text>
<rect x="337" y="530" width="1" height="4" fill="#000"/>
<text x="337.10" y="542.80" font-size="10" text-anchor="middle" fill="#000">500</text>
<rect x="370" y="530" width="1" height="4" fill="#000"/>
<text x="370.10" y="542.80" font-size="10" text-anchor="middle" fill="#000">1000</text>
<rect x="225" y="531" width="2" height="1" fill="#000"/>
<rect x="225" y="529" width="2" height="1" fill="#000"/>
<rect x="225" y="527" width="2" height="1" fill="#000"/>
<rect x="225" y="525" width="2" height="1" fill="#000"/>
<rect x="225" y="524" width="4" height="1" fill="#000"/>
<rect x="225" y="514" width="2" height="1" fill="#000"/>
<rect x="225" y="509" width="2" height="1" fill="#000"/>
<rect x="225" y="505" width="2" height="1" fill="#000"/>
<rect x="225" y="502" width="2" height="1" fill="#000"/>
<rect x="225" y="499" width="2" height="1" fill="#000"/>
<rect x="225" y="497" width="2" height="1" fill="#000"/>
<rect x="225" y="495" width="2" height="1" fill="#000"/>
<rect x="225" y="493" width="2" height="1" fill="#000"/>
<rect x="225" y="492" width="4" height="1" fill="#000"/>
<rect x="225" y="482" width="2" height="1" fill="#000"/>
<rect x="225" y="477" width="2" height="1" fill="#000"/>
<rect x="225" y="473" width="2" height="1" fill="#000"/>
<rect x="225" y="470" width="2" height="1" fill="#000"/>
<rect x="225" y="467" width="2" height="1" fill="#000"/>
<rect x="225" y="465" width="2" height="1" fill="#000"/>
<rect x="225" y="463" width="2" height="1" fill="#000"/>
<rect x="225" y="461" width="2" height="1" fill="#000"/>
<rect x="225" y="460" width="4" height="1" fill="#000"/>
<rect x="225" y="450" width="2" height="1" fill="#000"/>
<rect x="225" y="445" width="2" height="1" fill="#000"/>
<rect x="225" y="441" width="2" height="1" fill="#000"/>
<rect x="225" y="438" width="2" height="1" fill="#000"/>
<rect x="225" y="435" width="2" height="1" fill="#000"/>
<rect x="225" y="433" width="2" height="1" fill="#000"/>
<rect x="225" y="431" width="2" height="1" fill="#000"/>
<rect x="225" y="429" width="2" height="1" fill="#000"/>
<text x="223.00" y="527.70" font-size="10" text-anchor="end" fill="#000">1</text>
<text x="223.00" y="495.70" font-size="10" text-anchor="end" fill="#000">10</text>
<text x="223.00" y="463.69" font-size="10" text-anchor="end" fill="#000">10<tspan dy="-3.5" font-size="6.5">2</tspan></text>
<text x="224.30" y="425.70" font-size="10.95" text-anchor="start" fill="#000">Address Levels</text>
<rect x="423" y="429" width="147" height="1" fill="#000"/>
<rect x="423" y="534" width="147" height="1" fill="#000"/>
<rect x="423" y="429" width="1" height="106" fill="#000"/>
<rect x="569" y="429" width="1" height="106" fill="#000"/>
<path d="M494.50,534.50 L494.50,518.50 L495.50,518.50 L495.50,459.50 L496.50,459.50 L496.50,433.50 L498.50,433.50 L498.50,480.50 L499.50,480.50 L499.50,514.50 L500.50,514.50 L500.50,530.50 L501.50,530.50 L501.50,534.50" fill="none" stroke="#000" stroke-width="1"/>
<rect x="445" y="530" width="1" height="4" fill="#000"/>
<text x="445.10" y="542.80" font-size="10" text-anchor="middle" fill="#000">0</text>
<rect x="490" y="530" width="1" height="4" fill="#000"/>
<text x="490.10" y="542.80" font-size="10" text-anchor="middle" fill="#000">2</text>
<rect x="535" y="530" width="1" height="4" fill="#000"/>
<text x="535.10" y="542.80" font-size="10" text-anchor="middle" fill="#000">4</text>
<rect x="424" y="534" width="4" height="1" fill="#000"/>
<text x="422.00" y="537.80" font-size="10" text-anchor="end" fill="#000">0</text>
<rect x="424" y="513" width="4" height="1" fill="#000"/>
<text x="422.00" y="516.80" font-size="10" text-anchor="end" fill="#000">200</text>
<rect x="424" y="492" width="4" height="1" fill="#000"/>
<text x="422.00" y="495.80" font-size="10" text-anchor="end" fill="#000">400</text>
<rect x="424" y="471" width="4" height="1" fill="#000"/>
<text x="422.00" y="474.80" font-size="10" text-anchor="end" fill="#000">600</text>
<rect x="424" y="450" width="4" height="1" fill="#000"/>
<text x="422.00" y="453.80" font-size="10" text-anchor="end" fill="#000">800</text>
<text x="423.30" y="425.70" font-size="10.95" text-anchor="start" fill="#000">PH Calibration: Gain (ADC/DAC)</text>
<text x="432.00" y="439.00" font-size="10" text-anchor="start" fill="#000">N: 4160</text>
<text x="432.00" y="450.00" font-size="10" text-anchor="start" fill="#000">&#956;: 2.27</text>
<text x="432.00" y="460.00" font-size="10" text-anchor="start" fill="#000">&#963;: 0.05</text>
<defs><pattern id="dots" patternUnits="userSpaceOnUse" width="4" height="2"><rect x="2" y="0" width="1" height="1" fill="#ff0000"/><rect x="0" y="1" width="1" height="1" fill="#ff0000"/></pattern></defs>
<path fill="url(#dots)" d="M672 521h1V534h-1zM673 521h1V534h-1zM674 516h1V534h-1zM675 516h1V534h-1zM676 508h1V534h-1zM677 504h1V534h-1zM678 503h1V534h-1zM679 507h1V534h-1zM680 499h1V534h-1zM681 496h1V534h-1zM682 485h1V534h-1zM683 475h1V534h-1zM684 472h1V534h-1zM685 474h1V534h-1zM686 470h1V534h-1zM687 469h1V534h-1zM688 467h1V534h-1zM689 461h1V534h-1zM690 454h1V534h-1zM691 453h1V534h-1zM692 452h1V534h-1zM693 453h1V534h-1zM694 455h1V534h-1zM695 459h1V534h-1zM696 463h1V534h-1zM697 459h1V534h-1zM698 458h1V534h-1zM699 464h1V534h-1zM700 468h1V534h-1zM701 470h1V534h-1zM702 469h1V534h-1zM703 468h1V534h-1zM704 475h1V534h-1zM705 482h1V534h-1zM706 477h1V534h-1zM707 478h1V534h-1zM708 482h1V534h-1zM709 486h1V534h-1zM710 492h1V534h-1zM711 495h1V534h-1zM712 496h1V534h-1zM713 498h1V534h-1zM714 507h1V534h-1zM715 513h1V534h-1zM716 514h1V534h-1zM717 519h1V534h-1zM718 524h1V534h-1z"/>
<path fill="#000" d="M650 533h1V534h-1zM651 533h1V534h-1zM652 533h1V534h-1zM653 533h1V534h-1zM654 533h1V534h-1zM655 532h1V534h-1zM656 532h1V534h-1zM657 532h1V534h-1zM658 532h1V534h-1zM659 531h1V534h-1zM660 531h1V533h-1zM661 531h1V533h-1zM662 530h1V533h-1zM663 531h1V534h-1zM664 527h1V532h-1zM665 530h1V534h-1zM666 530h1V533h-1zM667 528h1V531h-1zM668 522h1V530h-1zM669 521h1V527h-1zM670 525h1V528h-1zM671 520h1V526h-1zM672 516h1V521h-1zM673 513h1V521h-1zM674 510h1V516h-1zM675 510h1V516h-1zM676 502h1V511h-1zM677 492h1V504h-1zM678 491h1V503h-1zM679 492h1V507h-1zM680 487h1V499h-1zM681 486h1V496h-1zM682 477h1V487h-1zM683 469h1V478h-1zM684 468h1V472h-1zM685 466h1V474h-1zM686 462h1V470h-1zM687 456h1V469h-1zM688 448h1V467h-1zM689 446h1V461h-1zM690 442h1V454h-1zM691 437h1V453h-1zM692 434h1V452h-1zM693 438h1V453h-1zM694 441h1V455h-1zM695 442h1V459h-1zM696 437h1V463h-1zM697 444h1V459h-1zM698 449h1V458h-1zM699 453h1V464h-1zM700 458h1V468h-1zM701 460h1V470h-1zM702 462h1V469h-1zM703 464h1V468h-1zM704 460h1V475h-1zM705 460h1V482h-1zM706 460h1V477h-1zM707 462h1V478h-1zM708 465h1V482h-1zM709 469h1V486h-1zM710 476h1V492h-1zM711 483h1V495h-1zM712 490h1V496h-1zM713 492h1V498h-1zM714 495h1V507h-1zM715 504h1V513h-1zM716 503h1V514h-1zM717 509h1V519h-1zM718 514h1V524h-1zM719 517h1V521h-1zM720 515h1V527h-1zM721 518h1V528h-1zM722 524h1V528h-1zM723 527h1V533h-1zM724 529h1V532h-1zM725 526h1V534h-1zM726 532h1V534h-1zM727 532h1V534h-1zM728 530h1V533h-1zM729 531h1V534h-1zM730 531h1V534h-1zM731 532h1V534h-1zM732 532h1V534h-1zM733 532h1V534h-1zM734 532h1V534h-1zM735 532h1V534h-1zM736 532h1V534h-1zM737 532h1V534h-1zM738 533h1V534h-1zM739 533h1V534h-1zM740 533h1V534h-1zM741 533h1V534h-1zM742 533h1V534h-1zM743 533h1V534h-1zM744 533h1V534h-1zM745 533h1V534h-1zM746 533h1V534h-1zM747 533h1V534h-1zM748 533h1V534h-1z"/>
<rect x="622" y="429" width="147" height="1" fill="#000"/>
<rect x="622" y="534" width="147" height="1" fill="#000"/>
<rect x="622" y="429" width="1" height="106" fill="#000"/>
<rect x="768" y="429" width="1" height="106" fill="#000"/>
<rect x="671" y="473" width="1" height="61" fill="#ff0000"/>
<rect x="719" y="473" width="1" height="61" fill="#ff0000"/>
<rect x="649" y="530" width="1" height="4" fill="#000"/>
<text x="649.10" y="542.80" font-size="10" text-anchor="middle" fill="#000">200</text>
<rect x="682" y="530" width="1" height="4" fill="#000"/>
<text x="682.10" y="542.80" font-size="10" text-anchor="middle" fill="#000">250</text>
<rect x="715" y="530" width="1" height="4" fill="#000"/>
<text x="715.10" y="542.80" font-size="10" text-anchor="middle" fill="#000">300</text>
<rect x="748" y="530" width="1" height="4" fill="#000"/>
<text x="748.10" y="542.80" font-size="10" text-anchor="middle" fill="#000">350</text>
<rect x="623" y="534" width="4" height="1" fill="#000"/>
<text x="621.00" y="537.80" font-size="10" text-anchor="end" fill="#000">0</text>
<rect x="623" y="513" width="4" height="1" fill="#000"/>
<text x="621.00" y="516.80" font-size="10" text-anchor="end" fill="#000">20</text>
<rect x="623" y="493" width="4" height="1" fill="#000"/>
<text x="621.00" y="496.80" font-size="10" text-anchor="end" fill="#000">40</text>
<rect x="623" y="473" width="4" height="1" fill="#000"/>
<text x="621.00" y="476.80" font-size="10" text-anchor="end" fill="#000">60</text>
<rect x="623" y="453" width="4" height="1" fill="#000"/>
<text x="621.00" y="456.80" font-size="10" text-anchor="end" fill="#000">80</text>
<rect x="623" y="433" width="4" height="1" fill="#000"/>
<text x="621.00" y="436.80" font-size="10" text-anchor="end" fill="#000">100</text>
<text x="622.30" y="425.70" font-size="10.95" text-anchor="start" fill="#000">PH Calibration: Pedestal (DAC)</text>
<text x="633.00" y="439.00" font-size="10" text-anchor="start" fill="#000">N: 4160</text>
<text x="633.00" y="450.00" font-size="10" text-anchor="start" fill="#ff0000">&#956;: 269.8</text>
<text x="633.00" y="460.00" font-size="10" text-anchor="start" fill="#ff0000">&#963;: 16.7</text>
<path fill="#00ff55" shape-rendering="crispEdges" d="M25.6 725.69H28.5V727.00H25.6zM65.0 725.69H67.8V727.00H65.0zM76.2 724.38H79.0V725.69H76.2zM25.6 723.06H28.5V724.38H25.6zM90.2 723.06H93.0V724.38H90.2zM31.3 721.75H34.1V723.06H31.3zM34.1 720.44H36.9V721.75H34.1zM84.6 719.12H87.4V720.44H84.6zM168.8 716.50H171.7V717.81H168.8zM39.7 715.19H42.5V716.50H39.7zM25.6 713.88H28.5V715.19H25.6zM90.2 713.88H93.0V715.19H90.2zM25.6 712.56H28.5V713.88H25.6zM168.8 712.56H171.7V713.88H168.8zM70.6 711.25H73.4V712.56H70.6zM76.2 708.62H79.0V709.94H76.2zM90.2 707.31H93.0V708.62H90.2zM36.9 704.69H39.7V706.00H36.9zM42.5 704.69H45.3V706.00H42.5zM73.4 703.38H76.2V704.69H73.4zM62.1 702.06H65.0V703.38H62.1zM79.0 700.75H81.8V702.06H79.0zM90.2 700.75H93.0V702.06H90.2zM121.1 700.75H123.9V702.06H121.1zM53.7 699.44H56.5V700.75H53.7zM112.7 698.12H115.5V699.44H112.7zM25.6 696.81H31.3V698.12H25.6zM25.6 695.50H28.5V696.81H25.6zM132.3 695.50H135.1V696.81H132.3zM25.6 694.19H28.5V695.50H25.6zM31.3 691.56H34.1V692.88H31.3zM76.2 691.56H79.0V692.88H76.2zM109.9 690.25H112.7V691.56H109.9zM36.9 688.94H39.7V690.25H36.9zM93.0 688.94H95.8V690.25H93.0zM34.1 686.31H39.7V687.62H34.1zM70.6 686.31H73.4V687.62H70.6zM39.7 685.00H42.5V686.31H39.7zM112.7 685.00H115.5V686.31H112.7zM28.5 683.69H31.3V685.00H28.5zM59.3 683.69H62.1V685.00H59.3zM168.8 683.69H171.7V685.00H168.8zM53.7 682.38H56.5V683.69H53.7zM168.8 682.38H171.7V683.69H168.8zM25.6 681.06H28.5V682.38H25.6zM36.9 681.06H45.3V682.38H36.9zM79.0 681.06H81.8V682.38H79.0zM168.8 681.06H171.7V682.38H168.8zM168.8 678.44H171.7V679.75H168.8zM25.6 677.12H28.5V678.44H25.6zM31.3 677.12H34.1V678.44H31.3zM53.7 677.12H56.5V678.44H53.7zM25.6 675.81H28.5V677.12H25.6zM34.1 675.81H36.9V677.12H34.1zM98.7 675.81H101.5V677.12H98.7zM107.1 675.81H109.9V677.12H107.1zM39.7 674.50H42.5V675.81H39.7zM59.3 674.50H62.1V675.81H59.3zM67.8 674.50H70.6V675.81H67.8zM39.7 673.19H42.5V674.50H39.7zM28.5 671.88H31.3V673.19H28.5zM34.1 671.88H36.9V673.19H34.1zM67.8 671.88H70.6V673.19H67.8zM87.4 671.88H90.2V673.19H87.4zM98.7 671.88H101.5V673.19H98.7zM118.3 671.88H121.1V673.19H118.3zM168.8 671.88H171.7V673.19H168.8zM25.6 670.56H28.5V671.88H25.6zM25.6 669.25H28.5V670.56H25.6zM59.3 669.25H62.1V670.56H59.3zM31.3 666.62H34.1V667.94H31.3zM42.5 666.62H45.3V667.94H42.5zM62.1 666.62H65.0V667.94H62.1zM168.8 666.62H171.7V667.94H168.8zM168.8 665.31H171.7V666.62H168.8zM25.6 664.00H28.5V665.31H25.6zM59.3 662.69H62.1V664.00H59.3zM56.5 661.38H59.3V662.69H56.5zM48.1 660.06H53.7V661.38H48.1zM65.0 660.06H67.8V661.38H65.0zM168.8 660.06H171.7V661.38H168.8zM25.6 658.75H28.5V660.06H25.6zM48.1 658.75H50.9V660.06H48.1zM81.8 658.75H84.6V660.06H81.8zM87.4 657.44H90.2V658.75H87.4zM25.6 656.12H28.5V657.44H25.6zM59.3 656.12H62.1V657.44H59.3zM34.1 654.81H36.9V656.12H34.1zM53.7 654.81H56.5V656.12H53.7zM90.2 654.81H93.0V656.12H90.2zM25.6 653.50H28.5V654.81H25.6zM50.9 653.50H53.7V654.81H50.9zM67.8 653.50H70.6V654.81H67.8zM129.5 652.19H132.3V653.50H129.5zM25.6 650.88H28.5V652.19H25.6zM90.2 650.88H93.0V652.19H90.2zM168.8 650.88H171.7V652.19H168.8zM25.6 649.56H28.5V650.88H25.6zM28.5 648.25H31.3V649.56H28.5zM42.5 648.25H45.3V649.56H42.5zM73.4 648.25H76.2V649.56H73.4zM90.2 646.94H93.0V648.25H90.2zM93.0 645.62H95.8V646.94H93.0zM168.8 645.62H171.7V646.94H168.8zM25.6 644.31H28.5V645.62H25.6zM65.0 644.31H67.8V645.62H65.0zM56.5 643.00H59.3V644.31H56.5zM65.0 643.00H67.8V644.31H65.0zM98.7 643.00H101.5V644.31H98.7zM25.6 641.69H28.5V643.00H25.6zM45.3 641.69H48.1V643.00H45.3zM132.3 641.69H135.1V643.00H132.3zM140.8 641.69H143.6V643.00H140.8zM25.6 639.06H28.5V640.38H25.6zM42.5 639.06H45.3V640.38H42.5zM168.8 639.06H171.7V640.38H168.8zM25.6 637.75H28.5V639.06H25.6zM34.1 637.75H36.9V639.06H34.1zM112.7 637.75H115.5V639.06H112.7zM132.3 637.75H135.1V639.06H132.3zM25.6 636.44H28.5V637.75H25.6zM25.6 635.12H28.5V636.44H25.6zM56.5 633.81H59.3V635.12H56.5zM90.2 632.50H93.0V633.81H90.2zM25.6 631.19H28.5V632.50H25.6zM56.5 631.19H59.3V632.50H56.5zM28.5 629.88H31.3V631.19H28.5zM166.0 629.88H168.8V631.19H166.0zM28.5 627.25H34.1V628.56H28.5zM118.3 627.25H121.1V628.56H118.3zM25.6 625.94H28.5V627.25H25.6zM62.1 624.62H65.0V625.94H62.1zM34.1 623.31H36.9V624.62H34.1zM39.7 622.00H42.5V623.31H39.7zM67.8 622.00H70.6V623.31H67.8zM79.0 622.00H81.8V623.31H79.0zM90.2 622.00H93.0V623.31H90.2zM98.7 622.00H101.5V623.31H98.7zM126.7 622.00H129.5V623.31H126.7zM143.6 622.00H146.4V623.31H143.6zM163.2 622.00H168.8V623.31H163.2z"/>
<path fill="#22ff00" shape-rendering="crispEdges" d="M28.5 725.69H31.3V727.00H28.5zM34.1 725.69H36.9V727.00H34.1zM45.3 725.69H48.1V727.00H45.3zM67.8 725.69H70.6V727.00H67.8zM81.8 725.69H90.2V727.00H81.8zM168.8 725.69H171.7V727.00H168.8zM31.3 724.38H34.1V725.69H31.3zM48.1 724.38H50.9V725.69H48.1zM56.5 724.38H59.3V725.69H56.5zM87.4 724.38H90.2V725.69H87.4zM45.3 723.06H48.1V724.38H45.3zM138.0 723.06H140.8V724.38H138.0zM168.8 723.06H171.7V724.38H168.8zM36.9 721.75H39.7V723.06H36.9zM48.1 721.75H50.9V723.06H48.1zM53.7 721.75H56.5V723.06H53.7zM67.8 721.75H70.6V723.06H67.8zM104.3 721.75H107.1V723.06H104.3zM115.5 721.75H118.3V723.06H115.5zM157.6 721.75H160.4V723.06H157.6zM168.8 721.75H171.7V723.06H168.8zM36.9 720.44H39.7V721.75H36.9zM42.5 720.44H48.1V721.75H42.5zM53.7 720.44H56.5V721.75H53.7zM62.1 720.44H65.0V721.75H62.1zM90.2 720.44H93.0V721.75H90.2zM109.9 720.44H115.5V721.75H109.9zM132.3 720.44H135.1V721.75H132.3zM28.5 719.12H31.3V720.44H28.5zM36.9 719.12H39.7V720.44H36.9zM62.1 719.12H65.0V720.44H62.1zM79.0 719.12H81.8V720.44H79.0zM115.5 719.12H118.3V720.44H115.5zM157.6 719.12H160.4V720.44H157.6zM168.8 719.12H171.7V720.44H168.8zM34.1 717.81H36.9V719.12H34.1zM45.3 717.81H48.1V719.12H45.3zM50.9 717.81H53.7V719.12H50.9zM62.1 717.81H65.0V719.12H62.1zM70.6 717.81H73.4V719.12H70.6zM107.1 717.81H109.9V719.12H107.1zM112.7 717.81H115.5V719.12H112.7zM121.1 717.81H123.9V719.12H121.1zM31.3 716.50H34.1V717.81H31.3zM36.9 716.50H39.7V717.81H36.9zM42.5 716.50H45.3V717.81H42.5zM67.8 716.50H70.6V717.81H67.8zM25.6 715.19H28.5V716.50H25.6zM50.9 715.19H53.7V716.50H50.9zM65.0 715.19H70.6V716.50H65.0zM81.8 715.19H84.6V716.50H81.8zM87.4 715.19H90.2V716.50H87.4zM48.1 713.88H50.9V715.19H48.1zM76.2 713.88H79.0V715.19H76.2zM84.6 713.88H87.4V715.19H84.6zM129.5 713.88H132.3V715.19H129.5zM163.2 713.88H166.0V715.19H163.2zM28.5 712.56H31.3V713.88H28.5zM36.9 712.56H42.5V713.88H36.9zM48.1 712.56H50.9V713.88H48.1zM53.7 712.56H56.5V713.88H53.7zM73.4 712.56H76.2V713.88H73.4zM109.9 712.56H112.7V713.88H109.9zM132.3 712.56H135.1V713.88H132.3zM25.6 711.25H28.5V712.56H25.6zM67.8 711.25H70.6V712.56H67.8zM84.6 711.25H87.4V712.56H84.6zM95.8 711.25H98.7V712.56H95.8zM132.3 711.25H135.1V712.56H132.3zM138.0 711.25H140.8V712.56H138.0zM28.5 709.94H34.1V711.25H28.5zM42.5 709.94H48.1V711.25H42.5zM59.3 709.94H62.1V711.25H59.3zM87.4 709.94H90.2V711.25H87.4zM98.7 709.94H101.5V711.25H98.7zM50.9 708.62H53.7V709.94H50.9zM59.3 708.62H65.0V709.94H59.3zM70.6 708.62H73.4V709.94H70.6zM79.0 708.62H81.8V709.94H79.0zM138.0 708.62H140.8V709.94H138.0zM168.8 708.62H171.7V709.94H168.8zM45.3 707.31H48.1V708.62H45.3zM65.0 707.31H67.8V708.62H65.0zM126.7 707.31H129.5V708.62H126.7zM168.8 707.31H171.7V708.62H168.8zM53.7 706.00H56.5V707.31H53.7zM48.1 704.69H50.9V706.00H48.1zM56.5 704.69H59.3V706.00H56.5zM67.8 704.69H73.4V706.00H67.8zM84.6 704.69H90.2V706.00H84.6zM98.7 704.69H101.5V706.00H98.7zM168.8 704.69H171.7V706.00H168.8zM25.6 703.38H28.5V704.69H25.6zM36.9 703.38H39.7V704.69H36.9zM56.5 703.38H59.3V704.69H56.5zM76.2 703.38H81.8V704.69H76.2zM84.6 703.38H87.4V704.69H84.6zM107.1 703.38H109.9V704.69H107.1zM138.0 703.38H140.8V704.69H138.0zM45.3 702.06H48.1V703.38H45.3zM56.5 702.06H59.3V703.38H56.5zM31.3 700.75H36.9V702.06H31.3zM39.7 700.75H42.5V702.06H39.7zM101.5 700.75H104.3V702.06H101.5zM115.5 700.75H118.3V702.06H115.5zM28.5 699.44H31.3V700.75H28.5zM126.7 699.44H129.5V700.75H126.7zM168.8 699.44H171.7V700.75H168.8zM28.5 698.12H31.3V699.44H28.5zM42.5 698.12H45.3V699.44H42.5zM50.9 698.12H53.7V699.44H50.9zM65.0 698.12H67.8V699.44H65.0zM81.8 698.12H84.6V699.44H81.8zM87.4 698.12H90.2V699.44H87.4zM95.8 698.12H98.7V699.44H95.8zM160.4 698.12H163.2V699.44H160.4zM104.3 696.81H107.1V698.12H104.3zM36.9 695.50H39.7V696.81H36.9zM48.1 695.50H50.9V696.81H48.1zM56.5 695.50H59.3V696.81H56.5zM65.0 695.50H70.6V696.81H65.0zM93.0 695.50H95.8V696.81H93.0zM123.9 695.50H129.5V696.81H123.9zM146.4 695.50H149.2V696.81H146.4zM168.8 695.50H171.7V696.81H168.8zM36.9 694.19H39.7V695.50H36.9zM48.1 694.19H50.9V695.50H48.1zM65.0 694.19H67.8V695.50H65.0zM160.4 694.19H163.2V695.50H160.4zM65.0 692.88H67.8V694.19H65.0zM101.5 692.88H104.3V694.19H101.5zM138.0 692.88H140.8V694.19H138.0zM143.6 692.88H146.4V694.19H143.6zM28.5 691.56H31.3V692.88H28.5zM42.5 691.56H45.3V692.88H42.5zM70.6 691.56H73.4V692.88H70.6zM93.0 691.56H101.5V692.88H93.0zM123.9 691.56H126.7V692.88H123.9zM149.2 691.56H152.0V692.88H149.2zM50.9 690.25H53.7V691.56H50.9zM101.5 690.25H104.3V691.56H101.5zM31.3 688.94H34.1V690.25H31.3zM56.5 688.94H59.3V690.25H56.5zM81.8 688.94H84.6V690.25H81.8zM112.7 688.94H115.5V690.25H112.7zM28.5 687.62H36.9V688.94H28.5zM73.4 687.62H76.2V688.94H73.4zM149.2 687.62H152.0V688.94H149.2zM25.6 686.31H28.5V687.62H25.6zM39.7 686.31H45.3V687.62H39.7zM56.5 686.31H59.3V687.62H56.5zM65.0 686.31H67.8V687.62H65.0zM90.2 686.31H93.0V687.62H90.2zM104.3 686.31H107.1V687.62H104.3zM168.8 686.31H171.7V687.62H168.8zM25.6 685.00H28.5V686.31H25.6zM42.5 685.00H48.1V686.31H42.5zM53.7 685.00H56.5V686.31H53.7zM101.5 685.00H104.3V686.31H101.5zM31.3 683.69H36.9V685.00H31.3zM39.7 683.69H42.5V685.00H39.7zM56.5 683.69H59.3V685.00H56.5zM62.1 683.69H70.6V685.00H62.1zM73.4 683.69H76.2V685.00H73.4zM81.8 683.69H87.4V685.00H81.8zM109.9 683.69H112.7V685.00H109.9zM115.5 683.69H118.3V685.00H115.5zM126.7 683.69H129.5V685.00H126.7zM166.0 683.69H168.8V685.00H166.0zM34.1 682.38H36.9V683.69H34.1zM56.5 682.38H59.3V683.69H56.5zM79.0 682.38H81.8V683.69H79.0zM104.3 682.38H107.1V683.69H104.3zM112.7 682.38H115.5V683.69H112.7zM121.1 682.38H123.9V683.69H121.1zM132.3 682.38H135.1V683.69H132.3zM67.8 681.06H70.6V682.38H67.8zM73.4 681.06H79.0V682.38H73.4zM95.8 681.06H98.7V682.38H95.8zM115.5 681.06H118.3V682.38H115.5zM121.1 681.06H123.9V682.38H121.1zM36.9 679.75H39.7V681.06H36.9zM50.9 679.75H56.5V681.06H50.9zM76.2 679.75H79.0V681.06H76.2zM157.6 679.75H160.4V681.06H157.6zM168.8 679.75H171.7V681.06H168.8zM95.8 678.44H98.7V679.75H95.8zM143.6 678.44H146.4V679.75H143.6zM34.1 677.12H36.9V678.44H34.1zM42.5 677.12H45.3V678.44H42.5zM50.9 677.12H53.7V678.44H50.9zM79.0 677.12H81.8V678.44H79.0zM95.8 677.12H98.7V678.44H95.8zM107.1 677.12H109.9V678.44H107.1zM112.7 677.12H115.5V678.44H112.7zM168.8 677.12H171.7V678.44H168.8zM53.7 675.81H59.3V677.12H53.7zM73.4 675.81H76.2V677.12H73.4zM87.4 675.81H90.2V677.12H87.4zM163.2 675.81H166.0V677.12H163.2zM25.6 674.50H31.3V675.81H25.6zM42.5 674.50H45.3V675.81H42.5zM112.7 674.50H115.5V675.81H112.7zM121.1 674.50H123.9V675.81H121.1zM163.2 674.50H166.0V675.81H163.2zM28.5 673.19H31.3V674.50H28.5zM101.5 673.19H104.3V674.50H101.5zM129.5 673.19H135.1V674.50H129.5zM31.3 671.88H34.1V673.19H31.3zM50.9 671.88H56.5V673.19H50.9zM62.1 671.88H65.0V673.19H62.1zM81.8 671.88H84.6V673.19H81.8zM90.2 671.88H95.8V673.19H90.2zM109.9 671.88H112.7V673.19H109.9zM31.3 670.56H34.1V671.88H31.3zM42.5 670.56H48.1V671.88H42.5zM59.3 670.56H62.1V671.88H59.3zM76.2 670.56H79.0V671.88H76.2zM28.5 669.25H34.1V670.56H28.5zM65.0 669.25H67.8V670.56H65.0zM70.6 669.25H73.4V670.56H70.6zM62.1 667.94H65.0V669.25H62.1zM79.0 667.94H81.8V669.25H79.0zM98.7 667.94H107.1V669.25H98.7zM121.1 667.94H123.9V669.25H121.1zM168.8 667.94H171.7V669.25H168.8zM25.6 666.62H28.5V667.94H25.6zM34.1 666.62H42.5V667.94H34.1zM76.2 666.62H79.0V667.94H76.2zM107.1 666.62H109.9V667.94H107.1zM45.3 665.31H48.1V666.62H45.3zM67.8 665.31H70.6V666.62H67.8zM93.0 665.31H95.8V666.62H93.0zM121.1 665.31H123.9V666.62H121.1zM154.8 665.31H157.6V666.62H154.8zM36.9 664.00H39.7V665.31H36.9zM53.7 664.00H56.5V665.31H53.7zM79.0 664.00H81.8V665.31H79.0zM93.0 664.00H98.7V665.31H93.0zM168.8 664.00H171.7V665.31H168.8zM45.3 662.69H48.1V664.00H45.3zM73.4 662.69H76.2V664.00H73.4zM87.4 662.69H90.2V664.00H87.4zM98.7 662.69H101.5V664.00H98.7zM168.8 662.69H171.7V664.00H168.8zM140.8 661.38H143.6V662.69H140.8zM28.5 660.06H31.3V661.38H28.5zM53.7 660.06H56.5V661.38H53.7zM73.4 660.06H76.2V661.38H73.4zM81.8 660.06H87.4V661.38H81.8zM93.0 660.06H95.8V661.38H93.0zM107.1 660.06H109.9V661.38H107.1zM31.3 658.75H34.1V660.06H31.3zM39.7 658.75H42.5V660.06H39.7zM73.4 658.75H76.2V660.06H73.4zM138.0 658.75H140.8V660.06H138.0zM28.5 657.44H31.3V658.75H28.5zM59.3 657.44H62.1V658.75H59.3zM65.0 657.44H67.8V658.75H65.0zM101.5 657.44H107.1V658.75H101.5zM126.7 657.44H129.5V658.75H126.7zM28.5 656.12H34.1V657.44H28.5zM42.5 656.12H45.3V657.44H42.5zM53.7 656.12H56.5V657.44H53.7zM90.2 656.12H93.0V657.44H90.2zM98.7 656.12H101.5V657.44H98.7zM107.1 656.12H109.9V657.44H107.1zM56.5 654.81H59.3V656.12H56.5zM107.1 654.81H109.9V656.12H107.1zM121.1 654.81H123.9V656.12H121.1zM126.7 654.81H132.3V656.12H126.7zM34.1 653.50H36.9V654.81H34.1zM39.7 653.50H42.5V654.81H39.7zM45.3 653.50H48.1V654.81H45.3zM65.0 653.50H67.8V654.81H65.0zM101.5 653.50H104.3V654.81H101.5zM168.8 653.50H171.7V654.81H168.8zM36.9 652.19H39.7V653.50H36.9zM56.5 652.19H59.3V653.50H56.5zM87.4 652.19H90.2V653.50H87.4zM98.7 652.19H101.5V653.50H98.7zM109.9 652.19H112.7V653.50H109.9zM126.7 652.19H129.5V653.50H126.7zM135.1 652.19H138.0V653.50H135.1zM28.5 650.88H31.3V652.19H28.5zM42.5 650.88H45.3V652.19H42.5zM135.1 650.88H138.0V652.19H135.1zM154.8 650.88H157.6V652.19H154.8zM34.1 649.56H36.9V650.88H34.1zM65.0 649.56H70.6V650.88H65.0zM81.8 649.56H84.6V650.88H81.8zM87.4 649.56H90.2V650.88H87.4zM101.5 649.56H104.3V650.88H101.5zM109.9 649.56H112.7V650.88H109.9zM34.1 648.25H39.7V649.56H34.1zM45.3 648.25H48.1V649.56H45.3zM53.7 648.25H56.5V649.56H53.7zM95.8 648.25H98.7V649.56H95.8zM121.1 648.25H123.9V649.56H121.1zM160.4 648.25H166.0V649.56H160.4zM93.0 646.94H98.7V648.25H93.0zM101.5 645.62H107.1V646.94H101.5zM48.1 644.31H53.7V645.62H48.1zM62.1 644.31H65.0V645.62H62.1zM98.7 644.31H101.5V645.62H98.7zM59.3 643.00H62.1V644.31H59.3zM79.0 643.00H81.8V644.31H79.0zM132.3 643.00H135.1V644.31H132.3zM168.8 643.00H171.7V644.31H168.8zM28.5 641.69H31.3V643.00H28.5zM34.1 641.69H36.9V643.00H34.1zM42.5 641.69H45.3V643.00H42.5zM48.1 641.69H56.5V643.00H48.1zM76.2 641.69H79.0V643.00H76.2zM90.2 641.69H93.0V643.00H90.2zM95.8 641.69H98.7V643.00H95.8zM28.5 640.38H31.3V641.69H28.5zM39.7 640.38H42.5V641.69H39.7zM132.3 640.38H135.1V641.69H132.3zM28.5 639.06H31.3V640.38H28.5zM36.9 639.06H39.7V640.38H36.9zM84.6 639.06H87.4V640.38H84.6zM39.7 637.75H42.5V639.06H39.7zM59.3 637.75H62.1V639.06H59.3zM90.2 637.75H93.0V639.06H90.2zM143.6 637.75H146.4V639.06H143.6zM36.9 636.44H39.7V637.75H36.9zM73.4 636.44H76.2V637.75H73.4zM107.1 636.44H109.9V637.75H107.1zM121.1 636.44H123.9V637.75H121.1zM135.1 636.44H138.0V637.75H135.1zM65.0 635.12H67.8V636.44H65.0zM81.8 635.12H84.6V636.44H81.8zM152.0 635.12H154.8V636.44H152.0zM34.1 633.81H36.9V635.12H34.1zM39.7 633.81H42.5V635.12H39.7zM50.9 633.81H53.7V635.12H50.9zM59.3 633.81H62.1V635.12H59.3zM31.3 632.50H34.1V633.81H31.3zM42.5 632.50H45.3V633.81H42.5zM53.7 632.50H56.5V633.81H53.7zM70.6 632.50H73.4V633.81H70.6zM93.0 632.50H95.8V633.81H93.0zM42.5 631.19H45.3V632.50H42.5zM48.1 631.19H50.9V632.50H48.1zM53.7 631.19H56.5V632.50H53.7zM84.6 631.19H87.4V632.50H84.6zM149.2 631.19H152.0V632.50H149.2zM34.1 629.88H36.9V631.19H34.1zM48.1 629.88H50.9V631.19H48.1zM59.3 629.88H62.1V631.19H59.3zM67.8 629.88H73.4V631.19H67.8zM90.2 629.88H93.0V631.19H90.2zM48.1 628.56H50.9V629.88H48.1zM76.2 628.56H79.0V629.88H76.2zM140.8 628.56H143.6V629.88H140.8zM168.8 628.56H171.7V629.88H168.8zM25.6 627.25H28.5V628.56H25.6zM45.3 627.25H50.9V628.56H45.3zM53.7 627.25H56.5V628.56H53.7zM62.1 627.25H67.8V628.56H62.1zM81.8 627.25H84.6V628.56H81.8zM115.5 627.25H118.3V628.56H115.5zM121.1 627.25H123.9V628.56H121.1zM140.8 627.25H146.4V628.56H140.8zM53.7 625.94H56.5V627.25H53.7zM62.1 625.94H65.0V627.25H62.1zM67.8 625.94H73.4V627.25H67.8zM135.1 625.94H138.0V627.25H135.1zM56.5 624.62H59.3V625.94H56.5zM67.8 624.62H70.6V625.94H67.8zM93.0 624.62H95.8V625.94H93.0zM101.5 624.62H104.3V625.94H101.5zM112.7 624.62H115.5V625.94H112.7zM163.2 624.62H166.0V625.94H163.2zM36.9 623.31H39.7V624.62H36.9zM48.1 623.31H50.9V624.62H48.1zM56.5 623.31H59.3V624.62H56.5zM62.1 623.31H65.0V624.62H62.1zM70.6 623.31H73.4V624.62H70.6zM87.4 623.31H90.2V624.62H87.4zM104.3 623.31H107.1V624.62H104.3zM109.9 623.31H112.7V624.62H109.9zM121.1 623.31H123.9V624.62H121.1zM149.2 623.31H152.0V624.62H149.2zM168.8 623.31H171.7V624.62H168.8zM36.9 622.00H39.7V623.31H36.9zM42.5 622.00H45.3V623.31H42.5zM53.7 622.00H56.5V623.31H53.7zM62.1 622.00H65.0V623.31H62.1zM70.6 622.00H73.4V623.31H70.6zM87.4 622.00H90.2V623.31H87.4zM101.5 622.00H104.3V623.31H101.5zM107.1 622.00H109.9V623.31H107.1zM112.7 622.00H115.5V623.31H112.7zM118.3 622.00H121.1V623.31H118.3zM132.3 622.00H138.0V623.31H132.3z"/>
<path fill="#ffa700" shape-rendering="crispEdges" d="M31.3 725.69H34.1V727.00H31.3zM73.4 725.69H76.2V727.00H73.4zM129.5 725.69H132.3V727.00H129.5zM157.6 725.69H160.4V727.00H157.6zM39.7 724.38H42.5V725.69H39.7zM79.0 724.38H84.6V725.69H79.0zM115.5 724.38H121.1V725.69H115.5zM132.3 724.38H135.1V725.69H132.3zM146.4 724.38H149.2V725.69H146.4zM157.6 724.38H163.2V725.69H157.6zM132.3 723.06H135.1V724.38H132.3zM140.8 723.06H143.6V724.38H140.8zM123.9 721.75H126.7V723.06H123.9zM135.1 721.75H138.0V723.06H135.1zM143.6 721.75H149.2V723.06H143.6zM28.5 720.44H31.3V721.75H28.5zM146.4 720.44H154.8V721.75H146.4zM157.6 720.44H160.4V721.75H157.6zM121.1 719.12H123.9V720.44H121.1zM126.7 719.12H129.5V720.44H126.7zM143.6 719.12H146.4V720.44H143.6zM152.0 719.12H154.8V720.44H152.0zM166.0 719.12H168.8V720.44H166.0zM36.9 717.81H39.7V719.12H36.9zM84.6 717.81H87.4V719.12H84.6zM104.3 717.81H107.1V719.12H104.3zM123.9 717.81H126.7V719.12H123.9zM129.5 717.81H132.3V719.12H129.5zM135.1 717.81H138.0V719.12H135.1zM62.1 716.50H65.0V717.81H62.1zM81.8 716.50H84.6V717.81H81.8zM98.7 716.50H101.5V717.81H98.7zM104.3 716.50H107.1V717.81H104.3zM123.9 716.50H126.7V717.81H123.9zM166.0 716.50H168.8V717.81H166.0zM36.9 715.19H39.7V716.50H36.9zM101.5 715.19H104.3V716.50H101.5zM121.1 715.19H123.9V716.50H121.1zM154.8 715.19H157.6V716.50H154.8zM160.4 715.19H163.2V716.50H160.4zM166.0 715.19H168.8V716.50H166.0zM50.9 713.88H53.7V715.19H50.9zM98.7 713.88H101.5V715.19H98.7zM115.5 713.88H118.3V715.19H115.5zM135.1 713.88H138.0V715.19H135.1zM146.4 713.88H149.2V715.19H146.4zM67.8 712.56H70.6V713.88H67.8zM76.2 712.56H79.0V713.88H76.2zM104.3 712.56H107.1V713.88H104.3zM135.1 712.56H138.0V713.88H135.1zM149.2 712.56H152.0V713.88H149.2zM163.2 712.56H166.0V713.88H163.2zM101.5 711.25H104.3V712.56H101.5zM140.8 711.25H143.6V712.56H140.8zM149.2 711.25H152.0V712.56H149.2zM129.5 709.94H132.3V711.25H129.5zM138.0 709.94H140.8V711.25H138.0zM146.4 709.94H152.0V711.25H146.4zM163.2 709.94H168.8V711.25H163.2zM163.2 708.62H168.8V709.94H163.2zM95.8 707.31H98.7V708.62H95.8zM112.7 707.31H115.5V708.62H112.7zM121.1 707.31H123.9V708.62H121.1zM138.0 707.31H140.8V708.62H138.0zM149.2 707.31H152.0V708.62H149.2zM84.6 706.00H90.2V707.31H84.6zM112.7 706.00H115.5V707.31H112.7zM163.2 706.00H166.0V707.31H163.2zM50.9 704.69H53.7V706.00H50.9zM76.2 704.69H79.0V706.00H76.2zM107.1 704.69H112.7V706.00H107.1zM126.7 704.69H129.5V706.00H126.7zM149.2 704.69H152.0V706.00H149.2zM157.6 704.69H163.2V706.00H157.6zM115.5 703.38H118.3V704.69H115.5zM160.4 703.38H163.2V704.69H160.4zM123.9 700.75H129.5V702.06H123.9zM138.0 700.75H140.8V702.06H138.0zM146.4 700.75H149.2V702.06H146.4zM157.6 700.75H160.4V702.06H157.6zM76.2 699.44H79.0V700.75H76.2zM48.1 698.12H50.9V699.44H48.1zM98.7 698.12H101.5V699.44H98.7zM121.1 698.12H123.9V699.44H121.1zM126.7 698.12H129.5V699.44H126.7zM132.3 698.12H135.1V699.44H132.3zM163.2 698.12H166.0V699.44H163.2zM45.3 696.81H48.1V698.12H45.3zM50.9 696.81H53.7V698.12H50.9zM98.7 696.81H101.5V698.12H98.7zM115.5 696.81H118.3V698.12H115.5zM140.8 696.81H143.6V698.12H140.8zM152.0 696.81H154.8V698.12H152.0zM166.0 696.81H168.8V698.12H166.0zM112.7 695.50H115.5V696.81H112.7zM50.9 694.19H53.7V695.50H50.9zM93.0 694.19H95.8V695.50H93.0zM115.5 694.19H118.3V695.50H115.5zM138.0 694.19H143.6V695.50H138.0zM157.6 694.19H160.4V695.50H157.6zM39.7 692.88H42.5V694.19H39.7zM126.7 692.88H129.5V694.19H126.7zM160.4 692.88H163.2V694.19H160.4zM90.2 691.56H93.0V692.88H90.2zM152.0 691.56H157.6V692.88H152.0zM98.7 690.25H101.5V691.56H98.7zM65.0 688.94H67.8V690.25H65.0zM121.1 688.94H126.7V690.25H121.1zM135.1 688.94H138.0V690.25H135.1zM143.6 688.94H149.2V690.25H143.6zM163.2 688.94H166.0V690.25H163.2zM93.0 687.62H95.8V688.94H93.0zM126.7 687.62H129.5V688.94H126.7zM59.3 686.31H62.1V687.62H59.3zM67.8 686.31H70.6V687.62H67.8zM73.4 686.31H76.2V687.62H73.4zM101.5 686.31H104.3V687.62H101.5zM115.5 686.31H118.3V687.62H115.5zM123.9 686.31H126.7V687.62H123.9zM129.5 686.31H132.3V687.62H129.5zM135.1 686.31H138.0V687.62H135.1zM90.2 685.00H93.0V686.31H90.2zM118.3 685.00H121.1V686.31H118.3zM123.9 683.69H126.7V685.00H123.9zM163.2 683.69H166.0V685.00H163.2zM152.0 682.38H154.8V683.69H152.0zM166.0 682.38H168.8V683.69H166.0zM126.7 681.06H129.5V682.38H126.7zM138.0 681.06H140.8V682.38H138.0zM154.8 681.06H157.6V682.38H154.8zM163.2 681.06H166.0V682.38H163.2zM39.7 679.75H42.5V681.06H39.7zM56.5 679.75H59.3V681.06H56.5zM98.7 679.75H101.5V681.06H98.7zM104.3 679.75H107.1V681.06H104.3zM126.7 679.75H129.5V681.06H126.7zM146.4 679.75H149.2V681.06H146.4zM152.0 679.75H157.6V681.06H152.0zM166.0 679.75H168.8V681.06H166.0zM149.2 678.44H154.8V679.75H149.2zM166.0 678.44H168.8V679.75H166.0zM76.2 677.12H79.0V678.44H76.2zM98.7 677.12H101.5V678.44H98.7zM140.8 677.12H143.6V678.44H140.8zM149.2 677.12H152.0V678.44H149.2zM31.3 675.81H34.1V677.12H31.3zM109.9 675.81H112.7V677.12H109.9zM123.9 675.81H126.7V677.12H123.9zM146.4 675.81H149.2V677.12H146.4zM107.1 674.50H109.9V675.81H107.1zM152.0 674.50H154.8V675.81H152.0zM76.2 673.19H79.0V674.50H76.2zM135.1 673.19H138.0V674.50H135.1zM140.8 671.88H143.6V673.19H140.8zM149.2 671.88H152.0V673.19H149.2zM154.8 671.88H157.6V673.19H154.8zM67.8 670.56H70.6V671.88H67.8zM149.2 670.56H152.0V671.88H149.2zM163.2 670.56H166.0V671.88H163.2zM50.9 669.25H53.7V670.56H50.9zM135.1 669.25H138.0V670.56H135.1zM152.0 669.25H154.8V670.56H152.0zM70.6 667.94H73.4V669.25H70.6zM90.2 667.94H93.0V669.25H90.2zM146.4 667.94H149.2V669.25H146.4zM163.2 667.94H166.0V669.25H163.2zM48.1 666.62H50.9V667.94H48.1zM95.8 665.31H98.7V666.62H95.8zM138.0 665.31H140.8V666.62H138.0zM152.0 665.31H154.8V666.62H152.0zM31.3 664.00H34.1V665.31H31.3zM132.3 664.00H135.1V665.31H132.3zM143.6 664.00H146.4V665.31H143.6zM163.2 664.00H166.0V665.31H163.2zM123.9 662.69H129.5V664.00H123.9zM146.4 662.69H149.2V664.00H146.4zM166.0 662.69H168.8V664.00H166.0zM118.3 661.38H121.1V662.69H118.3zM138.0 660.06H146.4V661.38H138.0zM166.0 660.06H168.8V661.38H166.0zM121.1 658.75H123.9V660.06H121.1zM140.8 658.75H143.6V660.06H140.8zM109.9 657.44H112.7V658.75H109.9zM118.3 657.44H121.1V658.75H118.3zM123.9 657.44H126.7V658.75H123.9zM132.3 657.44H135.1V658.75H132.3zM152.0 657.44H154.8V658.75H152.0zM166.0 657.44H168.8V658.75H166.0zM146.4 656.12H149.2V657.44H146.4zM154.8 656.12H157.6V657.44H154.8zM101.5 652.19H104.3V653.50H101.5zM138.0 652.19H140.8V653.50H138.0zM149.2 652.19H152.0V653.50H149.2zM163.2 652.19H166.0V653.50H163.2zM87.4 650.88H90.2V652.19H87.4zM104.3 650.88H107.1V652.19H104.3zM129.5 650.88H132.3V652.19H129.5zM149.2 650.88H154.8V652.19H149.2zM160.4 650.88H166.0V652.19H160.4zM84.6 649.56H87.4V650.88H84.6zM157.6 649.56H160.4V650.88H157.6zM48.1 648.25H50.9V649.56H48.1zM101.5 648.25H104.3V649.56H101.5zM126.7 648.25H129.5V649.56H126.7zM146.4 648.25H152.0V649.56H146.4zM157.6 648.25H160.4V649.56H157.6zM112.7 646.94H115.5V648.25H112.7zM126.7 646.94H135.1V648.25H126.7zM140.8 646.94H143.6V648.25H140.8zM152.0 646.94H154.8V648.25H152.0zM65.0 645.62H67.8V646.94H65.0zM76.2 645.62H79.0V646.94H76.2zM84.6 645.62H87.4V646.94H84.6zM90.2 645.62H93.0V646.94H90.2zM98.7 645.62H101.5V646.94H98.7zM146.4 645.62H149.2V646.94H146.4zM95.8 644.31H98.7V645.62H95.8zM118.3 644.31H121.1V645.62H118.3zM129.5 644.31H135.1V645.62H129.5zM146.4 644.31H149.2V645.62H146.4zM34.1 643.00H36.9V644.31H34.1zM109.9 643.00H112.7V644.31H109.9zM118.3 643.00H121.1V644.31H118.3zM79.0 641.69H81.8V643.00H79.0zM109.9 641.69H112.7V643.00H109.9zM121.1 641.69H123.9V643.00H121.1zM129.5 641.69H132.3V643.00H129.5zM45.3 640.38H48.1V641.69H45.3zM98.7 640.38H101.5V641.69H98.7zM104.3 640.38H107.1V641.69H104.3zM56.5 639.06H59.3V640.38H56.5zM62.1 639.06H65.0V640.38H62.1zM95.8 639.06H98.7V640.38H95.8zM31.3 637.75H34.1V639.06H31.3zM62.1 637.75H65.0V639.06H62.1zM93.0 637.75H98.7V639.06H93.0zM135.1 637.75H138.0V639.06H135.1zM87.4 636.44H93.0V637.75H87.4zM95.8 636.44H98.7V637.75H95.8zM129.5 636.44H132.3V637.75H129.5zM163.2 636.44H168.8V637.75H163.2zM112.7 635.12H115.5V636.44H112.7zM149.2 635.12H152.0V636.44H149.2zM154.8 635.12H157.6V636.44H154.8zM65.0 633.81H67.8V635.12H65.0zM81.8 633.81H87.4V635.12H81.8zM140.8 633.81H143.6V635.12H140.8zM56.5 632.50H59.3V633.81H56.5zM109.9 632.50H112.7V633.81H109.9zM126.7 632.50H129.5V633.81H126.7zM163.2 632.50H166.0V633.81H163.2zM65.0 631.19H67.8V632.50H65.0zM112.7 631.19H118.3V632.50H112.7zM154.8 631.19H157.6V632.50H154.8zM160.4 631.19H163.2V632.50H160.4zM154.8 629.88H157.6V631.19H154.8zM59.3 628.56H62.1V629.88H59.3zM101.5 628.56H104.3V629.88H101.5zM121.1 628.56H123.9V629.88H121.1zM126.7 628.56H129.5V629.88H126.7zM135.1 628.56H138.0V629.88H135.1zM149.2 628.56H154.8V629.88H149.2zM160.4 628.56H166.0V629.88H160.4zM79.0 627.25H81.8V628.56H79.0zM87.4 627.25H90.2V628.56H87.4zM112.7 627.25H115.5V628.56H112.7zM126.7 627.25H129.5V628.56H126.7zM154.8 627.25H157.6V628.56H154.8zM59.3 625.94H62.1V627.25H59.3zM107.1 625.94H109.9V627.25H107.1zM149.2 625.94H152.0V627.25H149.2zM157.6 625.94H160.4V627.25H157.6zM59.3 623.31H62.1V624.62H59.3zM126.7 623.31H129.5V624.62H126.7z"/>
<path fill="#69ff00" shape-rendering="crispEdges" d="M36.9 725.69H39.7V727.00H36.9zM48.1 725.69H53.7V727.00H48.1zM56.5 725.69H62.1V727.00H56.5zM90.2 725.69H93.0V727.00H90.2zM112.7 725.69H115.5V727.00H112.7zM36.9 724.38H39.7V725.69H36.9zM45.3 724.38H48.1V725.69H45.3zM53.7 724.38H56.5V725.69H53.7zM62.1 724.38H65.0V725.69H62.1zM67.8 724.38H70.6V725.69H67.8zM84.6 724.38H87.4V725.69H84.6zM98.7 724.38H101.5V725.69H98.7zM121.1 724.38H123.9V725.69H121.1zM126.7 724.38H129.5V725.69H126.7zM166.0 724.38H171.7V725.69H166.0zM42.5 723.06H45.3V724.38H42.5zM50.9 723.06H53.7V724.38H50.9zM76.2 723.06H79.0V724.38H76.2zM84.6 723.06H90.2V724.38H84.6zM101.5 723.06H104.3V724.38H101.5zM107.1 723.06H109.9V724.38H107.1zM152.0 723.06H154.8V724.38H152.0zM28.5 721.75H31.3V723.06H28.5zM34.1 721.75H36.9V723.06H34.1zM42.5 721.75H45.3V723.06H42.5zM59.3 721.75H62.1V723.06H59.3zM90.2 721.75H93.0V723.06H90.2zM95.8 721.75H98.7V723.06H95.8zM132.3 721.75H135.1V723.06H132.3zM152.0 721.75H154.8V723.06H152.0zM59.3 720.44H62.1V721.75H59.3zM65.0 720.44H67.8V721.75H65.0zM70.6 720.44H73.4V721.75H70.6zM76.2 720.44H81.8V721.75H76.2zM87.4 720.44H90.2V721.75H87.4zM123.9 720.44H126.7V721.75H123.9zM48.1 719.12H50.9V720.44H48.1zM73.4 719.12H76.2V720.44H73.4zM98.7 719.12H101.5V720.44H98.7zM109.9 719.12H112.7V720.44H109.9zM118.3 719.12H121.1V720.44H118.3zM160.4 719.12H163.2V720.44H160.4zM39.7 717.81H42.5V719.12H39.7zM48.1 717.81H50.9V719.12H48.1zM53.7 717.81H56.5V719.12H53.7zM73.4 717.81H76.2V719.12H73.4zM79.0 717.81H84.6V719.12H79.0zM87.4 717.81H90.2V719.12H87.4zM98.7 717.81H104.3V719.12H98.7zM132.3 717.81H135.1V719.12H132.3zM168.8 717.81H171.7V719.12H168.8zM65.0 716.50H67.8V717.81H65.0zM109.9 716.50H112.7V717.81H109.9zM126.7 716.50H129.5V717.81H126.7zM146.4 716.50H149.2V717.81H146.4zM157.6 716.50H163.2V717.81H157.6zM28.5 715.19H34.1V716.50H28.5zM48.1 715.19H50.9V716.50H48.1zM53.7 715.19H56.5V716.50H53.7zM76.2 715.19H79.0V716.50H76.2zM90.2 715.19H93.0V716.50H90.2zM109.9 715.19H112.7V716.50H109.9zM123.9 715.19H126.7V716.50H123.9zM135.1 715.19H138.0V716.50H135.1zM143.6 715.19H146.4V716.50H143.6zM28.5 713.88H31.3V715.19H28.5zM56.5 713.88H59.3V715.19H56.5zM79.0 713.88H81.8V715.19H79.0zM93.0 713.88H95.8V715.19H93.0zM140.8 713.88H143.6V715.19H140.8zM152.0 713.88H154.8V715.19H152.0zM45.3 712.56H48.1V713.88H45.3zM56.5 712.56H59.3V713.88H56.5zM81.8 712.56H84.6V713.88H81.8zM87.4 712.56H90.2V713.88H87.4zM107.1 712.56H109.9V713.88H107.1zM28.5 711.25H34.1V712.56H28.5zM36.9 711.25H39.7V712.56H36.9zM45.3 711.25H48.1V712.56H45.3zM79.0 711.25H81.8V712.56H79.0zM87.4 711.25H90.2V712.56H87.4zM93.0 711.25H95.8V712.56H93.0zM98.7 711.25H101.5V712.56H98.7zM118.3 711.25H121.1V712.56H118.3zM123.9 711.25H126.7V712.56H123.9zM163.2 711.25H166.0V712.56H163.2zM56.5 709.94H59.3V711.25H56.5zM67.8 709.94H70.6V711.25H67.8zM101.5 709.94H104.3V711.25H101.5zM42.5 708.62H45.3V709.94H42.5zM53.7 708.62H56.5V709.94H53.7zM95.8 708.62H98.7V709.94H95.8zM109.9 708.62H112.7V709.94H109.9zM31.3 707.31H36.9V708.62H31.3zM39.7 707.31H45.3V708.62H39.7zM50.9 707.31H53.7V708.62H50.9zM56.5 707.31H65.0V708.62H56.5zM73.4 707.31H76.2V708.62H73.4zM79.0 707.31H81.8V708.62H79.0zM87.4 707.31H90.2V708.62H87.4zM28.5 706.00H34.1V707.31H28.5zM39.7 706.00H42.5V707.31H39.7zM50.9 706.00H53.7V707.31H50.9zM65.0 706.00H70.6V707.31H65.0zM73.4 706.00H76.2V707.31H73.4zM81.8 706.00H84.6V707.31H81.8zM93.0 706.00H95.8V707.31H93.0zM107.1 706.00H109.9V707.31H107.1zM123.9 706.00H129.5V707.31H123.9zM31.3 704.69H36.9V706.00H31.3zM65.0 704.69H67.8V706.00H65.0zM123.9 704.69H126.7V706.00H123.9zM59.3 703.38H62.1V704.69H59.3zM67.8 703.38H70.6V704.69H67.8zM81.8 703.38H84.6V704.69H81.8zM90.2 703.38H93.0V704.69H90.2zM101.5 703.38H107.1V704.69H101.5zM129.5 703.38H132.3V704.69H129.5zM168.8 703.38H171.7V704.69H168.8zM28.5 702.06H31.3V703.38H28.5zM59.3 702.06H62.1V703.38H59.3zM84.6 702.06H87.4V703.38H84.6zM98.7 702.06H104.3V703.38H98.7zM135.1 702.06H138.0V703.38H135.1zM166.0 702.06H168.8V703.38H166.0zM28.5 700.75H31.3V702.06H28.5zM50.9 700.75H53.7V702.06H50.9zM95.8 700.75H98.7V702.06H95.8zM132.3 700.75H135.1V702.06H132.3zM140.8 700.75H143.6V702.06H140.8zM36.9 699.44H39.7V700.75H36.9zM45.3 699.44H50.9V700.75H45.3zM56.5 699.44H59.3V700.75H56.5zM67.8 699.44H70.6V700.75H67.8zM81.8 699.44H84.6V700.75H81.8zM93.0 699.44H95.8V700.75H93.0zM115.5 699.44H118.3V700.75H115.5zM31.3 698.12H34.1V699.44H31.3zM39.7 698.12H42.5V699.44H39.7zM62.1 698.12H65.0V699.44H62.1zM67.8 698.12H70.6V699.44H67.8zM76.2 698.12H79.0V699.44H76.2zM84.6 698.12H87.4V699.44H84.6zM101.5 698.12H104.3V699.44H101.5zM135.1 698.12H138.0V699.44H135.1zM166.0 698.12H168.8V699.44H166.0zM31.3 696.81H34.1V698.12H31.3zM36.9 696.81H39.7V698.12H36.9zM42.5 696.81H45.3V698.12H42.5zM48.1 696.81H50.9V698.12H48.1zM70.6 696.81H73.4V698.12H70.6zM76.2 696.81H81.8V698.12H76.2zM101.5 696.81H104.3V698.12H101.5zM112.7 696.81H115.5V698.12H112.7zM45.3 695.50H48.1V696.81H45.3zM62.1 695.50H65.0V696.81H62.1zM107.1 695.50H109.9V696.81H107.1zM140.8 695.50H143.6V696.81H140.8zM157.6 695.50H160.4V696.81H157.6zM39.7 694.19H42.5V695.50H39.7zM59.3 694.19H65.0V695.50H59.3zM73.4 694.19H76.2V695.50H73.4zM101.5 694.19H107.1V695.50H101.5zM112.7 694.19H115.5V695.50H112.7zM118.3 694.19H121.1V695.50H118.3zM129.5 694.19H132.3V695.50H129.5zM143.6 694.19H146.4V695.50H143.6zM149.2 694.19H152.0V695.50H149.2zM168.8 694.19H171.7V695.50H168.8zM48.1 692.88H53.7V694.19H48.1zM73.4 692.88H76.2V694.19H73.4zM84.6 692.88H87.4V694.19H84.6zM109.9 692.88H115.5V694.19H109.9zM166.0 692.88H168.8V694.19H166.0zM84.6 691.56H87.4V692.88H84.6zM101.5 691.56H107.1V692.88H101.5zM109.9 691.56H112.7V692.88H109.9zM28.5 690.25H31.3V691.56H28.5zM39.7 690.25H45.3V691.56H39.7zM53.7 690.25H56.5V691.56H53.7zM62.1 690.25H65.0V691.56H62.1zM70.6 690.25H73.4V691.56H70.6zM76.2 690.25H79.0V691.56H76.2zM84.6 690.25H87.4V691.56H84.6zM95.8 690.25H98.7V691.56H95.8zM112.7 690.25H115.5V691.56H112.7zM123.9 690.25H126.7V691.56H123.9zM138.0 690.25H140.8V691.56H138.0zM152.0 690.25H154.8V691.56H152.0zM168.8 690.25H171.7V691.56H168.8zM28.5 688.94H31.3V690.25H28.5zM53.7 688.94H56.5V690.25H53.7zM67.8 688.94H70.6V690.25H67.8zM95.8 688.94H98.7V690.25H95.8zM104.3 688.94H107.1V690.25H104.3zM118.3 688.94H121.1V690.25H118.3zM39.7 687.62H42.5V688.94H39.7zM56.5 687.62H62.1V688.94H56.5zM67.8 687.62H70.6V688.94H67.8zM115.5 687.62H118.3V688.94H115.5zM129.5 687.62H132.3V688.94H129.5zM140.8 687.62H149.2V688.94H140.8zM28.5 686.31H31.3V687.62H28.5zM45.3 686.31H48.1V687.62H45.3zM53.7 686.31H56.5V687.62H53.7zM62.1 686.31H65.0V687.62H62.1zM79.0 686.31H84.6V687.62H79.0zM121.1 686.31H123.9V687.62H121.1zM31.3 685.00H34.1V686.31H31.3zM36.9 685.00H39.7V686.31H36.9zM56.5 685.00H59.3V686.31H56.5zM62.1 685.00H65.0V686.31H62.1zM79.0 685.00H81.8V686.31H79.0zM107.1 685.00H109.9V686.31H107.1zM121.1 685.00H123.9V686.31H121.1zM132.3 685.00H135.1V686.31H132.3zM146.4 685.00H149.2V686.31H146.4zM42.5 683.69H50.9V685.00H42.5zM104.3 683.69H107.1V685.00H104.3zM112.7 683.69H115.5V685.00H112.7zM121.1 683.69H123.9V685.00H121.1zM140.8 683.69H143.6V685.00H140.8zM31.3 682.38H34.1V683.69H31.3zM59.3 682.38H62.1V683.69H59.3zM67.8 682.38H70.6V683.69H67.8zM76.2 682.38H79.0V683.69H76.2zM81.8 682.38H84.6V683.69H81.8zM101.5 682.38H104.3V683.69H101.5zM135.1 682.38H138.0V683.69H135.1zM28.5 681.06H36.9V682.38H28.5zM45.3 681.06H48.1V682.38H45.3zM56.5 681.06H59.3V682.38H56.5zM70.6 681.06H73.4V682.38H70.6zM101.5 681.06H104.3V682.38H101.5zM112.7 681.06H115.5V682.38H112.7zM118.3 681.06H121.1V682.38H118.3zM31.3 679.75H36.9V681.06H31.3zM101.5 679.75H104.3V681.06H101.5zM109.9 679.75H112.7V681.06H109.9zM123.9 679.75H126.7V681.06H123.9zM143.6 679.75H146.4V681.06H143.6zM31.3 678.44H34.1V679.75H31.3zM39.7 678.44H45.3V679.75H39.7zM56.5 678.44H62.1V679.75H56.5zM65.0 678.44H73.4V679.75H65.0zM81.8 678.44H84.6V679.75H81.8zM98.7 678.44H101.5V679.75H98.7zM107.1 678.44H109.9V679.75H107.1zM118.3 678.44H121.1V679.75H118.3zM132.3 678.44H135.1V679.75H132.3zM154.8 678.44H157.6V679.75H154.8zM36.9 677.12H39.7V678.44H36.9zM56.5 677.12H62.1V678.44H56.5zM65.0 677.12H67.8V678.44H65.0zM73.4 677.12H76.2V678.44H73.4zM93.0 677.12H95.8V678.44H93.0zM109.9 677.12H112.7V678.44H109.9zM121.1 677.12H123.9V678.44H121.1zM135.1 677.12H138.0V678.44H135.1zM160.4 677.12H163.2V678.44H160.4zM28.5 675.81H31.3V677.12H28.5zM62.1 675.81H65.0V677.12H62.1zM76.2 675.81H79.0V677.12H76.2zM115.5 675.81H118.3V677.12H115.5zM138.0 675.81H140.8V677.12H138.0zM143.6 675.81H146.4V677.12H143.6zM149.2 675.81H152.0V677.12H149.2zM166.0 675.81H168.8V677.12H166.0zM31.3 674.50H34.1V675.81H31.3zM70.6 674.50H79.0V675.81H70.6zM81.8 674.50H84.6V675.81H81.8zM95.8 674.50H98.7V675.81H95.8zM101.5 674.50H104.3V675.81H101.5zM34.1 673.19H36.9V674.50H34.1zM42.5 673.19H48.1V674.50H42.5zM70.6 673.19H73.4V674.50H70.6zM87.4 673.19H90.2V674.50H87.4zM39.7 671.88H42.5V673.19H39.7zM56.5 671.88H62.1V673.19H56.5zM107.1 671.88H109.9V673.19H107.1zM138.0 671.88H140.8V673.19H138.0zM28.5 670.56H31.3V671.88H28.5zM48.1 670.56H50.9V671.88H48.1zM79.0 670.56H81.8V671.88H79.0zM84.6 670.56H87.4V671.88H84.6zM98.7 670.56H101.5V671.88H98.7zM104.3 670.56H107.1V671.88H104.3zM112.7 670.56H115.5V671.88H112.7zM118.3 670.56H121.1V671.88H118.3zM126.7 670.56H132.3V671.88H126.7zM140.8 670.56H143.6V671.88H140.8zM39.7 669.25H42.5V670.56H39.7zM45.3 669.25H48.1V670.56H45.3zM73.4 669.25H76.2V670.56H73.4zM79.0 669.25H81.8V670.56H79.0zM84.6 669.25H87.4V670.56H84.6zM93.0 669.25H98.7V670.56H93.0zM109.9 669.25H112.7V670.56H109.9zM160.4 669.25H163.2V670.56H160.4zM168.8 669.25H171.7V670.56H168.8zM28.5 667.94H31.3V669.25H28.5zM34.1 667.94H36.9V669.25H34.1zM65.0 667.94H67.8V669.25H65.0zM73.4 667.94H76.2V669.25H73.4zM84.6 667.94H90.2V669.25H84.6zM112.7 667.94H115.5V669.25H112.7zM126.7 667.94H129.5V669.25H126.7zM132.3 667.94H135.1V669.25H132.3zM154.8 667.94H157.6V669.25H154.8zM160.4 667.94H163.2V669.25H160.4zM53.7 666.62H59.3V667.94H53.7zM67.8 666.62H70.6V667.94H67.8zM79.0 666.62H81.8V667.94H79.0zM84.6 666.62H87.4V667.94H84.6zM98.7 666.62H101.5V667.94H98.7zM109.9 666.62H112.7V667.94H109.9zM115.5 666.62H118.3V667.94H115.5zM129.5 666.62H132.3V667.94H129.5zM36.9 665.31H39.7V666.62H36.9zM101.5 665.31H104.3V666.62H101.5zM112.7 665.31H118.3V666.62H112.7zM146.4 665.31H149.2V666.62H146.4zM160.4 665.31H163.2V666.62H160.4zM166.0 665.31H168.8V666.62H166.0zM48.1 664.00H53.7V665.31H48.1zM56.5 664.00H59.3V665.31H56.5zM76.2 664.00H79.0V665.31H76.2zM84.6 664.00H87.4V665.31H84.6zM101.5 664.00H107.1V665.31H101.5zM135.1 664.00H138.0V665.31H135.1zM152.0 664.00H154.8V665.31H152.0zM166.0 664.00H168.8V665.31H166.0zM25.6 662.69H31.3V664.00H25.6zM53.7 662.69H56.5V664.00H53.7zM62.1 662.69H65.0V664.00H62.1zM70.6 662.69H73.4V664.00H70.6zM76.2 662.69H79.0V664.00H76.2zM84.6 662.69H87.4V664.00H84.6zM95.8 662.69H98.7V664.00H95.8zM163.2 662.69H166.0V664.00H163.2zM36.9 661.38H42.5V662.69H36.9zM48.1 661.38H50.9V662.69H48.1zM62.1 661.38H65.0V662.69H62.1zM93.0 661.38H95.8V662.69H93.0zM101.5 661.38H104.3V662.69H101.5zM107.1 661.38H109.9V662.69H107.1zM42.5 660.06H48.1V661.38H42.5zM67.8 660.06H70.6V661.38H67.8zM129.5 660.06H132.3V661.38H129.5zM157.6 660.06H163.2V661.38H157.6zM28.5 658.75H31.3V660.06H28.5zM36.9 658.75H39.7V660.06H36.9zM42.5 658.75H48.1V660.06H42.5zM84.6 658.75H87.4V660.06H84.6zM90.2 658.75H93.0V660.06H90.2zM115.5 658.75H118.3V660.06H115.5zM129.5 658.75H132.3V660.06H129.5zM31.3 657.44H39.7V658.75H31.3zM45.3 657.44H48.1V658.75H45.3zM50.9 657.44H53.7V658.75H50.9zM56.5 657.44H59.3V658.75H56.5zM93.0 657.44H95.8V658.75H93.0zM112.7 657.44H115.5V658.75H112.7zM135.1 657.44H138.0V658.75H135.1zM154.8 657.44H160.4V658.75H154.8zM168.8 657.44H171.7V658.75H168.8zM39.7 656.12H42.5V657.44H39.7zM45.3 656.12H48.1V657.44H45.3zM73.4 656.12H76.2V657.44H73.4zM93.0 656.12H95.8V657.44H93.0zM129.5 656.12H132.3V657.44H129.5zM42.5 654.81H45.3V656.12H42.5zM59.3 654.81H65.0V656.12H59.3zM67.8 654.81H79.0V656.12H67.8zM81.8 654.81H84.6V656.12H81.8zM118.3 654.81H121.1V656.12H118.3zM154.8 654.81H157.6V656.12H154.8zM168.8 654.81H171.7V656.12H168.8zM42.5 653.50H45.3V654.81H42.5zM53.7 653.50H56.5V654.81H53.7zM59.3 653.50H62.1V654.81H59.3zM70.6 653.50H73.4V654.81H70.6zM76.2 653.50H81.8V654.81H76.2zM98.7 653.50H101.5V654.81H98.7zM107.1 653.50H109.9V654.81H107.1zM118.3 653.50H121.1V654.81H118.3zM126.7 653.50H129.5V654.81H126.7zM140.8 653.50H143.6V654.81H140.8zM31.3 652.19H34.1V653.50H31.3zM39.7 652.19H42.5V653.50H39.7zM53.7 652.19H56.5V653.50H53.7zM65.0 652.19H67.8V653.50H65.0zM104.3 652.19H107.1V653.50H104.3zM115.5 652.19H118.3V653.50H115.5zM34.1 650.88H36.9V652.19H34.1zM53.7 650.88H56.5V652.19H53.7zM67.8 650.88H70.6V652.19H67.8zM95.8 650.88H98.7V652.19H95.8zM157.6 650.88H160.4V652.19H157.6zM28.5 649.56H34.1V650.88H28.5zM36.9 649.56H39.7V650.88H36.9zM48.1 649.56H50.9V650.88H48.1zM73.4 649.56H76.2V650.88H73.4zM79.0 649.56H81.8V650.88H79.0zM90.2 649.56H93.0V650.88H90.2zM107.1 649.56H109.9V650.88H107.1zM146.4 649.56H149.2V650.88H146.4zM39.7 648.25H42.5V649.56H39.7zM50.9 648.25H53.7V649.56H50.9zM65.0 648.25H67.8V649.56H65.0zM90.2 648.25H93.0V649.56H90.2zM152.0 648.25H154.8V649.56H152.0zM31.3 646.94H34.1V648.25H31.3zM50.9 646.94H53.7V648.25H50.9zM70.6 646.94H76.2V648.25H70.6zM104.3 646.94H107.1V648.25H104.3zM118.3 646.94H121.1V648.25H118.3zM146.4 646.94H149.2V648.25H146.4zM154.8 646.94H157.6V648.25H154.8zM31.3 645.62H34.1V646.94H31.3zM73.4 645.62H76.2V646.94H73.4zM95.8 645.62H98.7V646.94H95.8zM107.1 645.62H109.9V646.94H107.1zM152.0 645.62H154.8V646.94H152.0zM163.2 645.62H166.0V646.94H163.2zM28.5 644.31H31.3V645.62H28.5zM42.5 644.31H48.1V645.62H42.5zM53.7 644.31H56.5V645.62H53.7zM59.3 644.31H62.1V645.62H59.3zM90.2 644.31H93.0V645.62H90.2zM126.7 644.31H129.5V645.62H126.7zM135.1 644.31H138.0V645.62H135.1zM28.5 643.00H34.1V644.31H28.5zM36.9 643.00H39.7V644.31H36.9zM50.9 643.00H53.7V644.31H50.9zM101.5 643.00H104.3V644.31H101.5zM123.9 643.00H129.5V644.31H123.9zM149.2 643.00H152.0V644.31H149.2zM65.0 641.69H67.8V643.00H65.0zM84.6 641.69H87.4V643.00H84.6zM98.7 641.69H101.5V643.00H98.7zM135.1 641.69H138.0V643.00H135.1zM152.0 641.69H154.8V643.00H152.0zM168.8 641.69H171.7V643.00H168.8zM50.9 640.38H53.7V641.69H50.9zM62.1 640.38H67.8V641.69H62.1zM84.6 640.38H87.4V641.69H84.6zM152.0 640.38H154.8V641.69H152.0zM65.0 639.06H67.8V640.38H65.0zM73.4 639.06H76.2V640.38H73.4zM79.0 639.06H81.8V640.38H79.0zM87.4 639.06H90.2V640.38H87.4zM107.1 639.06H109.9V640.38H107.1zM115.5 639.06H121.1V640.38H115.5zM132.3 639.06H135.1V640.38H132.3zM143.6 639.06H146.4V640.38H143.6zM160.4 639.06H163.2V640.38H160.4zM36.9 637.75H39.7V639.06H36.9zM48.1 637.75H50.9V639.06H48.1zM79.0 637.75H81.8V639.06H79.0zM84.6 637.75H87.4V639.06H84.6zM101.5 637.75H104.3V639.06H101.5zM107.1 637.75H112.7V639.06H107.1zM123.9 637.75H126.7V639.06H123.9zM42.5 636.44H48.1V637.75H42.5zM62.1 636.44H65.0V637.75H62.1zM101.5 636.44H104.3V637.75H101.5zM109.9 636.44H112.7V637.75H109.9zM123.9 636.44H126.7V637.75H123.9zM138.0 636.44H140.8V637.75H138.0zM28.5 635.12H31.3V636.44H28.5zM39.7 635.12H42.5V636.44H39.7zM59.3 635.12H65.0V636.44H59.3zM84.6 635.12H87.4V636.44H84.6zM121.1 635.12H123.9V636.44H121.1zM126.7 635.12H129.5V636.44H126.7zM138.0 635.12H143.6V636.44H138.0zM168.8 635.12H171.7V636.44H168.8zM31.3 633.81H34.1V635.12H31.3zM90.2 633.81H93.0V635.12H90.2zM101.5 633.81H104.3V635.12H101.5zM123.9 633.81H126.7V635.12H123.9zM129.5 633.81H132.3V635.12H129.5zM168.8 633.81H171.7V635.12H168.8zM34.1 632.50H36.9V633.81H34.1zM48.1 632.50H50.9V633.81H48.1zM59.3 632.50H62.1V633.81H59.3zM65.0 632.50H70.6V633.81H65.0zM73.4 632.50H76.2V633.81H73.4zM79.0 632.50H81.8V633.81H79.0zM107.1 632.50H109.9V633.81H107.1zM132.3 632.50H135.1V633.81H132.3zM28.5 631.19H31.3V632.50H28.5zM36.9 631.19H39.7V632.50H36.9zM70.6 631.19H73.4V632.50H70.6zM76.2 631.19H79.0V632.50H76.2zM109.9 631.19H112.7V632.50H109.9zM126.7 631.19H129.5V632.50H126.7zM168.8 631.19H171.7V632.50H168.8zM39.7 629.88H42.5V631.19H39.7zM45.3 629.88H48.1V631.19H45.3zM53.7 629.88H56.5V631.19H53.7zM73.4 629.88H76.2V631.19H73.4zM81.8 629.88H84.6V631.19H81.8zM87.4 629.88H90.2V631.19H87.4zM93.0 629.88H95.8V631.19H93.0zM98.7 629.88H101.5V631.19H98.7zM118.3 629.88H121.1V631.19H118.3zM123.9 629.88H126.7V631.19H123.9zM143.6 629.88H146.4V631.19H143.6zM168.8 629.88H171.7V631.19H168.8zM28.5 628.56H31.3V629.88H28.5zM36.9 628.56H39.7V629.88H36.9zM53.7 628.56H56.5V629.88H53.7zM65.0 628.56H70.6V629.88H65.0zM84.6 628.56H87.4V629.88H84.6zM90.2 628.56H95.8V629.88H90.2zM107.1 628.56H109.9V629.88H107.1zM138.0 628.56H140.8V629.88H138.0zM36.9 627.25H45.3V628.56H36.9zM56.5 627.25H62.1V628.56H56.5zM98.7 627.25H101.5V628.56H98.7zM168.8 627.25H171.7V628.56H168.8zM28.5 625.94H34.1V627.25H28.5zM42.5 625.94H48.1V627.25H42.5zM76.2 625.94H79.0V627.25H76.2zM81.8 625.94H84.6V627.25H81.8zM93.0 625.94H98.7V627.25H93.0zM146.4 625.94H149.2V627.25H146.4zM160.4 625.94H163.2V627.25H160.4zM31.3 624.62H34.1V625.94H31.3zM42.5 624.62H45.3V625.94H42.5zM53.7 624.62H56.5V625.94H53.7zM76.2 624.62H84.6V625.94H76.2zM87.4 624.62H90.2V625.94H87.4zM129.5 624.62H132.3V625.94H129.5zM39.7 623.31H42.5V624.62H39.7zM115.5 623.31H118.3V624.62H115.5zM160.4 623.31H166.0V624.62H160.4zM76.2 622.00H79.0V623.31H76.2zM81.8 622.00H84.6V623.31H81.8zM138.0 622.00H143.6V623.31H138.0zM149.2 622.00H152.0V623.31H149.2z"/>
<path fill="#ffee00" shape-rendering="crispEdges" d="M39.7 725.69H42.5V727.00H39.7zM70.6 725.69H73.4V727.00H70.6zM93.0 725.69H98.7V727.00H93.0zM109.9 725.69H112.7V727.00H109.9zM146.4 725.69H152.0V727.00H146.4zM163.2 725.69H166.0V727.00H163.2zM65.0 724.38H67.8V725.69H65.0zM93.0 724.38H95.8V725.69H93.0zM109.9 724.38H115.5V725.69H109.9zM154.8 724.38H157.6V725.69H154.8zM163.2 724.38H166.0V725.69H163.2zM70.6 723.06H73.4V724.38H70.6zM109.9 723.06H112.7V724.38H109.9zM118.3 723.06H123.9V724.38H118.3zM157.6 723.06H160.4V724.38H157.6zM163.2 723.06H168.8V724.38H163.2zM70.6 721.75H73.4V723.06H70.6zM87.4 721.75H90.2V723.06H87.4zM93.0 721.75H95.8V723.06H93.0zM126.7 721.75H132.3V723.06H126.7zM149.2 721.75H152.0V723.06H149.2zM160.4 721.75H166.0V723.06H160.4zM50.9 720.44H53.7V721.75H50.9zM67.8 720.44H70.6V721.75H67.8zM95.8 720.44H98.7V721.75H95.8zM107.1 720.44H109.9V721.75H107.1zM140.8 720.44H143.6V721.75H140.8zM65.0 719.12H67.8V720.44H65.0zM76.2 719.12H79.0V720.44H76.2zM90.2 719.12H93.0V720.44H90.2zM95.8 719.12H98.7V720.44H95.8zM107.1 719.12H109.9V720.44H107.1zM132.3 719.12H135.1V720.44H132.3zM138.0 719.12H140.8V720.44H138.0zM146.4 719.12H149.2V720.44H146.4zM76.2 717.81H79.0V719.12H76.2zM140.8 717.81H143.6V719.12H140.8zM146.4 717.81H152.0V719.12H146.4zM160.4 717.81H163.2V719.12H160.4zM48.1 716.50H50.9V717.81H48.1zM53.7 716.50H56.5V717.81H53.7zM73.4 716.50H76.2V717.81H73.4zM121.1 716.50H123.9V717.81H121.1zM129.5 716.50H135.1V717.81H129.5zM138.0 716.50H140.8V717.81H138.0zM149.2 716.50H152.0V717.81H149.2zM45.3 715.19H48.1V716.50H45.3zM59.3 715.19H62.1V716.50H59.3zM84.6 715.19H87.4V716.50H84.6zM104.3 715.19H109.9V716.50H104.3zM118.3 715.19H121.1V716.50H118.3zM149.2 715.19H152.0V716.50H149.2zM81.8 713.88H84.6V715.19H81.8zM107.1 713.88H115.5V715.19H107.1zM118.3 713.88H123.9V715.19H118.3zM154.8 713.88H157.6V715.19H154.8zM160.4 713.88H163.2V715.19H160.4zM65.0 712.56H67.8V713.88H65.0zM79.0 712.56H81.8V713.88H79.0zM93.0 712.56H95.8V713.88H93.0zM140.8 712.56H143.6V713.88H140.8zM166.0 712.56H168.8V713.88H166.0zM143.6 711.25H146.4V712.56H143.6zM154.8 711.25H160.4V712.56H154.8zM95.8 709.94H98.7V711.25H95.8zM135.1 709.94H138.0V711.25H135.1zM143.6 709.94H146.4V711.25H143.6zM152.0 709.94H154.8V711.25H152.0zM160.4 709.94H163.2V711.25H160.4zM28.5 708.62H31.3V709.94H28.5zM36.9 708.62H39.7V709.94H36.9zM67.8 708.62H70.6V709.94H67.8zM84.6 708.62H93.0V709.94H84.6zM115.5 708.62H118.3V709.94H115.5zM132.3 708.62H135.1V709.94H132.3zM143.6 708.62H146.4V709.94H143.6zM149.2 708.62H152.0V709.94H149.2zM157.6 708.62H163.2V709.94H157.6zM48.1 707.31H50.9V708.62H48.1zM93.0 707.31H95.8V708.62H93.0zM140.8 707.31H146.4V708.62H140.8zM160.4 707.31H163.2V708.62H160.4zM166.0 707.31H168.8V708.62H166.0zM56.5 706.00H59.3V707.31H56.5zM98.7 706.00H101.5V707.31H98.7zM104.3 706.00H107.1V707.31H104.3zM109.9 706.00H112.7V707.31H109.9zM118.3 706.00H123.9V707.31H118.3zM132.3 706.00H135.1V707.31H132.3zM143.6 706.00H146.4V707.31H143.6zM90.2 704.69H93.0V706.00H90.2zM101.5 704.69H104.3V706.00H101.5zM31.3 703.38H34.1V704.69H31.3zM112.7 703.38H115.5V704.69H112.7zM123.9 703.38H126.7V704.69H123.9zM132.3 703.38H135.1V704.69H132.3zM163.2 703.38H168.8V704.69H163.2zM73.4 702.06H76.2V703.38H73.4zM87.4 702.06H90.2V703.38H87.4zM107.1 702.06H109.9V703.38H107.1zM123.9 702.06H126.7V703.38H123.9zM132.3 702.06H135.1V703.38H132.3zM140.8 702.06H143.6V703.38H140.8zM146.4 702.06H149.2V703.38H146.4zM152.0 702.06H154.8V703.38H152.0zM163.2 702.06H166.0V703.38H163.2zM73.4 700.75H79.0V702.06H73.4zM87.4 700.75H90.2V702.06H87.4zM104.3 700.75H115.5V702.06H104.3zM129.5 700.75H132.3V702.06H129.5zM143.6 700.75H146.4V702.06H143.6zM163.2 700.75H166.0V702.06H163.2zM34.1 699.44H36.9V700.75H34.1zM39.7 699.44H42.5V700.75H39.7zM90.2 699.44H93.0V700.75H90.2zM135.1 699.44H140.8V700.75H135.1zM149.2 699.44H154.8V700.75H149.2zM160.4 699.44H163.2V700.75H160.4zM34.1 698.12H36.9V699.44H34.1zM53.7 698.12H56.5V699.44H53.7zM70.6 698.12H73.4V699.44H70.6zM138.0 698.12H140.8V699.44H138.0zM143.6 698.12H146.4V699.44H143.6zM152.0 698.12H160.4V699.44H152.0zM53.7 696.81H56.5V698.12H53.7zM132.3 696.81H135.1V698.12H132.3zM143.6 696.81H149.2V698.12H143.6zM163.2 696.81H166.0V698.12H163.2zM84.6 695.50H87.4V696.81H84.6zM90.2 695.50H93.0V696.81H90.2zM115.5 695.50H121.1V696.81H115.5zM129.5 695.50H132.3V696.81H129.5zM138.0 695.50H140.8V696.81H138.0zM152.0 695.50H154.8V696.81H152.0zM163.2 695.50H168.8V696.81H163.2zM28.5 694.19H34.1V695.50H28.5zM76.2 694.19H79.0V695.50H76.2zM98.7 694.19H101.5V695.50H98.7zM109.9 694.19H112.7V695.50H109.9zM154.8 694.19H157.6V695.50H154.8zM163.2 694.19H168.8V695.50H163.2zM59.3 692.88H62.1V694.19H59.3zM70.6 692.88H73.4V694.19H70.6zM79.0 692.88H81.8V694.19H79.0zM90.2 692.88H95.8V694.19H90.2zM107.1 692.88H109.9V694.19H107.1zM123.9 692.88H126.7V694.19H123.9zM135.1 692.88H138.0V694.19H135.1zM39.7 691.56H42.5V692.88H39.7zM56.5 691.56H59.3V692.88H56.5zM79.0 691.56H81.8V692.88H79.0zM129.5 691.56H132.3V692.88H129.5zM140.8 691.56H143.6V692.88H140.8zM45.3 690.25H48.1V691.56H45.3zM56.5 690.25H59.3V691.56H56.5zM107.1 690.25H109.9V691.56H107.1zM121.1 690.25H123.9V691.56H121.1zM129.5 690.25H132.3V691.56H129.5zM140.8 690.25H143.6V691.56H140.8zM154.8 690.25H166.0V691.56H154.8zM76.2 688.94H79.0V690.25H76.2zM87.4 688.94H90.2V690.25H87.4zM101.5 688.94H104.3V690.25H101.5zM107.1 688.94H109.9V690.25H107.1zM138.0 687.62H140.8V688.94H138.0zM109.9 686.31H112.7V687.62H109.9zM118.3 686.31H121.1V687.62H118.3zM140.8 686.31H143.6V687.62H140.8zM157.6 686.31H160.4V687.62H157.6zM163.2 686.31H168.8V687.62H163.2zM81.8 685.00H87.4V686.31H81.8zM104.3 685.00H107.1V686.31H104.3zM115.5 685.00H118.3V686.31H115.5zM135.1 685.00H138.0V686.31H135.1zM149.2 685.00H152.0V686.31H149.2zM160.4 685.00H166.0V686.31H160.4zM87.4 683.69H90.2V685.00H87.4zM107.1 683.69H109.9V685.00H107.1zM70.6 682.38H73.4V683.69H70.6zM84.6 682.38H87.4V683.69H84.6zM90.2 682.38H93.0V683.69H90.2zM140.8 682.38H146.4V683.69H140.8zM53.7 681.06H56.5V682.38H53.7zM81.8 681.06H84.6V682.38H81.8zM98.7 681.06H101.5V682.38H98.7zM123.9 681.06H126.7V682.38H123.9zM135.1 681.06H138.0V682.38H135.1zM59.3 679.75H62.1V681.06H59.3zM65.0 679.75H67.8V681.06H65.0zM95.8 679.75H98.7V681.06H95.8zM115.5 679.75H121.1V681.06H115.5zM62.1 678.44H65.0V679.75H62.1zM79.0 678.44H81.8V679.75H79.0zM87.4 678.44H90.2V679.75H87.4zM112.7 678.44H115.5V679.75H112.7zM126.7 678.44H129.5V679.75H126.7zM138.0 678.44H140.8V679.75H138.0zM146.4 678.44H149.2V679.75H146.4zM157.6 678.44H166.0V679.75H157.6zM39.7 677.12H42.5V678.44H39.7zM45.3 677.12H48.1V678.44H45.3zM118.3 677.12H121.1V678.44H118.3zM154.8 677.12H157.6V678.44H154.8zM166.0 677.12H168.8V678.44H166.0zM79.0 675.81H81.8V677.12H79.0zM118.3 675.81H121.1V677.12H118.3zM132.3 675.81H135.1V677.12H132.3zM152.0 675.81H154.8V677.12H152.0zM157.6 675.81H160.4V677.12H157.6zM45.3 674.50H48.1V675.81H45.3zM84.6 674.50H90.2V675.81H84.6zM118.3 674.50H121.1V675.81H118.3zM129.5 674.50H132.3V675.81H129.5zM138.0 674.50H143.6V675.81H138.0zM149.2 674.50H152.0V675.81H149.2zM48.1 673.19H50.9V674.50H48.1zM56.5 673.19H59.3V674.50H56.5zM65.0 673.19H67.8V674.50H65.0zM112.7 673.19H115.5V674.50H112.7zM143.6 673.19H146.4V674.50H143.6zM163.2 673.19H166.0V674.50H163.2zM168.8 673.19H171.7V674.50H168.8zM79.0 671.88H81.8V673.19H79.0zM101.5 671.88H104.3V673.19H101.5zM123.9 671.88H126.7V673.19H123.9zM50.9 670.56H56.5V671.88H50.9zM65.0 670.56H67.8V671.88H65.0zM81.8 670.56H84.6V671.88H81.8zM93.0 670.56H95.8V671.88H93.0zM154.8 670.56H157.6V671.88H154.8zM98.7 669.25H101.5V670.56H98.7zM112.7 669.25H115.5V670.56H112.7zM140.8 669.25H143.6V670.56H140.8zM157.6 669.25H160.4V670.56H157.6zM48.1 667.94H50.9V669.25H48.1zM118.3 667.94H121.1V669.25H118.3zM50.9 666.62H53.7V667.94H50.9zM73.4 666.62H76.2V667.94H73.4zM90.2 666.62H93.0V667.94H90.2zM112.7 666.62H115.5V667.94H112.7zM121.1 666.62H123.9V667.94H121.1zM135.1 666.62H152.0V667.94H135.1zM157.6 666.62H163.2V667.94H157.6zM50.9 665.31H53.7V666.62H50.9zM59.3 665.31H67.8V666.62H59.3zM132.3 665.31H135.1V666.62H132.3zM143.6 665.31H146.4V666.62H143.6zM81.8 664.00H84.6V665.31H81.8zM112.7 664.00H118.3V665.31H112.7zM123.9 664.00H126.7V665.31H123.9zM129.5 664.00H132.3V665.31H129.5zM138.0 664.00H143.6V665.31H138.0zM149.2 664.00H152.0V665.31H149.2zM160.4 664.00H163.2V665.31H160.4zM31.3 662.69H34.1V664.00H31.3zM50.9 662.69H53.7V664.00H50.9zM56.5 662.69H59.3V664.00H56.5zM81.8 662.69H84.6V664.00H81.8zM109.9 662.69H112.7V664.00H109.9zM132.3 662.69H138.0V664.00H132.3zM140.8 662.69H143.6V664.00H140.8zM149.2 662.69H154.8V664.00H149.2zM31.3 661.38H34.1V662.69H31.3zM45.3 661.38H48.1V662.69H45.3zM50.9 661.38H53.7V662.69H50.9zM70.6 661.38H79.0V662.69H70.6zM95.8 661.38H98.7V662.69H95.8zM115.5 661.38H118.3V662.69H115.5zM121.1 661.38H123.9V662.69H121.1zM138.0 661.38H140.8V662.69H138.0zM149.2 661.38H152.0V662.69H149.2zM59.3 660.06H62.1V661.38H59.3zM98.7 660.06H101.5V661.38H98.7zM126.7 660.06H129.5V661.38H126.7zM149.2 660.06H154.8V661.38H149.2zM62.1 658.75H65.0V660.06H62.1zM67.8 658.75H70.6V660.06H67.8zM87.4 658.75H90.2V660.06H87.4zM112.7 658.75H115.5V660.06H112.7zM132.3 658.75H138.0V660.06H132.3zM143.6 658.75H146.4V660.06H143.6zM152.0 658.75H154.8V660.06H152.0zM163.2 658.75H166.0V660.06H163.2zM56.5 656.12H59.3V657.44H56.5zM62.1 656.12H65.0V657.44H62.1zM67.8 656.12H73.4V657.44H67.8zM79.0 656.12H81.8V657.44H79.0zM87.4 656.12H90.2V657.44H87.4zM95.8 656.12H98.7V657.44H95.8zM104.3 656.12H107.1V657.44H104.3zM126.7 656.12H129.5V657.44H126.7zM149.2 656.12H154.8V657.44H149.2zM157.6 656.12H160.4V657.44H157.6zM166.0 656.12H168.8V657.44H166.0zM48.1 654.81H50.9V656.12H48.1zM95.8 654.81H98.7V656.12H95.8zM112.7 654.81H118.3V656.12H112.7zM123.9 654.81H126.7V656.12H123.9zM132.3 654.81H138.0V656.12H132.3zM140.8 654.81H143.6V656.12H140.8zM152.0 654.81H154.8V656.12H152.0zM104.3 653.50H107.1V654.81H104.3zM109.9 653.50H112.7V654.81H109.9zM143.6 653.50H149.2V654.81H143.6zM152.0 653.50H154.8V654.81H152.0zM157.6 653.50H160.4V654.81H157.6zM34.1 652.19H36.9V653.50H34.1zM50.9 652.19H53.7V653.50H50.9zM67.8 652.19H73.4V653.50H67.8zM90.2 652.19H93.0V653.50H90.2zM95.8 652.19H98.7V653.50H95.8zM143.6 652.19H146.4V653.50H143.6zM160.4 652.19H163.2V653.50H160.4zM166.0 652.19H168.8V653.50H166.0zM50.9 650.88H53.7V652.19H50.9zM62.1 650.88H65.0V652.19H62.1zM76.2 650.88H81.8V652.19H76.2zM93.0 650.88H95.8V652.19H93.0zM112.7 650.88H118.3V652.19H112.7zM123.9 650.88H126.7V652.19H123.9zM166.0 650.88H168.8V652.19H166.0zM118.3 649.56H121.1V650.88H118.3zM138.0 649.56H140.8V650.88H138.0zM154.8 649.56H157.6V650.88H154.8zM166.0 649.56H168.8V650.88H166.0zM84.6 648.25H87.4V649.56H84.6zM109.9 648.25H112.7V649.56H109.9zM118.3 648.25H121.1V649.56H118.3zM129.5 648.25H135.1V649.56H129.5zM166.0 648.25H168.8V649.56H166.0zM28.5 646.94H31.3V648.25H28.5zM48.1 646.94H50.9V648.25H48.1zM62.1 646.94H65.0V648.25H62.1zM109.9 646.94H112.7V648.25H109.9zM121.1 646.94H123.9V648.25H121.1zM138.0 646.94H140.8V648.25H138.0zM157.6 646.94H160.4V648.25H157.6zM39.7 645.62H42.5V646.94H39.7zM109.9 645.62H112.7V646.94H109.9zM123.9 645.62H126.7V646.94H123.9zM129.5 645.62H135.1V646.94H129.5zM149.2 645.62H152.0V646.94H149.2zM157.6 645.62H160.4V646.94H157.6zM70.6 644.31H76.2V645.62H70.6zM84.6 644.31H87.4V645.62H84.6zM121.1 644.31H126.7V645.62H121.1zM76.2 643.00H79.0V644.31H76.2zM84.6 643.00H87.4V644.31H84.6zM121.1 643.00H123.9V644.31H121.1zM129.5 643.00H132.3V644.31H129.5zM140.8 643.00H143.6V644.31H140.8zM163.2 643.00H166.0V644.31H163.2zM59.3 641.69H62.1V643.00H59.3zM87.4 641.69H90.2V643.00H87.4zM107.1 641.69H109.9V643.00H107.1zM112.7 641.69H115.5V643.00H112.7zM118.3 641.69H121.1V643.00H118.3zM126.7 641.69H129.5V643.00H126.7zM143.6 641.69H146.4V643.00H143.6zM166.0 641.69H168.8V643.00H166.0zM36.9 640.38H39.7V641.69H36.9zM42.5 640.38H45.3V641.69H42.5zM48.1 640.38H50.9V641.69H48.1zM87.4 640.38H90.2V641.69H87.4zM129.5 640.38H132.3V641.69H129.5zM138.0 640.38H140.8V641.69H138.0zM146.4 640.38H152.0V641.69H146.4zM93.0 639.06H95.8V640.38H93.0zM121.1 639.06H123.9V640.38H121.1zM140.8 639.06H143.6V640.38H140.8zM146.4 639.06H149.2V640.38H146.4zM157.6 639.06H160.4V640.38H157.6zM50.9 637.75H53.7V639.06H50.9zM56.5 637.75H59.3V639.06H56.5zM73.4 637.75H76.2V639.06H73.4zM87.4 637.75H90.2V639.06H87.4zM157.6 637.75H160.4V639.06H157.6zM98.7 636.44H101.5V637.75H98.7zM140.8 636.44H143.6V637.75H140.8zM146.4 636.44H149.2V637.75H146.4zM160.4 636.44H163.2V637.75H160.4zM31.3 635.12H34.1V636.44H31.3zM45.3 635.12H48.1V636.44H45.3zM56.5 635.12H59.3V636.44H56.5zM79.0 635.12H81.8V636.44H79.0zM90.2 635.12H93.0V636.44H90.2zM98.7 635.12H101.5V636.44H98.7zM143.6 635.12H146.4V636.44H143.6zM160.4 635.12H163.2V636.44H160.4zM166.0 635.12H168.8V636.44H166.0zM45.3 633.81H50.9V635.12H45.3zM70.6 633.81H73.4V635.12H70.6zM79.0 633.81H81.8V635.12H79.0zM98.7 633.81H101.5V635.12H98.7zM132.3 633.81H135.1V635.12H132.3zM143.6 633.81H146.4V635.12H143.6zM154.8 633.81H160.4V635.12H154.8zM95.8 632.50H98.7V633.81H95.8zM104.3 632.50H107.1V633.81H104.3zM112.7 632.50H115.5V633.81H112.7zM138.0 632.50H140.8V633.81H138.0zM34.1 631.19H36.9V632.50H34.1zM73.4 631.19H76.2V632.50H73.4zM95.8 631.19H104.3V632.50H95.8zM118.3 631.19H121.1V632.50H118.3zM123.9 631.19H126.7V632.50H123.9zM129.5 631.19H135.1V632.50H129.5zM157.6 631.19H160.4V632.50H157.6zM76.2 629.88H79.0V631.19H76.2zM101.5 629.88H104.3V631.19H101.5zM107.1 629.88H109.9V631.19H107.1zM112.7 629.88H115.5V631.19H112.7zM126.7 629.88H132.3V631.19H126.7zM160.4 629.88H163.2V631.19H160.4zM104.3 628.56H107.1V629.88H104.3zM115.5 628.56H118.3V629.88H115.5zM123.9 628.56H126.7V629.88H123.9zM146.4 628.56H149.2V629.88H146.4zM154.8 628.56H157.6V629.88H154.8zM70.6 627.25H73.4V628.56H70.6zM123.9 627.25H126.7V628.56H123.9zM129.5 627.25H132.3V628.56H129.5zM135.1 627.25H138.0V628.56H135.1zM146.4 627.25H149.2V628.56H146.4zM160.4 627.25H163.2V628.56H160.4zM50.9 625.94H53.7V627.25H50.9zM73.4 625.94H76.2V627.25H73.4zM112.7 625.94H115.5V627.25H112.7zM121.1 625.94H123.9V627.25H121.1zM154.8 625.94H157.6V627.25H154.8zM163.2 625.94H166.0V627.25H163.2zM39.7 624.62H42.5V625.94H39.7zM45.3 624.62H48.1V625.94H45.3zM65.0 624.62H67.8V625.94H65.0zM73.4 624.62H76.2V625.94H73.4zM107.1 624.62H109.9V625.94H107.1zM118.3 624.62H121.1V625.94H118.3zM123.9 624.62H126.7V625.94H123.9zM132.3 624.62H138.0V625.94H132.3zM146.4 624.62H152.0V625.94H146.4zM160.4 624.62H163.2V625.94H160.4zM93.0 623.31H95.8V624.62H93.0zM101.5 623.31H104.3V624.62H101.5zM129.5 623.31H135.1V624.62H129.5zM146.4 623.31H149.2V624.62H146.4z"/>
<path fill="#00ff0e" shape-rendering="crispEdges" d="M42.5 725.69H45.3V727.00H42.5zM53.7 725.69H56.5V727.00H53.7zM76.2 725.69H79.0V727.00H76.2zM28.5 724.38H31.3V725.69H28.5zM90.2 724.38H93.0V725.69H90.2zM31.3 723.06H34.1V724.38H31.3zM36.9 723.06H39.7V724.38H36.9zM56.5 723.06H59.3V724.38H56.5zM65.0 723.06H67.8V724.38H65.0zM79.0 723.06H84.6V724.38H79.0zM93.0 723.06H95.8V724.38H93.0zM62.1 721.75H65.0V723.06H62.1zM31.3 720.44H34.1V721.75H31.3zM48.1 720.44H50.9V721.75H48.1zM56.5 720.44H59.3V721.75H56.5zM104.3 720.44H107.1V721.75H104.3zM168.8 720.44H171.7V721.75H168.8zM25.6 719.12H28.5V720.44H25.6zM34.1 719.12H36.9V720.44H34.1zM59.3 719.12H62.1V720.44H59.3zM67.8 719.12H70.6V720.44H67.8zM93.0 719.12H95.8V720.44H93.0zM25.6 717.81H28.5V719.12H25.6zM42.5 717.81H45.3V719.12H42.5zM34.1 716.50H36.9V717.81H34.1zM45.3 716.50H48.1V717.81H45.3zM50.9 716.50H53.7V717.81H50.9zM59.3 716.50H62.1V717.81H59.3zM93.0 716.50H95.8V717.81H93.0zM101.5 716.50H104.3V717.81H101.5zM34.1 715.19H36.9V716.50H34.1zM73.4 715.19H76.2V716.50H73.4zM95.8 715.19H98.7V716.50H95.8zM34.1 713.88H36.9V715.19H34.1zM39.7 713.88H42.5V715.19H39.7zM53.7 713.88H56.5V715.19H53.7zM95.8 713.88H98.7V715.19H95.8zM101.5 713.88H104.3V715.19H101.5zM168.8 713.88H171.7V715.19H168.8zM31.3 712.56H34.1V713.88H31.3zM90.2 712.56H93.0V713.88H90.2zM112.7 712.56H115.5V713.88H112.7zM62.1 711.25H65.0V712.56H62.1zM76.2 711.25H79.0V712.56H76.2zM112.7 711.25H118.3V712.56H112.7zM39.7 709.94H42.5V711.25H39.7zM107.1 709.94H109.9V711.25H107.1zM121.1 709.94H123.9V711.25H121.1zM140.8 709.94H143.6V711.25H140.8zM168.8 709.94H171.7V711.25H168.8zM31.3 708.62H34.1V709.94H31.3zM56.5 708.62H59.3V709.94H56.5zM93.0 708.62H95.8V709.94H93.0zM25.6 707.31H28.5V708.62H25.6zM36.9 707.31H39.7V708.62H36.9zM53.7 707.31H56.5V708.62H53.7zM70.6 707.31H73.4V708.62H70.6zM98.7 707.31H101.5V708.62H98.7zM107.1 707.31H109.9V708.62H107.1zM25.6 706.00H28.5V707.31H25.6zM36.9 706.00H39.7V707.31H36.9zM45.3 706.00H50.9V707.31H45.3zM129.5 706.00H132.3V707.31H129.5zM140.8 706.00H143.6V707.31H140.8zM45.3 704.69H48.1V706.00H45.3zM154.8 704.69H157.6V706.00H154.8zM34.1 703.38H36.9V704.69H34.1zM42.5 703.38H45.3V704.69H42.5zM53.7 703.38H56.5V704.69H53.7zM70.6 703.38H73.4V704.69H70.6zM39.7 702.06H42.5V703.38H39.7zM109.9 702.06H112.7V703.38H109.9zM168.8 702.06H171.7V703.38H168.8zM25.6 700.75H28.5V702.06H25.6zM36.9 700.75H39.7V702.06H36.9zM93.0 700.75H95.8V702.06H93.0zM168.8 700.75H171.7V702.06H168.8zM42.5 699.44H45.3V700.75H42.5zM70.6 699.44H73.4V700.75H70.6zM73.4 698.12H76.2V699.44H73.4zM104.3 698.12H109.9V699.44H104.3zM39.7 696.81H42.5V698.12H39.7zM56.5 696.81H59.3V698.12H56.5zM62.1 696.81H65.0V698.12H62.1zM73.4 696.81H76.2V698.12H73.4zM93.0 696.81H95.8V698.12H93.0zM107.1 696.81H109.9V698.12H107.1zM87.4 695.50H90.2V696.81H87.4zM67.8 694.19H70.6V695.50H67.8zM36.9 692.88H39.7V694.19H36.9zM25.6 691.56H28.5V692.88H25.6zM34.1 691.56H39.7V692.88H34.1zM62.1 691.56H65.0V692.88H62.1zM87.4 691.56H90.2V692.88H87.4zM112.7 691.56H118.3V692.88H112.7zM168.8 691.56H171.7V692.88H168.8zM31.3 690.25H36.9V691.56H31.3zM59.3 690.25H62.1V691.56H59.3zM67.8 690.25H70.6V691.56H67.8zM115.5 690.25H118.3V691.56H115.5zM25.6 688.94H28.5V690.25H25.6zM45.3 688.94H48.1V690.25H45.3zM154.8 688.94H157.6V690.25H154.8zM168.8 688.94H171.7V690.25H168.8zM48.1 687.62H50.9V688.94H48.1zM53.7 687.62H56.5V688.94H53.7zM62.1 687.62H65.0V688.94H62.1zM98.7 687.62H104.3V688.94H98.7zM112.7 687.62H115.5V688.94H112.7zM157.6 687.62H160.4V688.94H157.6zM168.8 687.62H171.7V688.94H168.8zM50.9 686.31H53.7V687.62H50.9zM138.0 686.31H140.8V687.62H138.0zM28.5 685.00H31.3V686.31H28.5zM48.1 685.00H50.9V686.31H48.1zM50.9 683.69H53.7V685.00H50.9zM42.5 682.38H45.3V683.69H42.5zM48.1 682.38H50.9V683.69H48.1zM62.1 682.38H65.0V683.69H62.1zM87.4 682.38H90.2V683.69H87.4zM93.0 682.38H95.8V683.69H93.0zM123.9 682.38H126.7V683.69H123.9zM109.9 681.06H112.7V682.38H109.9zM28.5 679.75H31.3V681.06H28.5zM45.3 679.75H48.1V681.06H45.3zM67.8 679.75H70.6V681.06H67.8zM79.0 679.75H81.8V681.06H79.0zM25.6 678.44H28.5V679.75H25.6zM50.9 678.44H56.5V679.75H50.9zM90.2 678.44H93.0V679.75H90.2zM28.5 677.12H31.3V678.44H28.5zM48.1 677.12H50.9V678.44H48.1zM70.6 677.12H73.4V678.44H70.6zM101.5 677.12H104.3V678.44H101.5zM152.0 677.12H154.8V678.44H152.0zM36.9 675.81H39.7V677.12H36.9zM45.3 675.81H48.1V677.12H45.3zM50.9 675.81H53.7V677.12H50.9zM34.1 674.50H39.7V675.81H34.1zM48.1 674.50H50.9V675.81H48.1zM62.1 674.50H65.0V675.81H62.1zM90.2 674.50H93.0V675.81H90.2zM168.8 674.50H171.7V675.81H168.8zM62.1 673.19H65.0V674.50H62.1zM98.7 673.19H101.5V674.50H98.7zM121.1 673.19H123.9V674.50H121.1zM149.2 673.19H152.0V674.50H149.2zM36.9 671.88H39.7V673.19H36.9zM42.5 671.88H45.3V673.19H42.5zM73.4 670.56H76.2V671.88H73.4zM90.2 670.56H93.0V671.88H90.2zM34.1 669.25H39.7V670.56H34.1zM42.5 669.25H45.3V670.56H42.5zM48.1 669.25H50.9V670.56H48.1zM56.5 669.25H59.3V670.56H56.5zM115.5 669.25H118.3V670.56H115.5zM39.7 667.94H42.5V669.25H39.7zM45.3 667.94H48.1V669.25H45.3zM56.5 667.94H59.3V669.25H56.5zM76.2 667.94H79.0V669.25H76.2zM138.0 667.94H140.8V669.25H138.0zM45.3 666.62H48.1V667.94H45.3zM65.0 666.62H67.8V667.94H65.0zM81.8 666.62H84.6V667.94H81.8zM87.4 666.62H90.2V667.94H87.4zM118.3 666.62H121.1V667.94H118.3zM154.8 666.62H157.6V667.94H154.8zM28.5 665.31H31.3V666.62H28.5zM53.7 665.31H56.5V666.62H53.7zM76.2 665.31H79.0V666.62H76.2zM118.3 665.31H121.1V666.62H118.3zM121.1 664.00H123.9V665.31H121.1zM42.5 662.69H45.3V664.00H42.5zM25.6 661.38H28.5V662.69H25.6zM34.1 661.38H36.9V662.69H34.1zM59.3 661.38H62.1V662.69H59.3zM79.0 661.38H81.8V662.69H79.0zM123.9 661.38H126.7V662.69H123.9zM31.3 660.06H36.9V661.38H31.3zM79.0 660.06H81.8V661.38H79.0zM123.9 660.06H126.7V661.38H123.9zM95.8 658.75H98.7V660.06H95.8zM166.0 658.75H168.8V660.06H166.0zM39.7 657.44H42.5V658.75H39.7zM70.6 657.44H76.2V658.75H70.6zM95.8 657.44H98.7V658.75H95.8zM65.0 656.12H67.8V657.44H65.0zM81.8 656.12H87.4V657.44H81.8zM36.9 654.81H39.7V656.12H36.9zM143.6 654.81H146.4V656.12H143.6zM163.2 654.81H168.8V656.12H163.2zM121.1 653.50H123.9V654.81H121.1zM28.5 652.19H31.3V653.50H28.5zM45.3 652.19H48.1V653.50H45.3zM59.3 652.19H62.1V653.50H59.3zM65.0 650.88H67.8V652.19H65.0zM81.8 650.88H84.6V652.19H81.8zM126.7 650.88H129.5V652.19H126.7zM132.3 650.88H135.1V652.19H132.3zM56.5 649.56H65.0V650.88H56.5zM70.6 649.56H73.4V650.88H70.6zM168.8 649.56H171.7V650.88H168.8zM25.6 648.25H28.5V649.56H25.6zM62.1 648.25H65.0V649.56H62.1zM70.6 648.25H73.4V649.56H70.6zM168.8 648.25H171.7V649.56H168.8zM36.9 646.94H39.7V648.25H36.9zM45.3 646.94H48.1V648.25H45.3zM59.3 646.94H62.1V648.25H59.3zM76.2 646.94H79.0V648.25H76.2zM98.7 646.94H101.5V648.25H98.7zM115.5 646.94H118.3V648.25H115.5zM168.8 646.94H171.7V648.25H168.8zM36.9 645.62H39.7V646.94H36.9zM42.5 645.62H48.1V646.94H42.5zM50.9 645.62H56.5V646.94H50.9zM59.3 645.62H62.1V646.94H59.3zM81.8 645.62H84.6V646.94H81.8zM31.3 644.31H34.1V645.62H31.3zM168.8 644.31H171.7V645.62H168.8zM45.3 643.00H48.1V644.31H45.3zM31.3 641.69H34.1V643.00H31.3zM81.8 641.69H84.6V643.00H81.8zM93.0 641.69H95.8V643.00H93.0zM59.3 640.38H62.1V641.69H59.3zM121.1 640.38H123.9V641.69H121.1zM39.7 639.06H42.5V640.38H39.7zM67.8 639.06H70.6V640.38H67.8zM67.8 637.75H70.6V639.06H67.8zM76.2 637.75H79.0V639.06H76.2zM56.5 636.44H59.3V637.75H56.5zM168.8 636.44H171.7V637.75H168.8zM48.1 635.12H53.7V636.44H48.1zM76.2 635.12H79.0V636.44H76.2zM95.8 635.12H98.7V636.44H95.8zM129.5 635.12H132.3V636.44H129.5zM25.6 633.81H31.3V635.12H25.6zM53.7 633.81H56.5V635.12H53.7zM62.1 633.81H65.0V635.12H62.1zM28.5 632.50H31.3V633.81H28.5zM36.9 632.50H39.7V633.81H36.9zM168.8 632.50H171.7V633.81H168.8zM45.3 631.19H48.1V632.50H45.3zM90.2 631.19H95.8V632.50H90.2zM65.0 629.88H67.8V631.19H65.0zM95.8 629.88H98.7V631.19H95.8zM104.3 629.88H107.1V631.19H104.3zM42.5 628.56H45.3V629.88H42.5zM70.6 628.56H73.4V629.88H70.6zM107.1 627.25H109.9V628.56H107.1zM39.7 625.94H42.5V627.25H39.7zM56.5 625.94H59.3V627.25H56.5zM168.8 625.94H171.7V627.25H168.8zM25.6 624.62H28.5V625.94H25.6zM48.1 624.62H50.9V625.94H48.1zM25.6 623.31H31.3V624.62H25.6zM42.5 623.31H45.3V624.62H42.5zM53.7 623.31H56.5V624.62H53.7zM65.0 623.31H67.8V624.62H65.0zM138.0 623.31H140.8V624.62H138.0zM34.1 622.00H36.9V623.31H34.1zM65.0 622.00H67.8V623.31H65.0zM93.0 622.00H95.8V623.31H93.0zM104.3 622.00H107.1V623.31H104.3zM109.9 622.00H112.7V623.31H109.9zM121.1 622.00H126.7V623.31H121.1zM152.0 622.00H154.8V623.31H152.0zM160.4 622.00H163.2V623.31H160.4zM168.8 622.00H171.7V623.31H168.8z"/>
<path fill="#e0ff00" shape-rendering="crispEdges" d="M62.1 725.69H65.0V727.00H62.1zM79.0 725.69H81.8V727.00H79.0zM115.5 725.69H129.5V727.00H115.5zM132.3 725.69H135.1V727.00H132.3zM138.0 725.69H140.8V727.00H138.0zM143.6 725.69H146.4V727.00H143.6zM160.4 725.69H163.2V727.00H160.4zM34.1 724.38H36.9V725.69H34.1zM50.9 724.38H53.7V725.69H50.9zM73.4 724.38H76.2V725.69H73.4zM107.1 724.38H109.9V725.69H107.1zM138.0 724.38H140.8V725.69H138.0zM149.2 724.38H154.8V725.69H149.2zM28.5 723.06H31.3V724.38H28.5zM48.1 723.06H50.9V724.38H48.1zM73.4 723.06H76.2V724.38H73.4zM95.8 723.06H98.7V724.38H95.8zM143.6 723.06H149.2V724.38H143.6zM73.4 721.75H79.0V723.06H73.4zM109.9 721.75H112.7V723.06H109.9zM121.1 721.75H123.9V723.06H121.1zM138.0 721.75H143.6V723.06H138.0zM81.8 720.44H87.4V721.75H81.8zM118.3 720.44H123.9V721.75H118.3zM135.1 720.44H138.0V721.75H135.1zM143.6 720.44H146.4V721.75H143.6zM160.4 720.44H163.2V721.75H160.4zM45.3 719.12H48.1V720.44H45.3zM70.6 719.12H73.4V720.44H70.6zM129.5 719.12H132.3V720.44H129.5zM149.2 719.12H152.0V720.44H149.2zM28.5 717.81H31.3V719.12H28.5zM65.0 717.81H70.6V719.12H65.0zM90.2 717.81H93.0V719.12H90.2zM109.9 717.81H112.7V719.12H109.9zM118.3 717.81H121.1V719.12H118.3zM126.7 717.81H129.5V719.12H126.7zM152.0 717.81H160.4V719.12H152.0zM163.2 717.81H166.0V719.12H163.2zM76.2 716.50H81.8V717.81H76.2zM87.4 716.50H90.2V717.81H87.4zM107.1 716.50H109.9V717.81H107.1zM112.7 716.50H115.5V717.81H112.7zM140.8 716.50H143.6V717.81H140.8zM152.0 716.50H157.6V717.81H152.0zM56.5 715.19H59.3V716.50H56.5zM62.1 715.19H65.0V716.50H62.1zM115.5 715.19H118.3V716.50H115.5zM132.3 715.19H135.1V716.50H132.3zM138.0 715.19H143.6V716.50H138.0zM146.4 715.19H149.2V716.50H146.4zM152.0 715.19H154.8V716.50H152.0zM163.2 715.19H166.0V716.50H163.2zM31.3 713.88H34.1V715.19H31.3zM36.9 713.88H39.7V715.19H36.9zM42.5 713.88H45.3V715.19H42.5zM67.8 713.88H73.4V715.19H67.8zM123.9 713.88H129.5V715.19H123.9zM132.3 713.88H135.1V715.19H132.3zM143.6 713.88H146.4V715.19H143.6zM50.9 712.56H53.7V713.88H50.9zM59.3 712.56H65.0V713.88H59.3zM84.6 712.56H87.4V713.88H84.6zM95.8 712.56H101.5V713.88H95.8zM115.5 712.56H118.3V713.88H115.5zM121.1 712.56H126.7V713.88H121.1zM146.4 712.56H149.2V713.88H146.4zM152.0 712.56H154.8V713.88H152.0zM160.4 712.56H163.2V713.88H160.4zM39.7 711.25H42.5V712.56H39.7zM48.1 711.25H50.9V712.56H48.1zM56.5 711.25H62.1V712.56H56.5zM126.7 711.25H132.3V712.56H126.7zM135.1 711.25H138.0V712.56H135.1zM152.0 711.25H154.8V712.56H152.0zM34.1 709.94H39.7V711.25H34.1zM50.9 709.94H56.5V711.25H50.9zM65.0 709.94H67.8V711.25H65.0zM76.2 709.94H79.0V711.25H76.2zM81.8 709.94H84.6V711.25H81.8zM90.2 709.94H93.0V711.25H90.2zM104.3 709.94H107.1V711.25H104.3zM123.9 709.94H129.5V711.25H123.9zM154.8 709.94H160.4V711.25H154.8zM39.7 708.62H42.5V709.94H39.7zM45.3 708.62H48.1V709.94H45.3zM73.4 708.62H76.2V709.94H73.4zM81.8 708.62H84.6V709.94H81.8zM104.3 708.62H107.1V709.94H104.3zM112.7 708.62H115.5V709.94H112.7zM118.3 708.62H121.1V709.94H118.3zM123.9 708.62H132.3V709.94H123.9zM135.1 708.62H138.0V709.94H135.1zM140.8 708.62H143.6V709.94H140.8zM146.4 708.62H149.2V709.94H146.4zM76.2 707.31H79.0V708.62H76.2zM81.8 707.31H87.4V708.62H81.8zM101.5 707.31H107.1V708.62H101.5zM115.5 707.31H121.1V708.62H115.5zM135.1 707.31H138.0V708.62H135.1zM154.8 707.31H157.6V708.62H154.8zM34.1 706.00H36.9V707.31H34.1zM90.2 706.00H93.0V707.31H90.2zM101.5 706.00H104.3V707.31H101.5zM138.0 706.00H140.8V707.31H138.0zM146.4 706.00H152.0V707.31H146.4zM28.5 704.69H31.3V706.00H28.5zM59.3 704.69H62.1V706.00H59.3zM93.0 704.69H98.7V706.00H93.0zM104.3 704.69H107.1V706.00H104.3zM115.5 704.69H123.9V706.00H115.5zM132.3 704.69H135.1V706.00H132.3zM138.0 704.69H149.2V706.00H138.0zM48.1 703.38H50.9V704.69H48.1zM93.0 703.38H95.8V704.69H93.0zM98.7 703.38H101.5V704.69H98.7zM109.9 703.38H112.7V704.69H109.9zM118.3 703.38H123.9V704.69H118.3zM126.7 703.38H129.5V704.69H126.7zM140.8 703.38H143.6V704.69H140.8zM146.4 703.38H149.2V704.69H146.4zM152.0 703.38H154.8V704.69H152.0zM157.6 703.38H160.4V704.69H157.6zM31.3 702.06H34.1V703.38H31.3zM36.9 702.06H39.7V703.38H36.9zM42.5 702.06H45.3V703.38H42.5zM48.1 702.06H50.9V703.38H48.1zM53.7 702.06H56.5V703.38H53.7zM67.8 702.06H70.6V703.38H67.8zM76.2 702.06H79.0V703.38H76.2zM81.8 702.06H84.6V703.38H81.8zM90.2 702.06H95.8V703.38H90.2zM112.7 702.06H115.5V703.38H112.7zM118.3 702.06H123.9V703.38H118.3zM126.7 702.06H132.3V703.38H126.7zM45.3 700.75H50.9V702.06H45.3zM65.0 700.75H67.8V702.06H65.0zM81.8 700.75H87.4V702.06H81.8zM135.1 700.75H138.0V702.06H135.1zM79.0 699.44H81.8V700.75H79.0zM87.4 699.44H90.2V700.75H87.4zM95.8 699.44H101.5V700.75H95.8zM109.9 699.44H115.5V700.75H109.9zM118.3 699.44H121.1V700.75H118.3zM123.9 699.44H126.7V700.75H123.9zM132.3 699.44H135.1V700.75H132.3zM140.8 699.44H143.6V700.75H140.8zM154.8 699.44H157.6V700.75H154.8zM36.9 698.12H39.7V699.44H36.9zM45.3 698.12H48.1V699.44H45.3zM90.2 698.12H95.8V699.44H90.2zM109.9 698.12H112.7V699.44H109.9zM115.5 698.12H121.1V699.44H115.5zM140.8 698.12H143.6V699.44H140.8zM149.2 698.12H152.0V699.44H149.2zM34.1 696.81H36.9V698.12H34.1zM59.3 696.81H62.1V698.12H59.3zM65.0 696.81H70.6V698.12H65.0zM81.8 696.81H84.6V698.12H81.8zM87.4 696.81H90.2V698.12H87.4zM118.3 696.81H126.7V698.12H118.3zM154.8 696.81H160.4V698.12H154.8zM31.3 695.50H36.9V696.81H31.3zM39.7 695.50H42.5V696.81H39.7zM50.9 695.50H56.5V696.81H50.9zM70.6 695.50H73.4V696.81H70.6zM98.7 695.50H101.5V696.81H98.7zM104.3 695.50H107.1V696.81H104.3zM149.2 695.50H152.0V696.81H149.2zM42.5 694.19H45.3V695.50H42.5zM81.8 694.19H84.6V695.50H81.8zM90.2 694.19H93.0V695.50H90.2zM95.8 694.19H98.7V695.50H95.8zM121.1 694.19H126.7V695.50H121.1zM135.1 694.19H138.0V695.50H135.1zM28.5 692.88H31.3V694.19H28.5zM62.1 692.88H65.0V694.19H62.1zM81.8 692.88H84.6V694.19H81.8zM87.4 692.88H90.2V694.19H87.4zM95.8 692.88H98.7V694.19H95.8zM104.3 692.88H107.1V694.19H104.3zM118.3 692.88H123.9V694.19H118.3zM132.3 692.88H135.1V694.19H132.3zM140.8 692.88H143.6V694.19H140.8zM163.2 692.88H166.0V694.19H163.2zM48.1 691.56H50.9V692.88H48.1zM59.3 691.56H62.1V692.88H59.3zM65.0 691.56H67.8V692.88H65.0zM73.4 691.56H76.2V692.88H73.4zM157.6 691.56H163.2V692.88H157.6zM79.0 690.25H84.6V691.56H79.0zM87.4 690.25H93.0V691.56H87.4zM104.3 690.25H107.1V691.56H104.3zM126.7 690.25H129.5V691.56H126.7zM143.6 690.25H146.4V691.56H143.6zM166.0 690.25H168.8V691.56H166.0zM34.1 688.94H36.9V690.25H34.1zM39.7 688.94H42.5V690.25H39.7zM62.1 688.94H65.0V690.25H62.1zM70.6 688.94H73.4V690.25H70.6zM79.0 688.94H81.8V690.25H79.0zM84.6 688.94H87.4V690.25H84.6zM115.5 688.94H118.3V690.25H115.5zM132.3 688.94H135.1V690.25H132.3zM138.0 688.94H143.6V690.25H138.0zM157.6 688.94H163.2V690.25H157.6zM166.0 688.94H168.8V690.25H166.0zM36.9 687.62H39.7V688.94H36.9zM65.0 687.62H67.8V688.94H65.0zM70.6 687.62H73.4V688.94H70.6zM79.0 687.62H84.6V688.94H79.0zM90.2 687.62H93.0V688.94H90.2zM104.3 687.62H107.1V688.94H104.3zM109.9 687.62H112.7V688.94H109.9zM152.0 687.62H154.8V688.94H152.0zM163.2 687.62H166.0V688.94H163.2zM31.3 686.31H34.1V687.62H31.3zM93.0 686.31H98.7V687.62H93.0zM112.7 686.31H115.5V687.62H112.7zM132.3 686.31H135.1V687.62H132.3zM143.6 686.31H146.4V687.62H143.6zM154.8 686.31H157.6V687.62H154.8zM76.2 685.00H79.0V686.31H76.2zM93.0 685.00H98.7V686.31H93.0zM109.9 685.00H112.7V686.31H109.9zM129.5 685.00H132.3V686.31H129.5zM140.8 685.00H146.4V686.31H140.8zM152.0 685.00H154.8V686.31H152.0zM157.6 685.00H160.4V686.31H157.6zM53.7 683.69H56.5V685.00H53.7zM79.0 683.69H81.8V685.00H79.0zM90.2 683.69H95.8V685.00H90.2zM135.1 683.69H138.0V685.00H135.1zM149.2 683.69H152.0V685.00H149.2zM154.8 683.69H157.6V685.00H154.8zM50.9 682.38H53.7V683.69H50.9zM65.0 682.38H67.8V683.69H65.0zM73.4 682.38H76.2V683.69H73.4zM95.8 682.38H101.5V683.69H95.8zM109.9 682.38H112.7V683.69H109.9zM115.5 682.38H121.1V683.69H115.5zM126.7 682.38H129.5V683.69H126.7zM149.2 682.38H152.0V683.69H149.2zM160.4 682.38H166.0V683.69H160.4zM59.3 681.06H62.1V682.38H59.3zM65.0 681.06H67.8V682.38H65.0zM84.6 681.06H87.4V682.38H84.6zM93.0 681.06H95.8V682.38H93.0zM129.5 681.06H132.3V682.38H129.5zM166.0 681.06H168.8V682.38H166.0zM70.6 679.75H76.2V681.06H70.6zM81.8 679.75H87.4V681.06H81.8zM121.1 679.75H123.9V681.06H121.1zM132.3 679.75H135.1V681.06H132.3zM149.2 679.75H152.0V681.06H149.2zM160.4 679.75H163.2V681.06H160.4zM28.5 678.44H31.3V679.75H28.5zM45.3 678.44H48.1V679.75H45.3zM84.6 678.44H87.4V679.75H84.6zM93.0 678.44H95.8V679.75H93.0zM109.9 678.44H112.7V679.75H109.9zM135.1 678.44H138.0V679.75H135.1zM62.1 677.12H65.0V678.44H62.1zM84.6 677.12H90.2V678.44H84.6zM126.7 677.12H129.5V678.44H126.7zM143.6 677.12H149.2V678.44H143.6zM48.1 675.81H50.9V677.12H48.1zM67.8 675.81H73.4V677.12H67.8zM81.8 675.81H87.4V677.12H81.8zM93.0 675.81H95.8V677.12H93.0zM101.5 675.81H107.1V677.12H101.5zM112.7 675.81H115.5V677.12H112.7zM140.8 675.81H143.6V677.12H140.8zM154.8 675.81H157.6V677.12H154.8zM160.4 675.81H163.2V677.12H160.4zM50.9 674.50H53.7V675.81H50.9zM65.0 674.50H67.8V675.81H65.0zM79.0 674.50H81.8V675.81H79.0zM109.9 674.50H112.7V675.81H109.9zM115.5 674.50H118.3V675.81H115.5zM135.1 674.50H138.0V675.81H135.1zM143.6 674.50H146.4V675.81H143.6zM154.8 674.50H160.4V675.81H154.8zM36.9 673.19H39.7V674.50H36.9zM53.7 673.19H56.5V674.50H53.7zM59.3 673.19H62.1V674.50H59.3zM67.8 673.19H70.6V674.50H67.8zM73.4 673.19H76.2V674.50H73.4zM79.0 673.19H81.8V674.50H79.0zM84.6 673.19H87.4V674.50H84.6zM90.2 673.19H93.0V674.50H90.2zM95.8 673.19H98.7V674.50H95.8zM118.3 673.19H121.1V674.50H118.3zM123.9 673.19H129.5V674.50H123.9zM146.4 673.19H149.2V674.50H146.4zM152.0 673.19H160.4V674.50H152.0zM45.3 671.88H48.1V673.19H45.3zM65.0 671.88H67.8V673.19H65.0zM84.6 671.88H87.4V673.19H84.6zM95.8 671.88H98.7V673.19H95.8zM126.7 671.88H132.3V673.19H126.7zM135.1 671.88H138.0V673.19H135.1zM152.0 671.88H154.8V673.19H152.0zM163.2 671.88H168.8V673.19H163.2zM62.1 670.56H65.0V671.88H62.1zM70.6 670.56H73.4V671.88H70.6zM87.4 670.56H90.2V671.88H87.4zM95.8 670.56H98.7V671.88H95.8zM107.1 670.56H109.9V671.88H107.1zM121.1 670.56H123.9V671.88H121.1zM135.1 670.56H140.8V671.88H135.1zM146.4 670.56H149.2V671.88H146.4zM67.8 669.25H70.6V670.56H67.8zM76.2 669.25H79.0V670.56H76.2zM87.4 669.25H90.2V670.56H87.4zM101.5 669.25H107.1V670.56H101.5zM118.3 669.25H121.1V670.56H118.3zM123.9 669.25H126.7V670.56H123.9zM132.3 669.25H135.1V670.56H132.3zM143.6 669.25H146.4V670.56H143.6zM149.2 669.25H152.0V670.56H149.2zM166.0 669.25H168.8V670.56H166.0zM36.9 667.94H39.7V669.25H36.9zM42.5 667.94H45.3V669.25H42.5zM50.9 667.94H53.7V669.25H50.9zM59.3 667.94H62.1V669.25H59.3zM81.8 667.94H84.6V669.25H81.8zM107.1 667.94H109.9V669.25H107.1zM115.5 667.94H118.3V669.25H115.5zM129.5 667.94H132.3V669.25H129.5zM140.8 667.94H146.4V669.25H140.8zM149.2 667.94H152.0V669.25H149.2zM28.5 666.62H31.3V667.94H28.5zM93.0 666.62H95.8V667.94H93.0zM126.7 666.62H129.5V667.94H126.7zM42.5 665.31H45.3V666.62H42.5zM56.5 665.31H59.3V666.62H56.5zM70.6 665.31H73.4V666.62H70.6zM79.0 665.31H81.8V666.62H79.0zM90.2 665.31H93.0V666.62H90.2zM104.3 665.31H107.1V666.62H104.3zM109.9 665.31H112.7V666.62H109.9zM135.1 665.31H138.0V666.62H135.1zM39.7 664.00H42.5V665.31H39.7zM65.0 664.00H67.8V665.31H65.0zM70.6 664.00H76.2V665.31H70.6zM87.4 664.00H90.2V665.31H87.4zM118.3 664.00H121.1V665.31H118.3zM146.4 664.00H149.2V665.31H146.4zM157.6 664.00H160.4V665.31H157.6zM34.1 662.69H39.7V664.00H34.1zM48.1 662.69H50.9V664.00H48.1zM65.0 662.69H67.8V664.00H65.0zM90.2 662.69H93.0V664.00H90.2zM101.5 662.69H107.1V664.00H101.5zM112.7 662.69H118.3V664.00H112.7zM129.5 662.69H132.3V664.00H129.5zM138.0 662.69H140.8V664.00H138.0zM154.8 662.69H157.6V664.00H154.8zM160.4 662.69H163.2V664.00H160.4zM28.5 661.38H31.3V662.69H28.5zM53.7 661.38H56.5V662.69H53.7zM67.8 661.38H70.6V662.69H67.8zM81.8 661.38H84.6V662.69H81.8zM90.2 661.38H93.0V662.69H90.2zM104.3 661.38H107.1V662.69H104.3zM129.5 661.38H135.1V662.69H129.5zM152.0 661.38H160.4V662.69H152.0zM166.0 661.38H168.8V662.69H166.0zM62.1 660.06H65.0V661.38H62.1zM70.6 660.06H73.4V661.38H70.6zM76.2 660.06H79.0V661.38H76.2zM87.4 660.06H93.0V661.38H87.4zM95.8 660.06H98.7V661.38H95.8zM146.4 660.06H149.2V661.38H146.4zM50.9 658.75H53.7V660.06H50.9zM59.3 658.75H62.1V660.06H59.3zM65.0 658.75H67.8V660.06H65.0zM70.6 658.75H73.4V660.06H70.6zM79.0 658.75H81.8V660.06H79.0zM98.7 658.75H101.5V660.06H98.7zM109.9 658.75H112.7V660.06H109.9zM118.3 658.75H121.1V660.06H118.3zM126.7 658.75H129.5V660.06H126.7zM160.4 658.75H163.2V660.06H160.4zM67.8 657.44H70.6V658.75H67.8zM81.8 657.44H87.4V658.75H81.8zM90.2 657.44H93.0V658.75H90.2zM107.1 657.44H109.9V658.75H107.1zM115.5 657.44H118.3V658.75H115.5zM121.1 657.44H123.9V658.75H121.1zM146.4 657.44H152.0V658.75H146.4zM160.4 657.44H163.2V658.75H160.4zM48.1 656.12H50.9V657.44H48.1zM76.2 656.12H79.0V657.44H76.2zM109.9 656.12H118.3V657.44H109.9zM121.1 656.12H123.9V657.44H121.1zM135.1 656.12H138.0V657.44H135.1zM163.2 656.12H166.0V657.44H163.2zM31.3 654.81H34.1V656.12H31.3zM39.7 654.81H42.5V656.12H39.7zM65.0 654.81H67.8V656.12H65.0zM84.6 654.81H87.4V656.12H84.6zM93.0 654.81H95.8V656.12H93.0zM101.5 654.81H104.3V656.12H101.5zM138.0 654.81H140.8V656.12H138.0zM146.4 654.81H152.0V656.12H146.4zM157.6 654.81H163.2V656.12H157.6zM56.5 653.50H59.3V654.81H56.5zM87.4 653.50H93.0V654.81H87.4zM112.7 653.50H118.3V654.81H112.7zM132.3 653.50H135.1V654.81H132.3zM149.2 653.50H152.0V654.81H149.2zM42.5 652.19H45.3V653.50H42.5zM48.1 652.19H50.9V653.50H48.1zM62.1 652.19H65.0V653.50H62.1zM73.4 652.19H76.2V653.50H73.4zM81.8 652.19H84.6V653.50H81.8zM118.3 652.19H121.1V653.50H118.3zM123.9 652.19H126.7V653.50H123.9zM132.3 652.19H135.1V653.50H132.3zM140.8 652.19H143.6V653.50H140.8zM152.0 652.19H154.8V653.50H152.0zM31.3 650.88H34.1V652.19H31.3zM36.9 650.88H42.5V652.19H36.9zM45.3 650.88H50.9V652.19H45.3zM73.4 650.88H76.2V652.19H73.4zM101.5 650.88H104.3V652.19H101.5zM107.1 650.88H109.9V652.19H107.1zM39.7 649.56H45.3V650.88H39.7zM53.7 649.56H56.5V650.88H53.7zM76.2 649.56H79.0V650.88H76.2zM98.7 649.56H101.5V650.88H98.7zM115.5 649.56H118.3V650.88H115.5zM121.1 649.56H123.9V650.88H121.1zM132.3 649.56H138.0V650.88H132.3zM140.8 649.56H146.4V650.88H140.8zM152.0 649.56H154.8V650.88H152.0zM160.4 649.56H163.2V650.88H160.4zM67.8 648.25H70.6V649.56H67.8zM79.0 648.25H81.8V649.56H79.0zM93.0 648.25H95.8V649.56H93.0zM115.5 648.25H118.3V649.56H115.5zM135.1 648.25H143.6V649.56H135.1zM42.5 646.94H45.3V648.25H42.5zM56.5 646.94H59.3V648.25H56.5zM67.8 646.94H70.6V648.25H67.8zM87.4 646.94H90.2V648.25H87.4zM143.6 646.94H146.4V648.25H143.6zM163.2 646.94H166.0V648.25H163.2zM28.5 645.62H31.3V646.94H28.5zM48.1 645.62H50.9V646.94H48.1zM56.5 645.62H59.3V646.94H56.5zM62.1 645.62H65.0V646.94H62.1zM70.6 645.62H73.4V646.94H70.6zM87.4 645.62H90.2V646.94H87.4zM112.7 645.62H118.3V646.94H112.7zM76.2 644.31H84.6V645.62H76.2zM87.4 644.31H90.2V645.62H87.4zM93.0 644.31H95.8V645.62H93.0zM104.3 644.31H112.7V645.62H104.3zM143.6 644.31H146.4V645.62H143.6zM157.6 644.31H160.4V645.62H157.6zM163.2 644.31H166.0V645.62H163.2zM39.7 643.00H42.5V644.31H39.7zM53.7 643.00H56.5V644.31H53.7zM67.8 643.00H70.6V644.31H67.8zM81.8 643.00H84.6V644.31H81.8zM87.4 643.00H93.0V644.31H87.4zM95.8 643.00H98.7V644.31H95.8zM104.3 643.00H109.9V644.31H104.3zM135.1 643.00H140.8V644.31H135.1zM143.6 643.00H146.4V644.31H143.6zM36.9 641.69H42.5V643.00H36.9zM73.4 641.69H76.2V643.00H73.4zM138.0 641.69H140.8V643.00H138.0zM149.2 641.69H152.0V643.00H149.2zM154.8 641.69H157.6V643.00H154.8zM160.4 641.69H166.0V643.00H160.4zM53.7 640.38H56.5V641.69H53.7zM67.8 640.38H70.6V641.69H67.8zM76.2 640.38H84.6V641.69H76.2zM143.6 640.38H146.4V641.69H143.6zM154.8 640.38H157.6V641.69H154.8zM160.4 640.38H163.2V641.69H160.4zM166.0 640.38H168.8V641.69H166.0zM34.1 639.06H36.9V640.38H34.1zM53.7 639.06H56.5V640.38H53.7zM59.3 639.06H62.1V640.38H59.3zM70.6 639.06H73.4V640.38H70.6zM98.7 639.06H104.3V640.38H98.7zM112.7 639.06H115.5V640.38H112.7zM123.9 639.06H126.7V640.38H123.9zM154.8 639.06H157.6V640.38H154.8zM166.0 639.06H168.8V640.38H166.0zM42.5 637.75H48.1V639.06H42.5zM70.6 637.75H73.4V639.06H70.6zM98.7 637.75H101.5V639.06H98.7zM129.5 637.75H132.3V639.06H129.5zM138.0 637.75H143.6V639.06H138.0zM146.4 637.75H149.2V639.06H146.4zM160.4 637.75H168.8V639.06H160.4zM48.1 636.44H50.9V637.75H48.1zM79.0 636.44H87.4V637.75H79.0zM93.0 636.44H95.8V637.75H93.0zM112.7 636.44H115.5V637.75H112.7zM118.3 636.44H121.1V637.75H118.3zM126.7 636.44H129.5V637.75H126.7zM143.6 636.44H146.4V637.75H143.6zM157.6 636.44H160.4V637.75H157.6zM34.1 635.12H36.9V636.44H34.1zM73.4 635.12H76.2V636.44H73.4zM87.4 635.12H90.2V636.44H87.4zM104.3 635.12H107.1V636.44H104.3zM109.9 635.12H112.7V636.44H109.9zM115.5 635.12H121.1V636.44H115.5zM123.9 635.12H126.7V636.44H123.9zM132.3 635.12H135.1V636.44H132.3zM157.6 635.12H160.4V636.44H157.6zM163.2 635.12H166.0V636.44H163.2zM73.4 633.81H76.2V635.12H73.4zM95.8 633.81H98.7V635.12H95.8zM104.3 633.81H109.9V635.12H104.3zM112.7 633.81H115.5V635.12H112.7zM118.3 633.81H121.1V635.12H118.3zM135.1 633.81H138.0V635.12H135.1zM149.2 633.81H154.8V635.12H149.2zM160.4 633.81H163.2V635.12H160.4zM50.9 632.50H53.7V633.81H50.9zM76.2 632.50H79.0V633.81H76.2zM81.8 632.50H87.4V633.81H81.8zM98.7 632.50H104.3V633.81H98.7zM118.3 632.50H121.1V633.81H118.3zM123.9 632.50H126.7V633.81H123.9zM129.5 632.50H132.3V633.81H129.5zM143.6 632.50H146.4V633.81H143.6zM149.2 632.50H152.0V633.81H149.2zM31.3 631.19H34.1V632.50H31.3zM50.9 631.19H53.7V632.50H50.9zM59.3 631.19H65.0V632.50H59.3zM104.3 631.19H107.1V632.50H104.3zM138.0 631.19H140.8V632.50H138.0zM152.0 631.19H154.8V632.50H152.0zM163.2 631.19H168.8V632.50H163.2zM36.9 629.88H39.7V631.19H36.9zM42.5 629.88H45.3V631.19H42.5zM50.9 629.88H53.7V631.19H50.9zM62.1 629.88H65.0V631.19H62.1zM79.0 629.88H81.8V631.19H79.0zM84.6 629.88H87.4V631.19H84.6zM109.9 629.88H112.7V631.19H109.9zM121.1 629.88H123.9V631.19H121.1zM132.3 629.88H138.0V631.19H132.3zM163.2 629.88H166.0V631.19H163.2zM34.1 628.56H36.9V629.88H34.1zM39.7 628.56H42.5V629.88H39.7zM45.3 628.56H48.1V629.88H45.3zM62.1 628.56H65.0V629.88H62.1zM79.0 628.56H81.8V629.88H79.0zM87.4 628.56H90.2V629.88H87.4zM95.8 628.56H98.7V629.88H95.8zM112.7 628.56H115.5V629.88H112.7zM118.3 628.56H121.1V629.88H118.3zM129.5 628.56H135.1V629.88H129.5zM143.6 628.56H146.4V629.88H143.6zM67.8 627.25H70.6V628.56H67.8zM84.6 627.25H87.4V628.56H84.6zM101.5 627.25H107.1V628.56H101.5zM132.3 627.25H135.1V628.56H132.3zM138.0 627.25H140.8V628.56H138.0zM157.6 627.25H160.4V628.56H157.6zM166.0 627.25H168.8V628.56H166.0zM36.9 625.94H39.7V627.25H36.9zM79.0 625.94H81.8V627.25H79.0zM90.2 625.94H93.0V627.25H90.2zM101.5 625.94H104.3V627.25H101.5zM118.3 625.94H121.1V627.25H118.3zM140.8 625.94H146.4V627.25H140.8zM166.0 625.94H168.8V627.25H166.0zM34.1 624.62H36.9V625.94H34.1zM50.9 624.62H53.7V625.94H50.9zM70.6 624.62H73.4V625.94H70.6zM84.6 624.62H87.4V625.94H84.6zM90.2 624.62H93.0V625.94H90.2zM98.7 624.62H101.5V625.94H98.7zM104.3 624.62H107.1V625.94H104.3zM109.9 624.62H112.7V625.94H109.9zM152.0 624.62H154.8V625.94H152.0zM157.6 624.62H160.4V625.94H157.6zM166.0 624.62H171.7V625.94H166.0zM31.3 623.31H34.1V624.62H31.3zM73.4 623.31H79.0V624.62H73.4zM95.8 623.31H101.5V624.62H95.8zM107.1 623.31H109.9V624.62H107.1zM112.7 623.31H115.5V624.62H112.7zM118.3 623.31H121.1V624.62H118.3zM123.9 623.31H126.7V624.62H123.9zM152.0 623.31H157.6V624.62H152.0zM146.4 622.00H149.2V623.31H146.4zM154.8 622.00H157.6V623.31H154.8z"/>
<path fill="#99ff00" shape-rendering="crispEdges" d="M98.7 725.69H109.9V727.00H98.7zM140.8 725.69H143.6V727.00H140.8zM42.5 724.38H45.3V725.69H42.5zM59.3 724.38H62.1V725.69H59.3zM95.8 724.38H98.7V725.69H95.8zM101.5 724.38H104.3V725.69H101.5zM123.9 724.38H126.7V725.69H123.9zM129.5 724.38H132.3V725.69H129.5zM135.1 724.38H138.0V725.69H135.1zM140.8 724.38H146.4V725.69H140.8zM39.7 723.06H42.5V724.38H39.7zM59.3 723.06H62.1V724.38H59.3zM67.8 723.06H70.6V724.38H67.8zM98.7 723.06H101.5V724.38H98.7zM104.3 723.06H107.1V724.38H104.3zM135.1 723.06H138.0V724.38H135.1zM149.2 723.06H152.0V724.38H149.2zM160.4 723.06H163.2V724.38H160.4zM25.6 721.75H28.5V723.06H25.6zM39.7 721.75H42.5V723.06H39.7zM45.3 721.75H48.1V723.06H45.3zM50.9 721.75H53.7V723.06H50.9zM56.5 721.75H59.3V723.06H56.5zM65.0 721.75H67.8V723.06H65.0zM79.0 721.75H84.6V723.06H79.0zM98.7 721.75H104.3V723.06H98.7zM107.1 721.75H109.9V723.06H107.1zM112.7 721.75H115.5V723.06H112.7zM118.3 721.75H121.1V723.06H118.3zM154.8 721.75H157.6V723.06H154.8zM39.7 720.44H42.5V721.75H39.7zM73.4 720.44H76.2V721.75H73.4zM93.0 720.44H95.8V721.75H93.0zM98.7 720.44H104.3V721.75H98.7zM115.5 720.44H118.3V721.75H115.5zM126.7 720.44H132.3V721.75H126.7zM138.0 720.44H140.8V721.75H138.0zM166.0 720.44H168.8V721.75H166.0zM31.3 719.12H34.1V720.44H31.3zM39.7 719.12H45.3V720.44H39.7zM50.9 719.12H59.3V720.44H50.9zM81.8 719.12H84.6V720.44H81.8zM87.4 719.12H90.2V720.44H87.4zM101.5 719.12H104.3V720.44H101.5zM112.7 719.12H115.5V720.44H112.7zM123.9 719.12H126.7V720.44H123.9zM135.1 719.12H138.0V720.44H135.1zM31.3 717.81H34.1V719.12H31.3zM56.5 717.81H59.3V719.12H56.5zM93.0 717.81H98.7V719.12H93.0zM115.5 717.81H118.3V719.12H115.5zM143.6 717.81H146.4V719.12H143.6zM166.0 717.81H168.8V719.12H166.0zM39.7 716.50H42.5V717.81H39.7zM56.5 716.50H59.3V717.81H56.5zM70.6 716.50H73.4V717.81H70.6zM84.6 716.50H87.4V717.81H84.6zM90.2 716.50H93.0V717.81H90.2zM95.8 716.50H98.7V717.81H95.8zM118.3 716.50H121.1V717.81H118.3zM135.1 716.50H138.0V717.81H135.1zM143.6 716.50H146.4V717.81H143.6zM163.2 716.50H166.0V717.81H163.2zM42.5 715.19H45.3V716.50H42.5zM70.6 715.19H73.4V716.50H70.6zM93.0 715.19H95.8V716.50H93.0zM98.7 715.19H101.5V716.50H98.7zM112.7 715.19H115.5V716.50H112.7zM129.5 715.19H132.3V716.50H129.5zM157.6 715.19H160.4V716.50H157.6zM45.3 713.88H48.1V715.19H45.3zM59.3 713.88H67.8V715.19H59.3zM73.4 713.88H76.2V715.19H73.4zM87.4 713.88H90.2V715.19H87.4zM104.3 713.88H107.1V715.19H104.3zM138.0 713.88H140.8V715.19H138.0zM157.6 713.88H160.4V715.19H157.6zM34.1 712.56H36.9V713.88H34.1zM42.5 712.56H45.3V713.88H42.5zM70.6 712.56H73.4V713.88H70.6zM118.3 712.56H121.1V713.88H118.3zM126.7 712.56H132.3V713.88H126.7zM138.0 712.56H140.8V713.88H138.0zM143.6 712.56H146.4V713.88H143.6zM154.8 712.56H157.6V713.88H154.8zM42.5 711.25H45.3V712.56H42.5zM50.9 711.25H56.5V712.56H50.9zM65.0 711.25H67.8V712.56H65.0zM73.4 711.25H76.2V712.56H73.4zM90.2 711.25H93.0V712.56H90.2zM104.3 711.25H109.9V712.56H104.3zM121.1 711.25H123.9V712.56H121.1zM160.4 711.25H163.2V712.56H160.4zM168.8 711.25H171.7V712.56H168.8zM48.1 709.94H50.9V711.25H48.1zM62.1 709.94H65.0V711.25H62.1zM70.6 709.94H76.2V711.25H70.6zM79.0 709.94H81.8V711.25H79.0zM84.6 709.94H87.4V711.25H84.6zM93.0 709.94H95.8V711.25H93.0zM109.9 709.94H121.1V711.25H109.9zM48.1 708.62H50.9V709.94H48.1zM65.0 708.62H67.8V709.94H65.0zM101.5 708.62H104.3V709.94H101.5zM107.1 708.62H109.9V709.94H107.1zM121.1 708.62H123.9V709.94H121.1zM152.0 708.62H154.8V709.94H152.0zM28.5 707.31H31.3V708.62H28.5zM67.8 707.31H70.6V708.62H67.8zM109.9 707.31H112.7V708.62H109.9zM123.9 707.31H126.7V708.62H123.9zM132.3 707.31H135.1V708.62H132.3zM146.4 707.31H149.2V708.62H146.4zM157.6 707.31H160.4V708.62H157.6zM163.2 707.31H166.0V708.62H163.2zM42.5 706.00H45.3V707.31H42.5zM59.3 706.00H62.1V707.31H59.3zM95.8 706.00H98.7V707.31H95.8zM160.4 706.00H163.2V707.31H160.4zM166.0 706.00H171.7V707.31H166.0zM39.7 704.69H42.5V706.00H39.7zM53.7 704.69H56.5V706.00H53.7zM73.4 704.69H76.2V706.00H73.4zM79.0 704.69H84.6V706.00H79.0zM112.7 704.69H115.5V706.00H112.7zM166.0 704.69H168.8V706.00H166.0zM28.5 703.38H31.3V704.69H28.5zM39.7 703.38H42.5V704.69H39.7zM45.3 703.38H48.1V704.69H45.3zM50.9 703.38H53.7V704.69H50.9zM62.1 703.38H67.8V704.69H62.1zM87.4 703.38H90.2V704.69H87.4zM95.8 703.38H98.7V704.69H95.8zM135.1 703.38H138.0V704.69H135.1zM143.6 703.38H146.4V704.69H143.6zM149.2 703.38H152.0V704.69H149.2zM154.8 703.38H157.6V704.69H154.8zM34.1 702.06H36.9V703.38H34.1zM50.9 702.06H53.7V703.38H50.9zM65.0 702.06H67.8V703.38H65.0zM70.6 702.06H73.4V703.38H70.6zM79.0 702.06H81.8V703.38H79.0zM95.8 702.06H98.7V703.38H95.8zM104.3 702.06H107.1V703.38H104.3zM42.5 700.75H45.3V702.06H42.5zM53.7 700.75H65.0V702.06H53.7zM67.8 700.75H73.4V702.06H67.8zM98.7 700.75H101.5V702.06H98.7zM118.3 700.75H121.1V702.06H118.3zM149.2 700.75H154.8V702.06H149.2zM166.0 700.75H168.8V702.06H166.0zM31.3 699.44H34.1V700.75H31.3zM59.3 699.44H67.8V700.75H59.3zM73.4 699.44H76.2V700.75H73.4zM84.6 699.44H87.4V700.75H84.6zM101.5 699.44H109.9V700.75H101.5zM143.6 699.44H149.2V700.75H143.6zM56.5 698.12H62.1V699.44H56.5zM79.0 698.12H81.8V699.44H79.0zM123.9 698.12H126.7V699.44H123.9zM129.5 698.12H132.3V699.44H129.5zM84.6 696.81H87.4V698.12H84.6zM90.2 696.81H93.0V698.12H90.2zM95.8 696.81H98.7V698.12H95.8zM135.1 696.81H138.0V698.12H135.1zM149.2 696.81H152.0V698.12H149.2zM160.4 696.81H163.2V698.12H160.4zM28.5 695.50H31.3V696.81H28.5zM42.5 695.50H45.3V696.81H42.5zM59.3 695.50H62.1V696.81H59.3zM73.4 695.50H84.6V696.81H73.4zM95.8 695.50H98.7V696.81H95.8zM101.5 695.50H104.3V696.81H101.5zM121.1 695.50H123.9V696.81H121.1zM143.6 695.50H146.4V696.81H143.6zM34.1 694.19H36.9V695.50H34.1zM45.3 694.19H48.1V695.50H45.3zM56.5 694.19H59.3V695.50H56.5zM70.6 694.19H73.4V695.50H70.6zM84.6 694.19H90.2V695.50H84.6zM107.1 694.19H109.9V695.50H107.1zM132.3 694.19H135.1V695.50H132.3zM146.4 694.19H149.2V695.50H146.4zM31.3 692.88H36.9V694.19H31.3zM42.5 692.88H48.1V694.19H42.5zM53.7 692.88H59.3V694.19H53.7zM67.8 692.88H70.6V694.19H67.8zM76.2 692.88H79.0V694.19H76.2zM115.5 692.88H118.3V694.19H115.5zM129.5 692.88H132.3V694.19H129.5zM146.4 692.88H152.0V694.19H146.4zM154.8 692.88H160.4V694.19H154.8zM168.8 692.88H171.7V694.19H168.8zM45.3 691.56H48.1V692.88H45.3zM50.9 691.56H56.5V692.88H50.9zM118.3 691.56H121.1V692.88H118.3zM126.7 691.56H129.5V692.88H126.7zM132.3 691.56H140.8V692.88H132.3zM143.6 691.56H146.4V692.88H143.6zM166.0 691.56H168.8V692.88H166.0zM36.9 690.25H39.7V691.56H36.9zM65.0 690.25H67.8V691.56H65.0zM73.4 690.25H76.2V691.56H73.4zM93.0 690.25H95.8V691.56H93.0zM118.3 690.25H121.1V691.56H118.3zM132.3 690.25H138.0V691.56H132.3zM42.5 688.94H45.3V690.25H42.5zM48.1 688.94H50.9V690.25H48.1zM59.3 688.94H62.1V690.25H59.3zM73.4 688.94H76.2V690.25H73.4zM90.2 688.94H93.0V690.25H90.2zM98.7 688.94H101.5V690.25H98.7zM109.9 688.94H112.7V690.25H109.9zM126.7 688.94H132.3V690.25H126.7zM149.2 688.94H154.8V690.25H149.2zM42.5 687.62H48.1V688.94H42.5zM87.4 687.62H90.2V688.94H87.4zM107.1 687.62H109.9V688.94H107.1zM118.3 687.62H126.7V688.94H118.3zM132.3 687.62H138.0V688.94H132.3zM154.8 687.62H157.6V688.94H154.8zM160.4 687.62H163.2V688.94H160.4zM48.1 686.31H50.9V687.62H48.1zM76.2 686.31H79.0V687.62H76.2zM84.6 686.31H90.2V687.62H84.6zM98.7 686.31H101.5V687.62H98.7zM107.1 686.31H109.9V687.62H107.1zM126.7 686.31H129.5V687.62H126.7zM160.4 686.31H163.2V687.62H160.4zM34.1 685.00H36.9V686.31H34.1zM50.9 685.00H53.7V686.31H50.9zM59.3 685.00H62.1V686.31H59.3zM65.0 685.00H76.2V686.31H65.0zM87.4 685.00H90.2V686.31H87.4zM126.7 685.00H129.5V686.31H126.7zM138.0 685.00H140.8V686.31H138.0zM168.8 685.00H171.7V686.31H168.8zM36.9 683.69H39.7V685.00H36.9zM70.6 683.69H73.4V685.00H70.6zM76.2 683.69H79.0V685.00H76.2zM95.8 683.69H104.3V685.00H95.8zM143.6 683.69H146.4V685.00H143.6zM152.0 683.69H154.8V685.00H152.0zM157.6 683.69H163.2V685.00H157.6zM28.5 682.38H31.3V683.69H28.5zM45.3 682.38H48.1V683.69H45.3zM107.1 682.38H109.9V683.69H107.1zM129.5 682.38H132.3V683.69H129.5zM146.4 682.38H149.2V683.69H146.4zM154.8 682.38H160.4V683.69H154.8zM48.1 681.06H53.7V682.38H48.1zM62.1 681.06H65.0V682.38H62.1zM90.2 681.06H93.0V682.38H90.2zM143.6 681.06H146.4V682.38H143.6zM149.2 681.06H154.8V682.38H149.2zM157.6 681.06H163.2V682.38H157.6zM42.5 679.75H45.3V681.06H42.5zM48.1 679.75H50.9V681.06H48.1zM62.1 679.75H65.0V681.06H62.1zM87.4 679.75H95.8V681.06H87.4zM107.1 679.75H109.9V681.06H107.1zM112.7 679.75H115.5V681.06H112.7zM129.5 679.75H132.3V681.06H129.5zM135.1 679.75H138.0V681.06H135.1zM140.8 679.75H143.6V681.06H140.8zM34.1 678.44H39.7V679.75H34.1zM48.1 678.44H50.9V679.75H48.1zM73.4 678.44H79.0V679.75H73.4zM101.5 678.44H107.1V679.75H101.5zM115.5 678.44H118.3V679.75H115.5zM121.1 678.44H123.9V679.75H121.1zM129.5 678.44H132.3V679.75H129.5zM67.8 677.12H70.6V678.44H67.8zM81.8 677.12H84.6V678.44H81.8zM90.2 677.12H93.0V678.44H90.2zM104.3 677.12H107.1V678.44H104.3zM115.5 677.12H118.3V678.44H115.5zM123.9 677.12H126.7V678.44H123.9zM129.5 677.12H132.3V678.44H129.5zM138.0 677.12H140.8V678.44H138.0zM39.7 675.81H45.3V677.12H39.7zM59.3 675.81H62.1V677.12H59.3zM65.0 675.81H67.8V677.12H65.0zM121.1 675.81H123.9V677.12H121.1zM129.5 675.81H132.3V677.12H129.5zM168.8 675.81H171.7V677.12H168.8zM53.7 674.50H59.3V675.81H53.7zM93.0 674.50H95.8V675.81H93.0zM98.7 674.50H101.5V675.81H98.7zM104.3 674.50H107.1V675.81H104.3zM123.9 674.50H129.5V675.81H123.9zM132.3 674.50H135.1V675.81H132.3zM160.4 674.50H163.2V675.81H160.4zM31.3 673.19H34.1V674.50H31.3zM50.9 673.19H53.7V674.50H50.9zM81.8 673.19H84.6V674.50H81.8zM93.0 673.19H95.8V674.50H93.0zM107.1 673.19H112.7V674.50H107.1zM115.5 673.19H118.3V674.50H115.5zM138.0 673.19H143.6V674.50H138.0zM166.0 673.19H168.8V674.50H166.0zM48.1 671.88H50.9V673.19H48.1zM70.6 671.88H79.0V673.19H70.6zM104.3 671.88H107.1V673.19H104.3zM112.7 671.88H115.5V673.19H112.7zM121.1 671.88H123.9V673.19H121.1zM132.3 671.88H135.1V673.19H132.3zM143.6 671.88H149.2V673.19H143.6zM157.6 671.88H163.2V673.19H157.6zM34.1 670.56H42.5V671.88H34.1zM56.5 670.56H59.3V671.88H56.5zM101.5 670.56H104.3V671.88H101.5zM109.9 670.56H112.7V671.88H109.9zM115.5 670.56H118.3V671.88H115.5zM123.9 670.56H126.7V671.88H123.9zM132.3 670.56H135.1V671.88H132.3zM143.6 670.56H146.4V671.88H143.6zM53.7 669.25H56.5V670.56H53.7zM81.8 669.25H84.6V670.56H81.8zM90.2 669.25H93.0V670.56H90.2zM121.1 669.25H123.9V670.56H121.1zM126.7 669.25H129.5V670.56H126.7zM138.0 669.25H140.8V670.56H138.0zM146.4 669.25H149.2V670.56H146.4zM31.3 667.94H34.1V669.25H31.3zM53.7 667.94H56.5V669.25H53.7zM67.8 667.94H70.6V669.25H67.8zM93.0 667.94H98.7V669.25H93.0zM123.9 667.94H126.7V669.25H123.9zM135.1 667.94H138.0V669.25H135.1zM157.6 667.94H160.4V669.25H157.6zM70.6 666.62H73.4V667.94H70.6zM95.8 666.62H98.7V667.94H95.8zM101.5 666.62H107.1V667.94H101.5zM132.3 666.62H135.1V667.94H132.3zM152.0 666.62H154.8V667.94H152.0zM166.0 666.62H168.8V667.94H166.0zM31.3 665.31H34.1V666.62H31.3zM39.7 665.31H42.5V666.62H39.7zM48.1 665.31H50.9V666.62H48.1zM81.8 665.31H90.2V666.62H81.8zM98.7 665.31H101.5V666.62H98.7zM107.1 665.31H109.9V666.62H107.1zM123.9 665.31H129.5V666.62H123.9zM149.2 665.31H152.0V666.62H149.2zM157.6 665.31H160.4V666.62H157.6zM163.2 665.31H166.0V666.62H163.2zM34.1 664.00H36.9V665.31H34.1zM42.5 664.00H48.1V665.31H42.5zM59.3 664.00H65.0V665.31H59.3zM67.8 664.00H70.6V665.31H67.8zM90.2 664.00H93.0V665.31H90.2zM98.7 664.00H101.5V665.31H98.7zM107.1 664.00H109.9V665.31H107.1zM154.8 664.00H157.6V665.31H154.8zM39.7 662.69H42.5V664.00H39.7zM67.8 662.69H70.6V664.00H67.8zM79.0 662.69H81.8V664.00H79.0zM107.1 662.69H109.9V664.00H107.1zM143.6 662.69H146.4V664.00H143.6zM157.6 662.69H160.4V664.00H157.6zM42.5 661.38H45.3V662.69H42.5zM65.0 661.38H67.8V662.69H65.0zM84.6 661.38H90.2V662.69H84.6zM98.7 661.38H101.5V662.69H98.7zM109.9 661.38H112.7V662.69H109.9zM146.4 661.38H149.2V662.69H146.4zM163.2 661.38H166.0V662.69H163.2zM168.8 661.38H171.7V662.69H168.8zM36.9 660.06H42.5V661.38H36.9zM56.5 660.06H59.3V661.38H56.5zM101.5 660.06H107.1V661.38H101.5zM109.9 660.06H115.5V661.38H109.9zM118.3 660.06H123.9V661.38H118.3zM135.1 660.06H138.0V661.38H135.1zM154.8 660.06H157.6V661.38H154.8zM163.2 660.06H166.0V661.38H163.2zM34.1 658.75H36.9V660.06H34.1zM56.5 658.75H59.3V660.06H56.5zM93.0 658.75H95.8V660.06H93.0zM123.9 658.75H126.7V660.06H123.9zM146.4 658.75H149.2V660.06H146.4zM157.6 658.75H160.4V660.06H157.6zM168.8 658.75H171.7V660.06H168.8zM42.5 657.44H45.3V658.75H42.5zM48.1 657.44H50.9V658.75H48.1zM76.2 657.44H79.0V658.75H76.2zM129.5 657.44H132.3V658.75H129.5zM138.0 657.44H143.6V658.75H138.0zM34.1 656.12H39.7V657.44H34.1zM50.9 656.12H53.7V657.44H50.9zM101.5 656.12H104.3V657.44H101.5zM118.3 656.12H121.1V657.44H118.3zM123.9 656.12H126.7V657.44H123.9zM143.6 656.12H146.4V657.44H143.6zM160.4 656.12H163.2V657.44H160.4zM168.8 656.12H171.7V657.44H168.8zM28.5 654.81H31.3V656.12H28.5zM50.9 654.81H53.7V656.12H50.9zM79.0 654.81H81.8V656.12H79.0zM87.4 654.81H90.2V656.12H87.4zM104.3 654.81H107.1V656.12H104.3zM109.9 654.81H112.7V656.12H109.9zM28.5 653.50H34.1V654.81H28.5zM36.9 653.50H39.7V654.81H36.9zM62.1 653.50H65.0V654.81H62.1zM73.4 653.50H76.2V654.81H73.4zM81.8 653.50H87.4V654.81H81.8zM93.0 653.50H98.7V654.81H93.0zM129.5 653.50H132.3V654.81H129.5zM135.1 653.50H140.8V654.81H135.1zM154.8 653.50H157.6V654.81H154.8zM160.4 653.50H163.2V654.81H160.4zM76.2 652.19H81.8V653.50H76.2zM93.0 652.19H95.8V653.50H93.0zM107.1 652.19H109.9V653.50H107.1zM112.7 652.19H115.5V653.50H112.7zM154.8 652.19H157.6V653.50H154.8zM168.8 652.19H171.7V653.50H168.8zM56.5 650.88H62.1V652.19H56.5zM70.6 650.88H73.4V652.19H70.6zM84.6 650.88H87.4V652.19H84.6zM98.7 650.88H101.5V652.19H98.7zM138.0 650.88H143.6V652.19H138.0zM50.9 649.56H53.7V650.88H50.9zM93.0 649.56H98.7V650.88H93.0zM104.3 649.56H107.1V650.88H104.3zM123.9 649.56H129.5V650.88H123.9zM163.2 649.56H166.0V650.88H163.2zM56.5 648.25H62.1V649.56H56.5zM76.2 648.25H79.0V649.56H76.2zM98.7 648.25H101.5V649.56H98.7zM104.3 648.25H109.9V649.56H104.3zM112.7 648.25H115.5V649.56H112.7zM34.1 646.94H36.9V648.25H34.1zM39.7 646.94H42.5V648.25H39.7zM53.7 646.94H56.5V648.25H53.7zM79.0 646.94H81.8V648.25H79.0zM101.5 646.94H104.3V648.25H101.5zM107.1 646.94H109.9V648.25H107.1zM149.2 646.94H152.0V648.25H149.2zM160.4 646.94H163.2V648.25H160.4zM34.1 645.62H36.9V646.94H34.1zM67.8 645.62H70.6V646.94H67.8zM79.0 645.62H81.8V646.94H79.0zM121.1 645.62H123.9V646.94H121.1zM126.7 645.62H129.5V646.94H126.7zM135.1 645.62H143.6V646.94H135.1zM154.8 645.62H157.6V646.94H154.8zM160.4 645.62H163.2V646.94H160.4zM166.0 645.62H168.8V646.94H166.0zM34.1 644.31H36.9V645.62H34.1zM39.7 644.31H42.5V645.62H39.7zM56.5 644.31H59.3V645.62H56.5zM67.8 644.31H70.6V645.62H67.8zM101.5 644.31H104.3V645.62H101.5zM112.7 644.31H118.3V645.62H112.7zM138.0 644.31H143.6V645.62H138.0zM154.8 644.31H157.6V645.62H154.8zM160.4 644.31H163.2V645.62H160.4zM166.0 644.31H168.8V645.62H166.0zM48.1 643.00H50.9V644.31H48.1zM62.1 643.00H65.0V644.31H62.1zM73.4 643.00H76.2V644.31H73.4zM93.0 643.00H95.8V644.31H93.0zM112.7 643.00H115.5V644.31H112.7zM160.4 643.00H163.2V644.31H160.4zM62.1 641.69H65.0V643.00H62.1zM67.8 641.69H73.4V643.00H67.8zM101.5 641.69H104.3V643.00H101.5zM115.5 641.69H118.3V643.00H115.5zM123.9 641.69H126.7V643.00H123.9zM31.3 640.38H36.9V641.69H31.3zM70.6 640.38H76.2V641.69H70.6zM93.0 640.38H98.7V641.69H93.0zM101.5 640.38H104.3V641.69H101.5zM107.1 640.38H121.1V641.69H107.1zM157.6 640.38H160.4V641.69H157.6zM163.2 640.38H166.0V641.69H163.2zM168.8 640.38H171.7V641.69H168.8zM31.3 639.06H34.1V640.38H31.3zM45.3 639.06H50.9V640.38H45.3zM76.2 639.06H79.0V640.38H76.2zM90.2 639.06H93.0V640.38H90.2zM104.3 639.06H107.1V640.38H104.3zM109.9 639.06H112.7V640.38H109.9zM129.5 639.06H132.3V640.38H129.5zM135.1 639.06H138.0V640.38H135.1zM149.2 639.06H154.8V640.38H149.2zM28.5 637.75H31.3V639.06H28.5zM53.7 637.75H56.5V639.06H53.7zM81.8 637.75H84.6V639.06H81.8zM104.3 637.75H107.1V639.06H104.3zM118.3 637.75H123.9V639.06H118.3zM126.7 637.75H129.5V639.06H126.7zM149.2 637.75H152.0V639.06H149.2zM154.8 637.75H157.6V639.06H154.8zM28.5 636.44H36.9V637.75H28.5zM39.7 636.44H42.5V637.75H39.7zM50.9 636.44H56.5V637.75H50.9zM65.0 636.44H73.4V637.75H65.0zM104.3 636.44H107.1V637.75H104.3zM115.5 636.44H118.3V637.75H115.5zM152.0 636.44H157.6V637.75H152.0zM36.9 635.12H39.7V636.44H36.9zM53.7 635.12H56.5V636.44H53.7zM67.8 635.12H73.4V636.44H67.8zM93.0 635.12H95.8V636.44H93.0zM101.5 635.12H104.3V636.44H101.5zM107.1 635.12H109.9V636.44H107.1zM135.1 635.12H138.0V636.44H135.1zM146.4 635.12H149.2V636.44H146.4zM42.5 633.81H45.3V635.12H42.5zM67.8 633.81H70.6V635.12H67.8zM76.2 633.81H79.0V635.12H76.2zM93.0 633.81H95.8V635.12H93.0zM109.9 633.81H112.7V635.12H109.9zM115.5 633.81H118.3V635.12H115.5zM121.1 633.81H123.9V635.12H121.1zM39.7 632.50H42.5V633.81H39.7zM45.3 632.50H48.1V633.81H45.3zM62.1 632.50H65.0V633.81H62.1zM87.4 632.50H90.2V633.81H87.4zM115.5 632.50H118.3V633.81H115.5zM121.1 632.50H123.9V633.81H121.1zM146.4 632.50H149.2V633.81H146.4zM67.8 631.19H70.6V632.50H67.8zM79.0 631.19H84.6V632.50H79.0zM121.1 631.19H123.9V632.50H121.1zM135.1 631.19H138.0V632.50H135.1zM140.8 631.19H143.6V632.50H140.8zM56.5 629.88H59.3V631.19H56.5zM115.5 629.88H118.3V631.19H115.5zM138.0 629.88H140.8V631.19H138.0zM146.4 629.88H154.8V631.19H146.4zM31.3 628.56H34.1V629.88H31.3zM50.9 628.56H53.7V629.88H50.9zM56.5 628.56H59.3V629.88H56.5zM73.4 628.56H76.2V629.88H73.4zM81.8 628.56H84.6V629.88H81.8zM98.7 628.56H101.5V629.88H98.7zM34.1 627.25H36.9V628.56H34.1zM50.9 627.25H53.7V628.56H50.9zM73.4 627.25H79.0V628.56H73.4zM90.2 627.25H93.0V628.56H90.2zM149.2 627.25H154.8V628.56H149.2zM34.1 625.94H36.9V627.25H34.1zM48.1 625.94H50.9V627.25H48.1zM65.0 625.94H67.8V627.25H65.0zM87.4 625.94H90.2V627.25H87.4zM104.3 625.94H107.1V627.25H104.3zM109.9 625.94H112.7V627.25H109.9zM115.5 625.94H118.3V627.25H115.5zM123.9 625.94H129.5V627.25H123.9zM28.5 624.62H31.3V625.94H28.5zM36.9 624.62H39.7V625.94H36.9zM115.5 624.62H118.3V625.94H115.5zM140.8 624.62H146.4V625.94H140.8zM154.8 624.62H157.6V625.94H154.8zM45.3 623.31H48.1V624.62H45.3zM50.9 623.31H53.7V624.62H50.9zM67.8 623.31H70.6V624.62H67.8zM79.0 623.31H87.4V624.62H79.0zM90.2 623.31H93.0V624.62H90.2zM135.1 623.31H138.0V624.62H135.1zM166.0 623.31H168.8V624.62H166.0zM84.6 622.00H87.4V623.31H84.6zM157.6 622.00H160.4V623.31H157.6z"/>
<path fill="#ff7700" shape-rendering="crispEdges" d="M135.1 725.69H138.0V727.00H135.1zM152.0 725.69H157.6V727.00H152.0zM166.0 725.69H168.8V727.00H166.0zM104.3 724.38H107.1V725.69H104.3zM34.1 723.06H36.9V724.38H34.1zM62.1 723.06H65.0V724.38H62.1zM112.7 723.06H115.5V724.38H112.7zM123.9 723.06H132.3V724.38H123.9zM154.8 723.06H157.6V724.38H154.8zM166.0 721.75H168.8V723.06H166.0zM154.8 720.44H157.6V721.75H154.8zM163.2 720.44H166.0V721.75H163.2zM154.8 719.12H157.6V720.44H154.8zM28.5 716.50H31.3V717.81H28.5zM115.5 716.50H118.3V717.81H115.5zM79.0 715.19H81.8V716.50H79.0zM126.7 715.19H129.5V716.50H126.7zM149.2 713.88H152.0V715.19H149.2zM166.0 713.88H168.8V715.19H166.0zM101.5 712.56H104.3V713.88H101.5zM109.9 711.25H112.7V712.56H109.9zM166.0 711.25H168.8V712.56H166.0zM132.3 709.94H135.1V711.25H132.3zM154.8 708.62H157.6V709.94H154.8zM129.5 707.31H132.3V708.62H129.5zM70.6 706.00H73.4V707.31H70.6zM76.2 706.00H79.0V707.31H76.2zM154.8 706.00H157.6V707.31H154.8zM62.1 704.69H65.0V706.00H62.1zM135.1 704.69H138.0V706.00H135.1zM152.0 704.69H154.8V706.00H152.0zM138.0 702.06H140.8V703.38H138.0zM143.6 702.06H146.4V703.38H143.6zM149.2 702.06H152.0V703.38H149.2zM157.6 702.06H163.2V703.38H157.6zM154.8 700.75H157.6V702.06H154.8zM160.4 700.75H163.2V702.06H160.4zM121.1 699.44H123.9V700.75H121.1zM129.5 699.44H132.3V700.75H129.5zM163.2 699.44H166.0V700.75H163.2zM109.9 696.81H112.7V698.12H109.9zM126.7 696.81H132.3V698.12H126.7zM138.0 696.81H140.8V698.12H138.0zM109.9 695.50H112.7V696.81H109.9zM135.1 695.50H138.0V696.81H135.1zM154.8 695.50H157.6V696.81H154.8zM160.4 695.50H163.2V696.81H160.4zM53.7 694.19H56.5V695.50H53.7zM126.7 694.19H129.5V695.50H126.7zM98.7 692.88H101.5V694.19H98.7zM152.0 692.88H154.8V694.19H152.0zM81.8 691.56H84.6V692.88H81.8zM107.1 691.56H109.9V692.88H107.1zM121.1 691.56H123.9V692.88H121.1zM146.4 691.56H149.2V692.88H146.4zM163.2 691.56H166.0V692.88H163.2zM146.4 690.25H152.0V691.56H146.4zM50.9 688.94H53.7V690.25H50.9zM84.6 687.62H87.4V688.94H84.6zM166.0 687.62H168.8V688.94H166.0zM146.4 686.31H154.8V687.62H146.4zM98.7 685.00H101.5V686.31H98.7zM123.9 685.00H126.7V686.31H123.9zM154.8 685.00H157.6V686.31H154.8zM166.0 685.00H168.8V686.31H166.0zM118.3 683.69H121.1V685.00H118.3zM129.5 683.69H132.3V685.00H129.5zM138.0 683.69H140.8V685.00H138.0zM146.4 683.69H149.2V685.00H146.4zM39.7 682.38H42.5V683.69H39.7zM104.3 681.06H107.1V682.38H104.3zM132.3 681.06H135.1V682.38H132.3zM140.8 681.06H143.6V682.38H140.8zM138.0 679.75H140.8V681.06H138.0zM123.9 678.44H126.7V679.75H123.9zM132.3 677.12H135.1V678.44H132.3zM157.6 677.12H160.4V678.44H157.6zM126.7 675.81H129.5V677.12H126.7zM135.1 675.81H138.0V677.12H135.1zM166.0 674.50H168.8V675.81H166.0zM160.4 673.19H163.2V674.50H160.4zM152.0 670.56H154.8V671.88H152.0zM157.6 670.56H160.4V671.88H157.6zM107.1 669.25H109.9V670.56H107.1zM129.5 669.25H132.3V670.56H129.5zM154.8 669.25H157.6V670.56H154.8zM163.2 669.25H166.0V670.56H163.2zM109.9 667.94H112.7V669.25H109.9zM152.0 667.94H154.8V669.25H152.0zM166.0 667.94H168.8V669.25H166.0zM123.9 666.62H126.7V667.94H123.9zM163.2 666.62H166.0V667.94H163.2zM34.1 665.31H36.9V666.62H34.1zM129.5 665.31H132.3V666.62H129.5zM140.8 665.31H143.6V666.62H140.8zM109.9 664.00H112.7V665.31H109.9zM93.0 662.69H95.8V664.00H93.0zM118.3 662.69H123.9V664.00H118.3zM112.7 661.38H115.5V662.69H112.7zM126.7 661.38H129.5V662.69H126.7zM143.6 661.38H146.4V662.69H143.6zM115.5 660.06H118.3V661.38H115.5zM132.3 660.06H135.1V661.38H132.3zM76.2 658.75H79.0V660.06H76.2zM101.5 658.75H107.1V660.06H101.5zM149.2 658.75H152.0V660.06H149.2zM132.3 656.12H135.1V657.44H132.3zM138.0 656.12H143.6V657.44H138.0zM123.9 653.50H126.7V654.81H123.9zM163.2 653.50H168.8V654.81H163.2zM84.6 652.19H87.4V653.50H84.6zM121.1 652.19H123.9V653.50H121.1zM146.4 652.19H149.2V653.50H146.4zM157.6 652.19H160.4V653.50H157.6zM109.9 650.88H112.7V652.19H109.9zM118.3 650.88H123.9V652.19H118.3zM143.6 650.88H149.2V652.19H143.6zM112.7 649.56H115.5V650.88H112.7zM149.2 649.56H152.0V650.88H149.2zM81.8 648.25H84.6V649.56H81.8zM87.4 648.25H90.2V649.56H87.4zM123.9 648.25H126.7V649.56H123.9zM154.8 648.25H157.6V649.56H154.8zM81.8 646.94H87.4V648.25H81.8zM123.9 646.94H126.7V648.25H123.9zM143.6 645.62H146.4V646.94H143.6zM152.0 644.31H154.8V645.62H152.0zM42.5 643.00H45.3V644.31H42.5zM70.6 643.00H73.4V644.31H70.6zM115.5 643.00H118.3V644.31H115.5zM146.4 643.00H149.2V644.31H146.4zM154.8 643.00H160.4V644.31H154.8zM166.0 643.00H168.8V644.31H166.0zM146.4 641.69H149.2V643.00H146.4zM56.5 640.38H59.3V641.69H56.5zM90.2 640.38H93.0V641.69H90.2zM123.9 640.38H126.7V641.69H123.9zM135.1 640.38H138.0V641.69H135.1zM126.7 639.06H129.5V640.38H126.7zM138.0 639.06H140.8V640.38H138.0zM163.2 639.06H166.0V640.38H163.2zM115.5 637.75H118.3V639.06H115.5zM152.0 637.75H154.8V639.06H152.0zM149.2 636.44H152.0V637.75H149.2zM87.4 633.81H90.2V635.12H87.4zM126.7 633.81H129.5V635.12H126.7zM138.0 633.81H140.8V635.12H138.0zM146.4 633.81H149.2V635.12H146.4zM163.2 633.81H166.0V635.12H163.2zM135.1 632.50H138.0V633.81H135.1zM157.6 632.50H163.2V633.81H157.6zM166.0 632.50H168.8V633.81H166.0zM107.1 631.19H109.9V632.50H107.1zM146.4 631.19H149.2V632.50H146.4zM31.3 629.88H34.1V631.19H31.3zM157.6 629.88H160.4V631.19H157.6zM109.9 628.56H112.7V629.88H109.9zM93.0 627.25H95.8V628.56H93.0zM84.6 625.94H87.4V627.25H84.6zM98.7 625.94H101.5V627.25H98.7zM129.5 625.94H135.1V627.25H129.5zM152.0 625.94H154.8V627.25H152.0zM95.8 624.62H98.7V625.94H95.8zM121.1 624.62H123.9V625.94H121.1zM140.8 623.31H146.4V624.62H140.8z"/>
<path fill="#00fffc" shape-rendering="crispEdges" d="M25.6 724.38H28.5V725.69H25.6zM59.3 717.81H62.1V719.12H59.3zM25.6 708.62H28.5V709.94H25.6zM25.6 702.06H28.5V703.38H25.6zM25.6 692.88H28.5V694.19H25.6zM25.6 665.31H28.5V666.62H25.6zM39.7 631.19H42.5V632.50H39.7zM25.6 629.88H28.5V631.19H25.6zM59.3 624.62H62.1V625.94H59.3zM28.5 622.00H31.3V623.31H28.5zM56.5 622.00H59.3V623.31H56.5z"/>
<path fill="#00ffcc" shape-rendering="crispEdges" d="M70.6 724.38H73.4V725.69H70.6zM168.8 715.19H171.7V716.50H168.8zM34.1 708.62H36.9V709.94H34.1zM79.0 706.00H81.8V707.31H79.0zM25.6 704.69H28.5V706.00H25.6zM25.6 699.44H28.5V700.75H25.6zM168.8 698.12H171.7V699.44H168.8zM25.6 690.25H28.5V691.56H25.6zM76.2 687.62H79.0V688.94H76.2zM25.6 679.75H28.5V681.06H25.6zM90.2 675.81H93.0V677.12H90.2zM25.6 673.19H28.5V674.50H25.6zM25.6 667.94H28.5V669.25H25.6zM59.3 666.62H62.1V667.94H59.3zM25.6 660.06H28.5V661.38H25.6zM25.6 654.81H28.5V656.12H25.6zM25.6 652.19H28.5V653.50H25.6zM25.6 646.94H28.5V648.25H25.6zM25.6 643.00H28.5V644.31H25.6zM25.6 640.38H28.5V641.69H25.6zM65.0 637.75H67.8V639.06H65.0zM168.8 637.75H171.7V639.06H168.8zM76.2 636.44H79.0V637.75H76.2zM25.6 632.50H28.5V633.81H25.6zM31.3 622.00H34.1V623.31H31.3zM45.3 622.00H53.7V623.31H45.3z"/>
<path fill="#00ff85" shape-rendering="crispEdges" d="M53.7 723.06H56.5V724.38H53.7zM84.6 721.75H87.4V723.06H84.6zM25.6 720.44H28.5V721.75H25.6zM104.3 719.12H107.1V720.44H104.3zM25.6 716.50H28.5V717.81H25.6zM34.1 711.25H36.9V712.56H34.1zM81.8 711.25H84.6V712.56H81.8zM25.6 709.94H28.5V711.25H25.6zM98.7 708.62H101.5V709.94H98.7zM50.9 699.44H53.7V700.75H50.9zM25.6 698.12H28.5V699.44H25.6zM168.8 696.81H171.7V698.12H168.8zM67.8 691.56H70.6V692.88H67.8zM48.1 690.25H50.9V691.56H48.1zM25.6 687.62H28.5V688.94H25.6zM50.9 687.62H53.7V688.94H50.9zM95.8 687.62H98.7V688.94H95.8zM25.6 683.69H28.5V685.00H25.6zM25.6 682.38H28.5V683.69H25.6zM36.9 682.38H39.7V683.69H36.9zM25.6 671.88H28.5V673.19H25.6zM168.8 670.56H171.7V671.88H168.8zM62.1 669.25H65.0V670.56H62.1zM73.4 665.31H76.2V666.62H73.4zM28.5 664.00H31.3V665.31H28.5zM135.1 661.38H138.0V662.69H135.1zM53.7 658.75H56.5V660.06H53.7zM25.6 657.44H28.5V658.75H25.6zM53.7 657.44H56.5V658.75H53.7zM62.1 657.44H65.0V658.75H62.1zM79.0 657.44H81.8V658.75H79.0zM45.3 654.81H48.1V656.12H45.3zM48.1 653.50H50.9V654.81H48.1zM45.3 649.56H48.1V650.88H45.3zM31.3 648.25H34.1V649.56H31.3zM65.0 646.94H67.8V648.25H65.0zM118.3 645.62H121.1V646.94H118.3zM36.9 644.31H39.7V645.62H36.9zM50.9 639.06H53.7V640.38H50.9zM81.8 639.06H84.6V640.38H81.8zM59.3 636.44H62.1V637.75H59.3zM42.5 635.12H45.3V636.44H42.5zM36.9 633.81H39.7V635.12H36.9zM25.6 628.56H28.5V629.88H25.6zM163.2 627.25H166.0V628.56H163.2zM59.3 622.00H62.1V623.31H59.3zM73.4 622.00H76.2V623.31H73.4zM95.8 622.00H98.7V623.31H95.8zM115.5 622.00H118.3V623.31H115.5zM129.5 622.00H132.3V623.31H129.5z"/>
<path fill="#ff3000" shape-rendering="crispEdges" d="M115.5 723.06H118.3V724.38H115.5zM146.4 711.25H149.2V712.56H146.4zM62.1 706.00H65.0V707.31H62.1zM135.1 706.00H138.0V707.31H135.1zM152.0 706.00H154.8V707.31H152.0zM157.6 706.00H160.4V707.31H157.6zM129.5 704.69H132.3V706.00H129.5zM163.2 704.69H166.0V706.00H163.2zM146.4 698.12H149.2V699.44H146.4zM79.0 694.19H81.8V695.50H79.0zM152.0 694.19H154.8V695.50H152.0zM132.3 683.69H135.1V685.00H132.3zM138.0 682.38H140.8V683.69H138.0zM87.4 681.06H90.2V682.38H87.4zM107.1 681.06H109.9V682.38H107.1zM146.4 681.06H149.2V682.38H146.4zM140.8 678.44H143.6V679.75H140.8zM95.8 675.81H98.7V677.12H95.8zM146.4 674.50H149.2V675.81H146.4zM115.5 671.88H118.3V673.19H115.5zM160.4 670.56H163.2V671.88H160.4zM166.0 670.56H168.8V671.88H166.0zM126.7 664.00H129.5V665.31H126.7zM160.4 661.38H163.2V662.69H160.4zM107.1 658.75H109.9V660.06H107.1zM98.7 657.44H101.5V658.75H98.7zM143.6 657.44H146.4V658.75H143.6zM163.2 657.44H166.0V658.75H163.2zM98.7 654.81H101.5V656.12H98.7zM129.5 649.56H132.3V650.88H129.5zM143.6 648.25H146.4V649.56H143.6zM135.1 646.94H138.0V648.25H135.1zM166.0 646.94H168.8V648.25H166.0zM149.2 644.31H152.0V645.62H149.2zM152.0 643.00H154.8V644.31H152.0zM104.3 641.69H107.1V643.00H104.3zM157.6 641.69H160.4V643.00H157.6zM126.7 640.38H129.5V641.69H126.7zM140.8 640.38H143.6V641.69H140.8zM132.3 636.44H135.1V637.75H132.3zM140.8 632.50H143.6V633.81H140.8zM152.0 632.50H157.6V633.81H152.0zM143.6 631.19H146.4V632.50H143.6zM140.8 629.88H143.6V631.19H140.8zM157.6 628.56H160.4V629.88H157.6zM95.8 627.25H98.7V628.56H95.8zM138.0 625.94H140.8V627.25H138.0zM126.7 624.62H129.5V625.94H126.7zM138.0 624.62H140.8V625.94H138.0zM157.6 623.31H160.4V624.62H157.6z"/>
<path fill="#ff0000" shape-rendering="crispEdges" d="M140.8 719.12H143.6V720.44H140.8zM163.2 719.12H166.0V720.44H163.2zM138.0 717.81H140.8V719.12H138.0zM157.6 712.56H160.4V713.88H157.6zM152.0 707.31H154.8V708.62H152.0zM115.5 706.00H118.3V707.31H115.5zM115.5 702.06H118.3V703.38H115.5zM154.8 702.06H157.6V703.38H154.8zM157.6 699.44H160.4V700.75H157.6zM166.0 699.44H168.8V700.75H166.0zM163.2 679.75H166.0V681.06H163.2zM163.2 677.12H166.0V678.44H163.2zM104.3 673.19H107.1V674.50H104.3zM154.8 658.75H157.6V660.06H154.8zM56.5 641.69H59.3V643.00H56.5zM166.0 633.81H168.8V635.12H166.0zM87.4 631.19H90.2V632.50H87.4zM166.0 628.56H168.8V629.88H166.0zM109.9 627.25H112.7V628.56H109.9z"/>
<path fill="#00bbff" shape-rendering="crispEdges" d="M25.6 645.62H28.5V646.94H25.6zM25.6 622.00H28.5V623.31H25.6z"/>
<rect x="172" y="721.75" width="8" height="5.25" fill="#6300ff" shape-rendering="crispEdges"/>
<rect x="172" y="716.50" width="8" height="5.25" fill="#3300ff" shape-rendering="crispEdges"/>
<rect x="172" y="711.25" width="8" height="5.25" fill="#0014ff" shape-rendering="crispEdges"/>
<rect x="172" y="706.00" width="8" height="5.25" fill="#0044ff" shape-rendering="crispEdges"/>
<rect x="172" y="700.75" width="8" height="5.25" fill="#008bff" shape-rendering="crispEdges"/>
<rect x="172" y="695.50" width="8" height="5.25" fill="#00bbff" shape-rendering="crispEdges"/>
<rect x="172" y="690.25" width="8" height="5.25" fill="#00fffc" shape-rendering="crispEdges"/>
<rect x="172" y="685.00" width="8" height="5.25" fill="#00ffcc" shape-rendering="crispEdges"/>
<rect x="172" y="679.75" width="8" height="5.25" fill="#00ff85" shape-rendering="crispEdges"/>
<rect x="172" y="674.50" width="8" height="5.25" fill="#00ff55" shape-rendering="crispEdges"/>
<rect x="172" y="669.25" width="8" height="5.25" fill="#00ff0e" shape-rendering="crispEdges"/>
<rect x="172" y="664.00" width="8" height="5.25" fill="#22ff00" shape-rendering="crispEdges"/>
<rect x="172" y="658.75" width="8" height="5.25" fill="#69ff00" shape-rendering="crispEdges"/>
<rect x="172" y="653.50" width="8" height="5.25" fill="#99ff00" shape-rendering="crispEdges"/>
<rect x="172" y="648.25" width="8" height="5.25" fill="#e0ff00" shape-rendering="crispEdges"/>
<rect x="172" y="643.00" width="8" height="5.25" fill="#ffee00" shape-rendering="crispEdges"/>
<rect x="172" y="637.75" width="8" height="5.25" fill="#ffa700" shape-rendering="crispEdges"/>
<rect x="172" y="632.50" width="8" height="5.25" fill="#ff7700" shape-rendering="crispEdges"/>
<rect x="172" y="627.25" width="8" height="5.25" fill="#ff3000" shape-rendering="crispEdges"/>
<rect x="172" y="622.00" width="8" height="5.25" fill="#ff0000" shape-rendering="crispEdges"/>
<rect x="180" y="622" width="1" height="106" fill="#000"/>
<rect x="176" y="727" width="4" height="1" fill="#000"/>
<text x="181.20" y="729.00" font-size="4.6" text-anchor="start" fill="#000" font-weight="bold" font-family="Liberation Sans, sans-serif">0</text>
<rect x="176" y="713" width="4" height="1" fill="#000"/>
<text x="181.20" y="715.00" font-size="4.6" text-anchor="start" fill="#000" font-weight="bold" font-family="Liberation Sans, sans-serif">2</text>
<rect x="176" y="700" width="4" height="1" fill="#000"/>
<text x="181.20" y="702.00" font-size="4.6" text-anchor="start" fill="#000" font-weight="bold" font-family="Liberation Sans, sans-serif">4</text>
<rect x="176" y="687" width="4" height="1" fill="#000"/>
<text x="181.20" y="689.00" font-size="4.6" text-anchor="start" fill="#000" font-weight="bold" font-family="Liberation Sans, sans-serif">6</text>
<rect x="176" y="674" width="4" height="1" fill="#000"/>
<text x="181.20" y="676.00" font-size="4.6" text-anchor="start" fill="#000" font-weight="bold" font-family="Liberation Sans, sans-serif">8</text>
<rect x="176" y="661" width="4" height="1" fill="#000"/>
<text x="181.20" y="663.00" font-size="4.6" text-anchor="start" fill="#000" font-weight="bold" font-family="Liberation Sans, sans-serif">10</text>
<rect x="176" y="648" width="4" height="1" fill="#000"/>
<text x="181.20" y="650.00" font-size="4.6" text-anchor="start" fill="#000" font-weight="bold" font-family="Liberation Sans, sans-serif">12</text>
<rect x="176" y="635" width="4" height="1" fill="#000"/>
<text x="181.20" y="637.00" font-size="4.6" text-anchor="start" fill="#000" font-weight="bold" font-family="Liberation Sans, sans-serif">14</text>
<rect x="176" y="622" width="4" height="1" fill="#000"/>
<text x="181.20" y="624.00" font-size="4.6" text-anchor="start" fill="#000" font-weight="bold" font-family="Liberation Sans, sans-serif">16</text>
<rect x="25" y="622" width="1" height="106" fill="#000"/>
<rect x="25" y="727" width="147" height="1" fill="#000"/>
<rect x="171" y="622" width="1" height="106" fill="#000"/>
<rect x="25" y="723" width="1" height="4" fill="#000"/>
<text x="25.10" y="735.80" font-size="10" text-anchor="middle" fill="#000">0</text>
<rect x="53" y="723" width="1" height="4" fill="#000"/>
<text x="53.10" y="735.80" font-size="10" text-anchor="middle" fill="#000">10</text>
<rect x="81" y="723" width="1" height="4" fill="#000"/>
<text x="81.10" y="735.80" font-size="10" text-anchor="middle" fill="#000">20</text>
<rect x="109" y="723" width="1" height="4" fill="#000"/>
<text x="109.10" y="735.80" font-size="10" text-anchor="middle" fill="#000">30</text>
<rect x="137" y="723" width="1" height="4" fill="#000"/>
<text x="137.10" y="735.80" font-size="10" text-anchor="middle" fill="#000">40</text>
<rect x="166" y="723" width="1" height="4" fill="#000"/>
<text x="166.10" y="735.80" font-size="10" text-anchor="middle" fill="#000">50</text>
<rect x="26" y="727" width="4" height="1" fill="#000"/>
<text x="24.00" y="730.80" font-size="10" text-anchor="end" fill="#000">0</text>
<rect x="26" y="713" width="4" height="1" fill="#000"/>
<text x="24.00" y="716.80" font-size="10" text-anchor="end" fill="#000">10</text>
<rect x="26" y="700" width="4" height="1" fill="#000"/>
<text x="24.00" y="703.80" font-size="10" text-anchor="end" fill="#000">20</text>
<rect x="26" y="687" width="4" height="1" fill="#000"/>
<text x="24.00" y="690.80" font-size="10" text-anchor="end" fill="#000">30</text>
<rect x="26" y="674" width="4" height="1" fill="#000"/>
<text x="24.00" y="677.80" font-size="10" text-anchor="end" fill="#000">40</text>
<rect x="26" y="661" width="4" height="1" fill="#000"/>
<text x="24.00" y="664.80" font-size="10" text-anchor="end" fill="#000">50</text>
<rect x="26" y="648" width="4" height="1" fill="#000"/>
<text x="24.00" y="651.80" font-size="10" text-anchor="end" fill="#000">60</text>
<rect x="26" y="635" width="4" height="1" fill="#000"/>
<text x="24.00" y="638.80" font-size="10" text-anchor="end" fill="#000">70</text>
<rect x="26" y="622" width="4" height="1" fill="#000"/>
<text x="24.00" y="625.80" font-size="10" text-anchor="end" fill="#000">80</text>
<text x="25.30" y="618.70" font-size="10.95" text-anchor="start" fill="#000">Trim Bits</text>
<rect x="224" y="622" width="147" height="1" fill="#000"/>
<rect x="224" y="727" width="147" height="1" fill="#000"/>
<rect x="224" y="622" width="1" height="106" fill="#000"/>
<rect x="370" y="622" width="1" height="106" fill="#000"/>
<path fill="#000" shape-rendering="crispEdges" d="M220 631h9v1h-9zM224 627h1v9h-1zM225 632h1v1h-1zM225 630h1v1h-1zM223 632h1v1h-1zM223 630h1v1h-1zM226 633h1v1h-1zM226 629h1v1h-1zM222 633h1v1h-1zM222 629h1v1h-1zM227 634h1v1h-1zM227 628h1v1h-1zM221 634h1v1h-1zM221 628h1v1h-1zM239 644h9v1h-9zM243 640h1v9h-1zM244 645h1v1h-1zM244 643h1v1h-1zM242 645h1v1h-1zM242 643h1v1h-1zM245 646h1v1h-1zM245 642h1v1h-1zM241 646h1v1h-1zM241 642h1v1h-1zM246 647h1v1h-1zM246 641h1v1h-1zM240 647h1v1h-1zM240 641h1v1h-1zM258 664h9v1h-9zM262 660h1v9h-1zM263 665h1v1h-1zM263 663h1v1h-1zM261 665h1v1h-1zM261 663h1v1h-1zM264 666h1v1h-1zM264 662h1v1h-1zM260 666h1v1h-1zM260 662h1v1h-1zM265 667h1v1h-1zM265 661h1v1h-1zM259 667h1v1h-1zM259 661h1v1h-1zM277 690h9v1h-9zM281 686h1v9h-1zM282 691h1v1h-1zM282 689h1v1h-1zM280 691h1v1h-1zM280 689h1v1h-1zM283 692h1v1h-1zM283 688h1v1h-1zM279 692h1v1h-1zM279 688h1v1h-1zM284 693h1v1h-1zM284 687h1v1h-1zM278 693h1v1h-1zM278 687h1v1h-1zM296 720h9v1h-9zM300 716h1v9h-1zM301 721h1v1h-1zM301 719h1v1h-1zM299 721h1v1h-1zM299 719h1v1h-1zM302 722h1v1h-1zM302 718h1v1h-1zM298 722h1v1h-1zM298 718h1v1h-1zM303 723h1v1h-1zM303 717h1v1h-1zM297 723h1v1h-1zM297 717h1v1h-1zM315 725h9v1h-9zM319 721h1v9h-1zM320 726h1v1h-1zM320 724h1v1h-1zM318 726h1v1h-1zM318 724h1v1h-1zM321 727h1v1h-1zM321 723h1v1h-1zM317 727h1v1h-1zM317 723h1v1h-1zM322 728h1v1h-1zM322 722h1v1h-1zM316 728h1v1h-1zM316 722h1v1h-1zM334 725h9v1h-9zM338 721h1v9h-1zM339 726h1v1h-1zM339 724h1v1h-1zM337 726h1v1h-1zM337 724h1v1h-1zM340 727h1v1h-1zM340 723h1v1h-1zM336 727h1v1h-1zM336 723h1v1h-1zM341 728h1v1h-1zM341 722h1v1h-1zM335 728h1v1h-1zM335 722h1v1h-1zM353 725h9v1h-9zM357 721h1v9h-1zM358 726h1v1h-1zM358 724h1v1h-1zM356 726h1v1h-1zM356 724h1v1h-1zM359 727h1v1h-1zM359 723h1v1h-1zM355 727h1v1h-1zM355 723h1v1h-1zM360 728h1v1h-1zM360 722h1v1h-1zM354 728h1v1h-1zM354 722h1v1h-1z"/>
<rect x="224" y="723" width="1" height="4" fill="#000"/>
<text x="224.10" y="735.80" font-size="10" text-anchor="middle" fill="#000">0</text>
<rect x="262" y="723" width="1" height="4" fill="#000"/>
<text x="262.10" y="735.80" font-size="10" text-anchor="middle" fill="#000">2</text>
<rect x="300" y="723" width="1" height="4" fill="#000"/>
<text x="300.10" y="735.80" font-size="10" text-anchor="middle" fill="#000">4</text>
<rect x="338" y="723" width="1" height="4" fill="#000"/>
<text x="338.10" y="735.80" font-size="10" text-anchor="middle" fill="#000">6</text>
<rect x="225" y="727" width="4" height="1" fill="#000"/>
<text x="223.00" y="730.80" font-size="9.7" text-anchor="end" fill="#000" letter-spacing="-0.55">0</text>
<rect x="225" y="710" width="4" height="1" fill="#000"/>
<text x="223.00" y="713.80" font-size="9.7" text-anchor="end" fill="#000" letter-spacing="-0.55">200</text>
<rect x="225" y="694" width="4" height="1" fill="#000"/>
<text x="223.00" y="697.80" font-size="9.7" text-anchor="end" fill="#000" letter-spacing="-0.55">400</text>
<rect x="225" y="678" width="4" height="1" fill="#000"/>
<text x="223.00" y="681.80" font-size="9.7" text-anchor="end" fill="#000" letter-spacing="-0.55">600</text>
<rect x="225" y="662" width="4" height="1" fill="#000"/>
<text x="223.00" y="665.80" font-size="9.7" text-anchor="end" fill="#000" letter-spacing="-0.55">800</text>
<rect x="225" y="645" width="4" height="1" fill="#000"/>
<text x="223.00" y="648.80" font-size="9.7" text-anchor="end" fill="#000" letter-spacing="-0.55">1000</text>
<rect x="225" y="629" width="4" height="1" fill="#000"/>
<text x="223.00" y="632.80" font-size="9.7" text-anchor="end" fill="#000" letter-spacing="-0.55">1200</text>
<text x="224.30" y="618.70" font-size="10.95" text-anchor="start" fill="#000">Temperature calibration</text>
<text x="622.50" y="633.10" font-size="11.8" text-anchor="start" fill="#000" font-weight="bold">Op. Parameters</text>
<text x="622.50" y="648.20" font-size="10.8" text-anchor="start" fill="#000">VANA:</text>
<text x="713.50" y="648.20" font-size="10.8" text-anchor="start" fill="#000">137 DAC</text>
<text x="622.50" y="661.15" font-size="10.8" text-anchor="start" fill="#000">CALDEL:</text>
<text x="716.20" y="661.15" font-size="10.8" text-anchor="start" fill="#000">80 DAC</text>
<text x="622.50" y="674.10" font-size="10.8" text-anchor="start" fill="#000">VTHR:</text>
<text x="716.20" y="674.10" font-size="10.8" text-anchor="start" fill="#000">68 DAC</text>
<text x="622.50" y="687.05" font-size="10.8" text-anchor="start" fill="#000">VTRIM:</text>
<text x="713.50" y="687.05" font-size="10.8" text-anchor="start" fill="#000">136 DAC</text>
<text x="622.50" y="700.00" font-size="10.8" text-anchor="start" fill="#000">IBIAS_DAC:</text>
<text x="713.50" y="700.00" font-size="10.8" text-anchor="start" fill="#000">108 DAC</text>
<text x="622.50" y="712.95" font-size="10.8" text-anchor="start" fill="#000">VOFFSETOP:</text>
<text x="716.20" y="712.95" font-size="10.8" text-anchor="start" fill="#000">27 DAC</text>
</svg>
</body></html>
